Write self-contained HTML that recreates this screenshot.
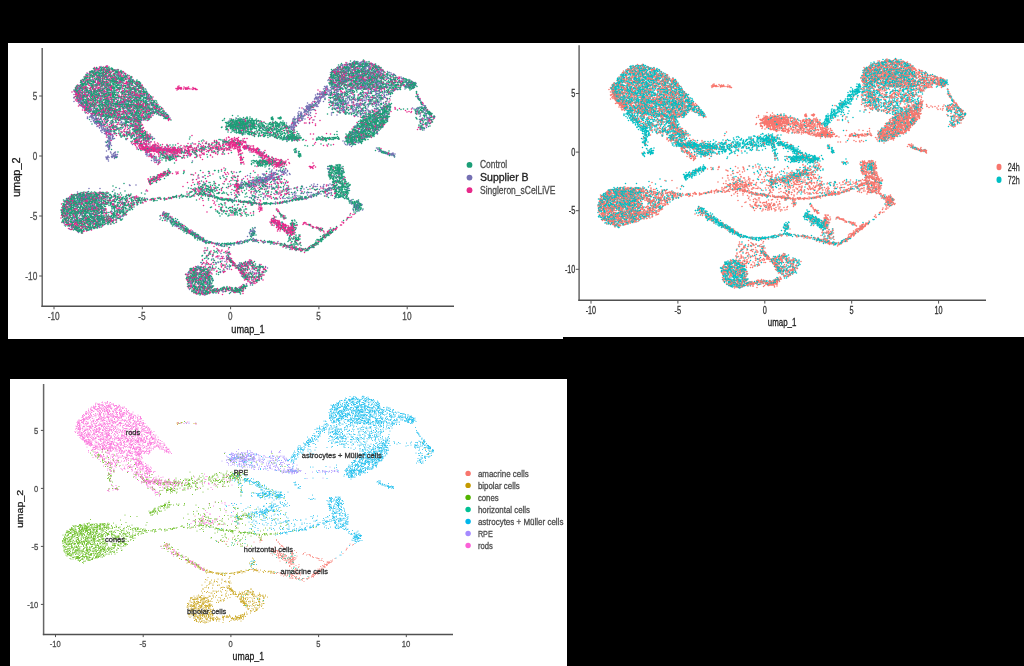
<!DOCTYPE html>
<html><head><meta charset="utf-8"><title>UMAP</title>
<style>html,body{margin:0;padding:0;background:#000;overflow:hidden}svg{display:block;font-family:"Liberation Sans",sans-serif}</style>
</head><body><svg width="1024" height="666" viewBox="0 0 1024 666"><defs><filter id="b1" x="0" y="0" width="2048" height="1332" filterUnits="userSpaceOnUse"><feGaussianBlur stdDeviation=".7"/></filter><filter id="bt" x="0" y="0" width="1024" height="666" filterUnits="userSpaceOnUse"><feGaussianBlur stdDeviation=".3"/></filter><filter id="b3" x="0" y="0" width="2048" height="1332" filterUnits="userSpaceOnUse"><feGaussianBlur stdDeviation=".5"/></filter></defs><rect width="1024" height="666" fill="#000"/><rect x="8" y="43" width="555" height="296" fill="#fff"/>
<rect x="563" y="43" width="461" height="294" fill="#fff"/>
<rect x="10" y="379" width="557" height="287" fill="#fff"/>
<path d="M42.2 48V307.05" stroke="#666" stroke-width="1.5" fill="none"/><path d="M41.45 306.3H454" stroke="#505050" stroke-width="1.5" fill="none"/><path d="M54.0 306.3v3" stroke="#505050" stroke-width="1"/><path d="M142.3 306.3v3" stroke="#505050" stroke-width="1"/><path d="M230.6 306.3v3" stroke="#505050" stroke-width="1"/><path d="M318.9 306.3v3" stroke="#505050" stroke-width="1"/><path d="M407.2 306.3v3" stroke="#505050" stroke-width="1"/><path d="M42.2 96.0h-3" stroke="#505050" stroke-width="1"/><path d="M42.2 156.0h-3" stroke="#505050" stroke-width="1"/><path d="M42.2 216.0h-3" stroke="#505050" stroke-width="1"/><path d="M42.2 276.0h-3" stroke="#505050" stroke-width="1"/>
<g transform="scale(.5)" fill="none" stroke-linecap="round" stroke-width="3.1" opacity="1.0" filter="url(#b1)"><path d="M726 122zm0 1zm2 0zm-14 2zm18 1zm-31 2zm-1 1zm-12 1zm12 1zm33 0zm-26 1zm32 0zm-527 1zm467 1zm-2 1zm-478 1zm-1 1zm-2 2zm472 1zm22 0zm17 0zm25 1zm-502 1zm480 0zm16 0zm5 0zm-494 1zm488 0zm-512 1zm1 0zm468 0zm12 0zm24 0zm-520 1zm24 0zm17 0zm-48 1zm517 0zm28 0zm15 0zm-544 1zm508 0zm-494 1zm478 0zm19 0zm-480 1zm522 0zm-566 1zm24 0zm4 0zm468 0zm75 0zm-584 1zm1 0zm41 0zm462 0zm15 0zm-529 1zm38 0zm9 0zm-23 1zm17 0zm450 0zm78 0zm-535 1zm470 0zm7 0zm18 0zm27 0zm36 0zm-578 1zm7 0zm54 0zm425 0zm44 0zm21 0zm46 0zm-569 1zm2 0zm36 0zm8 0zm491 0zm-541 1zm10 0zm39 0zm468 0zm-521 1zm19 1zm477 0zm72 0zm-540 1zm431 0zm65 0zm-554 1zm27 0zm469 0zm71 0zm7 0zm-551 1zm465 0zm4 0zm86 0zm-586 1zm23 0zm10 0zm28 0zm34 0zm452 0zm12 0zm55 0zm24 0zm-641 1zm36 0zm30 0zm455 0zm109 0zm-562 1zm6 0zm34 0zm408 0zm30 0zm-530 1zm59 0zm13 0zm429 0zm-486 1zm43 0zm12 0zm1 0zm0 0zm28 0zm400 0zm5 0zm27 0zm9 0zm-555 1zm95 0zm505 0zm22 0zm15 0zm23 0zm-629 1zm9 0zm73 0zm386 0zm37 0zm123 0zm-669 1zm57 0zm531 0zm43 0zm-588 1zm15 0zm29 0zm39 0zm442 0zm-555 1zm87 0zm2 0zm27 0zm442 0zm12 0zm60 0zm16 0zm-630 1zm42 0zm481 0zm33 0zm18 0zm-381 1zm-95 1zm92 0zm0 0zm328 0zm9 0zm28 0zm-542 1zm160 0zm13 0zm322 0zm10 0zm2 0zm41 0zm82 0zm-666 1zm18 0zm7 0zm91 0zm78 0zm5 0zm357 0zm3 0zm43 0zm30 0zm-612 1zm10 0zm73 0zm92 0zm5 0zm-148 1zm488 0zm-418 1zm391 0zm85 0zm-539 1zm1 0zm38 0zm530 0zm-639 1zm11 0zm84 0zm0 0zm8 0zm24 0zm374 0zm30 0zm95 0zm-93 1zm-532 1zm28 0zm22 0zm13 0zm66 0zm13 0zm-128 1zm97 1zm12 0zm377 0zm76 0zm-575 1zm29 0zm16 0zm15 0zm6 0zm446 0zm71 0zm-449 1zm353 0zm43 0zm-525 1zm56 0zm45 0zm40 0zm392 0zm-472 1zm45 0zm-107 1zm9 0zm82 1zm53 0zm-147 1zm91 0zm3 0zm2 0zm52 0zm-71 1zm-67 1zm22 0zm12 0zm75 0zm476 0zm15 0zm-604 1zm2 0zm14 0zm15 0zm80 0zm25 0zm388 0zm65 0zm-552 1zm577 0zm-621 1zm43 0zm7 0zm24 0zm5 0zm-70 1zm19 0zm36 0zm80 0zm-135 1zm32 0zm61 0zm404 0zm80 0zm-579 1zm109 0zm9 0zm477 0zm-495 1zm-44 1zm-57 1zm3 0zm114 0zm362 0zm111 0zm23 0zm7 0zm-579 1zm42 0zm67 0zm537 0zm-626 1zm20 0zm468 0zm45 0zm-589 1zm66 0zm58 0zm437 0zm-551 1zm38 0zm9 0zm80 0zm-134 1zm22 0zm42 0zm28 0zm18 0zm19 0zm424 0zm-520 1zm11 0zm43 0zm23 0zm497 0zm-558 1zm34 0zm460 0zm139 0zm-661 1zm436 0zm-411 1zm23 0zm17 0zm28 0zm14 0zm-43 1zm58 0zm383 0zm-512 1zm117 0zm493 0zm-618 1zm0 0zm3 0zm55 0zm28 0zm2 0zm32 0zm1 0zm-103 1zm21 0zm27 0zm7 0zm31 0zm38 0zm354 0zm8 0zm89 0zm-573 1zm83 0zm51 0zm464 0zm1 0zm-620 1zm684 0zm-690 1zm45 0zm0 0zm85 0zm-116 2zm13 0zm11 0zm5 1zm36 0zm18 0zm10 0zm2 0zm5 0zm8 0zm26 0zm1 0zm509 0zm-558 1zm503 0zm4 0zm85 0zm-671 1zm7 1zm53 0zm11 0zm45 0zm15 0zm385 0zm-510 1zm5 0zm64 0zm26 0zm44 0zm-86 1zm0 0zm39 0zm577 0zm-660 1zm117 0zm10 0zm-104 1zm-31 1zm7 0zm68 0zm15 0zm3 0zm576 0zm-644 1zm18 0zm537 0zm-556 1zm23 0zm26 0zm26 0zm7 0zm33 0zm397 0zm-445 1zm45 0zm392 0zm7 0zm2 0zm-494 1zm12 0zm52 0zm323 0zm118 0zm-500 2zm94 0zm440 0zm-520 1zm208 0zm-264 1zm8 0zm381 0zm31 0zm-24 1zm31 0zm215 0zm-546 1zm42 0zm139 0zm126 0zm173 0zm-522 1zm16 0zm246 0zm210 0zm-469 1zm206 0zm33 0zm236 0zm-457 1zm7 0zm201 0zm37 0zm-324 1zm25 0zm256 0zm250 0zm34 0zm-492 2zm209 0zm13 0zm-240 1zm481 0zm-497 1zm1 0zm5 0zm25 0zm194 0zm-252 1zm253 0zm275 0zm-532 1zm67 0zm248 0zm-311 1zm311 0zm-284 2zm229 0zm6 0zm103 0zm-353 1zm6 0zm36 0zm26 0zm194 0zm241 0zm33 0zm-278 1zm2 0zm-205 1zm3 0zm-67 1zm4 0zm26 0zm35 0zm429 0zm36 0zm-491 1zm294 0zm298 0zm-582 1zm14 0zm215 0zm-217 1zm14 0zm4 0zm288 1zm-355 1zm47 0zm4 0zm2 1zm234 1zm81 0zm-305 1zm6 0zm410 0zm-473 1zm527 0zm-244 1zm116 0zm78 0zm13 0zm-469 1zm24 0zm430 0zm-419 1zm439 0zm14 0zm-497 1zm304 0zm-318 1zm358 0zm156 0zm-445 2zm163 1zm19 0zm169 0zm49 0zm48 0zm-480 1zm30 0zm3 0zm282 0zm20 0zm70 0zm-77 1zm-128 1zm23 0zm140 0zm52 0zm23 0zm27 1zm-256 1zm-43 1zm37 0zm10 0zm113 0zm113 0zm-414 1zm163 0zm-172 1zm3 0zm116 0zm77 0zm-204 1zm179 0zm8 0zm23 0zm5 0zm-29 1zm6 0zm5 0zm13 0zm150 0zm-350 1zm19 0zm15 0zm133 0zm12 0zm0 0zm15 0zm1 0zm2 0zm3 0zm-214 1zm7 0zm82 0zm55 0zm2 0zm47 0zm6 0zm11 0zm-208 1zm23 0zm2 0zm166 0zm14 0zm155 0zm-349 1zm2 0zm3 0zm1 0zm4 0zm20 0zm2 0zm13 0zm108 0zm18 0zm9 0zm5 0zm5 0zm2 0zm-181 1zm2 0zm13 0zm147 0zm7 0zm-145 1zm125 0zm16 0zm17 0zm174 0zm-337 1zm27 0zm45 0zm13 0zm1 0zm68 0zm1 0zm1 0zm40 0zm-221 1zm24 0zm7 0zm90 0zm13 0zm0 0zm41 0zm28 0zm-204 1zm22 0zm66 0zm93 0zm31 0zm-181 1zm91 0zm70 0zm-178 1zm13 0zm1 0zm12 0zm69 0zm81 0zm22 0zm19 0zm-233 1zm5 0zm2 0zm4 0zm1 0zm8 0zm4 0zm15 0zm3 0zm78 0zm38 0zm31 0zm17 0zm3 0zm5 0zm12 0zm7 0zm1 0zm-217 1zm1 0zm1 0zm6 0zm1 0zm6 0zm2 0zm2 0zm12 0zm6 0zm3 0zm53 0zm100 0zm5 0zm1 0zm18 0zm-234 1zm0 0zm18 0zm3 0zm1 0zm6 0zm5 0zm25 0zm7 0zm0 0zm3 0zm1 0zm4 0zm4 0zm5 0zm6 0zm7 0zm60 0zm71 0zm4 0zm1 0zm2 0zm-229 1zm6 0zm16 0zm10 0zm1 0zm1 0zm2 0zm5 0zm8 0zm45 0zm24 0zm20 0zm24 0zm-145 1zm36 0zm0 0zm1 0zm3 0zm20 0zm13 0zm27 0zm5 0zm94 0zm1 0zm5 0zm0 0zm5 0zm-218 1zm17 0zm6 0zm33 0zm5 0zm22 0zm98 0zm3 0zm1 0zm31 0zm6 0zm2 0zm-200 1zm5 0zm38 0zm7 0zm34 0zm43 0zm-147 1zm14 0zm26 0zm166 0zm-186 1zm37 0zm47 0zm74 0zm34 0zm6 0zm-196 1zm11 0zm17 0zm22 0zm61 0zm53 0zm32 0zm-164 1zm2 0zm5 0zm15 0zm107 0zm46 0zm-225 1zm14 0zm63 0zm396 0zm-446 2zm9 0zm63 0zm75 0zm41 0zm-193 1zm2 0zm54 0zm40 0zm-103 2zm-14 1zm230 0zm2 0zm-188 1zm-38 1zm230 2zm-2 1zm8 0zm10 0zm6 0zm-81 1zm3 0zm53 0zm2 0zm14 0zm5 0zm-206 1zm192 1zm21 0zm7 0zm-25 1zm3 0zm0 0zm18 0zm-32 1zm3 0zm1 0zm5 0zm1 0zm15 0zm-241 1zm228 0zm4 0zm5 0zm2 0zm0 0zm10 0zm9 0zm-96 1zm33 0zm40 0zm4 0zm11 0zm-48 1zm32 0zm7 0zm1 0zm3 0zm-6 1zm-243 1zm234 0zm3 0zm4 0zm1 1zm0 0zm15 0zm-17 1zm2 0zm-2 1zm-42 1zm36 0zm4 0zm11 0zm54 0zm6 1zm-177 2zm123 1zm-203 4zm139 1zm-177 3zm-3 1zm0 1zm6 0zm93 1zm-98 1zm-8 1zm1 0zm195 0zm-198 1zm148 1zm-59 2zm268 0zm-360 1zm-4 1zm1 1zm-1 1zm3 0zm4 0zm135 0zm102 0zm-250 1zm3 0zm1 0zm197 0zm20 1zm-221 1zm108 1zm109 0zm-222 1zm7 0zm225 0zm-125 1zm123 0zm-155 1zm21 0zm117 0zm-213 2zm146 0zm31 1zm5 0zm-181 1zm171 0zm36 0zm31 0zm-141 1zm7 0zm64 0zm6 0zm0 0zm3 0zm189 1zm-256 1zm-45 1zm55 0zm54 0zm58 0zm-56 1zm-80 1zm78 0zm2 0zm0 0zm22 0zm48 0zm-91 1zm22 0zm60 0zm-109 1zm46 0zm2 0zm111 0zm90 0zm-282 1zm148 0zm12 0zm64 0zm-217 1zm-7 1zm115 0zm-91 1zm23 0zm109 0zm-257 1zm256 0zm9 0zm-83 1zm127 0zm-230 1zm27 0zm38 1zm114 0zm5 0zm4 0zm-398 1zm33 0zm5 0zm300 0zm-314 1zm-10 1zm221 0zm5 0zm-215 1zm17 0zm336 0zm149 0zm-159 2zm133 0zm-482 1zm90 0zm110 0zm43 0zm198 0zm-271 1zm-161 1zm154 0zm-191 1zm3 0zm16 0zm163 0zm105 0zm-288 1zm291 0zm65 0zm-375 1zm4 0zm120 0zm184 0zm118 0zm51 0zm-424 1zm101 0zm32 0zm13 0zm120 0zm-316 1zm43 0zm261 0zm-272 1zm114 0zm16 0zm-85 1zm191 0zm-260 1zm34 0zm2 0zm3 0zm324 0zm-381 1zm7 0zm33 0zm41 0zm365 0zm-92 1zm10 0zm-345 1zm25 0zm80 0zm246 0zm57 0zm-407 1zm11 0zm4 0zm21 0zm23 0zm6 0zm31 0zm12 0zm262 0zm16 0zm28 0zm-429 1zm116 0zm254 0zm19 0zm10 0zm16 0zm-415 1zm3 0zm53 0zm329 0zm12 0zm-389 1zm1 0zm9 0zm326 0zm-249 1zm8 0zm0 0zm266 0zm16 0zm-330 1zm-34 1zm-27 1zm6 0zm3 0zm109 0zm13 0zm-72 1zm76 0zm-85 1zm2 0zm6 0zm62 0zm273 0zm-314 1zm27 0zm11 0zm280 0zm-385 1zm-13 1zm1 0zm73 0zm12 0zm23 0zm-55 1zm18 0zm49 0zm274 0zm-371 1zm16 0zm28 0zm18 0zm308 0zm2 0zm-389 1zm43 0zm283 0zm11 0zm-314 2zm45 1zm1 0zm11 0zm28 1zm227 0zm33 1zm58 0zm-432 1zm107 0zm-6 1zm101 0zm-138 1zm142 1zm129 0zm-141 1zm-88 1zm99 0zm-92 1zm-42 1zm8 0zm15 0zm123 0zm223 0zm136 0zm-513 1zm507 0zm-561 1zm17 0zm184 0zm232 0zm-437 1zm53 0zm12 0zm146 0zm201 0zm-337 1zm20 0zm320 0zm-4 2zm7 0zm-398 1zm11 0zm58 0zm334 0zm-395 1zm31 0zm7 0zm347 0zm3 0zm-418 1zm16 0zm14 0zm386 0zm-326 1zm320 0zm9 0zm10 0zm-12 1zm2 0zm2 0zm1 0zm-399 1zm26 0zm21 0zm349 0zm58 0zm0 0zm-442 1zm9 0zm19 0zm363 0zm-335 1zm329 0zm35 0zm-450 1zm418 0zm14 0zm3 0zm51 0zm-484 1zm68 0zm366 0zm110 0zm-313 1zm223 0zm3 0zm-446 1zm19 0zm38 0zm360 0zm-399 1zm4 0zm393 0zm-1 1zm1 0zm3 0zm2 0zm4 0zm14 0zm-442 1zm12 0zm1 0zm14 0zm18 0zm438 0zm-61 1zm26 0zm44 0zm-486 1zm407 0zm4 0zm9 0zm8 0zm7 0zm54 0zm2 0zm-53 1zm-406 1zm375 0zm19 0zm2 0zm7 0zm-4 1zm-418 1zm12 0zm204 0zm-211 1zm213 0zm200 0zm-426 1zm11 0zm419 0zm71 0zm-76 1zm5 0zm0 0zm63 0zm-265 1zm197 0zm-201 1zm7 0zm192 0zm3 0zm0 0zm4 0zm77 0zm-80 1zm-1 1zm2 2zm-190 2zm1 1zm256 0zm-251 2zm90 7zm-10 2zm51 0zm-52 1zm123 0zm33 2zm-72 1zm66 2zm-190 1zm4 0zm127 1zm8 1zm42 0zm-30 2zm28 0zm9 0zm-216 1zm178 0zm-2 1zm5 1zm0 0zm7 0zm8 0zm-7 1zm2 2zm1 0zm-162 3zm-13 2zm-8 2zm6 2zm32 0zm-1 6zm-1 2zm3 0zm5 3zm1 0zm0 2zm1 0zm32 0zm0 1zm-90 1zm60 0zm24 0zm5 0zm-84 2zm58 1zm-42 1zm41 1zm38 0zm-34 1zm6 0zm11 0zm-5 1zm-77 1zm74 0zm8 0zm1 0zm5 0zm12 0zm8 0zm-105 1zm32 0zm83 0zm-76 1zm26 0zm-2 1zm39 1zm-26 1zm9 0zm-10 2zm-98 1zm-8 1zm2 0zm24 1zm78 0zm-1 1zm4 0zm40 0zm-80 1zm-56 1zm118 1zm-23 1zm24 0zm-114 1zm23 1zm87 0zm-84 3zm65 0zm7 0zm24 0zm-127 1zm103 0zm6 0zm6 0zm1 0zm-121 1zm29 0zm84 1zm-109 2zm19 0zm102 0zm-119 1zm126 1zm-131 1zm9 0zm15 0zm101 0zm-132 1zm1 0zm21 0zm-26 1zm32 0zm2 0zm3 0zm86 1zm-92 1zm3 0zm11 1zm82 0zm-100 1zm107 0zm-128 3zm17 2zm84 0zm6 0zm-114 1zm24 1zm7 1zm12 1zm53 0zm13 0zm-49 1zm12 0zm-55 2zm4 0zm5 0zm44 0zm9 0zm-44 1zm20 1zm27 0zm27 0zm-60 1zm5 0zm24 0zm13 0zm14 0zm-96 1zm64 0zm-50 1zm22 0zm48 0zm-80 1zm4 0zm15 0zm-19 1zm19 0zm-14 2z" stroke="#E7298A"/><path d="M706 126zm-4 1zm16 0zm18 0zm-29 1zm36 0zm-15 1zm3 0zm3 0zm5 0zm-54 1zm44 0zm2 0zm0 1zm-16 2zm10 0zm-47 1zm9 1zm41 0zm18 1zm-48 1zm11 0zm31 0zm-50 1zm66 0zm-552 1zm467 0zm10 0zm35 0zm-483 1zm506 0zm-541 1zm497 0zm22 0zm47 0zm3 1zm-560 1zm10 0zm447 0zm6 0zm16 0zm36 0zm7 0zm5 0zm6 0zm8 0zm-70 1zm4 0zm27 0zm3 0zm1 0zm31 0zm-502 1zm433 0zm0 0zm30 0zm-457 1zm445 0zm10 0zm11 0zm1 0zm67 0zm-545 1zm455 0zm22 1zm73 0zm-121 1zm83 0zm-551 1zm10 0zm24 0zm493 0zm17 0zm2 0zm15 0zm-508 1zm439 0zm38 0zm27 0zm1 0zm-42 2zm22 0zm14 0zm-23 1zm-20 1zm18 0zm-501 1zm27 0zm412 0zm83 0zm-35 1zm25 0zm26 0zm41 0zm2 0zm-112 1zm116 0zm-641 1zm50 1zm454 0zm60 0zm23 0zm44 0zm-556 1zm439 0zm20 0zm1 0zm25 0zm-544 1zm495 0zm9 0zm31 0zm63 0zm-518 1zm430 0zm0 0zm14 0zm21 0zm70 0zm-610 1zm12 0zm521 0zm28 0zm27 0zm46 0zm-68 1zm7 0zm11 1zm40 0zm-129 1zm17 0zm27 0zm22 0zm1 0zm53 0zm20 0zm-653 1zm23 0zm64 0zm563 0zm-586 1zm8 0zm453 0zm69 0zm43 0zm20 0zm3 0zm-673 2zm7 0zm116 0zm418 0zm98 0zm30 0zm5 0zm-610 1zm458 0zm41 0zm15 0zm16 0zm-529 1zm426 0zm77 0zm87 0zm-596 1zm17 0zm503 0zm19 0zm11 0zm-93 1zm10 0zm35 0zm42 0zm-520 1zm24 0zm402 0zm2 0zm48 0zm76 0zm-569 1zm15 0zm27 0zm384 0zm114 0zm62 0zm-611 1zm29 0zm403 0zm4 0zm16 0zm8 0zm4 0zm2 0zm4 0zm2 0zm35 0zm-569 1zm133 0zm-135 1zm501 0zm46 0zm88 0zm-128 1zm43 0zm49 1zm19 0zm-561 1zm497 0zm36 0zm-585 1zm492 0zm53 0zm70 0zm-608 1zm51 0zm447 0zm9 0zm99 0zm-474 1zm345 0zm7 0zm26 0zm54 0zm25 0zm-583 1zm481 0zm1 0zm107 0zm-530 1zm420 0zm7 0zm-507 1zm542 0zm27 0zm17 0zm34 0zm5 0zm-612 1zm479 0zm5 0zm6 0zm39 0zm-471 1zm41 0zm10 0zm388 0zm15 0zm11 0zm-482 1zm445 0zm2 0zm51 0zm-546 1zm488 0zm2 0zm54 0zm27 0zm112 0zm-643 1zm7 0zm1 0zm24 0zm408 0zm12 0zm20 0zm14 0zm28 0zm25 0zm12 0zm24 0zm-537 1zm399 0zm11 0zm54 0zm23 0zm-571 1zm11 0zm472 0zm35 0zm6 0zm23 0zm54 0zm8 0zm3 0zm5 0zm-115 1zm25 0zm32 0zm-484 1zm406 0zm97 0zm-566 1zm60 0zm452 0zm47 0zm35 0zm21 0zm-620 1zm31 0zm71 0zm458 0zm-524 1zm448 0zm72 0zm-555 1zm1 0zm480 0zm52 0zm3 0zm40 0zm42 0zm-626 1zm8 0zm5 0zm14 0zm460 0zm0 0zm55 0zm25 0zm-459 1zm35 0zm372 0zm19 0zm68 0zm-489 1zm368 0zm4 0zm58 0zm66 0zm-586 1zm1 0zm5 0zm438 0zm17 0zm63 0zm9 0zm138 0zm-612 1zm66 0zm420 0zm22 0zm13 0zm-519 1zm48 0zm28 0zm317 0zm69 0zm-446 1zm370 0zm90 0zm4 0zm23 0zm13 0zm-564 1zm560 0zm12 0zm20 0zm-582 1zm16 0zm492 0zm11 0zm3 0zm-552 1zm454 0zm3 0zm146 0zm82 0zm-607 1zm27 0zm350 0zm99 0zm51 0zm-510 1zm356 0zm11 0zm61 0zm-486 1zm72 0zm43 0zm298 0zm2 0zm3 0zm-449 1zm429 0zm122 0zm-535 1zm82 0zm345 0zm60 0zm1 0zm43 0zm-545 1zm66 0zm432 0zm158 0zm-631 1zm37 0zm60 0zm321 0zm97 0zm1 0zm-457 1zm9 0zm442 0zm71 0zm59 0zm-563 1zm338 0zm67 0zm29 0zm-98 1zm0 0zm2 0zm109 0zm7 0zm9 0zm119 0zm0 0zm-678 1zm26 0zm405 0zm226 0zm-657 1zm535 0zm2 0zm136 0zm-595 1zm352 0zm-437 1zm522 0zm138 0zm-614 1zm6 0zm81 0zm455 0zm-547 1zm26 0zm41 0zm38 0zm284 0zm164 0zm-576 2zm108 0zm312 0zm112 0zm1 0zm-450 1zm52 0zm274 0zm129 0zm-511 1zm381 0zm129 0zm-544 1zm145 0zm280 0zm-394 1zm551 0zm-489 1zm329 0zm-429 1zm425 0zm267 0zm-679 1zm8 0zm57 0zm341 0zm-410 1zm7 0zm413 0zm125 1zm-432 1zm307 0zm24 0zm101 0zm22 0zm106 0zm-578 1zm-92 1zm11 0zm7 0zm544 0zm-561 1zm5 0zm6 0zm81 0zm315 0zm-399 1zm26 0zm48 0zm315 0zm256 0zm-649 1zm6 0zm1 0zm535 0zm-536 1zm546 0zm116 0zm-648 1zm65 0zm320 0zm125 0zm29 0zm0 0zm93 0zm15 0zm-652 1zm544 0zm-548 1zm42 1zm272 0zm74 0zm-383 1zm271 0zm259 0zm7 0zm0 0zm-543 2zm384 0zm180 0zm-563 1zm1 0zm378 0zm127 0zm16 0zm41 0zm-40 1zm114 0zm-641 1zm647 0zm-100 1zm-542 1zm7 0zm373 0zm-363 1zm12 0zm9 0zm39 0zm-76 1zm7 0zm5 0zm517 0zm14 0zm-475 1zm11 0zm-76 1zm1 0zm12 0zm325 0zm167 0zm-501 1zm1 0zm505 1zm14 0zm10 0zm-487 1zm-44 1zm7 0zm0 0zm312 0zm171 0zm-443 1zm463 0zm-123 1zm-338 1zm446 0zm-493 1zm12 0zm502 0zm-448 2zm2 0zm-55 1zm48 0zm20 1zm0 0zm430 0zm-508 1zm4 0zm5 0zm38 0zm317 1zm-361 1zm1 0zm9 0zm51 0zm-63 1zm2 0zm359 1zm-307 1zm1 0zm441 0zm-10 2zm2 0zm-490 1zm1 0zm57 0zm1 0zm18 0zm-21 2zm427 0zm13 0zm-6 2zm1 0zm-431 1zm15 0zm409 1zm9 0zm-215 1zm-280 1zm-1 1zm5 0zm83 1zm194 0zm-97 1zm-178 2zm128 0zm150 0zm256 0zm-458 1zm32 0zm61 0zm-39 1zm-131 1zm190 0zm111 0zm-198 1zm11 0zm11 0zm9 0zm41 0zm-99 1zm91 1zm377 0zm-464 1zm40 0zm420 0zm10 0zm-547 1zm10 0zm269 0zm270 0zm-541 1zm541 0zm-1 1zm8 0zm-435 2zm178 0zm265 0zm5 0zm-490 1zm1 1zm2 0zm294 0zm187 1zm4 0zm-564 1zm70 0zm-71 1zm3 0zm8 0zm-9 1zm78 0zm-90 1zm95 0zm17 0zm-13 5zm2 0zm236 1zm-2 1zm126 8zm-12 2zm-3 6zm-89 2zm0 1zm5 0zm93 2zm-120 2zm-4 1zm28 0zm114 0zm-139 1zm32 0zm-51 2zm40 0zm-73 2zm47 0zm19 0zm117 0zm-178 1zm32 1zm-127 1zm141 0zm-25 1zm14 0zm14 0zm-17 1zm-45 1zm42 0zm1 0zm4 0zm9 0zm-24 1zm2 0zm-5 1zm23 0zm1 0zm6 0zm2 0zm2 0zm-24 1zm1 0zm7 0zm-10 1zm3 0zm4 0zm-20 1zm1 1zm14 0zm0 0zm1 0zm8 0zm-38 1zm7 0zm8 1zm10 0zm1 0zm-112 2zm95 0zm177 1zm-198 1zm6 0zm11 0zm25 0zm108 0zm-156 1zm-219 1zm237 0zm10 0zm5 0zm145 0zm30 0zm-184 1zm0 0zm6 0zm138 0zm-173 1zm9 0zm20 0zm125 0zm13 0zm-98 1zm62 0zm42 0zm19 0zm1 0zm-121 1zm-60 1zm-247 1zm309 0zm115 0zm-55 1zm-36 1zm80 0zm-219 1zm260 0zm-269 1zm151 0zm120 0zm-403 1zm-137 2zm49 1zm309 0zm73 1zm-413 1zm8 0zm1 0zm372 1zm73 0zm-164 1zm-304 1zm345 0zm123 0zm-482 1zm517 0zm-492 1zm53 0zm282 0zm25 0zm-365 1zm64 0zm282 0zm173 0zm-528 1zm9 0zm347 0zm76 0zm93 0zm-510 1zm25 0zm306 0zm-333 1zm-20 1zm11 0zm18 0zm105 0zm11 0zm141 0zm135 0zm120 0zm-413 2zm-101 1zm-16 1zm295 0zm54 0zm-341 1zm0 0zm77 0zm328 0zm142 0zm-524 1zm-18 1zm527 0zm-538 1zm-25 2zm35 0zm374 0zm165 0zm-182 1zm191 0zm-568 1zm93 0zm468 0zm8 0zm-447 1zm438 1zm-542 1zm544 0zm1 0zm-1 1zm-586 2zm56 0zm10 0zm515 0zm9 1zm-458 2zm-127 1zm70 1zm-65 2zm37 0zm54 0zm-21 2zm-54 1zm-18 1zm59 1zm143 0zm-207 2zm-7 1zm69 0zm141 0zm-194 1zm26 0zm82 0zm-50 2zm6 1zm20 2zm-51 2zm375 2zm-374 1zm178 0zm-163 1zm-7 1zm14 0zm149 1zm-144 4zm-20 1zm-30 2zm30 2zm15 0zm157 0zm1 0zm-215 4zm0 1zm228 0zm5 1zm1 1zm1 0zm1 0zm1 0zm-218 2zm212 0zm134 1zm1 1zm-120 2zm124 0zm-128 1zm4 0zm0 1zm115 0zm3 0zm-106 4zm-1 2zm2 0zm-8 1zm123 4zm-18 2zm15 0zm4 0zm-102 1zm-3 2zm122 0zm5 0zm-114 1zm107 0zm-103 1zm5 1zm3 0zm27 0zm21 0zm-49 1zm4 0zm15 0zm95 0zm2 0zm-107 1zm0 0zm16 0zm-15 1zm128 1zm-123 2zm175 2zm-6 3zm1 0zm-205 15zm44 0zm-1 4zm-40 1zm46 0zm-8 1zm47 1zm-39 3zm-31 2zm-10 4zm60 0zm-4 1zm-22 2zm1 1zm63 0zm-116 1zm3 1zm99 0zm5 1zm-4 1zm-105 1zm92 0zm-109 4zm57 1zm0 2zm86 0zm-8 1zm-131 1zm12 0zm-7 2zm115 0zm-117 1zm98 1zm-71 1zm65 0zm6 2zm1 0zm4 0zm-100 2zm21 0zm-12 1zm88 0zm32 1zm-104 2zm-23 1zm12 0zm-30 3zm6 2zm25 0zm92 1zm-114 4zm-1 1zm15 3zm-7 1zm24 0zm61 1zm-60 1zm11 0zm3 0zm19 0zm-46 2zm19 0zm51 1zm-85 3zm8 0zm47 0zm-35 1zm4 1z" stroke="#7570B3"/><path d="M727 123zm-11 1zm13 1zm-15 2zm20 0zm5 0zm3 0zm-14 1zm12 0zm-6 1zm5 0zm-2 2zm15 0zm-21 1zm-42 1zm0 0zm5 0zm7 0zm3 0zm20 0zm3 0zm-1 1zm-533 1zm8 0zm10 0zm4 0zm463 0zm8 0zm68 0zm8 0zm-556 1zm2 0zm15 0zm454 0zm68 0zm-52 1zm1 0zm44 0zm-56 1zm57 0zm5 0zm9 0zm9 0zm-548 1zm3 0zm7 0zm470 0zm10 0zm0 0zm12 0zm41 0zm-522 1zm439 0zm31 0zm11 0zm20 0zm7 0zm9 0zm-547 1zm14 0zm450 0zm6 0zm1 0zm11 0zm12 0zm20 0zm5 0zm13 0zm16 0zm11 0zm-575 1zm500 0zm5 0zm23 0zm-491 1zm468 0zm7 0zm24 0zm-50 1zm48 0zm11 0zm12 0zm13 0zm-562 1zm16 0zm20 0zm441 0zm12 0zm2 0zm70 0zm-553 1zm13 0zm446 0zm-476 1zm11 0zm22 0zm15 0zm14 0zm423 0zm19 0zm1 0zm3 0zm31 0zm2 0zm11 0zm17 0zm-506 1zm417 0zm20 0zm53 0zm-541 1zm461 0zm69 0zm18 0zm-568 1zm17 0zm13 0zm17 0zm8 0zm6 0zm457 0zm42 0zm1 0zm34 0zm-590 1zm35 0zm17 0zm21 0zm413 0zm8 0zm15 0zm14 0zm31 0zm19 0zm8 0zm-577 1zm13 0zm2 0zm45 0zm2 0zm412 0zm43 0zm5 0zm5 0zm7 0zm28 0zm-566 1zm29 0zm25 0zm449 0zm21 0zm11 0zm3 0zm31 0zm4 0zm-570 1zm17 0zm16 0zm5 0zm5 0zm1 0zm2 0zm29 0zm418 0zm6 0zm19 0zm18 0zm11 0zm15 0zm2 0zm34 0zm-611 1zm22 0zm29 0zm7 0zm12 0zm433 0zm7 0zm4 0zm1 0zm33 0zm17 0zm0 0zm48 0zm-105 1zm12 0zm25 0zm19 0zm37 0zm-607 1zm10 0zm14 0zm30 0zm17 0zm439 0zm7 0zm5 0zm8 0zm5 0zm1 0zm7 0zm28 0zm11 0zm3 0zm12 0zm15 0zm-566 1zm47 0zm398 0zm16 0zm16 0zm25 0zm1 0zm20 0zm42 0zm32 0zm-636 1zm25 0zm14 0zm18 0zm19 0zm529 0zm2 0zm4 0zm31 0zm-637 1zm3 0zm33 0zm1 0zm13 0zm11 0zm469 0zm2 0zm21 0zm-571 1zm17 0zm1 0zm24 0zm37 0zm6 0zm426 0zm27 0zm5 0zm1 0zm64 0zm18 0zm-602 1zm57 0zm444 0zm5 0zm16 0zm48 0zm1 0zm40 0zm-623 1zm8 0zm5 0zm25 0zm18 0zm4 0zm25 0zm4 0zm1 0zm4 0zm393 0zm21 0zm56 0zm6 0zm18 0zm18 0zm31 0zm12 0zm-635 1zm15 0zm61 0zm9 0zm3 0zm385 0zm19 0zm1 0zm4 0zm7 0zm34 0zm58 0zm24 0zm-648 1zm35 0zm44 0zm15 0zm422 0zm9 0zm56 0zm49 0zm22 0zm11 0zm1 0zm2 0zm-620 1zm34 0zm6 0zm26 0zm389 0zm5 0zm10 0zm75 0zm55 0zm-641 1zm33 0zm2 0zm26 0zm6 0zm430 0zm1 0zm11 0zm0 0zm39 0zm3 0zm1 0zm48 0zm49 0zm17 0zm-665 1zm29 0zm12 0zm19 0zm433 0zm17 0zm1 0zm27 0zm21 0zm26 0zm71 0zm-596 1zm11 0zm17 0zm17 0zm3 0zm0 0zm3 0zm388 0zm5 0zm13 0zm58 0zm72 0zm1 0zm3 0zm3 0zm-656 1zm17 0zm12 0zm33 0zm9 0zm11 0zm15 0zm398 0zm37 0zm56 0zm3 0zm10 0zm8 0zm47 0zm-613 1zm25 0zm33 0zm410 0zm34 0zm37 0zm46 0zm23 0zm2 0zm12 0zm-677 1zm10 0zm22 0zm6 0zm11 0zm16 0zm15 0zm468 0zm51 0zm10 0zm32 0zm8 0zm24 0zm-623 1zm44 0zm31 0zm389 0zm40 0zm23 0zm88 0zm1 0zm8 0zm7 0zm-666 1zm14 0zm3 0zm31 0zm11 0zm15 0zm17 0zm13 0zm0 0zm6 0zm491 0zm48 0zm-665 1zm77 0zm28 0zm423 0zm25 0zm10 0zm48 0zm51 0zm7 0zm-650 1zm5 0zm61 0zm1 0zm453 0zm43 0zm2 0zm2 0zm20 0zm29 0zm38 0zm-656 1zm1 0zm36 0zm20 0zm13 0zm16 0zm11 0zm14 0zm440 0zm9 0zm27 0zm24 0zm-613 1zm1 0zm5 0zm12 0zm56 0zm422 0zm39 0zm40 0zm1 0zm17 0zm27 0zm-590 1zm2 0zm34 0zm27 0zm10 0zm409 0zm48 0zm74 0zm-653 1zm24 0zm10 0zm37 0zm43 0zm12 0zm418 0zm128 0zm-670 1zm14 0zm15 0zm9 0zm15 0zm1 0zm19 0zm38 0zm388 0zm103 0zm33 0zm-629 1zm36 0zm4 0zm5 0zm38 0zm430 0zm68 0zm11 0zm-536 1zm0 0zm31 0zm29 0zm14 0zm2 0zm4 0zm401 0zm53 0zm8 0zm11 0zm68 0zm-679 1zm12 0zm41 0zm11 0zm27 0zm1 0zm10 0zm14 0zm444 0zm50 0zm69 0zm-679 1zm7 0zm16 0zm1 0zm15 0zm28 0zm1 0zm8 0zm31 0zm9 0zm22 0zm377 0zm22 0zm30 0zm21 0zm32 0zm-588 1zm11 0zm21 0zm25 0zm31 0zm13 0zm386 0zm15 0zm1 0zm54 0zm-579 1zm32 0zm7 0zm9 0zm70 0zm0 0zm495 0zm56 0zm-645 1zm23 0zm18 0zm18 0zm27 0zm446 0zm58 0zm-625 1zm23 0zm5 0zm4 0zm11 0zm22 0zm33 0zm3 0zm4 0zm3 0zm36 0zm364 0zm9 0zm9 0zm-522 1zm5 0zm65 0zm44 0zm3 0zm403 0zm32 0zm-551 1zm28 0zm31 0zm51 0zm501 0zm-597 1zm18 0zm9 0zm14 0zm24 0zm11 0zm-80 1zm5 0zm7 0zm15 0zm30 0zm49 0zm27 0zm374 0zm-435 1zm8 0zm29 0zm3 0zm392 0zm32 0zm-537 1zm23 0zm31 0zm8 0zm46 0zm15 0zm429 0zm-557 1zm43 0zm5 0zm3 0zm10 0zm26 0zm24 0zm9 0zm16 0zm363 0zm-461 1zm13 0zm17 0zm34 0zm16 0zm17 0zm364 0zm10 0zm45 0zm-561 1zm5 0zm25 0zm3 0zm24 0zm61 0zm402 0zm30 0zm3 0zm-543 1zm42 0zm9 0zm45 0zm7 0zm382 0zm36 0zm-511 1zm1 0zm16 0zm23 0zm27 0zm8 0zm1 0zm22 0zm3 0zm2 0zm402 0zm23 0zm136 0zm-658 1zm37 0zm17 0zm23 0zm11 0zm7 0zm11 0zm399 0zm34 0zm-533 1zm25 0zm68 0zm27 0zm-112 1zm9 0zm30 0zm20 0zm3 0zm25 0zm406 0zm53 0zm-582 1zm14 0zm17 0zm10 0zm11 0zm2 0zm13 0zm39 0zm486 0zm-576 1zm20 0zm17 0zm23 0zm4 0zm11 0zm11 0zm1 0zm20 0zm8 0zm11 0zm406 0zm135 0zm-652 1zm14 0zm6 0zm1 0zm21 0zm31 0zm10 0zm411 0zm37 0zm-559 1zm12 0zm0 0zm4 0zm11 0zm3 0zm11 0zm54 0zm18 0zm20 0zm450 0zm27 0zm-588 1zm34 0zm11 0zm45 0zm2 0zm3 0zm13 0zm437 0zm-549 1zm3 0zm16 0zm0 0zm9 0zm6 0zm21 0zm8 0zm7 0zm422 0zm14 0zm2 0zm1 0zm64 0zm10 0zm82 0zm-645 1zm37 0zm9 0zm7 0zm-54 1zm6 0zm17 0zm4 0zm37 0zm5 0zm24 0zm6 0zm17 0zm348 0zm7 0zm-500 1zm5 0zm13 0zm10 0zm34 0zm9 0zm33 0zm444 0zm-549 1zm11 0zm50 0zm13 0zm27 0zm0 0zm432 0zm4 0zm13 0zm27 0zm-507 1zm466 0zm13 0zm53 0zm4 0zm-562 1zm19 0zm14 0zm26 0zm3 0zm7 0zm26 0zm473 0zm-536 1zm15 0zm40 0zm14 0zm388 0zm54 0zm-579 1zm36 0zm7 0zm54 0zm38 0zm381 0zm33 0zm26 0zm13 0zm72 0zm14 0zm-656 1zm17 0zm10 0zm24 0zm38 0zm490 0zm0 0zm-593 1zm11 0zm26 0zm13 0zm44 0zm47 0zm363 0zm88 0zm59 0zm9 0zm-654 1zm87 0zm9 0zm20 0zm0 0zm9 0zm7 0zm441 0zm35 0zm-622 1zm26 0zm16 0zm2 0zm59 0zm6 0zm44 0zm356 0zm63 0zm99 0zm-638 1zm33 0zm16 0zm7 0zm15 0zm14 0zm3 0zm18 0zm1 0zm3 0zm358 0zm66 0zm20 0zm-584 1zm16 0zm26 0zm10 0zm62 0zm34 0zm292 0zm60 0zm93 0zm2 0zm2 0zm73 0zm-676 1zm9 0zm9 0zm1 0zm27 0zm76 0zm18 0zm379 0zm21 0zm10 0zm34 0zm-567 1zm20 0zm23 0zm5 0zm35 0zm2 0zm2 0zm1 0zm34 0zm6 0zm380 0zm20 0zm37 0zm17 0zm68 0zm-641 1zm8 0zm5 0zm30 0zm49 0zm13 0zm17 0zm13 0zm349 0zm9 0zm20 0zm24 0zm20 0zm1 0zm16 0zm71 0zm17 0zm-641 1zm5 0zm13 0zm1 0zm25 0zm10 0zm6 0zm15 0zm415 0zm23 0zm7 0zm19 0zm3 0zm0 0zm2 0zm0 0zm3 0zm1 0zm9 0zm-570 1zm66 0zm2 0zm22 0zm1 0zm33 0zm285 0zm90 0zm46 0zm9 0zm20 0zm55 0zm-643 1zm36 0zm3 0zm10 0zm4 0zm54 0zm26 0zm380 0zm43 0zm13 0zm100 0zm-653 1zm2 0zm11 0zm13 0zm6 0zm16 0zm9 0zm5 0zm2 0zm25 0zm443 0zm37 0zm-561 1zm8 0zm26 0zm503 0zm4 0zm97 0zm-654 1zm67 0zm25 0zm2 0zm8 0zm1 0zm408 0zm23 0zm22 0zm18 0zm-590 1zm26 0zm51 0zm37 0zm38 0zm414 0zm31 0zm-531 1zm33 0zm12 0zm207 0zm230 0zm33 0zm4 0zm10 0zm-560 1zm20 0zm18 0zm75 0zm2 0zm4 0zm389 0zm1 0zm46 0zm-538 1zm42 0zm13 0zm183 0zm71 0zm13 0zm192 0zm9 0zm3 0zm-551 1zm22 0zm20 0zm0 0zm17 0zm2 0zm6 0zm22 0zm33 0zm4 0zm159 0zm109 0zm230 0zm-597 1zm28 0zm8 0zm11 0zm14 0zm163 0zm26 0zm18 0zm56 0zm173 0zm3 0zm17 0zm2 0zm79 0zm9 0zm-664 1zm23 0zm67 0zm6 0zm13 0zm179 0zm14 0zm4 0zm2 0zm57 0zm2 0zm186 0zm7 0zm7 0zm5 0zm15 0zm73 0zm27 0zm-634 1zm18 0zm4 0zm88 0zm122 0zm7 0zm13 0zm0 0zm4 0zm58 0zm175 0zm-484 1zm36 0zm10 0zm162 0zm30 0zm20 0zm9 0zm2 0zm11 0zm232 0zm6 0zm13 0zm-493 1zm205 0zm5 0zm13 0zm15 0zm8 0zm45 0zm165 0zm2 0zm24 0zm9 0zm-575 1zm24 0zm17 0zm39 0zm6 0zm195 0zm9 0zm3 0zm5 0zm24 0zm204 0zm33 0zm13 0zm-562 1zm42 0zm12 0zm25 0zm176 0zm17 0zm3 0zm12 0zm14 0zm43 0zm189 0zm10 0zm5 0zm1 0zm2 0zm1 0zm10 0zm1 0zm76 0zm25 0zm-628 1zm219 0zm13 0zm25 0zm1 0zm1 0zm45 0zm7 0zm193 0zm18 0zm13 0zm-309 1zm24 0zm52 0zm10 0zm176 0zm19 0zm5 0zm19 0zm-566 1zm48 0zm2 0zm203 0zm6 0zm8 0zm4 0zm2 0zm0 0zm6 0zm1 0zm1 0zm9 0zm21 0zm31 0zm11 0zm172 0zm10 0zm2 0zm12 0zm9 0zm4 0zm95 0zm-612 1zm224 0zm2 0zm8 0zm3 0zm0 0zm5 0zm1 0zm1 0zm0 0zm1 0zm1 0zm16 0zm1 0zm24 0zm0 0zm23 0zm166 0zm5 0zm8 0zm7 0zm22 0zm1 0zm1 0zm-557 1zm35 0zm19 0zm201 0zm5 0zm7 0zm3 0zm4 0zm8 0zm13 0zm1 0zm8 0zm24 0zm3 0zm197 0zm27 0zm81 0zm-372 1zm10 0zm1 0zm3 0zm0 0zm14 0zm22 0zm20 0zm10 0zm-289 1zm193 0zm1 0zm4 0zm4 0zm7 0zm6 0zm22 0zm6 0zm1 0zm11 0zm48 0zm5 0zm143 0zm7 0zm5 0zm13 0zm2 0zm9 0zm4 0zm-303 1zm23 0zm2 0zm2 0zm1 0zm6 0zm0 0zm13 0zm4 0zm24 0zm28 0zm37 0zm121 0zm6 0zm3 0zm12 0zm0 0zm24 0zm85 0zm-384 1zm0 0zm34 0zm18 0zm5 0zm8 0zm21 0zm25 0zm183 0zm103 0zm-645 1zm12 0zm9 0zm236 0zm13 0zm3 0zm2 0zm1 0zm3 0zm15 0zm21 0zm2 0zm13 0zm11 0zm11 0zm166 0zm3 0zm-501 1zm9 0zm34 0zm168 0zm36 0zm30 0zm31 0zm32 0zm160 0zm19 0zm6 0zm0 0zm3 0zm86 0zm0 0zm-639 1zm35 0zm233 0zm6 0zm3 0zm1 0zm23 0zm25 0zm177 0zm4 0zm18 0zm6 0zm2 0zm103 0zm-608 1zm219 0zm18 0zm12 0zm5 0zm13 0zm6 0zm1 0zm4 0zm42 0zm162 0zm2 0zm8 0zm15 0zm-473 1zm218 0zm0 0zm4 0zm34 0zm11 0zm3 0zm22 0zm159 0zm35 0zm85 0zm-388 1zm1 0zm48 0zm25 0zm27 0zm177 0zm21 0zm2 0zm-484 1zm4 0zm4 0zm3 0zm176 0zm22 0zm3 0zm15 0zm22 0zm9 0zm26 0zm153 0zm5 0zm1 0zm17 0zm1 0zm2 0zm-494 1zm33 0zm197 0zm11 0zm4 0zm3 0zm44 0zm26 0zm29 0zm124 0zm14 0zm1 0zm4 0zm4 0zm26 0zm-484 1zm5 0zm6 0zm179 0zm16 0zm42 0zm38 0zm162 0zm16 0zm4 0zm-488 1zm15 0zm2 0zm207 0zm20 0zm17 0zm38 0zm2 0zm9 0zm15 0zm4 0zm11 0zm120 0zm9 0zm1 0zm16 0zm8 0zm0 0zm-498 1zm206 0zm22 0zm9 0zm224 0zm2 0zm9 0zm13 0zm-475 1zm12 0zm202 0zm31 0zm47 0zm17 0zm-279 1zm237 0zm22 0zm3 0zm7 0zm2 0zm13 0zm130 0zm20 0zm4 0zm17 0zm1 0zm7 0zm0 0zm-472 1zm203 0zm34 0zm15 0zm2 0zm6 0zm29 0zm14 0zm114 0zm0 0zm3 0zm4 0zm13 0zm1 0zm0 0zm-489 1zm43 0zm2 0zm263 0zm48 0zm126 0zm25 0zm0 0zm-469 1zm15 0zm203 0zm54 0zm4 0zm32 0zm10 0zm83 0zm54 0zm24 0zm-446 1zm184 0zm43 0zm3 0zm21 0zm31 0zm10 0zm119 0zm20 0zm15 0zm-456 1zm237 0zm3 0zm4 0zm26 0zm8 0zm8 0zm123 0zm35 0zm6 0zm-220 1zm47 0zm14 0zm120 0zm7 0zm19 0zm12 0zm5 0zm-464 1zm236 0zm23 0zm10 0zm2 0zm21 0zm4 0zm1 0zm0 0zm3 0zm63 0zm61 0zm18 0zm9 0zm8 0zm-463 1zm24 0zm79 0zm177 0zm23 0zm0 0zm1 0zm4 0zm4 0zm1 0zm1 0zm114 0zm2 0zm8 0zm18 0zm9 0zm-458 1zm252 0zm42 0zm11 0zm4 0zm1 0zm52 0zm13 0zm48 0zm25 0zm1 0zm-438 1zm279 0zm8 0zm2 0zm2 0zm1 0zm2 0zm0 0zm1 0zm66 0zm10 0zm35 0zm22 0zm-428 1zm279 0zm5 0zm9 0zm88 0zm45 0zm6 0zm2 0zm-503 1zm50 0zm296 0zm4 0zm13 0zm4 0zm2 0zm38 0zm1 0zm5 0zm11 0zm11 0zm1 0zm47 0zm4 0zm-425 1zm9 0zm270 0zm24 0zm16 0zm29 0zm0 0zm72 0zm23 0zm-289 1zm4 0zm150 0zm9 0zm28 0zm18 0zm52 0zm28 0zm-438 1zm400 0zm2 0zm11 0zm0 0zm3 0zm-444 1zm10 0zm212 0zm218 0zm-435 1zm23 0zm169 0zm-192 1zm176 0zm260 0zm16 0zm-509 1zm219 0zm-156 2zm427 0zm0 0zm-279 1zm218 0zm62 0zm-422 1zm141 0zm7 1zm275 0zm-79 1zm-407 3zm185 0zm91 0zm-2 1zm-60 1zm323 0zm3 0zm-447 1zm108 0zm14 0zm158 0zm-148 1zm36 0zm-167 1zm146 0zm300 0zm-434 1zm18 0zm95 0zm79 0zm74 0zm-221 1zm18 0zm373 0zm-466 1zm53 0zm8 0zm7 0zm13 0zm386 0zm-246 1zm-223 1zm55 0zm417 0zm-445 1zm6 0zm1 0zm136 0zm66 0zm63 0zm171 0zm11 0zm-406 1zm-45 1zm52 0zm143 0zm257 0zm2 0zm-387 1zm136 0zm75 0zm175 0zm-454 1zm26 0zm439 1zm-459 1zm6 0zm22 0zm11 0zm230 0zm182 0zm8 0zm-190 1zm192 0zm-447 1zm16 0zm-26 1zm3 0zm6 0zm0 0zm177 0zm81 0zm-267 2zm6 0zm1 0zm7 0zm18 0zm-26 1zm209 0zm-207 1zm0 1zm1 0zm3 0zm195 0zm4 0zm-30 2zm17 0zm0 0zm9 0zm-36 1zm6 0zm12 0zm3 0zm2 0zm1 0zm11 0zm-22 1zm0 0zm14 1zm4 0zm-19 1zm4 0zm17 0zm30 0zm-53 1zm6 0zm21 0zm8 0zm-28 1zm5 0zm8 0zm4 0zm-55 1zm34 0zm19 0zm8 0zm-11 1zm8 0zm11 0zm127 0zm-159 1zm2 0zm37 0zm6 0zm-40 1zm1 1zm137 0zm2 0zm-96 1zm92 0zm6 0zm-4 1zm18 0zm-6 1zm4 0zm-3 1zm-14 1zm13 0zm-136 1zm118 0zm-95 2zm98 0zm15 0zm6 0zm-342 1zm326 0zm13 0zm2 0zm-236 1zm226 0zm-136 1zm145 0zm1 0zm-311 1zm69 0zm222 0zm6 0zm17 0zm-353 1zm333 0zm0 0zm8 0zm8 0zm-18 1zm6 0zm0 0zm7 0zm-334 1zm337 0zm2 0zm-348 1zm226 0zm112 0zm9 0zm5 0zm-285 2zm260 0zm25 0zm-359 1zm4 0zm83 0zm252 1zm-187 1zm189 0zm-224 1zm92 0zm135 0zm4 0zm3 0zm3 0zm-4 2zm-367 1zm232 0zm123 0zm18 0zm2 0zm-118 1zm97 0zm7 0zm-281 1zm133 0zm10 0zm137 0zm-182 2zm191 0zm-375 1zm226 0zm47 0zm97 0zm-242 1zm-128 1zm380 0zm-380 1zm367 0zm6 0zm-265 1zm93 0zm23 0zm1 0zm148 0zm11 0zm13 0zm-16 1zm11 0zm-244 1zm46 0zm32 0zm167 0zm-304 1zm20 0zm1 0zm72 0zm-61 1zm68 0zm203 0zm-279 1zm17 0zm239 0zm30 0zm-30 1zm-212 1zm12 0zm57 0zm94 0zm0 0zm69 0zm6 0zm2 0zm-291 1zm146 0zm2 0zm123 0zm5 0zm-203 1zm1 0zm196 0zm1 0zm2 0zm1 0zm12 0zm2 0zm-317 1zm13 0zm9 0zm32 0zm104 0zm161 0zm-314 1zm17 0zm17 0zm16 0zm45 0zm45 0zm81 0zm-216 1zm13 0zm14 0zm158 0zm83 0zm-251 1zm16 0zm156 0zm94 0zm1 0zm14 0zm9 0zm-286 1zm1 0zm269 0zm2 0zm-267 1zm76 0zm106 0zm58 0zm19 0zm12 0zm13 0zm-447 1zm166 0zm116 0zm-355 1zm239 0zm9 0zm95 0zm134 0zm38 0zm-309 1zm148 0zm33 0zm45 0zm63 0zm-255 1zm-236 1zm34 0zm68 0zm107 0zm11 0zm7 0zm45 0zm186 0zm42 0zm1 0zm12 0zm1 0zm0 0zm-539 1zm3 0zm19 0zm14 0zm186 0zm56 0zm3 0zm136 0zm64 0zm21 0zm-501 1zm4 0zm7 0zm7 0zm8 0zm24 0zm188 0zm96 0zm42 0zm141 0zm16 0zm-538 1zm3 0zm13 0zm22 0zm221 0zm10 0zm-260 1zm12 0zm3 0zm5 0zm12 0zm6 0zm12 0zm42 0zm125 0zm247 0zm5 0zm52 0zm2 0zm-541 1zm114 0zm109 0zm40 0zm17 0zm266 0zm-532 1zm13 0zm25 0zm1 0zm10 0zm6 0zm155 0zm44 0zm95 0zm94 0zm72 0zm9 0zm-533 1zm42 0zm69 0zm107 0zm50 0zm3 0zm1 0zm147 0zm51 0zm4 0zm59 0zm-491 1zm4 0zm6 0zm0 0zm26 0zm120 0zm35 0zm49 0zm148 0zm7 0zm17 0zm8 0zm69 0zm8 0zm-543 1zm136 0zm156 0zm111 0zm65 0zm62 0zm-531 1zm5 0zm23 0zm33 0zm5 0zm67 0zm13 0zm26 0zm44 0zm241 0zm10 0zm-477 1zm8 0zm35 0zm9 0zm8 0zm113 0zm11 0zm11 0zm77 0zm192 0zm0 0zm5 0zm3 0zm-441 1zm4 0zm52 0zm42 0zm70 0zm108 0zm3 0zm1 0zm1 0zm4 0zm78 0zm8 0zm20 0zm42 0zm97 0zm-535 1zm3 0zm8 0zm2 0zm70 0zm22 0zm333 0zm100 0zm-570 1zm8 0zm5 0zm41 0zm22 0zm1 0zm0 0zm23 0zm6 0zm18 0zm38 0zm2 0zm38 0zm64 0zm53 0zm15 0zm1 0zm15 0zm-347 1zm18 0zm9 0zm40 0zm24 0zm50 0zm0 0zm8 0zm10 0zm19 0zm2 0zm153 0zm2 0zm1 0zm-333 1zm9 0zm22 0zm25 0zm75 0zm170 0zm23 0zm6 0zm3 0zm1 0zm33 0zm69 0zm131 0zm-570 1zm11 0zm37 0zm80 0zm220 0zm13 0zm226 0zm-571 1zm11 0zm20 0zm15 0zm4 0zm370 0zm5 0zm142 0zm1 0zm-568 1zm1 0zm9 0zm2 0zm2 0zm18 0zm11 0zm46 0zm11 0zm240 0zm2 0zm13 0zm5 0zm27 0zm26 0zm6 0zm-412 1zm19 0zm4 0zm1 0zm13 0zm15 0zm34 0zm6 0zm3 0zm21 0zm180 0zm54 0zm4 0zm0 0zm20 0zm3 0zm11 0zm11 0zm156 0zm8 0zm-577 1zm5 0zm5 0zm3 0zm14 0zm4 0zm1 0zm8 0zm1 0zm14 0zm21 0zm6 0zm1 0zm26 0zm194 0zm91 0zm0 0zm7 0zm0 0zm177 0zm-554 1zm23 0zm30 0zm41 0zm-130 1zm30 0zm40 0zm3 0zm66 0zm9 0zm435 0zm-582 1zm10 0zm47 0zm82 0zm443 0zm8 0zm5 0zm-579 1zm25 0zm17 0zm10 0zm12 0zm56 0zm448 0zm3 0zm1 0zm-573 1zm7 0zm30 0zm45 0zm10 0zm-107 1zm28 0zm75 0zm2 0zm13 0zm16 0zm456 0zm1 0zm-584 1zm6 0zm2 0zm12 0zm7 0zm28 0zm14 0zm24 0zm40 0zm443 0zm0 0zm5 0zm2 0zm-587 1zm3 0zm21 0zm17 0zm10 0zm48 0zm15 0zm14 0zm162 0zm32 0zm255 0zm8 0zm-589 1zm41 0zm6 0zm11 0zm4 0zm0 0zm524 0zm9 0zm-593 1zm39 0zm17 0zm12 0zm7 0zm48 0zm465 0zm5 0zm-591 1zm5 0zm6 0zm39 0zm43 0zm5 0zm27 0zm187 0zm48 0zm221 0zm14 0zm-599 1zm6 0zm2 0zm5 0zm20 0zm5 0zm8 0zm5 0zm2 0zm23 0zm56 0zm214 0zm-338 1zm11 0zm2 0zm32 0zm5 0zm1 0zm48 0zm5 0zm8 0zm214 0zm27 0zm-365 1zm14 0zm11 0zm8 0zm20 0zm1 0zm57 0zm22 0zm209 0zm5 0zm8 0zm-345 1zm14 0zm3 0zm1 0zm9 0zm10 0zm17 0zm2 0zm34 0zm7 0zm13 0zm12 0zm189 0zm10 0zm258 0zm6 0zm0 0zm-566 1zm11 0zm4 0zm15 0zm65 0zm-120 1zm31 0zm16 0zm48 0zm486 0zm-573 1zm8 0zm75 0zm17 0zm234 0zm5 0zm-349 1zm11 0zm4 0zm15 0zm2 0zm48 0zm7 0zm16 0zm331 0zm-431 1zm9 0zm0 0zm5 0zm3 0zm3 0zm1 0zm34 0zm20 0zm-72 1zm3 0zm13 0zm23 0zm11 0zm2 0zm5 0zm45 0zm241 0zm87 0zm-397 1zm25 0zm44 0zm99 0zm150 0zm-349 1zm12 0zm48 0zm2 0zm7 0zm32 0zm11 0zm91 0zm228 0zm136 0zm-567 1zm56 0zm2 0zm293 0zm-325 1zm6 0zm7 0zm31 0zm25 0zm16 0zm249 0zm-364 1zm38 0zm6 0zm10 0zm40 0zm-98 1zm9 0zm6 0zm6 0zm44 0zm16 0zm28 0zm99 0zm-208 1zm11 0zm20 0zm32 0zm18 0zm-71 1zm11 0zm31 0zm26 0zm32 0zm337 0zm-433 1zm22 0zm12 0zm2 0zm13 0zm6 0zm4 0zm2 0zm5 0zm-51 1zm17 0zm3 0zm5 0zm11 0zm6 0zm3 0zm23 0zm10 0zm113 0zm1 0zm-204 1zm31 0zm1 0zm20 0zm48 0zm-84 1zm4 0zm26 0zm7 0zm4 0zm7 0zm4 0zm5 0zm5 0zm110 0zm-199 1zm19 0zm1 0zm7 0zm0 0zm9 0zm17 0zm6 0zm8 0zm9 0zm20 0zm114 0zm346 0zm-546 1zm12 0zm8 0zm2 0zm9 0zm3 0zm14 0zm24 0zm5 0zm5 0zm111 0zm-182 1zm12 0zm18 0zm2 0zm2 0zm1 0zm162 0zm4 0zm-211 1zm12 0zm2 0zm4 0zm48 0zm7 0zm128 0zm242 0zm-458 1zm24 0zm22 0zm19 0zm33 0zm-90 1zm10 0zm40 0zm7 0zm-57 1zm21 0zm3 0zm11 0zm17 0zm5 0zm396 0zm-407 1zm9 0zm1 0zm152 0zm5 0zm235 0zm-439 1zm1 0zm71 0zm132 0zm11 0zm-191 1zm25 0zm8 0zm145 0zm15 0zm184 0zm43 0zm-26 1zm23 0zm0 0zm-446 1zm18 0zm5 0zm9 0zm6 0zm20 0zm-47 1zm4 0zm16 0zm25 0zm392 0zm-443 1zm28 0zm31 0zm-59 1zm3 0zm31 0zm402 0zm-400 1zm3 0zm12 0zm178 0zm214 0zm0 0zm38 0zm-454 1zm187 0zm229 0zm51 0zm29 0zm4 0zm-517 1zm0 0zm19 0zm189 1zm219 0zm62 0zm-465 1zm188 0zm202 0zm8 0zm0 0zm6 0zm77 0zm7 0zm5 0zm-511 1zm6 0zm211 0zm207 0zm4 0zm-431 1zm1 0zm1 0zm4 0zm216 0zm-1 1zm203 0zm84 0zm-290 1zm9 0zm121 0zm160 0zm-287 1zm282 0zm0 0zm3 0zm-498 1zm211 0zm13 0zm110 0zm8 0zm-121 1zm122 0zm1 0zm146 0zm6 0zm-269 3zm1 1zm256 0zm-148 1zm91 0zm-201 1zm257 0zm-258 1zm113 0zm-109 1zm203 0zm50 0zm2 0zm2 0zm-252 1zm6 2zm1 0zm172 0zm1 0zm6 0zm-185 1zm5 0zm231 0zm4 0zm1 0zm-236 1zm94 0zm10 0zm1 0zm83 0zm-85 1zm-100 1zm2 0zm228 0zm-220 1zm74 0zm22 0zm12 0zm9 0zm56 0zm51 0zm-147 1zm31 0zm-112 1zm7 0zm54 0zm61 0zm6 0zm-125 1zm39 0zm20 0zm51 0zm-115 1zm18 0zm15 0zm5 0zm3 0zm11 0zm10 0zm79 0zm9 0zm68 0zm-170 1zm140 0zm33 0zm-197 1zm0 0zm156 0zm36 0zm-195 1zm133 0zm3 0zm12 0zm2 0zm44 0zm-59 1zm61 0zm-180 1zm5 0zm115 0zm11 0zm-13 1zm7 1zm16 1zm4 2zm21 1zm-35 1zm17 0zm1 0zm7 0zm1 0zm9 0zm-10 2zm0 0zm5 1zm-8 1zm-167 3zm20 4zm-41 4zm41 1zm-1 2zm6 1zm0 2zm-55 1zm56 2zm48 0zm-73 1zm-34 1zm93 0zm-29 1zm38 0zm-37 1zm44 1zm-19 1zm-2 1zm-1 1zm31 0zm-59 1zm14 0zm29 0zm16 1zm6 0zm-94 1zm27 0zm46 0zm-105 1zm2 0zm110 0zm1 0zm7 0zm-13 1zm7 0zm-131 1zm27 0zm16 0zm11 0zm-39 1zm101 0zm-93 1zm4 0zm80 1zm28 0zm-127 1zm-5 1zm1 0zm2 0zm20 0zm124 0zm-146 1zm97 0zm-94 1zm94 0zm-68 1zm71 1zm-74 1zm88 0zm-15 1zm-97 1zm48 0zm66 0zm-128 1zm31 0zm92 0zm-112 1zm3 0zm16 0zm-24 1zm30 0zm77 0zm17 0zm7 0zm-135 1zm11 0zm24 0zm73 0zm3 0zm30 0zm-139 1zm9 0zm11 0zm13 0zm3 0zm84 0zm4 0zm11 0zm2 0zm-142 1zm8 0zm17 0zm0 0zm110 0zm-132 1zm7 0zm30 0zm3 0zm71 0zm20 0zm-95 1zm-32 1zm42 0zm95 0zm-143 1zm14 0zm4 0zm0 0zm6 0zm-12 1zm18 0zm107 0zm-107 1zm2 0zm10 0zm0 0zm9 0zm89 0zm-139 1zm2 0zm135 0zm-105 1zm102 0zm0 0zm-100 1zm4 0zm1 0zm99 0zm-136 2zm36 1zm-29 1zm31 3zm-28 1zm27 0zm12 0zm-16 1zm9 0zm4 0zm60 0zm-107 1zm12 0zm18 0zm10 0zm-20 1zm7 0zm67 0zm-71 1zm9 0zm13 0zm42 0zm1 0zm16 0zm6 0zm-97 1zm16 0zm2 0zm8 0zm25 0zm39 0zm11 0zm-103 1zm57 0zm2 0zm5 0zm34 0zm-92 1zm7 0zm39 0zm34 0zm-85 1zm48 0zm34 0zm2 0zm3 0zm11 0zm-87 1zm14 0zm7 0zm14 0zm8 0zm32 0zm-64 1zm14 0zm9 0zm40 0zm11 0zm-95 1zm14 0zm73 0zm-84 1zm33 0zm3 0zm7 0zm39 0zm2 0zm-62 1zm6 0zm5 0zm35 0zm-67 1zm87 0zm-83 1zm5 0zm-7 1zm15 1zm1 0z" stroke="#1B9E77"/><path d="M715 123zm10 0zm7 1zm-11 1zm-27 1zm11 0zm3 0zm4 1zm-19 1zm8 0zm44 0zm-47 1zm13 0zm37 0zm-64 1zm33 0zm-18 1zm32 0zm-518 1zm494 0zm13 0zm-19 1zm8 0zm-33 1zm37 0zm7 0zm32 0zm2 0zm3 1zm-57 1zm8 0zm11 0zm-524 1zm515 0zm20 0zm-39 1zm30 1zm0 0zm-524 2zm537 0zm5 0zm-7 1zm-550 1zm577 0zm-566 1zm473 0zm22 0zm27 0zm-531 1zm572 0zm-523 1zm497 0zm4 0zm-531 1zm41 0zm519 0zm-69 1zm9 0zm12 0zm-527 1zm48 0zm482 0zm8 0zm-47 1zm36 0zm13 0zm-554 1zm63 0zm481 0zm0 0zm1 0zm61 0zm6 0zm-59 1zm44 0zm-572 1zm486 1zm23 0zm94 0zm-89 1zm-42 1zm19 0zm17 0zm10 0zm-38 1zm5 0zm24 0zm95 0zm-133 1zm6 0zm13 0zm18 0zm19 0zm19 0zm6 0zm-94 1zm29 0zm9 0zm17 0zm-20 1zm20 0zm8 0zm16 0zm13 0zm35 0zm-128 1zm67 0zm8 0zm8 0zm-542 1zm42 0zm434 0zm8 0zm5 0zm26 0zm5 0zm4 0zm22 0zm70 0zm5 0zm-644 1zm500 0zm42 0zm14 0zm2 0zm13 0zm-530 1zm459 0zm13 0zm110 0zm-562 1zm24 0zm407 0zm3 0zm129 0zm17 0zm6 0zm-99 1zm20 0zm74 0zm6 0zm-629 1zm534 0zm94 0zm-645 1zm499 0zm8 0zm27 0zm63 0zm-495 1zm441 0zm8 0zm64 0zm23 0zm-653 1zm34 0zm560 0zm63 0zm7 0zm-667 1zm26 0zm470 1zm14 0zm1 0zm34 0zm3 0zm8 0zm10 0zm5 0zm54 0zm37 0zm-155 1zm48 0zm3 0zm95 0zm-600 1zm68 0zm374 0zm2 0zm15 0zm44 0zm9 0zm25 0zm6 0zm9 0zm12 0zm52 0zm-614 1zm448 0zm7 0zm27 0zm22 0zm8 0zm50 0zm-93 1zm22 0zm27 0zm22 1zm-589 1zm541 0zm6 0zm24 0zm7 0zm68 0zm-645 1zm512 0zm19 0zm2 0zm100 0zm-611 1zm473 0zm2 1zm91 0zm-537 1zm453 0zm81 0zm9 0zm-610 1zm514 0zm-451 1zm432 0zm118 0zm-602 1zm488 0zm5 0zm84 0zm4 0zm-59 1zm40 0zm-545 1zm117 0zm409 0zm52 0zm-119 1zm10 0zm2 0zm72 0zm-561 1zm103 0zm377 0zm28 0zm4 0zm10 0zm96 0zm59 0zm-191 1zm18 0zm89 0zm-569 1zm93 0zm21 0zm438 0zm-573 1zm17 0zm544 0zm31 1zm-592 1zm38 0zm437 0zm38 0zm7 0zm-428 1zm379 0zm113 0zm22 0zm3 0zm64 0zm1 0zm-549 1zm397 0zm-397 1zm354 0zm37 0zm68 0zm-451 1zm335 0zm69 0zm6 0zm60 0zm-551 1zm53 0zm447 0zm3 0zm27 0zm96 0zm-677 1zm521 0zm-524 1zm16 0zm40 0zm452 0zm32 0zm-403 1zm338 0zm-420 1zm415 0zm52 0zm1 0zm42 0zm16 0zm101 0zm-138 1zm51 0zm-596 1zm4 0zm1 0zm497 0zm4 0zm14 0zm-374 1zm333 0zm36 0zm7 0zm71 0zm-10 1zm-76 1zm8 0zm3 0zm0 0zm7 0zm-512 1zm40 0zm64 0zm346 0zm8 0zm4 0zm38 0zm14 0zm-415 1zm358 0zm46 0zm57 0zm45 0zm-616 1zm66 0zm13 0zm32 0zm342 0zm12 0zm-461 1zm3 0zm70 0zm62 0zm5 0zm380 0zm-511 1zm438 0zm24 0zm-470 1zm3 0zm103 0zm14 0zm419 0zm10 0zm125 0zm-624 1zm7 0zm23 0zm35 0zm343 0zm149 0zm-607 1zm449 0zm7 0zm89 0zm-520 1zm64 0zm50 0zm313 0zm136 0zm80 0zm-227 1zm73 0zm6 0zm-66 1zm78 0zm55 0zm-548 1zm49 0zm363 0zm6 0zm7 0zm114 0zm108 0zm-632 1zm-45 1zm1 0zm46 0zm463 0zm20 0zm2 0zm125 0zm21 0zm-676 1zm52 0zm382 0zm3 0zm108 0zm-491 1zm384 0zm133 0zm-551 1zm57 0zm8 0zm403 0zm77 0zm-416 1zm276 0zm10 0zm5 0zm4 0zm151 0zm-583 1zm48 0zm485 0zm-536 1zm18 0zm393 0zm142 0zm29 0zm4 0zm78 0zm-667 1zm109 0zm439 0zm46 0zm-593 1zm83 0zm54 0zm353 0zm37 0zm37 0zm105 0zm-664 1zm419 0zm13 0zm91 0zm-529 1zm9 0zm413 0zm254 0zm-667 1zm10 0zm39 0zm366 0zm137 0zm-565 1zm90 0zm320 0zm276 0zm3 0zm-676 1zm21 0zm68 1zm15 0zm44 0zm259 0zm-403 1zm391 0zm9 0zm7 0zm138 0zm-549 1zm394 0zm3 0zm2 0zm4 0zm-405 1zm3 0zm51 0zm43 0zm447 0zm107 0zm2 0zm18 0zm-596 1zm340 0zm122 0zm119 0zm17 0zm-676 1zm30 0zm65 0zm-79 1zm22 0zm47 0zm323 0zm-413 1zm61 0zm489 0zm-145 1zm1 0zm259 0zm-619 1zm363 0zm265 0zm-660 1zm82 0zm-80 1zm25 0zm363 0zm175 0zm-559 2zm5 0zm376 0zm159 0zm-536 1zm382 0zm256 0zm-642 1zm52 0zm18 0zm225 0zm56 0zm201 0zm-558 1zm78 0zm184 0zm124 0zm145 0zm20 0zm8 1zm-482 1zm7 0zm300 0zm8 0zm-389 1zm31 0zm3 0zm230 0zm7 0zm114 0zm-377 1zm278 0zm40 1zm212 0zm-155 1zm170 0zm-534 1zm47 0zm10 0zm-56 1zm539 0zm-556 1zm509 2zm12 0zm-506 1zm536 1zm-544 2zm3 0zm9 0zm266 0zm-276 1zm544 0zm-537 1zm7 0zm28 0zm41 0zm-73 1zm489 1zm18 0zm-26 1zm-477 1zm54 0zm23 0zm424 0zm-507 1zm24 0zm22 0zm19 0zm2 0zm19 0zm293 1zm-380 2zm1 0zm6 0zm72 0zm12 0zm415 0zm4 0zm-509 1zm2 0zm487 0zm-435 2zm423 0zm7 0zm2 0zm1 0zm-435 1zm-55 1zm481 0zm-478 2zm1 0zm484 0zm17 0zm-25 1zm8 0zm13 1zm-499 1zm58 0zm10 0zm418 0zm3 0zm-486 1zm44 1zm-46 1zm-3 1zm94 0zm21 3zm-114 1zm2 1zm90 0zm191 0zm-203 1zm14 0zm18 0zm-30 1zm457 0zm-444 2zm-21 1zm82 0zm387 1zm3 1zm4 0zm-537 3zm287 0zm269 0zm-559 1zm67 0zm479 0zm11 0zm-378 1zm-182 1zm7 0zm4 0zm57 0zm-61 1zm549 0zm-438 1zm-110 1zm-16 1zm14 0zm115 0zm-133 1zm22 0zm71 0zm-81 1zm5 0zm-16 1zm91 0zm6 4zm-7 1zm7 0zm-2 1zm5 0zm72 0zm-72 3zm250 2zm97 4zm-4 2zm26 1zm0 0zm-6 3zm-132 3zm142 1zm-10 1zm-112 3zm4 1zm-150 1zm131 0zm109 0zm-120 2zm42 0zm-37 1zm3 0zm2 0zm-4 1zm126 2zm-154 1zm37 0zm-52 1zm17 0zm31 0zm1 0zm-10 1zm3 0zm4 0zm-8 1zm140 0zm-144 1zm6 0zm-6 1zm4 0zm8 0zm-16 1zm3 0zm12 0zm129 0zm-177 1zm12 0zm7 0zm8 0zm4 1zm19 1zm144 0zm-177 1zm13 0zm-38 1zm65 0zm-24 1zm-131 1zm92 1zm24 0zm112 0zm-369 2zm13 0zm251 0zm133 0zm-176 1zm18 1zm-16 1zm25 0zm32 0zm92 0zm40 0zm9 0zm-85 1zm51 0zm-169 1zm136 0zm63 1zm-498 1zm22 0zm310 0zm65 0zm100 0zm23 0zm-297 1zm193 0zm56 0zm-140 2zm150 1zm-16 1zm5 0zm-76 1zm17 0zm25 1zm-1 1zm9 0zm40 0zm-115 2zm59 0zm-451 1zm74 0zm182 0zm114 0zm64 0zm65 0zm-495 1zm425 0zm-375 1zm445 0zm-490 1zm424 0zm105 0zm-531 1zm470 0zm-11 1zm-431 1zm77 0zm263 0zm8 0zm82 0zm-455 1zm86 0zm18 0zm229 0zm66 0zm39 0zm19 0zm48 0zm-534 1zm34 0zm395 0zm45 0zm86 0zm-536 1zm6 0zm4 0zm266 0zm6 0zm26 0zm97 0zm24 0zm-439 1zm12 0zm3 0zm14 0zm427 0zm-396 1zm304 0zm-355 1zm1 0zm65 0zm-73 1zm3 0zm306 0zm-318 1zm13 0zm337 1zm-364 1zm42 0zm379 0zm14 0zm-33 3zm16 0zm-365 1zm533 0zm2 0zm-580 1zm120 0zm-96 1zm41 0zm504 0zm7 0zm7 0zm-560 1zm550 0zm2 0zm-523 1zm-49 2zm27 0zm11 0zm539 0zm-566 4zm46 2zm521 0zm6 0zm-591 1zm70 0zm-40 1zm2 2zm79 0zm-88 1zm6 2zm21 0zm29 0zm-74 1zm9 1zm46 0zm40 0zm91 0zm-132 1zm49 3zm4 0zm95 0zm-3 2zm-192 1zm24 0zm63 0zm95 0zm16 1zm-194 2zm14 0zm33 1zm8 0zm346 0zm-415 1zm206 1zm-152 1zm-35 1zm38 0zm0 0zm372 1zm-349 1zm338 0zm9 0zm-210 2zm-200 1zm-24 1zm78 0zm144 0zm2 1zm201 0zm-407 1zm203 0zm215 2zm5 1zm-63 3zm-122 4zm116 0zm68 0zm-197 1zm136 0zm-124 2zm115 0zm-115 4zm5 0zm1 1zm7 3zm109 4zm0 0zm1 0zm-108 1zm6 0zm0 1zm98 1zm-84 4zm3 0zm116 0zm-69 2zm-40 1zm4 0zm6 0zm-3 1zm42 0zm-21 1zm4 0zm-20 2zm-26 9zm44 4zm-50 2zm33 1zm17 1zm-24 4zm13 5zm13 3zm1 2zm1 1zm36 1zm-62 1zm-4 1zm57 1zm-79 3zm70 0zm2 1zm-87 1zm91 0zm44 1zm-138 2zm142 1zm-142 2zm115 0zm12 0zm-137 1zm24 0zm101 0zm-22 2zm39 2zm-148 2zm26 0zm79 0zm26 0zm-90 1zm95 0zm-106 2zm106 0zm-24 1zm1 0zm8 0zm-10 1zm-76 3zm4 0zm-13 1zm18 0zm-27 1zm-12 1zm14 0zm123 1zm-141 2zm12 1zm31 2zm-39 2zm11 0zm108 0zm-85 1zm-38 1zm125 0zm-106 3zm25 2zm-18 1zm-3 2zm77 1zm-12 4zm-28 2zm-45 2zm34 3zm10 0zm-26 3z" stroke="#7570B3"/><path d="M738 123zm-30 1zm5 0zm1 2zm12 1zm-13 1zm3 0zm24 0zm11 0zm-44 1zm2 1zm15 0zm8 0zm18 1zm1 0zm-31 1zm13 0zm24 0zm-50 1zm1 0zm7 0zm34 0zm-69 1zm16 0zm8 0zm2 0zm7 0zm13 0zm6 0zm7 0zm2 0zm7 0zm1 0zm2 0zm2 0zm-59 1zm9 0zm8 0zm29 0zm11 0zm-71 1zm36 0zm45 0zm-75 1zm13 0zm47 0zm1 0zm-539 1zm469 0zm33 0zm17 0zm28 0zm-92 1zm9 0zm1 0zm3 0zm6 0zm16 0zm13 0zm1 0zm27 0zm-524 1zm15 0zm447 0zm8 0zm42 0zm39 0zm-549 1zm538 0zm10 0zm-570 1zm523 0zm31 0zm3 0zm6 0zm-573 1zm0 0zm11 0zm29 0zm16 0zm3 0zm422 0zm24 0zm40 0zm-545 1zm482 0zm3 0zm2 0zm41 0zm3 0zm35 0zm18 0zm-572 1zm25 0zm12 0zm2 0zm433 0zm55 0zm12 0zm5 0zm38 0zm-597 1zm18 0zm472 0zm21 0zm4 0zm4 0zm56 0zm4 0zm-533 1zm2 0zm453 0zm31 0zm16 0zm-526 1zm8 0zm15 0zm3 0zm460 0zm34 0zm15 0zm28 0zm-585 1zm37 0zm18 0zm426 0zm44 0zm7 0zm1 0zm17 0zm4 0zm20 0zm-573 1zm24 0zm3 0zm7 0zm9 0zm7 0zm435 0zm1 0zm14 0zm22 0zm3 0zm23 0zm6 0zm9 0zm4 0zm24 0zm2 0zm-536 1zm428 0zm5 0zm32 0zm1 0zm62 0zm23 0zm-603 1zm53 0zm421 0zm5 0zm18 0zm18 0zm21 0zm3 0zm10 0zm8 0zm1 0zm-534 1zm1 0zm8 0zm8 0zm24 0zm436 0zm83 0zm-604 1zm2 0zm0 0zm2 0zm23 0zm14 0zm3 0zm30 0zm425 0zm5 0zm31 0zm29 0zm9 0zm-566 1zm5 0zm16 0zm47 0zm416 0zm3 0zm65 0zm35 0zm-584 1zm83 0zm404 0zm25 0zm0 0zm49 0zm38 0zm14 0zm1 0zm-622 1zm19 0zm35 0zm445 0zm7 0zm35 0zm8 0zm5 0zm24 0zm30 0zm-608 1zm25 0zm11 0zm20 0zm30 0zm6 0zm453 0zm-550 1zm20 0zm7 0zm25 0zm25 0zm2 0zm2 0zm430 0zm1 0zm42 0zm11 0zm8 0zm7 0zm44 0zm2 0zm22 0zm-608 1zm22 0zm17 0zm22 0zm406 0zm30 0zm17 0zm7 0zm23 0zm-576 1zm22 0zm25 0zm4 0zm1 0zm7 0zm10 0zm5 0zm14 0zm4 0zm408 0zm2 0zm15 0zm0 0zm7 0zm32 0zm2 0zm0 0zm3 0zm0 0zm11 0zm65 0zm-572 1zm29 0zm6 0zm425 0zm92 0zm1 0zm28 0zm-644 1zm5 0zm49 0zm27 0zm423 0zm4 0zm4 0zm4 0zm2 0zm10 0zm16 0zm37 0zm28 0zm-609 1zm1 0zm20 0zm13 0zm2 0zm3 0zm20 0zm10 0zm422 0zm52 0zm29 0zm8 0zm52 0zm11 0zm-586 1zm23 0zm11 0zm442 0zm15 0zm20 0zm17 0zm-558 1zm15 0zm13 0zm31 0zm20 0zm419 0zm38 0zm3 0zm2 0zm1 0zm8 0zm15 0zm34 0zm15 0zm1 0zm-653 1zm5 0zm12 0zm2 0zm29 0zm53 0zm7 0zm388 0zm3 0zm40 0zm0 0zm123 0zm-663 1zm2 0zm22 0zm15 0zm4 0zm19 0zm40 0zm6 0zm2 0zm8 0zm399 0zm32 0zm21 0zm2 0zm36 0zm14 0zm19 0zm11 0zm0 0zm-642 1zm46 0zm9 0zm28 0zm2 0zm477 0zm3 0zm1 0zm6 0zm2 0zm7 0zm0 0zm13 0zm46 0zm10 0zm5 0zm1 0zm1 0zm-665 1zm7 0zm12 0zm11 0zm11 0zm25 0zm434 0zm42 0zm0 0zm24 0zm76 0zm-641 1zm13 0zm6 0zm7 0zm25 0zm2 0zm16 0zm39 0zm451 0zm2 0zm8 0zm49 0zm17 0zm26 0zm-617 1zm1 0zm29 0zm11 0zm22 0zm402 0zm4 0zm27 0zm15 0zm35 0zm16 0zm39 0zm5 0zm-656 1zm2 0zm70 0zm27 0zm417 0zm39 0zm14 0zm93 0zm4 0zm-655 1zm12 0zm4 0zm26 0zm55 0zm11 0zm5 0zm463 0zm63 0zm15 0zm-661 1zm10 0zm49 0zm31 0zm5 0zm1 0zm482 0zm10 0zm28 0zm6 0zm1 0zm9 0zm21 0zm-657 1zm32 0zm33 0zm5 0zm36 0zm17 0zm398 0zm37 0zm18 0zm24 0zm6 0zm18 0zm28 0zm-657 1zm3 0zm5 0zm9 0zm13 0zm20 0zm4 0zm456 0zm16 0zm10 0zm2 0zm26 0zm7 0zm42 0zm0 0zm16 0zm-633 1zm54 0zm2 0zm5 0zm2 0zm3 0zm0 0zm2 0zm16 0zm29 0zm2 0zm8 0zm14 0zm425 0zm17 0zm48 0zm-582 1zm22 0zm481 0zm17 0zm25 0zm35 0zm19 0zm-630 1zm87 0zm5 0zm0 0zm17 0zm400 0zm-504 1zm45 0zm1 0zm14 0zm40 0zm454 0zm49 0zm-585 1zm94 0zm412 0zm93 0zm-597 1zm2 0zm15 0zm43 0zm10 0zm4 0zm23 0zm1 0zm5 0zm356 0zm50 0zm10 0zm35 0zm-585 1zm44 0zm29 0zm12 0zm5 0zm8 0zm9 0zm15 0zm497 0zm-620 1zm7 0zm28 0zm25 0zm11 0zm434 0zm45 0zm-531 1zm11 0zm15 0zm13 0zm21 0zm24 0zm5 0zm476 0zm40 0zm-626 1zm26 0zm75 0zm13 0zm393 0zm31 0zm-534 1zm5 0zm19 0zm13 0zm14 0zm11 0zm6 0zm6 0zm28 0zm9 0zm11 0zm12 0zm352 0zm-429 1zm53 0zm27 0zm398 0zm-526 1zm4 0zm9 0zm22 0zm23 0zm8 0zm39 0zm415 0zm20 0zm0 0zm19 0zm-566 1zm7 0zm5 0zm29 0zm22 0zm55 0zm465 0zm3 0zm13 0zm-601 1zm2 0zm4 0zm18 0zm21 0zm5 0zm14 0zm3 0zm29 0zm425 0zm35 0zm119 0zm-684 1zm8 0zm27 0zm10 0zm42 0zm434 0zm-517 1zm4 0zm77 0zm4 0zm19 0zm8 0zm5 0zm9 0zm399 0zm29 0zm28 0zm25 0zm-608 1zm18 0zm9 0zm34 0zm7 0zm55 0zm382 0zm85 0zm0 0zm-457 1zm3 0zm10 0zm407 0zm-545 1zm39 0zm55 0zm6 0zm40 0zm-127 1zm119 0zm472 0zm-599 1zm3 0zm17 0zm24 0zm17 0zm458 0zm55 0zm21 0zm-601 1zm91 0zm10 0zm10 0zm3 0zm398 0zm4 0zm-500 1zm1 0zm4 0zm24 0zm9 0zm1 0zm31 0zm16 0zm28 0zm15 0zm372 0zm39 0zm123 0zm-673 1zm24 0zm8 0zm28 0zm29 0zm43 0zm14 0zm368 0zm69 0zm-532 1zm22 0zm6 0zm41 0zm7 0zm15 0zm-145 1zm8 0zm24 0zm3 0zm6 0zm28 0zm19 0zm11 0zm398 0zm15 0zm63 0zm-571 1zm19 0zm7 0zm44 0zm1 0zm5 0zm4 0zm45 0zm8 0zm3 0zm6 0zm348 0zm-478 1zm37 0zm9 0zm23 0zm18 0zm33 0zm374 0zm-512 1zm8 0zm9 0zm54 0zm71 0zm1 0zm326 0zm33 0zm27 0zm72 0zm15 0zm5 0zm60 0zm-670 1zm49 0zm23 0zm7 0zm3 0zm11 0zm9 0zm6 0zm6 0zm7 0zm394 0zm-499 1zm47 0zm14 0zm1 0zm5 0zm42 0zm7 0zm371 0zm69 0zm35 0zm-608 1zm9 0zm17 0zm28 0zm38 0zm7 0zm33 0zm381 0zm-432 1zm4 0zm4 0zm10 0zm7 0zm2 0zm1 0zm13 0zm20 0zm361 0zm6 0zm-464 1zm17 0zm35 0zm4 0zm1 0zm12 0zm5 0zm476 0zm5 0zm5 0zm-601 1zm8 0zm27 0zm23 0zm2 0zm2 0zm33 0zm7 0zm31 0zm3 0zm370 0zm-484 1zm26 0zm49 0zm6 0zm12 0zm477 0zm4 0zm1 0zm-600 1zm45 0zm4 0zm51 0zm17 0zm17 0zm529 0zm-648 1zm1 0zm57 0zm52 0zm25 0zm408 0zm49 0zm59 0zm-665 1zm27 0zm13 0zm1 0zm4 0zm50 0zm23 0zm10 0zm1 0zm1 0zm6 0zm414 0zm1 0zm-545 1zm19 0zm6 0zm10 0zm10 0zm30 0zm5 0zm11 0zm26 0zm5 0zm9 0zm383 0zm72 0zm1 0zm-593 1zm2 0zm35 0zm6 0zm1 0zm3 0zm20 0zm16 0zm42 0zm9 0zm10 0zm449 0zm0 0zm-590 1zm25 0zm23 0zm9 0zm50 0zm28 0zm8 0zm290 0zm79 0zm83 0zm69 0zm8 0zm0 0zm-668 1zm80 0zm5 0zm24 0zm10 0zm540 0zm-654 1zm24 0zm1 0zm22 0zm15 0zm2 0zm7 0zm1 0zm10 0zm9 0zm414 0zm32 0zm3 0zm40 0zm10 0zm-597 1zm28 0zm5 0zm37 0zm13 0zm37 0zm28 0zm445 0zm-586 1zm18 0zm19 0zm7 0zm4 0zm49 0zm10 0zm20 0zm364 0zm69 0zm24 0zm68 0zm-645 1zm11 0zm43 0zm4 0zm14 0zm23 0zm34 0zm345 0zm99 0zm80 0zm15 0zm-641 1zm13 0zm14 0zm54 0zm21 0zm382 0zm21 0zm16 0zm14 0zm12 0zm-583 1zm52 0zm42 0zm479 0zm106 0zm1 0zm-674 1zm17 0zm37 0zm15 0zm0 0zm64 0zm1 0zm389 0zm-514 1zm0 0zm30 0zm2 0zm13 0zm53 0zm4 0zm411 0zm27 0zm3 0zm18 0zm-543 1zm83 0zm34 0zm380 0zm24 0zm8 0zm10 0zm107 0zm-645 1zm14 0zm46 0zm320 0zm143 0zm0 0zm16 0zm3 0zm87 0zm-645 1zm15 0zm9 0zm2 0zm48 0zm54 0zm415 0zm25 0zm-555 1zm17 0zm23 0zm13 0zm1 0zm18 0zm50 0zm389 0zm23 0zm11 0zm2 0zm12 0zm75 0zm19 0zm-666 1zm16 0zm29 0zm3 0zm2 0zm5 0zm13 0zm13 0zm463 0zm13 0zm108 0zm-681 1zm34 0zm4 0zm20 0zm18 0zm7 0zm33 0zm30 0zm230 0zm176 0zm18 0zm6 0zm99 0zm1 0zm-626 1zm11 0zm13 0zm7 0zm213 0zm13 0zm50 0zm15 0zm1 0zm2 0zm185 0zm3 0zm25 0zm85 0zm-658 1zm14 0zm28 0zm85 0zm172 0zm238 0zm10 0zm-554 1zm58 0zm8 0zm16 0zm20 0zm181 0zm36 0zm213 0zm6 0zm8 0zm3 0zm10 0zm7 0zm12 0zm84 0zm3 0zm-624 1zm21 0zm3 0zm14 0zm206 0zm111 0zm138 0zm2 0zm15 0zm3 0zm0 0zm5 0zm7 0zm-519 1zm11 0zm8 0zm1 0zm2 0zm6 0zm230 0zm240 0zm31 0zm79 0zm-586 1zm10 0zm4 0zm200 0zm4 0zm19 0zm2 0zm2 0zm220 0zm7 0zm2 0zm13 0zm112 0zm-665 1zm73 0zm195 0zm40 0zm17 0zm68 0zm134 0zm2 0zm11 0zm2 0zm6 0zm2 0zm13 0zm8 0zm2 0zm-570 1zm17 0zm40 0zm217 0zm17 0zm9 0zm228 0zm3 0zm16 0zm26 0zm95 0zm-663 1zm257 0zm8 0zm24 0zm19 0zm52 0zm208 0zm-502 1zm191 0zm7 0zm8 0zm13 0zm1 0zm15 0zm66 0zm294 0zm-661 1zm61 0zm200 0zm18 0zm15 0zm11 0zm17 0zm2 0zm22 0zm13 0zm174 0zm3 0zm25 0zm4 0zm1 0zm85 0zm-389 1zm10 0zm6 0zm6 0zm0 0zm0 0zm1 0zm6 0zm3 0zm1 0zm10 0zm25 0zm37 0zm151 0zm14 0zm8 0zm20 0zm3 0zm1 0zm1 0zm0 0zm-566 1zm81 0zm188 0zm8 0zm2 0zm1 0zm11 0zm9 0zm6 0zm1 0zm45 0zm7 0zm7 0zm159 0zm8 0zm15 0zm4 0zm12 0zm86 0zm-641 1zm56 0zm5 0zm8 0zm182 0zm2 0zm4 0zm3 0zm1 0zm4 0zm7 0zm4 0zm23 0zm34 0zm174 0zm9 0zm9 0zm1 0zm8 0zm2 0zm101 0zm-592 1zm217 0zm4 0zm0 0zm7 0zm1 0zm11 0zm53 0zm13 0zm12 0zm152 0zm14 0zm4 0zm13 0zm98 0zm-603 1zm22 0zm7 0zm180 0zm3 0zm2 0zm6 0zm1 0zm10 0zm0 0zm5 0zm4 0zm18 0zm20 0zm26 0zm164 0zm23 0zm17 0zm84 0zm-611 1zm37 0zm194 0zm4 0zm21 0zm3 0zm45 0zm2 0zm301 0zm-573 1zm16 0zm183 0zm1 0zm5 0zm4 0zm20 0zm9 0zm3 0zm64 0zm153 0zm3 0zm6 0zm26 0zm84 0zm-568 1zm4 0zm190 0zm4 0zm2 0zm10 0zm3 0zm3 0zm2 0zm9 0zm17 0zm194 0zm2 0zm7 0zm8 0zm14 0zm2 0zm96 0zm-597 1zm29 0zm212 0zm2 0zm35 0zm17 0zm36 0zm144 0zm14 0zm30 0zm1 0zm-519 1zm25 0zm10 0zm182 0zm4 0zm5 0zm5 0zm2 0zm11 0zm52 0zm27 0zm146 0zm11 0zm11 0zm16 0zm-525 1zm30 0zm27 0zm1 0zm168 0zm35 0zm16 0zm7 0zm25 0zm31 0zm10 0zm140 0zm9 0zm27 0zm-515 1zm229 0zm10 0zm9 0zm2 0zm3 0zm40 0zm19 0zm3 0zm8 0zm146 0zm39 0zm-518 1zm38 0zm3 0zm2 0zm2 0zm8 0zm184 0zm23 0zm70 0zm152 0zm7 0zm6 0zm15 0zm3 0zm13 0zm-538 1zm60 0zm220 0zm5 0zm1 0zm1 0zm36 0zm9 0zm24 0zm139 0zm11 0zm2 0zm1 0zm20 0zm100 0zm-631 1zm1 0zm1 0zm62 0zm206 0zm46 0zm4 0zm1 0zm181 0zm11 0zm6 0zm18 0zm0 0zm-541 1zm277 0zm37 0zm21 0zm29 0zm6 0zm132 0zm37 0zm-466 1zm8 0zm250 0zm38 0zm125 0zm23 0zm-483 1zm9 0zm5 0zm211 0zm54 0zm14 0zm16 0zm2 0zm27 0zm130 0zm2 0zm30 0zm5 0zm-492 1zm205 0zm26 0zm11 0zm76 0zm5 0zm128 0zm9 0zm32 0zm-483 1zm25 0zm189 0zm28 0zm15 0zm6 0zm35 0zm146 0zm-438 1zm293 0zm147 0zm3 0zm18 0zm5 0zm-475 1zm16 0zm413 0zm10 0zm3 0zm2 0zm1 0zm10 0zm10 0zm3 0zm9 0zm5 0zm-487 1zm241 0zm13 0zm15 0zm28 0zm34 0zm85 0zm-433 1zm26 0zm10 0zm19 0zm213 0zm71 0zm117 0zm9 0zm8 0zm17 0zm-482 1zm38 0zm219 0zm30 0zm198 0zm10 0zm-192 1zm34 0zm1 0zm1 0zm10 0zm98 0zm17 0zm2 0zm-422 1zm216 0zm20 0zm49 0zm2 0zm1 0zm2 0zm1 0zm91 0zm18 0zm18 0zm7 0zm2 0zm-478 1zm21 0zm33 0zm253 0zm35 0zm112 0zm10 0zm9 0zm6 0zm7 0zm11 0zm-459 1zm13 0zm274 0zm6 0zm7 0zm1 0zm1 0zm5 0zm13 0zm38 0zm32 0zm32 0zm8 0zm7 0zm5 0zm2 0zm5 0zm-445 1zm14 0zm272 0zm8 0zm4 0zm6 0zm4 0zm0 0zm7 0zm52 0zm15 0zm33 0zm19 0zm2 0zm-422 1zm8 0zm249 0zm18 0zm3 0zm1 0zm3 0zm9 0zm62 0zm2 0zm1 0zm40 0zm10 0zm6 0zm8 0zm7 0zm-457 1zm19 0zm273 0zm7 0zm12 0zm15 0zm2 0zm48 0zm1 0zm7 0zm5 0zm20 0zm27 0zm6 0zm-438 1zm298 0zm13 0zm2 0zm0 0zm7 0zm3 0zm39 0zm8 0zm22 0zm3 0zm33 0zm5 0zm12 0zm7 0zm2 0zm-439 1zm278 0zm21 0zm114 0zm-422 1zm423 0zm16 0zm-499 1zm366 0zm68 0zm54 0zm-491 1zm218 0zm20 0zm251 0zm21 0zm-245 1zm225 0zm5 0zm13 0zm-425 1zm158 0zm244 0zm14 0zm-268 2zm12 0zm15 0zm-55 1zm239 0zm44 1zm-393 2zm65 1zm1 0zm52 0zm22 0zm44 2zm-173 1zm61 0zm13 0zm43 0zm-120 1zm-5 2zm36 0zm2 0zm1 0zm99 0zm6 0zm135 0zm-367 1zm54 0zm23 0zm86 0zm205 0zm169 0zm-172 1zm174 0zm-480 1zm17 0zm12 0zm63 0zm17 0zm25 0zm-115 1zm103 0zm189 0zm-294 1zm17 0zm58 0zm20 0zm6 0zm365 0zm-446 1zm57 0zm-28 1zm4 0zm238 0zm-154 1zm332 0zm-419 1zm249 0zm-206 1zm57 0zm151 0zm179 0zm1 0zm-456 1zm156 0zm299 0zm4 0zm-264 1zm-172 3zm4 0zm3 0zm-16 1zm1 0zm36 0zm18 0zm22 0zm-79 1zm208 0zm-208 1zm4 0zm5 1zm189 1zm-194 2zm185 0zm38 0zm-57 1zm14 0zm2 0zm-13 1zm3 0zm17 0zm-18 1zm14 0zm3 0zm5 0zm3 0zm1 0zm-21 1zm6 0zm2 0zm7 0zm-6 2zm10 0zm3 0zm1 0zm1 0zm-25 1zm16 0zm34 0zm-23 1zm17 0zm-16 1zm-22 1zm3 0zm151 0zm4 0zm-163 1zm8 0zm-14 1zm35 0zm130 0zm-19 1zm14 0zm16 0zm-156 1zm28 0zm106 0zm-101 1zm98 1zm8 0zm6 1zm7 0zm-345 1zm230 0zm94 1zm17 0zm2 0zm-3 1zm-240 1zm223 0zm6 0zm13 0zm0 0zm-122 1zm-219 1zm1 0zm78 0zm64 0zm52 0zm150 0zm1 0zm-21 1zm-333 1zm328 0zm16 0zm4 0zm1 0zm-4 1zm-345 1zm135 0zm212 0zm2 1zm4 0zm2 0zm-7 1zm-363 1zm346 0zm22 0zm-15 1zm15 0zm1 0zm-141 1zm115 0zm6 0zm0 0zm-356 1zm6 0zm250 0zm104 0zm-155 1zm147 0zm19 0zm0 0zm-17 1zm5 0zm17 0zm-365 1zm191 0zm158 0zm4 0zm16 0zm-375 1zm98 0zm104 0zm150 0zm17 0zm2 0zm1 0zm-137 1zm119 1zm23 0zm-16 1zm12 0zm-388 1zm172 0zm32 0zm10 0zm21 0zm157 0zm-23 1zm-355 1zm162 0zm206 0zm-8 1zm6 0zm11 0zm-271 1zm137 1zm133 0zm4 0zm-205 1zm182 0zm11 0zm0 0zm9 0zm-294 1zm33 0zm123 0zm137 0zm-213 1zm11 0zm12 0zm168 0zm-228 1zm118 0zm111 0zm27 0zm3 0zm-179 1zm7 0zm-299 1zm249 0zm24 0zm33 0zm136 0zm2 0zm-256 1zm84 0zm179 0zm-276 1zm86 0zm74 0zm16 0zm108 0zm3 0zm-282 1zm29 0zm42 0zm42 0zm37 0zm6 0zm104 0zm-180 1zm36 0zm160 0zm-179 1zm43 0zm1 0zm77 0zm58 0zm13 0zm-283 1zm31 0zm34 0zm67 0zm103 0zm12 0zm10 0zm4 0zm-245 1zm46 0zm32 0zm110 0zm51 0zm25 0zm-304 1zm19 0zm224 0zm22 0zm28 0zm-292 1zm15 0zm15 0zm280 0zm-296 1zm21 0zm86 0zm27 0zm27 0zm88 0zm-138 1zm40 0zm87 0zm29 0zm4 0zm4 0zm1 0zm-511 1zm213 0zm11 0zm83 0zm27 0zm50 0zm84 0zm13 0zm21 0zm2 0zm5 0zm9 0zm1 0zm6 0zm-527 1zm5 0zm20 0zm14 0zm2 0zm5 0zm187 0zm10 0zm10 0zm18 0zm25 0zm23 0zm132 0zm60 0zm-491 1zm0 0zm55 0zm205 0zm3 0zm44 0zm15 0zm47 0zm115 0zm16 0zm7 0zm-516 1zm232 0zm35 0zm-264 1zm28 0zm54 0zm112 0zm21 0zm4 0zm236 0zm36 0zm-522 1zm0 0zm19 0zm195 0zm42 0zm50 0zm87 0zm36 0zm51 0zm47 0zm4 0zm-526 1zm7 0zm26 0zm4 0zm5 0zm222 0zm61 0zm39 0zm51 0zm107 0zm-533 1zm30 0zm21 0zm35 0zm25 0zm143 0zm32 0zm77 0zm-343 1zm8 0zm3 0zm5 0zm2 0zm33 0zm1 0zm16 0zm188 0zm54 0zm199 0zm8 0zm-535 1zm12 0zm13 0zm3 0zm7 0zm8 0zm0 0zm4 0zm17 0zm42 0zm100 0zm22 0zm51 0zm70 0zm118 0zm42 0zm30 0zm8 0zm2 0zm-531 1zm6 0zm10 0zm35 0zm22 0zm128 0zm61 0zm8 0zm57 0zm122 0zm-458 1zm8 0zm2 0zm5 0zm1 0zm28 0zm22 0zm25 0zm102 0zm55 0zm69 0zm146 0zm60 0zm15 0zm-549 1zm6 0zm7 0zm0 0zm10 0zm1 0zm12 0zm5 0zm10 0zm5 0zm3 0zm13 0zm21 0zm7 0zm12 0zm13 0zm5 0zm157 0zm8 0zm161 0zm5 0zm0 0zm-467 1zm10 0zm26 0zm5 0zm29 0zm29 0zm8 0zm5 0zm4 0zm199 0zm101 0zm-404 1zm16 0zm10 0zm1 0zm29 0zm15 0zm26 0zm37 0zm20 0zm18 0zm-154 1zm4 0zm14 0zm3 0zm3 0zm43 0zm54 0zm2 0zm5 0zm149 0zm146 0zm-457 1zm7 0zm30 0zm9 0zm20 0zm30 0zm23 0zm3 0zm34 0zm128 0zm44 0zm1 0zm3 0zm41 0zm80 0zm5 0zm6 0zm120 0zm-558 1zm4 0zm10 0zm14 0zm6 0zm17 0zm10 0zm31 0zm16 0zm198 0zm16 0zm103 0zm-425 1zm5 0zm30 0zm6 0zm3 0zm23 0zm50 0zm188 0zm5 0zm229 0zm-566 1zm9 0zm1 0zm8 0zm22 0zm3 0zm4 0zm1 0zm3 0zm1 0zm16 0zm11 0zm18 0zm2 0zm255 0zm86 0zm1 0zm6 0zm-449 1zm10 0zm3 0zm8 0zm15 0zm7 0zm104 0zm289 0zm6 0zm134 0zm-570 1zm17 0zm23 0zm0 0zm39 0zm2 0zm5 0zm15 0zm265 0zm57 0zm5 0zm2 0zm138 0zm5 0zm1 0zm-571 1zm32 0zm8 0zm18 0zm41 0zm11 0zm25 0zm224 0zm8 0zm5 0zm32 0zm18 0zm138 0zm11 0zm1 0zm-583 1zm28 0zm8 0zm11 0zm22 0zm66 0zm247 0zm32 0zm-408 1zm40 0zm2 0zm27 0zm4 0zm2 0zm57 0zm274 0zm11 0zm170 0zm1 0zm-590 1zm4 0zm5 0zm6 0zm5 0zm28 0zm9 0zm15 0zm44 0zm27 0zm163 0zm-308 1zm22 0zm10 0zm18 0zm0 0zm13 0zm41 0zm216 0zm265 0zm5 0zm1 0zm-595 1zm48 0zm20 0zm24 0zm35 0zm3 0zm466 0zm-596 1zm1 0zm2 0zm13 0zm52 0zm0 0zm5 0zm2 0zm1 0zm22 0zm492 0zm-566 1zm47 0zm7 0zm7 0zm12 0zm1 0zm15 0zm471 0zm-584 1zm28 0zm24 0zm3 0zm46 0zm1 0zm3 0zm9 0zm-116 1zm20 0zm11 0zm31 0zm78 0zm179 0zm21 0zm251 0zm3 0zm1 0zm-576 1zm3 0zm20 0zm7 0zm3 0zm2 0zm7 0zm21 0zm18 0zm5 0zm14 0zm222 0zm246 0zm11 0zm-582 1zm43 0zm11 0zm-69 1zm3 0zm10 0zm51 0zm7 0zm14 0zm42 0zm189 0zm-315 1zm17 0zm26 0zm17 0zm13 0zm41 0zm25 0zm451 0zm5 0zm-594 1zm3 0zm27 0zm23 0zm17 0zm32 0zm31 0zm-136 1zm11 0zm50 0zm2 0zm1 0zm20 0zm269 0zm-354 1zm46 0zm29 0zm5 0zm229 0zm-306 1zm33 0zm5 0zm8 0zm6 0zm44 0zm232 0zm102 0zm-421 1zm20 0zm13 0zm19 0zm14 0zm42 0zm10 0zm221 0zm-345 1zm14 0zm18 0zm44 0zm11 0zm23 0zm0 0zm13 0zm-95 1zm15 0zm5 0zm1 0zm34 0zm15 0zm19 0zm2 0zm78 0zm164 0zm-338 1zm14 0zm0 0zm26 0zm5 0zm7 0zm29 0zm8 0zm7 0zm3 0zm75 0zm8 0zm146 0zm-346 1zm14 0zm22 0zm9 0zm274 0zm107 0zm-435 1zm9 0zm1 0zm49 0zm8 0zm34 0zm3 0zm-105 1zm2 0zm7 0zm37 0zm0 0zm43 0zm12 0zm3 0zm24 0zm76 0zm235 0zm-335 1zm0 0zm9 0zm-106 1zm60 0zm7 0zm122 0zm120 0zm-220 1zm113 0zm-192 1zm5 0zm4 0zm21 0zm5 0zm10 0zm1 0zm362 0zm3 0zm-410 1zm3 0zm50 0zm14 0zm132 0zm-176 1zm2 0zm7 0zm1 0zm4 0zm42 0zm5 0zm11 0zm3 0zm82 0zm373 0zm-562 1zm20 0zm10 0zm1 0zm3 0zm10 0zm29 0zm7 0zm6 0zm-90 1zm25 0zm46 0zm1 0zm7 0zm486 0zm-563 1zm11 0zm23 0zm7 0zm9 0zm16 0zm-64 1zm10 0zm27 0zm6 0zm11 0zm28 0zm-36 1zm4 0zm7 0zm12 0zm123 0zm259 0zm-450 1zm15 0zm41 0zm0 0zm353 0zm-405 1zm22 0zm24 0zm33 0zm128 0zm6 0zm-219 1zm11 0zm15 0zm37 0zm30 0zm127 0zm212 0zm-427 1zm32 0zm12 0zm25 0zm-69 1zm6 0zm26 0zm12 0zm26 0zm-72 1zm2 0zm24 0zm11 0zm44 0zm12 0zm131 0zm-200 1zm10 0zm6 0zm21 0zm150 0zm-214 1zm16 0zm29 0zm16 0zm4 0zm159 0zm1 0zm-213 1zm19 0zm18 0zm23 0zm1 0zm150 0zm8 0zm226 0zm-438 1zm34 0zm9 0zm369 0zm-419 1zm3 0zm210 0zm226 0zm-436 1zm5 0zm20 0zm2 0zm16 0zm7 0zm476 0zm-530 1zm38 0zm3 0zm4 0zm12 0zm-48 1zm23 0zm2 0zm399 0zm2 0zm-429 1zm1 0zm31 0zm11 0zm171 0zm222 0zm7 0zm-22 1zm-421 1zm4 0zm21 0zm5 0zm197 0zm194 0zm98 0zm-517 1zm10 0zm2 0zm4 0zm16 0zm318 0zm161 0zm-515 1zm12 0zm214 0zm212 0zm-429 1zm215 0zm2 0zm214 0zm-217 1zm214 0zm2 0zm-427 1zm4 0zm346 0zm-346 1zm211 0zm3 0zm4 0zm279 0zm-83 1zm13 0zm67 0zm-274 1zm8 0zm271 0zm-281 1zm127 0zm-119 1zm268 0zm-272 1zm3 0zm260 0zm7 0zm1 0zm-268 1zm120 0zm84 0zm62 0zm-263 1zm0 0zm255 0zm0 1zm7 0zm-264 1zm2 2zm254 0zm6 0zm-254 1zm5 0zm5 0zm180 0zm-189 1zm2 0zm188 0zm-87 1zm86 0zm13 0zm44 0zm1 0zm-238 1zm227 0zm12 0zm-246 1zm7 0zm89 0zm3 0zm5 0zm6 0zm85 0zm-189 1zm105 0zm129 0zm-234 1zm3 0zm3 0zm82 0zm16 0zm28 1zm105 0zm-224 1zm1 0zm2 0zm66 0zm60 0zm35 0zm-66 1zm27 0zm88 0zm-213 1zm16 0zm43 0zm114 0zm39 0zm4 0zm1 0zm-205 1zm3 0zm10 0zm5 0zm16 0zm11 0zm2 0zm66 0zm12 0zm13 0zm-111 1zm3 0zm-7 1zm14 1zm102 0zm56 0zm0 0zm4 0zm-68 1zm14 0zm26 0zm20 0zm-173 1zm140 3zm-17 1zm17 0zm11 0zm-9 1zm12 0zm8 0zm8 0zm-29 2zm-155 1zm-25 1zm18 0zm188 0zm-206 5zm8 1zm39 5zm1 3zm-2 3zm-15 5zm21 0zm-1 1zm2 0zm0 0zm1 0zm36 1zm-20 1zm-10 2zm30 0zm-86 1zm31 1zm20 0zm-40 2zm36 0zm53 1zm-120 1zm3 0zm4 0zm116 0zm-92 1zm70 0zm-99 1zm-10 1zm12 0zm2 0zm80 0zm48 0zm-148 1zm3 0zm30 0zm2 0zm-7 1zm101 0zm9 0zm10 0zm-133 1zm10 0zm1 0zm3 0zm10 0zm9 0zm51 0zm4 0zm32 0zm-131 1zm7 0zm13 0zm12 0zm99 0zm-129 1zm0 0zm5 0zm-13 1zm71 0zm33 1zm44 0zm4 0zm-152 1zm59 0zm-56 1zm7 0zm4 0zm0 0zm1 0zm89 0zm23 0zm-122 1zm-5 1zm18 0zm91 0zm9 0zm-125 1zm117 1zm4 0zm-102 1zm17 0zm14 0zm-18 1zm-25 1zm32 0zm1 0zm6 0zm2 0zm81 0zm19 0zm4 0zm-149 1zm12 0zm1 0zm3 0zm120 0zm-136 1zm10 0zm24 0zm4 0zm92 0zm-90 1zm-41 1zm4 0zm12 0zm13 0zm9 0zm-10 1zm4 0zm3 0zm95 0zm-118 1zm108 0zm-108 1zm31 0zm82 0zm-72 1zm-48 1zm15 0zm0 0zm4 0zm28 0zm-39 1zm34 0zm-21 1zm4 0zm17 0zm-35 1zm119 0zm-127 1zm29 0zm-23 1zm32 0zm-40 1zm29 0zm12 0zm6 0zm-18 1zm2 0zm-18 1zm19 0zm2 0zm-3 1zm-29 1zm7 0zm110 0zm0 0zm-104 1zm25 0zm-26 1zm4 0zm11 0zm2 0zm10 0zm66 0zm5 0zm4 0zm-29 1zm-47 1zm29 0zm10 0zm-63 1zm21 0zm37 0zm6 0zm3 0zm6 0zm6 0zm1 0zm0 0zm-27 1zm-50 1zm22 0zm62 0zm-94 1zm30 0zm0 0zm10 0zm3 0zm46 0zm1 0zm2 0zm-75 1zm27 0zm1 0zm3 0zm33 0zm3 0zm-77 1zm12 0zm21 0zm15 0zm0 0zm40 0zm-67 1zm0 0zm2 0zm4 0zm7 0zm26 0zm-44 1zm25 0zm41 0zm-85 1zm30 0zm50 0zm11 0zm-73 1zm10 1zm43 0z" stroke="#1B9E77"/><path d="M742 126zm-33 1zm30 0zm-41 1zm22 0zm23 0zm-23 1zm29 0zm-6 3zm3 0zm1 0zm1 1zm-541 1zm540 0zm-558 1zm496 0zm-476 2zm509 0zm-524 1zm515 0zm-473 1zm442 0zm5 0zm2 0zm13 0zm12 0zm54 0zm-576 1zm3 0zm2 0zm25 0zm0 0zm9 0zm3 0zm475 0zm23 0zm-538 3zm28 0zm-39 1zm501 0zm22 0zm12 0zm0 0zm16 0zm-513 1zm2 0zm444 0zm14 0zm8 0zm19 0zm3 0zm0 0zm52 0zm-585 1zm19 0zm13 0zm470 0zm3 0zm9 0zm73 0zm-581 1zm6 0zm27 0zm14 0zm0 0zm11 0zm5 0zm490 1zm9 0zm-549 1zm36 0zm503 0zm-35 1zm24 1zm-546 1zm30 0zm2 0zm32 0zm4 0zm3 0zm12 0zm424 0zm33 0zm-521 1zm22 0zm2 0zm481 0zm23 0zm1 0zm-553 1zm94 0zm456 0zm18 0zm-516 1zm6 0zm15 0zm491 0zm-478 1zm0 0zm479 0zm60 0zm-591 1zm30 0zm445 0zm60 0zm-531 1zm27 0zm458 0zm36 0zm12 0zm-80 1zm5 0zm17 0zm-496 1zm45 0zm17 0zm9 0zm404 0zm10 0zm-412 1zm403 0zm16 0zm13 0zm46 0zm-480 1zm403 0zm61 0zm0 0zm15 0zm48 0zm17 0zm-124 1zm25 0zm8 0zm92 0zm21 0zm-592 1zm12 0zm421 0zm-496 1zm27 0zm42 0zm37 0zm465 0zm-528 1zm48 0zm0 0zm436 0zm-442 1zm425 0zm73 0zm32 0zm-99 1zm-519 1zm37 0zm9 0zm3 0zm49 0zm426 0zm9 0zm23 0zm26 0zm79 0zm-666 1zm45 0zm53 0zm418 0zm39 0zm87 0zm6 0zm-648 1zm62 0zm23 0zm468 0zm82 0zm-523 1zm85 0zm338 1zm3 0zm8 0zm-32 1zm48 0zm78 0zm-650 1zm32 0zm37 0zm67 0zm488 0zm-537 1zm27 0zm0 0zm13 0zm9 0zm68 0zm4 0zm2 0zm341 0zm20 0zm-566 1zm67 0zm132 0zm17 0zm4 0zm15 0zm276 0zm66 0zm20 0zm10 0zm-610 1zm21 0zm16 0zm28 0zm153 0zm3 0zm1 0zm9 0zm345 0zm21 0zm1 0zm2 0zm-533 1zm17 0zm39 0zm110 0zm8 0zm338 0zm37 0zm15 0zm5 0zm-616 1zm463 0zm-454 1zm10 0zm55 0zm7 0zm-7 1zm8 0zm15 0zm8 0zm-121 1zm49 0zm6 0zm71 0zm-130 1zm11 0zm1 0zm4 0zm15 0zm18 0zm51 0zm3 0zm11 0zm-116 1zm7 0zm85 0zm26 0zm416 0zm19 0zm26 0zm4 0zm-507 1zm64 0zm-133 1zm41 0zm8 0zm62 0zm472 0zm-584 1zm5 0zm28 0zm479 0zm-453 1zm41 0zm16 0zm5 0zm428 0zm-434 1zm15 0zm5 0zm382 0zm-517 1zm2 0zm16 0zm19 0zm3 0zm80 0zm487 0zm-557 1zm2 0zm28 0zm6 0zm-85 1zm13 0zm68 0zm22 0zm36 0zm-106 1zm3 0zm48 0zm64 0zm439 0zm-586 1zm38 0zm17 0zm426 0zm-485 1zm141 0zm-133 1zm131 0zm6 0zm334 0zm131 0zm-610 1zm31 0zm46 0zm479 0zm-554 1zm52 0zm1 0zm497 0zm-524 1zm32 0zm90 0zm437 0zm-525 1zm35 0zm5 0zm1 0zm-34 1zm53 0zm5 0zm-112 1zm73 0zm2 0zm39 0zm470 0zm-521 1zm10 0zm464 0zm-483 1zm53 0zm29 0zm360 0zm-445 1zm26 0zm501 0zm-585 1zm2 0zm681 0zm-681 1zm73 0zm54 0zm452 0zm-573 1zm8 0zm9 0zm3 0zm17 0zm23 0zm7 0zm34 0zm8 0zm3 0zm30 0zm-46 1zm24 0zm405 0zm25 0zm-548 1zm11 0zm19 0zm75 0zm15 0zm-115 1zm11 0zm38 1zm33 0zm26 0zm4 0zm19 0zm-61 1zm40 0zm20 0zm1 0zm-92 1zm6 0zm0 0zm40 0zm10 0zm579 0zm-676 1zm6 0zm130 0zm382 0zm-449 1zm4 0zm517 0zm-499 1zm31 0zm525 0zm-651 1zm3 0zm21 0zm33 0zm1 1zm539 0zm-581 1zm39 0zm24 0zm12 0zm35 0zm555 0zm1 0zm-644 1zm85 0zm4 0zm457 0zm-575 1zm27 0zm25 0zm28 0zm489 0zm32 0zm-563 1zm23 0zm445 0zm156 0zm-611 1zm83 0zm415 0zm-413 1zm539 0zm4 0zm-664 1zm58 0zm378 0zm-429 1zm49 0zm28 0zm498 0zm-575 1zm20 0zm49 0zm-76 1zm70 0zm4 0zm14 0zm14 0zm26 0zm-119 1zm19 0zm56 0zm471 0zm-484 1zm471 0zm-555 1zm0 0zm19 0zm9 0zm7 0zm34 0zm483 0zm-494 2zm56 0zm319 0zm-413 1zm29 0zm14 0zm4 0zm40 0zm481 0zm-521 1zm505 0zm102 0zm-367 1zm108 0zm-383 1zm47 0zm78 0zm-148 1zm87 0zm9 0zm189 1zm383 0zm-598 1zm18 0zm458 0zm118 0zm2 0zm1 0zm-368 1zm350 0zm-340 1zm27 0zm-49 1zm140 0zm103 0zm-446 1zm333 0zm3 0zm116 0zm-247 1zm108 0zm176 0zm-550 1zm8 0zm4 0zm9 0zm395 0zm-353 1zm1 0zm5 0zm448 0zm2 0zm-479 1zm8 0zm5 0zm8 0zm9 0zm202 0zm279 0zm-486 1zm-36 1zm18 0zm243 0zm-295 1zm257 0zm5 0zm291 0zm-533 1zm25 0zm304 0zm191 0zm-228 1zm210 0zm-481 1zm0 0zm19 0zm16 0zm248 0zm54 0zm173 0zm-485 1zm443 0zm33 0zm-515 1zm18 1zm231 0zm-207 1zm199 0zm262 0zm-257 1zm84 0zm169 0zm-516 1zm490 0zm37 0zm-494 1zm282 0zm182 0zm-505 1zm46 0zm257 0zm-300 1zm29 0zm35 0zm257 0zm7 0zm-330 1zm42 0zm15 0zm-57 1zm5 0zm70 0zm365 0zm-97 1zm169 0zm-476 1zm36 0zm437 0zm12 0zm-470 1zm32 0zm259 0zm147 0zm-441 2zm31 0zm296 0zm-5 1zm134 1zm-429 1zm274 0zm129 0zm16 0zm0 0zm-434 1zm30 0zm367 0zm-369 1zm163 0zm30 0zm-202 1zm-21 1zm16 1zm166 0zm189 0zm65 0zm-243 1zm-188 1zm191 0zm14 0zm5 0zm-222 2zm149 0zm21 0zm33 0zm8 0zm-200 1zm12 0zm151 0zm38 0zm12 0zm222 0zm-439 1zm166 0zm23 0zm13 0zm10 0zm-211 1zm9 0zm11 0zm187 0zm-198 1zm36 0zm101 0zm-139 1zm55 0zm113 0zm10 0zm3 0zm17 0zm-44 1zm45 0zm1 0zm5 0zm-122 1zm45 0zm38 0zm22 0zm-182 1zm10 0zm18 0zm22 0zm95 0zm29 0zm11 0zm1 0zm9 0zm10 0zm-180 1zm120 0zm4 0zm-155 1zm1 0zm16 0zm61 0zm59 0zm10 0zm20 0zm13 0zm15 0zm2 0zm15 0zm-203 1zm8 0zm35 0zm10 0zm117 0zm3 0zm26 0zm2 0zm5 0zm-209 1zm17 0zm4 0zm7 0zm33 0zm20 0zm0 0zm4 0zm7 0zm16 0zm14 0zm69 0zm-196 1zm2 0zm4 0zm3 0zm1 0zm6 0zm4 0zm10 0zm2 0zm2 0zm2 0zm17 0zm28 0zm2 0zm87 0zm4 0zm36 0zm9 0zm-225 1zm12 0zm6 0zm1 0zm2 0zm1 0zm2 0zm2 0zm3 0zm6 0zm10 0zm0 0zm21 0zm4 0zm6 0zm52 0zm54 0zm57 0zm-224 1zm1 0zm15 0zm1 0zm8 0zm2 0zm16 0zm6 0zm7 0zm14 0zm11 0zm14 0zm48 0zm43 0zm5 0zm31 0zm-222 1zm2 0zm10 0zm36 0zm13 0zm21 0zm22 0zm1 0zm4 0zm42 0zm18 0zm19 0zm31 0zm2 0zm-205 1zm14 0zm13 0zm14 0zm7 0zm3 0zm22 0zm21 0zm24 0zm39 0zm15 0zm-177 1zm12 0zm21 0zm1 0zm19 0zm12 0zm14 0zm11 0zm-83 1zm27 0zm4 0zm182 0zm-206 1zm24 0zm1 0zm2 0zm4 0zm16 0zm28 0zm41 0zm97 0zm-235 1zm70 0zm26 0zm127 0zm6 0zm-195 1zm82 0zm109 0zm260 0zm-452 1zm6 0zm19 0zm27 0zm139 0zm-170 1zm31 0zm67 0zm2 0zm35 0zm-46 1zm-83 1zm4 0zm169 0zm-2 1zm-217 1zm89 0zm5 0zm126 0zm4 0zm3 0zm-231 1zm235 0zm-202 1zm199 0zm4 0zm-186 1zm38 0zm139 0zm-164 1zm-33 1zm150 0zm3 1zm54 0zm-202 1zm239 0zm-44 1zm14 0zm16 0zm-242 1zm214 0zm28 0zm-20 1zm21 1zm-76 1zm44 0zm5 0zm3 0zm7 0zm13 0zm2 0zm-79 1zm2 0zm2 0zm42 0zm17 0zm9 0zm-237 1zm226 0zm28 0zm-16 1zm6 0zm0 0zm7 0zm11 0zm-25 1zm-4 1zm7 0zm-41 1zm28 0zm9 0zm9 0zm-8 1zm113 8zm-114 1zm-90 3zm-132 1zm4 0zm21 0zm-27 1zm7 0zm113 0zm-95 1zm65 0zm32 2zm-116 1zm0 0zm47 0zm70 0zm114 0zm-249 1zm70 0zm-66 1zm15 0zm80 2zm-107 1zm6 0zm3 0zm1 0zm1 0zm0 0zm150 0zm-159 1zm1 0zm8 0zm221 0zm-234 2zm-10 1zm6 0zm192 0zm52 0zm-244 1zm253 0zm13 0zm-184 1zm-72 1zm-15 1zm216 0zm4 0zm-210 1zm91 0zm14 0zm62 0zm22 0zm64 1zm3 0zm-264 1zm86 0zm139 0zm46 0zm4 0zm106 0zm-283 2zm33 0zm40 2zm3 0zm-2 1zm97 0zm-63 1zm165 0zm-18 1zm-180 1zm1 0zm5 0zm-74 4zm78 0zm174 0zm-264 1zm28 0zm52 0zm6 0zm-55 1zm245 0zm-376 1zm95 0zm86 0zm157 0zm-197 1zm37 0zm0 0zm-75 1zm87 0zm-269 2zm184 0zm76 0zm-308 2zm20 0zm8 0zm227 0zm48 0zm6 0zm-293 1zm346 0zm141 0zm-514 1zm53 0zm320 0zm-290 1zm182 0zm267 0zm-541 1zm8 0zm44 0zm218 0zm145 0zm-383 1zm83 0zm100 0zm25 0zm29 0zm-12 1zm-257 1zm47 0zm18 0zm61 0zm100 0zm164 0zm-394 1zm42 0zm15 0zm37 0zm355 0zm-405 1zm87 0zm244 0zm-370 1zm20 0zm4 0zm12 0zm11 0zm45 0zm312 0zm-365 1zm357 0zm44 0zm-405 1zm9 0zm86 0zm45 0zm77 0zm194 0zm2 0zm-421 1zm68 0zm67 0zm-90 1zm35 0zm-63 1zm85 0zm-37 1zm15 0zm-66 1zm104 0zm181 0zm93 0zm-370 1zm233 0zm63 0zm-354 1zm47 0zm28 0zm-79 1zm52 0zm60 0zm40 0zm165 0zm-302 1zm10 0zm44 0zm-56 1zm66 0zm14 0zm-76 1zm74 0zm43 0zm-41 1zm14 0zm18 0zm172 0zm-256 2zm13 0zm-62 1zm4 0zm74 1zm314 0zm-290 2zm19 0zm-36 1zm269 0zm42 0zm-334 1zm7 0zm48 0zm-60 1zm53 1zm205 0zm41 0zm-340 1zm-3 1zm6 0zm31 0zm13 0zm3 0zm46 0zm-71 1zm6 0zm2 0zm277 0zm104 0zm-229 1zm136 0zm-339 1zm38 1zm4 0zm318 0zm-298 1zm282 0zm233 0zm-529 1zm61 0zm476 0zm-576 1zm38 0zm-45 1zm8 1zm47 0zm144 0zm222 0zm-421 1zm68 0zm15 0zm-75 1zm14 0zm67 0zm3 0zm122 0zm-172 1zm-19 1zm36 0zm28 0zm482 0zm5 0zm-542 1zm12 0zm166 1zm211 0zm23 0zm-410 1zm44 1zm8 0zm3 0zm328 0zm-373 1zm22 0zm39 0zm462 0zm-493 1zm24 0zm334 0zm-425 1zm5 0zm39 0zm367 0zm-394 1zm34 0zm10 0zm29 0zm322 0zm4 0zm1 1zm1 0zm6 0zm127 0zm-560 1zm30 0zm64 0zm125 0zm199 0zm9 0zm58 0zm1 0zm77 0zm-558 1zm20 0zm23 0zm178 0zm196 0zm6 0zm60 0zm-449 1zm32 0zm371 0zm-417 1zm37 0zm381 0zm-13 1zm3 0zm4 0zm0 0zm0 0zm5 0zm5 0zm-428 1zm7 0zm5 0zm21 0zm392 0zm1 0zm49 0zm65 0zm-541 1zm219 0zm187 0zm9 0zm4 0zm-422 1zm215 0zm9 0zm219 0zm-436 1zm14 0zm5 0zm22 0zm381 0zm-410 1zm21 0zm13 0zm441 0zm-484 1zm42 0zm389 0zm52 0zm-477 1zm16 0zm397 0zm-416 1zm411 0zm4 0zm67 0zm38 1zm-529 1zm418 0zm-407 1zm228 0zm191 0zm3 0zm4 0zm5 0zm3 0zm-219 1zm4 0zm195 0zm2 0zm6 0zm-403 1zm202 0zm180 0zm19 0zm5 0zm8 0zm78 0zm-291 1zm199 0zm1 0zm9 1zm-8 1zm80 0zm-82 1zm3 0zm1 0zm10 0zm71 0zm-272 1zm198 1zm66 0zm-257 3zm2 1zm185 0zm-189 1zm190 5zm13 3zm2 0zm40 1zm-157 2zm7 0zm56 0zm-118 1zm62 0zm61 0zm3 1zm32 0zm-153 1zm169 1zm-18 6zm13 0zm-135 1zm118 0zm23 2zm1 2zm-156 1zm167 0zm-7 1zm-196 1zm14 0zm29 1zm1 3zm-26 5zm29 5zm-10 1zm18 0zm36 3zm-38 3zm-7 1zm8 0zm-36 1zm39 0zm2 0zm40 0zm-39 1zm-25 1zm40 0zm18 1zm-97 1zm14 0zm24 1zm5 0zm37 0zm-34 2zm24 0zm-83 1zm11 0zm18 0zm23 0zm62 0zm-8 2zm-1 1zm17 0zm-122 1zm39 0zm-49 1zm7 0zm95 0zm21 0zm24 0zm-134 1zm86 0zm1 0zm-96 1zm10 0zm12 1zm72 0zm4 0zm29 0zm7 0zm-112 1zm27 0zm47 0zm5 0zm-36 1zm-3 1zm77 0zm-104 1zm66 0zm7 0zm-105 1zm3 0zm4 0zm92 0zm13 0zm12 0zm-131 1zm23 0zm86 3zm34 0zm4 0zm-37 1zm-115 2zm120 1zm-104 1zm103 0zm19 0zm-127 1zm110 0zm21 0zm-140 1zm24 0zm17 0zm89 1zm-92 1zm3 0zm72 0zm-117 1zm20 0zm4 0zm91 0zm7 1zm-85 1zm96 0zm-11 1zm10 1zm-109 1zm-15 2zm31 1zm80 0zm-7 1zm-104 1zm10 0zm-15 2zm42 0zm69 1zm-104 1zm14 0zm27 0zm58 0zm-23 2zm-61 1zm8 1zm20 1zm52 0zm-83 1zm50 0zm-10 1zm2 0zm6 0zm25 0zm16 1zm-53 1zm42 0zm2 0zm10 0zm-16 2zm16 2zm-81 2zm4 1z" stroke="#E7298A"/><path d="M723 124zm-18 1zm-6 2zm21 0zm10 0zm2 0zm13 1zm-43 1zm-18 1zm56 0zm-16 1zm-30 1zm60 0zm-19 1zm-41 1zm59 0zm-22 1zm7 0zm-63 1zm3 0zm30 0zm12 0zm9 0zm1 0zm-40 1zm5 0zm5 0zm54 0zm-64 1zm0 0zm1 0zm17 1zm1 0zm29 0zm-60 1zm14 0zm37 0zm33 0zm-546 1zm459 0zm29 0zm18 0zm26 0zm8 0zm-572 1zm500 0zm32 0zm47 0zm-99 1zm84 0zm27 0zm-59 1zm12 0zm34 0zm-101 1zm43 0zm43 0zm11 0zm21 0zm-67 1zm2 0zm18 0zm15 0zm-572 1zm18 0zm483 0zm68 0zm12 0zm-578 1zm59 0zm452 0zm3 0zm11 1zm19 0zm67 0zm-115 1zm41 0zm23 0zm10 0zm-544 1zm49 0zm413 0zm55 0zm19 0zm-533 1zm471 0zm25 0zm22 0zm2 0zm20 0zm-553 1zm7 0zm13 0zm22 1zm1 0zm512 0zm-536 1zm450 0zm31 0zm33 0zm13 0zm3 0zm16 0zm-54 1zm34 0zm27 0zm11 0zm-579 1zm17 0zm22 0zm439 0zm3 0zm19 0zm20 0zm56 0zm-575 1zm466 0zm15 0zm19 0zm22 0zm37 0zm-583 1zm91 0zm520 0zm-120 1zm79 0zm40 0zm35 0zm-658 1zm67 0zm438 0zm18 0zm15 0zm30 0zm22 0zm-511 1zm18 0zm425 1zm6 0zm54 0zm37 0zm30 0zm-623 1zm42 0zm14 0zm434 0zm37 0zm12 0zm-48 1zm47 0zm52 0zm44 0zm-90 1zm35 0zm19 0zm-530 1zm409 0zm56 0zm104 0zm-141 1zm24 0zm50 0zm56 0zm-534 1zm393 0zm6 0zm39 0zm72 0zm37 0zm-123 1zm29 0zm23 0zm-565 1zm51 0zm12 0zm562 0zm-655 1zm502 0zm101 0zm61 0zm1 0zm-94 1zm9 0zm31 0zm37 0zm5 0zm-614 1zm22 0zm511 0zm9 0zm6 0zm28 0zm43 0zm-659 1zm2 0zm490 0zm25 0zm34 0zm34 0zm10 0zm71 0zm-118 1zm74 0zm-625 1zm119 0zm379 0zm50 0zm10 0zm21 0zm4 0zm26 0zm57 0zm-551 1zm383 0zm9 0zm9 0zm47 0zm12 0zm17 1zm13 0zm30 0zm-636 1zm516 0zm31 0zm-546 1zm2 0zm10 0zm6 0zm19 0zm460 0zm89 0zm-535 1zm18 0zm36 0zm474 0zm-561 1zm-24 1zm22 0zm28 0zm23 0zm22 0zm399 0zm28 0zm86 0zm24 0zm-549 1zm413 0zm3 0zm-385 1zm18 0zm366 0zm41 0zm4 0zm-59 1zm25 0zm25 0zm73 0zm-604 1zm105 0zm4 0zm377 0zm12 0zm-486 1zm97 0zm1 0zm16 0zm355 0zm7 0zm16 0zm65 0zm-564 1zm16 0zm24 0zm482 0zm82 0zm11 0zm-615 1zm62 0zm451 0zm2 0zm34 0zm30 0zm-468 1zm430 0zm56 0zm3 0zm-594 1zm20 0zm509 0zm38 0zm-100 1zm14 0zm40 0zm69 0zm-607 1zm11 0zm77 0zm61 0zm340 0zm6 0zm53 0zm34 1zm-567 1zm109 0zm369 0zm46 0zm76 0zm0 0zm75 0zm-683 1zm122 0zm-44 1zm37 0zm434 0zm-543 1zm127 0zm388 0zm48 0zm6 0zm11 0zm15 0zm-600 1zm4 0zm88 0zm5 0zm420 0zm49 0zm4 0zm-523 1zm93 1zm333 0zm11 0zm45 0zm-455 1zm30 0zm31 0zm345 0zm35 0zm13 0zm8 0zm12 0zm-541 1zm497 0zm-503 1zm4 0zm536 0zm-450 1zm44 0zm422 0zm11 0zm5 0zm22 0zm11 0zm5 0zm6 0zm-90 1zm-63 1zm72 0zm26 0zm-556 1zm15 0zm53 0zm2 0zm441 0zm46 0zm4 0zm35 0zm88 0zm-601 1zm377 0zm12 0zm-462 1zm454 0zm60 0zm51 0zm43 0zm-558 1zm15 0zm386 0zm95 0zm-543 1zm76 0zm32 0zm330 0zm6 0zm3 0zm46 0zm85 0zm-575 1zm28 0zm47 0zm363 0zm60 0zm0 0zm-404 1zm400 0zm153 0zm-525 1zm316 0zm4 0zm67 0zm19 0zm73 0zm54 0zm1 0zm13 0zm-675 1zm1 0zm5 0zm1 0zm439 0zm46 0zm69 0zm1 0zm39 0zm5 0zm-558 1zm74 0zm332 0zm63 0zm34 0zm42 0zm1 0zm-527 1zm450 0zm37 0zm124 0zm-663 1zm43 0zm388 0zm69 0zm35 0zm-540 1zm427 0zm114 0zm14 0zm1 0zm96 0zm-654 1zm418 0zm168 0zm10 0zm-598 1zm97 0zm334 0zm99 0zm-496 1zm94 0zm315 0zm60 0zm19 0zm38 0zm-470 1zm64 0zm271 0zm60 0zm95 0zm78 0zm22 0zm-675 1zm2 0zm66 0zm350 0zm126 0zm124 0zm-667 1zm418 0zm16 1zm103 0zm31 0zm-517 1zm31 0zm335 0zm240 0zm11 0zm8 0zm-672 1zm80 0zm38 0zm24 0zm5 0zm268 0zm7 0zm98 0zm36 0zm-541 1zm529 0zm-511 1zm375 0zm10 0zm164 0zm70 0zm-657 1zm8 0zm84 0zm17 0zm453 0zm-562 1zm413 0zm273 0zm-599 1zm327 0zm154 0zm15 0zm79 0zm-659 1zm26 0zm25 0zm25 0zm586 0zm-646 1zm79 0zm329 0zm130 0zm-551 1zm51 0zm6 0zm20 0zm495 0zm79 0zm19 0zm-665 1zm4 0zm287 0zm113 0zm245 0zm-80 1zm-568 1zm15 0zm42 0zm221 0zm116 0zm1 0zm6 0zm163 0zm-159 1zm136 1zm-531 1zm8 0zm21 0zm14 0zm5 0zm342 0zm-401 1zm2 0zm2 0zm354 0zm34 0zm0 0zm140 0zm35 0zm-571 1zm399 0zm2 0zm28 0zm-426 1zm523 0zm29 0zm-552 1zm10 0zm62 0zm323 0zm264 0zm-375 1zm274 0zm-552 1zm3 0zm2 0zm70 0zm318 0zm262 0zm-638 1zm8 0zm355 0zm5 0zm6 0zm162 0zm-176 1zm-12 1zm19 0zm-364 1zm358 0zm9 0zm3 0zm123 0zm-487 1zm34 0zm323 0zm155 0zm-244 1zm261 0zm87 0zm-633 1zm263 0zm263 0zm-524 1zm6 0zm337 0zm34 0zm168 0zm-480 2zm456 0zm-529 1zm386 0zm127 0zm-501 1zm268 0zm273 0zm-539 1zm2 0zm499 0zm-513 1zm502 2zm6 0zm-490 1zm-4 1zm486 3zm22 0zm-509 1zm1 2zm3 1zm66 0zm405 0zm32 0zm4 1zm-161 1zm6 0zm10 0zm-312 1zm439 0zm-495 2zm5 0zm500 0zm-34 1zm-409 1zm25 0zm395 0zm-486 1zm6 0zm3 1zm54 0zm432 0zm-485 1zm231 0zm237 0zm9 1zm7 0zm-486 1zm78 0zm-82 1zm186 0zm290 0zm8 1zm-406 1zm-78 1zm66 0zm-63 1zm198 0zm-80 1zm159 0zm0 1zm-220 1zm33 0zm96 0zm-186 1zm217 0zm7 0zm-140 1zm10 0zm-95 1zm82 0zm17 0zm14 0zm22 1zm-139 2zm80 2zm39 0zm191 0zm70 0zm178 0zm-479 2zm234 1zm246 0zm1 0zm-473 1zm25 0zm452 0zm8 0zm-402 1zm-156 1zm3 0zm73 0zm-4 1zm-70 1zm-1 1zm5 0zm71 0zm-74 1zm306 0zm-322 1zm1 0zm17 0zm86 4zm-6 1zm-95 2zm100 5zm243 1zm-21 9zm33 1zm-19 3zm12 0zm119 0zm-120 2zm94 0zm26 0zm-211 2zm75 0zm20 0zm3 1zm-17 1zm123 0zm-152 1zm3 0zm12 1zm7 0zm16 1zm-35 1zm15 0zm-5 1zm20 0zm-23 1zm1 0zm2 0zm5 1zm16 0zm123 0zm-156 1zm8 0zm10 0zm-12 1zm8 0zm8 0zm-4 1zm140 0zm-162 1zm7 0zm-17 1zm5 0zm1 0zm19 0zm-25 1zm2 0zm8 0zm12 0zm3 0zm-28 1zm-1 1zm22 0zm0 0zm143 0zm-144 1zm1 0zm-24 1zm14 0zm6 0zm-41 1zm12 0zm21 1zm-22 1zm75 0zm-52 1zm-22 1zm-3 1zm1 0zm19 0zm-1 1zm91 1zm23 0zm-127 1zm35 0zm4 0zm95 0zm-106 1zm-47 1zm179 0zm-110 1zm24 0zm2 0zm85 0zm-251 1zm251 0zm-128 1zm49 0zm75 0zm-18 1zm-249 1zm31 0zm-17 1zm252 0zm-266 1zm122 1zm66 1zm-377 1zm324 1zm112 0zm23 0zm-100 1zm42 0zm30 0zm3 0zm3 0zm-425 1zm201 0zm-195 1zm403 1zm-453 1zm0 1zm5 0zm3 0zm22 0zm227 0zm202 0zm-455 1zm338 0zm-355 1zm4 0zm7 0zm9 0zm56 0zm-92 1zm27 0zm5 0zm355 0zm66 0zm-432 1zm5 0zm5 0zm51 0zm383 0zm-430 1zm22 0zm379 0zm19 1zm18 0zm-443 1zm-2 1zm1 0zm48 1zm485 0zm-237 1zm24 0zm227 0zm-514 1zm25 0zm351 0zm-431 1zm425 0zm-428 2zm61 0zm360 0zm-341 1zm-23 1zm502 0zm-560 2zm580 0zm-541 1zm66 0zm463 0zm3 0zm-559 2zm-3 1zm555 0zm6 0zm4 0zm-588 1zm55 1zm-36 1zm565 0zm-510 1zm-16 1zm53 0zm467 2zm-572 1zm39 0zm540 1zm-512 1zm33 0zm-76 1zm23 1zm44 0zm101 0zm-181 1zm28 0zm152 0zm-192 2zm19 0zm8 0zm-1 2zm-24 1zm65 1zm132 0zm-186 1zm47 0zm6 0zm41 2zm-70 2zm18 0zm10 0zm4 1zm117 0zm15 0zm12 1zm-201 1zm2 1zm1 0zm197 0zm5 0zm-8 1zm-133 1zm-66 2zm39 0zm179 1zm-227 1zm215 0zm3 0zm-156 4zm168 0zm3 2zm-215 1zm208 1zm7 0zm8 3zm-203 1zm328 2zm2 0zm-1 1zm8 0zm-124 1zm-229 1zm224 2zm123 0zm-115 1zm187 0zm-184 1zm3 0zm-3 3zm1 1zm2 1zm1 3zm4 1zm92 3zm-87 1zm77 0zm31 0zm26 0zm-132 1zm3 0zm100 0zm14 0zm-46 2zm-46 3zm18 1zm-7 1zm19 0zm-18 2zm133 2zm5 2zm8 1zm-153 5zm-12 11zm18 0zm-19 5zm16 0zm55 6zm-93 1zm93 1zm8 0zm-98 1zm91 1zm-19 6zm8 2zm-88 1zm27 0zm-21 1zm56 0zm32 0zm-89 2zm117 1zm-18 1zm-122 3zm108 0zm30 0zm-101 1zm7 0zm62 0zm31 0zm-110 1zm113 0zm-124 1zm18 3zm-3 3zm105 0zm-17 1zm-114 1zm18 0zm18 1zm-13 1zm-2 4zm11 0zm-9 1zm6 1zm-18 1zm6 1zm105 1zm-13 1zm-77 5zm5 0zm-16 3zm-26 3zm60 1zm-33 2zm2 0zm37 0zm-53 1zm12 1zm7 1z" stroke="#7570B3"/><path d="M708 123zm-1 2zm3 0zm-5 1zm6 0zm27 0zm-22 1zm-17 1zm1 0zm6 0zm10 0zm-26 1zm1 0zm4 0zm9 0zm0 0zm16 0zm12 0zm-55 1zm31 0zm37 0zm-42 1zm17 0zm-15 1zm5 0zm-30 1zm11 1zm2 0zm35 0zm25 0zm3 0zm-551 1zm5 0zm464 0zm32 0zm39 0zm-542 1zm522 0zm-538 1zm6 0zm1 0zm497 0zm-468 1zm1 0zm447 0zm15 0zm22 0zm15 0zm22 0zm14 0zm-557 1zm23 0zm443 0zm0 0zm87 0zm-544 1zm3 0zm1 0zm13 0zm455 0zm18 0zm16 0zm14 0zm5 0zm-533 1zm14 0zm12 0zm13 0zm454 0zm15 0zm22 0zm13 0zm-563 1zm2 0zm28 0zm6 0zm13 0zm484 0zm20 0zm-556 1zm5 0zm26 0zm23 0zm432 0zm0 0zm6 0zm14 0zm24 0zm3 0zm8 0zm6 0zm24 0zm-570 1zm1 0zm30 0zm20 0zm3 0zm3 0zm426 0zm14 0zm14 0zm19 0zm1 0zm4 0zm7 0zm8 0zm5 0zm21 0zm1 0zm-566 1zm12 0zm3 0zm2 0zm35 0zm421 0zm4 0zm14 0zm6 0zm34 0zm17 0zm3 0zm7 0zm26 0zm-590 1zm9 0zm16 0zm2 0zm17 0zm12 0zm434 0zm28 0zm24 0zm14 0zm15 0zm-566 1zm10 0zm48 0zm452 0zm0 0zm4 0zm3 0zm27 0zm-523 1zm458 0zm17 0zm25 0zm18 0zm44 0zm-583 1zm16 0zm470 0zm9 0zm11 0zm27 0zm37 0zm-586 1zm31 0zm461 0zm16 0zm54 0zm43 0zm-599 1zm32 0zm16 0zm437 0zm8 0zm6 0zm2 0zm58 0zm18 0zm-562 1zm488 0zm6 0zm7 0zm7 0zm24 0zm58 0zm-534 1zm10 0zm418 0zm37 0zm8 0zm31 0zm1 0zm5 0zm4 0zm15 0zm1 0zm-600 1zm24 0zm24 0zm439 0zm9 0zm35 0zm34 0zm-575 1zm41 0zm24 0zm12 0zm418 0zm20 0zm47 0zm17 0zm4 0zm11 0zm-567 1zm27 0zm14 0zm3 0zm4 0zm426 0zm44 0zm26 0zm17 0zm5 0zm-522 1zm425 0zm24 0zm6 0zm-527 1zm9 0zm10 0zm19 0zm26 0zm1 0zm459 0zm4 0zm42 0zm12 0zm10 0zm24 0zm-589 1zm2 0zm12 0zm14 0zm13 0zm2 0zm19 0zm426 0zm7 0zm6 0zm24 0zm0 0zm1 0zm3 0zm16 0zm24 0zm-571 1zm63 0zm5 0zm408 0zm66 0zm2 0zm13 0zm29 0zm25 0zm-645 1zm80 0zm15 0zm422 0zm10 0zm1 0zm3 0zm84 0zm5 0zm17 0zm-603 1zm2 0zm23 0zm27 0zm12 0zm1 0zm401 0zm5 0zm76 0zm55 0zm-635 1zm37 0zm9 0zm25 0zm24 0zm7 0zm398 0zm29 0zm17 0zm50 0zm64 0zm-646 1zm9 0zm92 0zm394 0zm14 0zm20 0zm44 0zm17 0zm7 0zm10 0zm27 0zm-636 1zm1 0zm11 0zm45 0zm9 0zm0 0zm431 0zm39 0zm12 0zm64 0zm18 0zm15 0zm8 0zm-649 1zm30 0zm6 0zm6 0zm4 0zm11 0zm33 0zm390 0zm1 0zm19 0zm3 0zm5 0zm96 0zm1 0zm-610 1zm5 0zm21 0zm63 0zm7 0zm398 0zm120 0zm38 0zm-641 1zm18 0zm12 0zm3 0zm493 0zm1 0zm0 0zm8 0zm5 0zm5 0zm23 0zm43 0zm-634 1zm4 0zm0 0zm8 0zm25 0zm8 0zm13 0zm479 0zm41 0zm25 0zm12 0zm6 0zm14 0zm25 0zm2 0zm-656 1zm14 0zm17 0zm15 0zm21 0zm7 0zm32 0zm429 0zm98 0zm5 0zm1 0zm11 0zm-630 1zm50 0zm13 0zm28 0zm395 0zm50 0zm6 0zm61 0zm39 0zm-646 1zm1 0zm19 0zm11 0zm7 0zm2 0zm6 0zm29 0zm417 0zm39 0zm33 0zm64 0zm-652 1zm4 0zm38 0zm2 0zm76 0zm393 0zm7 0zm8 0zm50 0zm0 0zm21 0zm31 0zm29 0zm-665 1zm17 0zm22 0zm31 0zm9 0zm38 0zm399 0zm11 0zm24 0zm25 0zm16 0zm3 0zm78 0zm1 0zm1 0zm-673 1zm10 0zm4 0zm16 0zm42 0zm31 0zm8 0zm444 0zm27 0zm60 0zm3 0zm19 0zm9 0zm-628 1zm54 0zm27 0zm476 0zm7 0zm53 0zm8 0zm-612 1zm12 0zm3 0zm8 0zm19 0zm425 0zm3 0zm80 0zm36 0zm-584 1zm69 0zm6 0zm438 0zm61 0zm30 0zm3 0zm-664 1zm48 0zm12 0zm9 0zm38 0zm3 0zm1 0zm1 0zm409 0zm115 0zm-643 1zm29 0zm16 0zm2 0zm14 0zm74 0zm-113 1zm26 0zm513 0zm73 0zm-609 1zm50 0zm24 0zm19 0zm7 0zm2 0zm2 0zm6 0zm1 0zm414 0zm67 0zm-586 1zm513 0zm30 0zm-572 1zm17 0zm2 0zm42 0zm35 0zm37 0zm546 0zm-608 1zm3 0zm50 0zm3 0zm8 0zm2 0zm376 0zm-514 1zm19 0zm7 0zm543 0zm56 0zm3 0zm-599 1zm23 0zm8 0zm82 0zm426 0zm32 0zm28 0zm-552 1zm21 0zm28 0zm8 0zm377 0zm70 0zm-562 1zm37 0zm18 0zm4 0zm2 0zm12 0zm49 0zm382 0zm9 0zm-486 1zm59 0zm32 0zm394 0zm13 0zm-541 1zm5 0zm7 0zm23 0zm6 0zm20 0zm4 0zm63 0zm378 0zm10 0zm-515 1zm44 0zm0 0zm3 0zm5 0zm2 0zm54 0zm1 0zm18 0zm2 0zm3 0zm0 0zm5 0zm3 0zm5 0zm375 0zm14 0zm64 0zm-586 1zm15 0zm6 0zm0 0zm22 0zm32 0zm29 0zm1 0zm10 0zm386 0zm163 0zm-667 1zm138 0zm364 0zm70 0zm-548 1zm19 0zm34 0zm8 0zm29 0zm379 0zm17 0zm28 0zm37 0zm22 0zm-597 1zm3 0zm78 0zm4 0zm54 0zm411 0zm18 0zm-558 1zm0 0zm8 0zm8 0zm107 0zm1 0zm373 0zm20 0zm28 0zm4 0zm51 0zm4 0zm58 0zm-660 1zm40 0zm451 0zm48 0zm-550 1zm25 0zm11 0zm45 0zm4 0zm35 0zm14 0zm409 0zm28 0zm8 0zm-573 1zm36 0zm7 0zm13 0zm14 0zm12 0zm2 0zm12 0zm13 0zm479 0zm-595 1zm76 0zm27 0zm15 0zm27 0zm360 0zm72 0zm-531 1zm4 0zm8 0zm42 0zm7 0zm15 0zm403 0zm49 0zm3 0zm4 0zm-560 1zm31 0zm3 0zm29 0zm412 0zm5 0zm15 0zm-513 1zm34 0zm42 0zm1 0zm4 0zm21 0zm7 0zm-108 1zm24 0zm21 0zm37 0zm0 0zm480 0zm111 0zm-669 1zm8 0zm4 0zm20 0zm8 0zm78 0zm23 0zm428 0zm-522 1zm5 0zm1 0zm5 0zm74 0zm360 0zm21 0zm6 0zm-517 1zm30 0zm11 0zm36 0zm33 0zm6 0zm1 0zm447 0zm0 0zm1 0zm-556 1zm29 0zm9 0zm19 0zm13 0zm3 0zm4 0zm7 0zm30 0zm9 0zm419 0zm-504 1zm53 0zm3 0zm1 0zm28 0zm1 0zm368 0zm2 0zm101 0zm-605 1zm1 0zm0 0zm15 0zm25 0zm6 0zm38 0zm22 0zm3 0zm2 0zm19 0zm399 0zm71 0zm-569 1zm55 0zm3 0zm5 0zm13 0zm31 0zm438 0zm9 0zm91 0zm-685 1zm4 0zm14 0zm16 0zm4 0zm6 0zm2 0zm4 0zm28 0zm5 0zm26 0zm4 0zm4 0zm2 0zm487 0zm9 0zm-601 1zm76 0zm4 0zm17 0zm20 0zm328 0zm61 0zm2 0zm15 0zm11 0zm6 0zm124 0zm-655 1zm18 0zm40 0zm21 0zm5 0zm6 0zm3 0zm1 0zm2 0zm5 0zm438 0zm33 0zm7 0zm81 0zm-642 1zm59 0zm14 0zm15 0zm11 0zm314 0zm60 0zm166 0zm-673 1zm5 0zm16 0zm22 0zm10 0zm13 0zm49 0zm31 0zm4 0zm380 0zm52 0zm13 0zm2 0zm75 0zm-669 1zm17 0zm14 0zm31 0zm9 0zm39 0zm32 0zm395 0zm-533 1zm41 0zm11 0zm34 0zm362 0zm37 0zm104 0zm9 0zm2 0zm22 0zm-609 1zm26 0zm16 0zm41 0zm0 0zm2 0zm24 0zm457 0zm6 0zm-583 1zm0 0zm25 0zm15 0zm3 0zm13 0zm24 0zm435 0zm21 0zm62 0zm63 0zm-636 1zm67 0zm43 0zm11 0zm444 0zm-591 1zm5 0zm12 0zm129 0zm389 0zm24 0zm-552 1zm1 0zm20 0zm7 0zm33 0zm39 0zm23 0zm434 0zm21 0zm-578 1zm4 0zm13 0zm16 0zm56 0zm11 0zm4 0zm14 0zm552 0zm-672 1zm32 0zm47 0zm426 0zm29 0zm58 0zm77 0zm4 0zm-660 1zm39 0zm36 0zm32 0zm3 0zm6 0zm10 0zm423 0zm13 0zm5 0zm66 0zm-620 1zm14 0zm13 0zm6 0zm26 0zm384 0zm43 0zm24 0zm16 0zm38 0zm81 0zm3 0zm-657 1zm45 0zm5 0zm481 0zm18 0zm17 0zm-573 1zm10 0zm34 0zm28 0zm8 0zm42 0zm429 0zm1 0zm-562 1zm24 0zm19 0zm33 0zm59 0zm407 0zm0 0zm41 0zm5 0zm-549 1zm50 0zm2 0zm1 0zm1 0zm13 0zm311 0zm138 0zm8 0zm119 0zm-663 1zm8 0zm37 0zm18 0zm493 0zm6 0zm7 0zm1 0zm-555 1zm17 0zm5 0zm95 0zm208 0zm16 0zm40 0zm126 0zm1 0zm15 0zm10 0zm20 0zm76 0zm-621 1zm28 0zm3 0zm14 0zm11 0zm3 0zm2 0zm48 0zm150 0zm254 0zm10 0zm7 0zm2 0zm9 0zm93 0zm-641 1zm5 0zm18 0zm3 0zm31 0zm53 0zm229 0zm0 0zm175 0zm3 0zm14 0zm23 0zm-559 1zm28 0zm11 0zm2 0zm0 0zm33 0zm44 0zm115 0zm42 0zm71 0zm170 0zm6 0zm-490 1zm51 0zm183 0zm61 0zm207 0zm13 0zm11 0zm-563 1zm39 0zm29 0zm0 0zm184 0zm41 0zm223 0zm22 0zm1 0zm4 0zm10 0zm1 0zm10 0zm-561 1zm1 0zm10 0zm273 0zm230 0zm1 0zm22 0zm23 0zm68 0zm-618 1zm7 0zm44 0zm187 0zm3 0zm3 0zm5 0zm18 0zm15 0zm90 0zm127 0zm22 0zm17 0zm10 0zm73 0zm-623 1zm238 0zm12 0zm3 0zm6 0zm25 0zm10 0zm241 0zm7 0zm-566 1zm53 0zm11 0zm7 0zm7 0zm3 0zm200 0zm5 0zm10 0zm2 0zm5 0zm245 0zm29 0zm-582 1zm60 0zm14 0zm200 0zm1 0zm18 0zm235 0zm3 0zm10 0zm13 0zm19 0zm-567 1zm12 0zm21 0zm25 0zm194 0zm7 0zm14 0zm0 0zm28 0zm7 0zm6 0zm40 0zm9 0zm25 0zm142 0zm7 0zm16 0zm9 0zm91 0zm-574 1zm191 0zm6 0zm13 0zm0 0zm7 0zm9 0zm2 0zm2 0zm15 0zm24 0zm18 0zm157 0zm8 0zm5 0zm16 0zm7 0zm8 0zm2 0zm88 0zm-634 1zm49 0zm1 0zm184 0zm29 0zm2 0zm1 0zm15 0zm49 0zm163 0zm20 0zm116 0zm1 0zm8 0zm-620 1zm5 0zm7 0zm211 0zm5 0zm12 0zm0 0zm1 0zm2 0zm9 0zm4 0zm10 0zm32 0zm21 0zm9 0zm154 0zm4 0zm9 0zm26 0zm91 0zm-633 1zm25 0zm22 0zm197 0zm2 0zm12 0zm1 0zm4 0zm3 0zm2 0zm9 0zm4 0zm20 0zm4 0zm32 0zm166 0zm36 0zm8 0zm-517 1zm11 0zm13 0zm210 0zm1 0zm5 0zm12 0zm8 0zm37 0zm13 0zm6 0zm149 0zm12 0zm10 0zm23 0zm4 0zm-480 1zm175 0zm5 0zm2 0zm7 0zm12 0zm5 0zm3 0zm5 0zm2 0zm18 0zm-285 1zm39 0zm0 0zm10 0zm196 0zm14 0zm8 0zm7 0zm18 0zm18 0zm5 0zm7 0zm3 0zm12 0zm146 0zm17 0zm13 0zm20 0zm-546 1zm41 0zm8 0zm187 0zm2 0zm6 0zm26 0zm1 0zm3 0zm5 0zm2 0zm1 0zm5 0zm4 0zm64 0zm1 0zm172 0zm3 0zm14 0zm1 0zm-491 1zm170 0zm48 0zm13 0zm1 0zm2 0zm50 0zm167 0zm1 0zm7 0zm0 0zm4 0zm16 0zm-301 1zm13 0zm10 0zm3 0zm3 0zm13 0zm36 0zm42 0zm137 0zm12 0zm5 0zm13 0zm20 0zm-538 1zm17 0zm34 0zm6 0zm188 0zm1 0zm14 0zm3 0zm52 0zm14 0zm12 0zm170 0zm1 0zm3 0zm10 0zm2 0zm3 0zm1 0zm-518 1zm1 0zm226 0zm7 0zm7 0zm1 0zm7 0zm2 0zm9 0zm7 0zm18 0zm2 0zm210 0zm5 0zm9 0zm101 0zm-611 1zm220 0zm18 0zm7 0zm16 0zm9 0zm32 0zm6 0zm20 0zm15 0zm173 0zm6 0zm4 0zm-496 1zm12 0zm1 0zm224 0zm16 0zm9 0zm6 0zm16 0zm198 0zm2 0zm7 0zm-527 1zm242 0zm42 0zm30 0zm9 0zm9 0zm28 0zm141 0zm1 0zm2 0zm0 0zm4 0zm-462 1zm3 0zm190 0zm5 0zm45 0zm2 0zm56 0zm170 0zm-520 1zm247 0zm17 0zm220 0zm1 0zm3 0zm11 0zm13 0zm-517 1zm7 0zm48 0zm5 0zm197 0zm2 0zm1 0zm13 0zm1 0zm2 0zm13 0zm47 0zm18 0zm99 0zm26 0zm16 0zm6 0zm9 0zm-459 1zm1 0zm7 0zm192 0zm11 0zm8 0zm7 0zm2 0zm1 0zm3 0zm30 0zm180 0zm16 0zm10 0zm-510 1zm242 0zm8 0zm12 0zm83 0zm0 0zm10 0zm2 0zm113 0zm8 0zm8 0zm9 0zm17 0zm12 0zm-478 1zm14 0zm183 0zm10 0zm22 0zm2 0zm220 0zm8 0zm-495 1zm40 0zm200 0zm15 0zm13 0zm2 0zm9 0zm11 0zm5 0zm20 0zm30 0zm139 0zm7 0zm7 0zm9 0zm5 0zm-468 1zm255 0zm0 0zm11 0zm15 0zm32 0zm134 0zm2 0zm-442 1zm4 0zm203 0zm1 0zm4 0zm6 0zm9 0zm29 0zm33 0zm0 0zm118 0zm12 0zm17 0zm15 0zm-496 1zm9 0zm4 0zm25 0zm273 0zm28 0zm112 0zm6 0zm15 0zm29 0zm-493 1zm12 0zm14 0zm11 0zm5 0zm221 0zm70 0zm128 0zm23 0zm-520 1zm30 0zm36 0zm9 0zm253 0zm5 0zm18 0zm15 0zm5 0zm5 0zm6 0zm96 0zm4 0zm1 0zm31 0zm-483 1zm5 0zm33 0zm12 0zm264 0zm13 0zm6 0zm10 0zm107 0zm1 0zm9 0zm5 0zm18 0zm1 0zm1 0zm4 0zm-456 1zm11 0zm263 0zm12 0zm7 0zm9 0zm2 0zm5 0zm117 0zm12 0zm1 0zm15 0zm-462 1zm276 0zm3 0zm20 0zm4 0zm4 0zm9 0zm0 0zm82 0zm5 0zm20 0zm7 0zm8 0zm3 0zm7 0zm-460 1zm35 0zm3 0zm261 0zm6 0zm2 0zm8 0zm0 0zm17 0zm2 0zm6 0zm43 0zm3 0zm12 0zm36 0zm7 0zm21 0zm4 0zm-438 1zm8 0zm0 0zm278 0zm9 0zm9 0zm76 0zm6 0zm17 0zm4 0zm24 0zm6 0zm-448 1zm297 0zm14 0zm0 0zm3 0zm4 0zm39 0zm16 0zm0 0zm46 0zm19 0zm1 0zm3 0zm-469 1zm17 0zm171 0zm127 0zm6 0zm12 0zm4 0zm7 0zm11 0zm112 0zm4 0zm7 0zm6 0zm-445 1zm4 0zm282 0zm1 0zm67 0zm49 0zm3 0zm7 0zm7 0zm14 0zm-451 1zm184 0zm24 0zm102 0zm-313 1zm12 0zm120 0zm46 0zm146 0zm107 0zm2 0zm3 0zm7 0zm8 0zm-293 1zm21 0zm240 0zm6 0zm24 1zm2 0zm-450 1zm162 0zm25 0zm-7 1zm251 1zm-422 1zm101 0zm0 0zm327 0zm-292 1zm63 0zm-159 1zm19 0zm6 0zm5 0zm67 0zm244 0zm-192 1zm8 0zm132 0zm-391 1zm67 1zm1 0zm95 0zm66 0zm-71 1zm57 0zm-131 1zm19 0zm-3 1zm36 0zm51 0zm4 0zm-95 1zm-12 1zm60 0zm36 0zm10 0zm-3 1zm29 0zm-97 1zm24 1zm-22 1zm9 0zm79 0zm-93 1zm20 0zm30 0zm213 0zm167 0zm-443 1zm5 0zm52 0zm38 0zm173 0zm-144 1zm326 0zm-384 1zm209 0zm169 0zm9 1zm4 0zm-259 1zm-187 1zm81 0zm187 0zm-77 1zm-173 1zm157 0zm92 0zm179 0zm-444 1zm202 0zm61 0zm2 0zm0 0zm1 0zm1 0zm-273 1zm12 0zm-110 1zm101 0zm9 0zm26 0zm422 0zm-470 2zm3 0zm5 0zm3 0zm3 0zm0 0zm1 1zm-26 1zm33 0zm8 0zm136 1zm-161 1zm183 1zm21 0zm1 0zm2 1zm9 0zm-25 1zm11 0zm-4 1zm0 0zm9 0zm-147 1zm145 0zm33 0zm-54 1zm45 0zm-32 1zm4 1zm1 0zm0 0zm14 0zm-9 1zm-14 2zm4 1zm11 0zm127 0zm19 0zm-4 2zm-12 1zm5 0zm-4 2zm17 1zm-16 1zm2 0zm9 0zm3 1zm-277 1zm29 0zm20 0zm221 0zm3 0zm2 0zm-258 2zm259 0zm9 0zm-318 1zm95 0zm16 0zm178 0zm31 0zm-178 1zm150 0zm12 0zm2 1zm5 0zm6 0zm-359 1zm175 0zm181 0zm-360 2zm14 0zm48 0zm286 0zm9 0zm-351 1zm6 0zm2 0zm195 0zm129 0zm-335 1zm95 0zm253 0zm-227 1zm30 0zm208 1zm4 0zm-380 1zm155 1zm8 0zm82 0zm129 0zm-218 1zm208 0zm8 0zm-351 1zm350 0zm3 0zm-231 1zm111 0zm-256 1zm361 0zm-367 1zm208 0zm-208 1zm3 0zm159 0zm88 0zm-76 1zm1 0zm42 1zm26 0zm126 0zm5 0zm3 0zm14 0zm-23 1zm9 0zm13 0zm-377 1zm107 0zm104 0zm2 0zm15 0zm-241 1zm129 0zm78 0zm7 0zm6 0zm158 0zm-375 1zm200 0zm60 0zm119 0zm-226 1zm35 0zm7 0zm11 0zm-13 1zm170 0zm-258 1zm76 0zm45 0zm145 0zm11 0zm3 0zm12 0zm-169 1zm142 0zm-176 1zm46 0zm126 0zm-253 1zm62 0zm1 0zm22 0zm30 0zm36 0zm36 0zm1 0zm67 0zm13 0zm11 0zm-212 1zm186 0zm15 0zm8 0zm-287 1zm13 0zm1 0zm26 0zm8 0zm52 0zm167 0zm-274 1zm82 0zm112 0zm66 0zm6 0zm21 0zm-286 1zm84 0zm118 0zm58 0zm-256 1zm11 0zm79 0zm142 0zm29 0zm-247 1zm22 0zm63 0zm27 0zm38 0zm11 0zm51 0zm4 0zm57 0zm-289 1zm271 0zm0 0zm11 0zm-293 1zm1 0zm29 0zm10 1zm138 0zm87 0zm-430 1zm159 0zm21 0zm7 0zm233 0zm2 0zm-458 1zm217 0zm71 0zm0 0zm42 0zm-345 1zm25 0zm354 0zm30 0zm101 0zm-467 1zm185 0zm5 0zm31 0zm137 0zm60 0zm13 0zm36 0zm13 0zm-530 1zm12 0zm14 0zm198 0zm145 0zm152 0zm0 0zm5 0zm-517 1zm23 0zm5 0zm7 0zm191 0zm26 0zm206 0zm0 0zm3 0zm37 0zm1 0zm12 0zm-528 1zm3 0zm95 0zm131 0zm17 0zm1 0zm66 0zm203 0zm20 0zm-528 1zm5 0zm21 0zm26 0zm409 0zm45 0zm5 0zm8 0zm-535 1zm2 0zm31 0zm47 0zm122 0zm9 0zm24 0zm247 0zm60 0zm-535 1zm1 0zm0 0zm12 0zm199 0zm48 0zm1 0zm2 0zm88 0zm-355 1zm31 0zm20 0zm1 0zm153 0zm7 0zm0 0zm9 0zm8 0zm139 0zm82 0zm-428 1zm6 0zm25 0zm10 0zm49 0zm166 0zm43 0zm196 0zm7 0zm1 0zm7 0zm-478 1zm3 0zm53 0zm76 0zm169 0zm7 0zm58 0zm-426 1zm48 0zm7 0zm32 0zm27 0zm1 0zm15 0zm64 0zm240 0zm29 0zm4 0zm-463 1zm7 0zm15 0zm1 0zm44 0zm59 0zm62 0zm260 0zm89 0zm6 0zm1 0zm-540 1zm9 0zm27 0zm2 0zm36 0zm20 0zm20 0zm33 0zm143 0zm147 0zm4 0zm100 0zm-554 1zm1 0zm11 0zm26 0zm12 0zm4 0zm45 0zm9 0zm56 0zm135 0zm9 0zm2 0zm3 0zm7 0zm122 0zm5 0zm9 0zm6 0zm101 0zm-573 1zm15 0zm38 0zm28 0zm73 0zm16 0zm145 0zm21 0zm-333 1zm14 0zm21 0zm8 0zm12 0zm27 0zm20 0zm0 0zm29 0zm10 0zm37 0zm265 0zm0 0zm0 0zm3 0zm-447 1zm28 0zm55 0zm89 0zm267 0zm11 0zm-451 1zm17 0zm52 0zm5 0zm21 0zm24 0zm11 0zm224 0zm5 0zm211 0zm-474 1zm11 0zm40 0zm201 0zm10 0zm2 0zm67 0zm8 0zm-421 1zm2 0zm22 0zm12 0zm6 0zm17 0zm5 0zm10 0zm0 0zm51 0zm223 0zm209 0zm0 0zm-571 1zm16 0zm15 0zm15 0zm10 0zm2 0zm11 0zm17 0zm25 0zm30 0zm7 0zm220 0zm6 0zm2 0zm20 0zm44 0zm128 0zm-576 1zm17 0zm31 0zm3 0zm5 0zm13 0zm48 0zm4 0zm15 0zm252 0zm15 0zm0 0zm3 0zm23 0zm4 0zm146 0zm1 0zm-557 1zm12 0zm15 0zm3 0zm1 0zm30 0zm4 0zm8 0zm6 0zm21 0zm8 0zm273 0zm179 0zm6 0zm-585 1zm17 0zm47 0zm2 0zm2 0zm14 0zm56 0zm219 0zm-346 1zm7 0zm5 0zm3 0zm65 0zm15 0zm13 0zm13 0zm183 0zm264 0zm-568 1zm5 0zm89 0zm15 0zm12 0zm461 0zm-581 1zm21 0zm14 0zm17 0zm515 0zm-557 1zm9 0zm1 0zm22 0zm4 0zm7 0zm14 0zm21 0zm-65 1zm23 0zm13 0zm508 0zm7 0zm2 0zm-573 1zm21 0zm25 0zm57 0zm194 0zm19 0zm-330 1zm34 0zm5 0zm305 0zm-347 1zm3 0zm7 0zm3 0zm10 0zm3 0zm0 0zm36 0zm1 0zm17 0zm55 0zm194 0zm13 0zm-302 1zm61 0zm239 0zm3 0zm22 0zm221 0zm-577 1zm6 0zm38 0zm56 0zm9 0zm475 0zm-599 1zm35 0zm6 0zm13 0zm16 0zm1 0zm289 0zm71 0zm-424 1zm27 0zm5 0zm9 0zm5 0zm34 0zm234 0zm19 0zm-335 1zm35 0zm0 0zm31 0zm10 0zm36 0zm1 0zm10 0zm198 0zm1 0zm-307 1zm7 0zm3 0zm17 0zm3 0zm10 0zm2 0zm0 0zm11 0zm1 0zm34 0zm24 0zm212 0zm22 0zm-355 1zm56 0zm15 0zm36 0zm5 0zm190 0zm-312 1zm7 0zm9 0zm33 0zm19 0zm18 0zm38 0zm217 0zm-339 1zm23 0zm1 0zm17 0zm2 0zm11 0zm13 0zm12 0zm26 0zm209 0zm32 0zm-341 1zm5 0zm5 0zm4 0zm27 0zm14 0zm13 0zm7 0zm45 0zm80 0zm4 0zm135 0zm-333 1zm8 0zm11 0zm1 0zm23 0zm-26 1zm97 0zm78 0zm166 0zm-370 1zm15 0zm12 0zm51 0zm25 0zm110 0zm133 0zm5 0zm22 0zm-343 1zm16 0zm5 0zm7 0zm8 0zm33 0zm8 0zm99 0zm128 0zm45 0zm-364 1zm25 0zm16 0zm2 0zm8 0zm5 0zm261 0zm109 0zm5 0zm-444 1zm51 0zm8 0zm1 0zm34 0zm112 0zm-203 1zm7 0zm33 0zm42 0zm5 0zm13 0zm102 0zm231 0zm-417 1zm5 0zm47 0zm28 0zm106 0zm10 0zm-157 1zm41 0zm102 0zm-190 1zm18 0zm11 0zm0 0zm9 0zm9 0zm10 0zm11 0zm13 0zm18 0zm115 0zm-206 1zm4 0zm29 0zm11 0zm13 0zm15 0zm28 0zm87 0zm-144 1zm11 0zm148 0zm-221 1zm28 0zm2 0zm23 0zm7 0zm20 0zm22 0zm5 0zm8 0zm348 0zm-463 1zm29 0zm15 0zm20 0zm9 0zm19 0zm2 0zm364 0zm-459 1zm66 0zm9 0zm10 0zm137 0zm-180 1zm-43 1zm9 0zm15 0zm10 0zm14 0zm1 0zm24 0zm8 0zm144 0zm8 0zm1 0zm-212 1zm8 0zm14 0zm28 0zm12 0zm1 0zm6 0zm4 0zm324 0zm50 0zm-399 1zm7 0zm3 0zm147 0zm2 0zm-219 1zm22 0zm22 0zm12 0zm22 0zm141 0zm233 0zm-33 1zm37 0zm-444 1zm32 0zm25 0zm145 0zm234 0zm4 0zm31 0zm2 0zm-479 1zm15 0zm15 0zm28 0zm156 0zm-216 1zm6 0zm12 0zm38 0zm167 0zm193 0zm30 0zm36 0zm-489 1zm214 0zm-168 1zm14 0zm173 0zm-221 1zm217 0zm3 0zm222 0zm-428 1zm2 0zm35 0zm316 0zm76 0zm0 0zm3 0zm38 0zm8 0zm-485 1zm14 0zm4 0zm337 0zm81 0zm-403 1zm5 0zm181 0zm2 0zm209 0zm-436 1zm5 0zm11 0zm12 0zm201 0zm205 0zm89 0zm-297 1zm1 0zm4 0zm190 0zm14 0zm12 0zm50 0zm-468 1zm3 0zm405 0zm-420 1zm210 0zm3 0zm134 0zm64 0zm91 0zm-507 1zm212 2zm293 0zm4 0zm-156 1zm147 0zm3 0zm0 0zm2 0zm-498 1zm220 0zm0 0zm4 0zm270 0zm1 0zm-285 1zm7 0zm277 0zm-152 1zm-108 2zm109 0zm6 0zm69 0zm17 0zm2 0zm-205 1zm110 0zm149 0zm-55 1zm-19 1zm18 0zm43 0zm7 0zm-259 1zm260 0zm-248 1zm190 0zm-194 1zm186 0zm14 1zm-197 1zm2 0zm189 0zm7 0zm-197 1zm103 0zm94 0zm-203 1zm13 0zm173 0zm10 0zm52 0zm1 0zm-230 1zm108 0zm7 0zm63 0zm50 0zm-10 1zm-89 1zm41 0zm-172 1zm8 0zm65 0zm54 0zm98 1zm-211 1zm35 0zm16 0zm123 0zm-132 1zm165 0zm-185 1zm7 0zm3 0zm83 0zm23 0zm-104 1zm124 0zm44 0zm8 0zm-195 1zm142 0zm13 0zm29 0zm4 0zm3 0zm-64 1zm11 0zm48 0zm-183 1zm124 0zm6 0zm11 0zm-12 1zm51 0zm1 1zm2 0zm-168 1zm125 0zm35 0zm9 0zm-36 1zm27 0zm-22 3zm17 0zm-22 2zm20 0zm2 0zm-195 3zm0 1zm35 1zm-50 6zm9 0zm46 9zm3 0zm0 0zm3 2zm26 0zm13 1zm-90 2zm87 1zm4 0zm-20 1zm-26 2zm19 0zm-32 1zm23 0zm7 0zm16 0zm1 0zm9 0zm-109 3zm117 0zm-93 1zm66 0zm-94 2zm102 0zm-101 2zm91 0zm-99 1zm19 0zm1 0zm1 0zm19 0zm-14 1zm74 0zm49 0zm-114 1zm73 0zm25 0zm-103 1zm-26 2zm1 0zm7 0zm25 0zm100 0zm-133 1zm101 0zm2 0zm-3 1zm2 0zm9 0zm-110 1zm13 0zm11 0zm2 0zm-28 1zm1 0zm23 0zm82 0zm-101 1zm12 0zm9 0zm-22 1zm26 0zm3 0zm73 0zm-110 1zm124 0zm-103 1zm15 0zm6 0zm69 0zm-106 1zm19 0zm13 0zm68 0zm23 0zm-128 1zm30 0zm3 0zm1 0zm-27 1zm36 0zm70 0zm29 0zm-138 1zm9 0zm129 0zm-106 1zm78 1zm-116 1zm32 1zm-28 1zm19 0zm17 0zm-28 1zm117 0zm-115 1zm17 0zm-19 1zm11 0zm7 0zm6 0zm5 0zm-30 1zm34 0zm-2 1zm-19 1zm2 0zm-4 1zm11 0zm76 1zm-100 2zm12 0zm25 0zm68 0zm-117 1zm5 0zm19 0zm4 0zm2 0zm2 0zm1 0zm77 0zm2 0zm2 0zm1 0zm-84 1zm-22 1zm12 0zm15 0zm11 0zm1 0zm-40 1zm25 0zm8 0zm6 0zm30 0zm1 0zm0 0zm33 0zm-97 1zm27 0zm2 0zm26 0zm28 0zm12 0zm-96 1zm40 0zm3 0zm24 0zm15 0zm4 0zm5 0zm2 0zm-95 1zm12 0zm34 0zm22 0zm2 0zm7 0zm15 0zm3 0zm-73 1zm12 0zm0 0zm17 0zm32 0zm4 0zm-87 1zm7 0zm1 0zm11 0zm29 1zm16 0zm16 0zm2 0zm1 0zm3 0zm5 0zm5 0zm-12 1zm-71 1zm3 1zm7 0zm15 0zm1 0zm-15 1zm-12 1zm3 0zm7 0zm3 1zm69 0z" stroke="#1B9E77"/><path d="M729 122zm-37 3zm0 4zm11 0zm19 0zm23 1zm-51 1zm27 0zm-506 1zm466 1zm77 0zm-559 1zm510 0zm-495 1zm467 0zm69 0zm-48 1zm0 0zm13 0zm27 0zm-552 1zm539 0zm-532 1zm0 0zm487 0zm55 0zm-534 1zm465 0zm-465 2zm8 0zm457 0zm53 0zm-499 1zm3 0zm438 0zm1 0zm56 0zm44 0zm-520 1zm422 0zm7 0zm2 0zm4 0zm9 0zm46 0zm-499 1zm-51 1zm25 0zm29 0zm430 1zm12 0zm11 0zm53 0zm-531 1zm36 0zm474 0zm7 0zm15 0zm-568 1zm495 0zm2 0zm22 0zm67 0zm-578 1zm19 0zm30 0zm6 0zm429 0zm3 0zm112 0zm-66 1zm-528 1zm491 0zm10 0zm6 0zm11 0zm50 0zm-505 1zm-48 1zm22 0zm460 0zm63 0zm-527 1zm460 0zm37 0zm36 0zm5 0zm29 0zm-592 1zm32 0zm567 0zm-572 1zm457 0zm0 0zm15 0zm23 0zm5 0zm61 0zm-587 1zm29 0zm458 0zm58 0zm51 0zm-611 1zm35 0zm29 0zm430 1zm12 0zm40 0zm74 0zm-633 1zm23 0zm18 0zm490 0zm-523 1zm524 0zm40 0zm-582 1zm8 0zm41 0zm15 0zm591 0zm-622 1zm8 0zm3 0zm34 0zm12 0zm529 0zm18 0zm-559 1zm419 0zm-469 1zm0 0zm15 0zm7 0zm17 0zm23 0zm1 0zm417 0zm18 0zm1 0zm111 0zm-566 1zm11 0zm27 0zm493 0zm19 0zm17 0zm22 0zm-624 1zm49 0zm27 0zm402 0zm8 0zm19 0zm10 0zm45 0zm13 0zm-520 1zm431 0zm-464 1zm38 0zm418 0zm-402 1zm417 0zm-499 1zm14 0zm40 0zm38 0zm404 0zm27 0zm92 0zm13 0zm-660 1zm56 0zm6 0zm2 0zm522 0zm7 0zm1 0zm-583 1zm17 0zm6 0zm17 0zm13 0zm57 0zm75 0zm367 0zm95 0zm-634 1zm73 0zm23 0zm492 0zm-521 1zm2 0zm105 0zm4 0zm308 0zm58 0zm1 0zm26 0zm15 0zm-616 1zm42 0zm88 0zm0 0zm431 0zm-502 1zm32 0zm21 0zm94 0zm27 0zm3 0zm330 0zm48 0zm-580 1zm13 0zm3 0zm70 0zm93 0zm5 0zm8 0zm364 0zm19 0zm-576 1zm3 0zm203 0zm-232 1zm62 0zm446 0zm-510 1zm591 0zm-602 1zm35 0zm499 0zm81 0zm-525 1zm402 0zm35 0zm-531 1zm13 0zm34 0zm61 0zm437 0zm-519 1zm5 0zm90 0zm513 0zm-620 1zm46 0zm-5 1zm65 0zm25 0zm-109 1zm69 0zm25 0zm0 0zm6 0zm6 0zm357 0zm-421 1zm-68 1zm5 0zm51 0zm60 0zm1 0zm-84 1zm14 0zm74 0zm9 0zm-92 1zm13 0zm16 0zm57 0zm3 0zm-124 1zm12 0zm127 0zm384 0zm8 0zm-530 1zm570 0zm-471 1zm5 0zm402 0zm-468 1zm7 0zm20 0zm33 0zm3 0zm20 0zm398 0zm-518 1zm1 0zm15 0zm36 0zm32 0zm3 0zm23 0zm-46 1zm35 0zm16 0zm19 0zm-114 1zm42 0zm501 0zm-571 1zm86 0zm12 0zm531 0zm-605 1zm26 0zm61 0zm-106 1zm11 0zm17 0zm40 0zm21 1zm1 0zm-27 1zm25 0zm38 0zm-88 1zm30 0zm77 0zm-136 1zm31 0zm90 0zm0 0zm338 0zm125 0zm-83 1zm20 0zm-522 1zm2 0zm24 0zm48 0zm25 0zm10 0zm38 0zm-152 1zm26 0zm118 0zm1 0zm12 0zm-67 1zm37 0zm420 0zm-543 1zm59 0zm13 0zm28 0zm-93 1zm6 0zm32 0zm5 0zm68 0zm487 0zm-602 1zm1 1zm21 0zm50 0zm2 0zm21 0zm24 0zm23 0zm315 0zm148 0zm-600 1zm5 0zm43 0zm93 0zm11 0zm304 0zm49 1zm-420 1zm33 0zm25 0zm485 0zm-591 1zm94 0zm472 0zm75 0zm-671 1zm2 0zm3 0zm24 0zm23 0zm34 0zm-91 1zm9 0zm15 0zm24 0zm391 0zm138 0zm-579 1zm38 0zm38 0zm72 0zm312 0zm180 0zm-579 1zm46 0zm480 0zm-511 1zm15 0zm24 0zm19 0zm2 0zm8 0zm13 0zm426 0zm64 0zm-549 1zm419 0zm28 0zm98 0zm-641 1zm26 0zm94 0zm464 0zm-508 1zm10 0zm497 0zm-566 1zm15 0zm9 0zm11 0zm33 0zm49 0zm441 0zm92 0zm-650 1zm16 0zm34 0zm26 0zm484 0zm84 0zm-621 1zm16 0zm7 0zm378 0zm248 0zm-678 1zm72 0zm509 1zm-531 1zm38 0zm24 0zm40 0zm373 1zm154 0zm6 0zm-585 1zm317 0zm-372 1zm23 0zm516 0zm-524 1zm21 0zm26 0zm459 0zm-413 1zm283 0zm144 0zm3 0zm101 0zm-673 1zm144 0zm-111 1zm31 0zm230 0zm259 0zm-473 1zm-36 1zm34 0zm325 0zm42 0zm122 0zm1 0zm-554 1zm59 0zm2 0zm1 0zm-46 1zm298 0zm219 0zm-196 2zm39 0zm129 0zm9 0zm8 0zm-535 1zm10 0zm4 0zm651 0zm-600 1zm2 0zm321 0zm-120 1zm3 1zm33 0zm230 0zm-486 1zm517 0zm-536 1zm367 0zm145 0zm29 0zm-570 1zm32 0zm41 0zm207 0zm53 0zm218 0zm-526 1zm238 0zm28 0zm64 0zm199 0zm-532 1zm282 0zm47 0zm160 0zm134 0zm-348 2zm-266 1zm318 0zm27 0zm144 0zm17 0zm-463 1zm14 0zm257 0zm-313 1zm3 0zm18 0zm221 0zm365 0zm-378 1zm130 0zm160 0zm7 0zm-262 1zm215 1zm-458 1zm36 1zm9 0zm-22 1zm305 1zm-340 1zm246 0zm-265 1zm29 0zm11 0zm5 0zm31 0zm6 0zm399 0zm-422 1zm1 0zm14 0zm-78 1zm64 0zm247 0zm-292 1zm19 0zm29 0zm2 0zm239 0zm200 0zm-429 1zm4 0zm2 0zm-24 1zm24 0zm393 0zm-117 1zm119 0zm28 0zm-432 1zm179 0zm83 0zm-264 1zm2 0zm9 0zm154 0zm123 0zm137 0zm-458 1zm218 0zm2 0zm14 0zm93 0zm-303 1zm317 0zm50 0zm-374 1zm177 0zm15 0zm12 0zm183 0zm-382 1zm316 0zm6 0zm-328 1zm0 0zm2 0zm17 0zm-21 1zm1 0zm24 0zm156 0zm16 0zm12 0zm-181 1zm149 0zm33 0zm-177 1zm153 0zm7 0zm2 0zm4 0zm13 0zm10 0zm-203 1zm141 0zm28 0zm10 0zm1 0zm3 0zm-208 1zm142 0zm54 0zm2 0zm10 0zm9 0zm12 0zm210 0zm-432 1zm106 0zm78 0zm14 0zm4 0zm6 0zm-199 1zm0 0zm3 0zm15 0zm13 0zm126 0zm3 0zm35 0zm3 0zm-194 1zm8 0zm177 0zm2 0zm14 0zm-199 1zm22 0zm131 0zm23 0zm7 0zm1 0zm-198 1zm11 0zm23 0zm77 0zm40 0zm37 0zm9 0zm4 0zm1 0zm25 0zm-188 1zm8 0zm50 0zm101 0zm2 0zm2 0zm15 0zm19 0zm-223 1zm7 0zm2 0zm10 0zm34 0zm38 0zm58 0zm45 0zm2 0zm9 0zm6 0zm-212 1zm23 0zm1 0zm22 0zm19 0zm30 0zm31 0zm28 0zm24 0zm17 0zm8 0zm-197 1zm1 0zm1 0zm12 0zm13 0zm5 0zm29 0zm102 0zm18 0zm20 0zm1 0zm-206 1zm3 0zm0 0zm3 0zm2 0zm3 0zm13 0zm1 0zm0 0zm35 0zm3 0zm28 0zm49 0zm7 0zm32 0zm5 0zm38 0zm-219 1zm3 0zm2 0zm1 0zm3 0zm1 0zm3 0zm3 0zm5 0zm12 0zm54 0zm62 0zm23 0zm8 0zm25 0zm-195 1zm8 0zm3 0zm6 0zm17 0zm58 0zm14 0zm64 0zm21 0zm13 0zm-217 1zm3 0zm7 0zm2 0zm0 0zm11 0zm8 0zm2 0zm3 0zm9 0zm4 0zm109 0zm1 0zm36 0zm19 0zm0 0zm5 0zm1 0zm7 0zm-216 1zm3 0zm9 0zm14 0zm7 0zm3 0zm1 0zm1 0zm4 0zm4 0zm1 0zm7 0zm3 0zm9 0zm36 0zm5 0zm16 0zm34 0zm1 0zm57 0zm-218 1zm13 0zm1 0zm3 0zm16 0zm3 0zm4 0zm1 0zm10 0zm9 0zm22 0zm11 0zm95 0zm17 0zm32 0zm-235 1zm8 0zm50 0zm3 0zm3 0zm57 0zm1 0zm60 0zm-169 1zm26 0zm2 0zm5 0zm36 0zm-42 1zm8 0zm7 0zm24 0zm50 0zm79 0zm-208 1zm21 0zm26 0zm9 0zm39 0zm37 0zm85 0zm2 0zm2 0zm-191 1zm1 0zm51 0zm1 0zm140 0zm7 0zm-68 1zm-130 1zm9 0zm43 0zm135 0zm-169 1zm1 0zm62 0zm116 0zm-206 1zm81 0zm127 0zm-180 1zm27 0zm7 0zm141 0zm-219 1zm5 0zm73 0zm153 0zm-235 1zm5 0zm179 0zm40 0zm8 0zm-48 1zm43 0zm4 0zm2 0zm13 0zm-201 1zm47 0zm11 0zm86 0zm-176 1zm21 0zm197 0zm-47 1zm57 0zm13 0zm-26 1zm14 0zm1 0zm9 0zm-68 1zm57 0zm-58 1zm44 0zm13 0zm16 0zm-238 1zm221 0zm12 0zm11 0zm-15 1zm6 0zm8 0zm12 2zm0 1zm-253 1zm233 0zm4 0zm3 0zm1 0zm7 0zm1 0zm-10 1zm7 0zm-76 1zm60 0zm7 0zm9 1zm-11 1zm7 0zm2 0zm-2 2zm61 1zm-68 1zm78 0zm-7 1zm-3 1zm46 0zm-41 1zm60 0zm-334 7zm-15 1zm2 0zm-10 1zm9 0zm53 0zm-35 1zm177 0zm-212 1zm32 0zm104 0zm94 1zm108 0zm-342 1zm13 0zm333 0zm-343 2zm76 0zm73 0zm209 0zm-121 1zm-241 2zm190 0zm-108 1zm67 1zm-169 1zm6 0zm2 0zm2 0zm9 0zm2 1zm158 2zm1 0zm-175 1zm1 0zm147 1zm10 0zm-161 1zm2 0zm254 0zm22 0zm-14 1zm110 0zm-174 1zm28 0zm29 0zm-81 1zm61 0zm13 0zm9 0zm133 0zm-218 1zm3 0zm44 0zm-46 1zm14 0zm180 1zm-284 1zm79 0zm12 0zm4 0zm-8 1zm2 0zm3 0zm27 0zm55 0zm129 0zm-283 1zm72 0zm-54 1zm88 0zm-81 1zm49 0zm-66 1zm105 0zm126 0zm-199 1zm130 0zm-171 1zm123 0zm5 0zm126 0zm-86 2zm-96 2zm91 0zm8 0zm-164 1zm242 0zm-451 1zm180 0zm-208 1zm364 0zm-332 1zm274 0zm179 0zm14 0zm-469 1zm209 0zm159 0zm-177 1zm-250 1zm407 0zm13 0zm9 0zm-424 1zm11 0zm12 0zm391 1zm-362 1zm340 0zm112 0zm-512 1zm63 1zm146 0zm193 0zm76 0zm-455 1zm309 0zm-290 1zm11 0zm46 0zm-47 1zm8 0zm401 0zm1 0zm-312 1zm165 0zm155 0zm-446 1zm26 0zm114 0zm-141 1zm24 0zm40 0zm367 0zm-448 1zm19 0zm56 0zm205 0zm29 0zm-321 1zm36 0zm50 0zm53 0zm17 0zm-157 1zm5 0zm36 0zm306 0zm6 0zm2 0zm-231 1zm10 0zm-129 1zm9 0zm11 0zm41 0zm86 0zm-139 1zm17 0zm1 0zm42 0zm56 0zm1 0zm244 0zm12 0zm-385 1zm7 0zm287 0zm128 0zm-393 1zm26 0zm38 0zm286 0zm-347 1zm103 0zm-129 1zm59 0zm52 0zm-51 1zm32 0zm-77 1zm-28 1zm42 0zm63 0zm206 0zm-304 1zm7 0zm123 0zm258 0zm-338 1zm-24 1zm33 0zm10 0zm34 0zm2 0zm-90 1zm373 0zm1 0zm-389 1zm15 0zm28 0zm8 0zm18 0zm314 0zm36 0zm1 0zm-406 1zm6 0zm14 0zm263 0zm48 0zm-329 1zm59 0zm-43 1zm30 0zm10 0zm48 0zm217 0zm85 0zm-368 1zm256 0zm-318 1zm393 0zm-368 1zm70 0zm271 1zm-341 1zm12 0zm24 0zm5 0zm15 0zm125 0zm-196 1zm10 0zm67 0zm10 0zm106 0zm-104 1zm23 0zm-61 1zm51 0zm468 0zm-559 1zm7 0zm93 0zm219 0zm96 0zm-439 1zm24 0zm18 0zm-14 1zm331 0zm-342 1zm192 0zm-181 1zm398 0zm17 0zm-329 1zm-115 1zm9 0zm42 0zm31 1zm16 0zm-87 1zm56 0zm15 0zm5 0zm-19 1zm27 1zm15 0zm319 0zm-221 1zm218 0zm5 0zm-373 1zm162 0zm-179 1zm3 0zm47 0zm330 0zm7 0zm-380 1zm377 0zm-387 1zm72 0zm319 0zm-363 1zm367 0zm132 0zm-535 1zm37 0zm368 0zm51 0zm-467 1zm2 0zm54 0zm387 0zm-452 1zm4 0zm17 0zm12 0zm0 0zm389 0zm52 0zm8 0zm0 0zm-480 1zm0 0zm409 0zm14 0zm3 0zm-406 1zm25 0zm391 0zm2 0zm-9 1zm14 0zm45 0zm0 0zm-469 1zm10 0zm5 0zm396 0zm8 0zm-408 1zm393 0zm70 0zm-428 1zm354 0zm7 0zm10 0zm12 0zm45 0zm9 0zm38 0zm-499 1zm401 0zm7 0zm59 0zm-84 1zm11 0zm2 0zm8 0zm3 0zm-214 1zm200 0zm11 0zm0 0zm6 0zm0 0zm87 0zm-96 1zm6 0zm2 0zm0 0zm2 0zm84 0zm-487 1zm191 0zm211 0zm59 0zm22 0zm-288 1zm193 0zm-403 1zm416 0zm57 0zm-262 1zm204 0zm0 0zm1 0zm71 0zm2 1zm-278 1zm2 0zm192 0zm7 0zm-202 1zm197 1zm83 0zm-75 2zm64 3zm-243 3zm245 0zm-251 1zm190 0zm54 1zm-238 2zm104 1zm13 1zm71 0zm-184 1zm98 0zm-31 1zm51 1zm64 0zm-21 5zm1 2zm5 0zm-147 2zm139 0zm-1 1zm25 0zm-157 3zm151 0zm30 1zm0 0zm-25 1zm6 0zm12 0zm-4 1zm-150 2zm155 3zm-195 6zm24 1zm-4 1zm1 0zm-3 1zm21 0zm50 7zm-44 1zm0 0zm4 1zm-49 2zm-6 1zm92 0zm-83 1zm81 0zm-32 1zm56 1zm-72 1zm16 0zm39 0zm-40 1zm2 0zm11 0zm-8 1zm13 0zm3 1zm-99 2zm87 0zm7 0zm50 0zm-124 1zm64 0zm3 0zm-48 1zm-10 1zm31 0zm8 0zm35 1zm38 0zm3 0zm-131 1zm24 0zm-37 1zm2 0zm130 0zm-126 1zm22 0zm-13 1zm31 0zm-22 2zm114 0zm-142 1zm12 0zm3 0zm12 0zm7 0zm3 0zm72 0zm10 0zm-92 1zm5 0zm68 0zm2 0zm33 0zm-146 1zm16 0zm96 1zm-110 1zm115 0zm-85 1zm91 0zm0 0zm-102 1zm13 0zm0 0zm113 0zm-138 1zm114 0zm-114 1zm30 0zm89 0zm17 0zm-133 3zm28 0zm-38 1zm26 0zm20 0zm-21 1zm99 0zm-96 1zm124 0zm-150 1zm16 0zm112 0zm5 2zm-132 2zm136 0zm-5 1zm-113 1zm2 0zm-8 1zm11 3zm-19 1zm-2 1zm4 0zm11 1zm4 0zm61 0zm21 0zm3 0zm-76 1zm9 0zm4 0zm28 0zm33 0zm9 0zm-113 1zm4 0zm79 0zm13 0zm-86 1zm97 0zm-70 1zm73 0zm-60 1zm37 0zm14 0zm-91 1zm26 0zm61 0zm-60 1zm12 0zm1 0zm48 0zm-78 1zm7 0zm15 0zm19 0zm-5 1zm-12 2zm-8 2zm-7 1zm39 1z" stroke="#E7298A"/><path d="M709 122zm-1 3zm14 0zm7 0zm1 0zm-11 1zm-2 3zm18 0zm10 0zm-53 1zm25 0zm-33 1zm11 0zm25 0zm-518 2zm484 0zm10 0zm34 0zm6 0zm2 1zm-39 1zm-504 2zm534 0zm3 0zm-532 1zm474 0zm22 0zm16 0zm-35 1zm44 0zm3 0zm25 0zm12 0zm-552 1zm460 0zm29 0zm-508 1zm477 0zm26 0zm16 0zm24 0zm-517 1zm456 0zm24 0zm37 0zm25 0zm-65 1zm64 0zm-65 1zm67 0zm-14 2zm7 0zm-83 1zm8 0zm80 0zm8 0zm-46 1zm56 0zm1 0zm-97 1zm6 0zm3 0zm23 0zm72 0zm5 0zm-75 1zm27 0zm48 0zm-586 1zm518 1zm18 0zm25 0zm17 0zm-115 1zm55 0zm-504 1zm467 0zm58 0zm32 0zm-543 1zm485 0zm53 0zm27 0zm-99 1zm-496 1zm46 0zm440 0zm1 0zm5 0zm84 0zm30 0zm-545 1zm0 0zm471 0zm-547 1zm13 0zm499 0zm22 0zm44 0zm-79 1zm11 0zm51 0zm-556 1zm6 0zm62 0zm430 0zm28 0zm9 0zm10 0zm69 0zm-109 1zm-490 1zm2 0zm478 0zm6 0zm62 0zm-588 1zm503 0zm35 0zm47 0zm75 0zm-546 1zm411 0zm55 0zm11 0zm7 0zm68 0zm-593 1zm447 0zm29 0zm45 0zm54 0zm4 0zm4 0zm-548 1zm405 0zm78 0zm-493 1zm399 0zm99 0zm13 0zm-565 1zm529 0zm-475 1zm406 0zm8 0zm1 0zm12 0zm59 0zm31 0zm24 0zm24 0zm-158 1zm60 0zm31 0zm18 0zm44 0zm6 0zm-152 1zm20 0zm32 0zm33 0zm11 0zm10 0zm-622 1zm108 0zm5 0zm378 0zm79 0zm-576 1zm512 0zm11 0zm41 0zm98 0zm-599 1zm434 0zm12 0zm73 0zm32 0zm-46 1zm35 0zm-595 1zm27 0zm14 0zm518 0zm32 0zm-52 1zm-496 1zm61 0zm389 0zm91 0zm44 0zm-616 1zm57 0zm60 0zm-142 1zm2 0zm0 0zm81 0zm-52 1zm496 0zm72 0zm37 0zm-626 1zm496 0zm19 0zm20 0zm63 0zm22 0zm-121 1zm92 0zm-600 1zm502 0zm88 0zm-587 1zm55 0zm434 0zm88 0zm37 0zm-588 1zm469 0zm26 0zm57 0zm-87 1zm109 0zm-559 1zm459 0zm19 0zm78 0zm-574 1zm106 0zm348 0zm47 0zm-475 1zm85 0zm6 0zm353 0zm-487 1zm15 1zm98 0zm366 0zm36 0zm59 0zm34 0zm13 0zm-529 1zm456 0zm33 0zm-484 1zm43 0zm385 0zm-447 1zm395 0zm2 0zm15 0zm-484 1zm475 0zm58 0zm53 0zm84 0zm-682 1zm62 0zm417 0zm4 0zm0 0zm37 0zm65 0zm-581 1zm46 0zm432 0zm98 0zm5 0zm-98 1zm27 0zm12 0zm11 0zm4 0zm15 0zm29 0zm-10 1zm33 1zm-595 1zm74 0zm11 0zm374 0zm12 0zm9 0zm15 0zm80 0zm13 0zm-542 1zm425 0zm52 0zm7 0zm60 0zm2 0zm-508 1zm17 0zm397 0zm22 0zm61 0zm19 0zm-563 1zm7 0zm475 0zm70 0zm-589 1zm52 0zm24 0zm1 0zm36 0zm22 0zm4 0zm331 0zm39 0zm5 0zm-464 1zm22 0zm386 0zm49 0zm41 0zm21 0zm107 0zm-210 1zm38 0zm11 0zm44 0zm31 0zm-594 1zm58 0zm43 0zm47 0zm308 0zm11 0zm37 0zm46 0zm-553 1zm10 0zm12 0zm122 0zm389 0zm59 0zm-588 1zm102 0zm46 0zm5 0zm312 0zm3 0zm145 0zm73 0zm-235 1zm2 0zm1 0zm16 0zm43 0zm41 0zm62 0zm-164 1zm4 0zm89 0zm27 0zm107 0zm-676 1zm3 0zm444 0zm60 0zm11 0zm4 0zm74 0zm2 0zm86 0zm-233 1zm113 0zm106 0zm-588 1zm42 0zm458 0zm14 0zm-583 1zm2 0zm77 0zm28 0zm477 0zm84 0zm-230 1zm8 0zm59 0zm20 0zm5 0zm43 0zm4 0zm-578 1zm43 0zm84 0zm13 0zm290 0zm71 0zm4 0zm52 0zm-124 1zm6 0zm1 0zm1 0zm107 0zm-551 1zm84 0zm3 0zm349 0zm120 0zm27 0zm88 0zm-670 1zm127 0zm452 0zm-510 1zm64 0zm4 0zm288 0zm159 0zm73 0zm-632 1zm14 0zm380 1zm-410 1zm33 0zm497 0zm9 0zm-494 1zm373 0zm9 0zm78 0zm-428 1zm37 0zm303 0zm-399 1zm71 0zm52 0zm270 0zm5 0zm61 0zm-480 1zm154 0zm259 0zm21 0zm152 0zm-588 1zm22 0zm36 0zm17 0zm38 0zm474 0zm-587 1zm4 0zm422 0zm109 0zm153 0zm-694 1zm38 0zm520 0zm-546 1zm55 0zm359 0zm166 0zm88 0zm-658 1zm34 0zm517 0zm109 0zm-682 1zm298 0zm133 0zm160 0zm88 0zm-663 1zm67 0zm469 0zm-240 1zm287 0zm-585 1zm97 0zm300 0zm-391 1zm554 0zm-291 1zm13 1zm385 0zm-662 1zm66 0zm334 0zm-405 1zm5 0zm1 0zm47 0zm17 0zm330 0zm2 0zm-401 1zm4 0zm8 0zm42 0zm329 0zm14 0zm-387 1zm50 1zm336 0zm142 0zm127 0zm-632 1zm253 0zm114 0zm-386 2zm65 0zm230 0zm88 0zm-321 1zm1 0zm443 0zm2 0zm-518 1zm273 0zm20 0zm233 0zm-473 1zm28 0zm451 0zm6 0zm-254 1zm370 0zm5 0zm-650 1zm325 0zm208 0zm-149 1zm-318 1zm457 0zm117 0zm-638 1zm1 0zm377 0zm135 0zm29 0zm101 1zm-635 1zm68 0zm256 0zm188 0zm6 0zm-522 1zm538 0zm-528 1zm1 0zm33 0zm-37 1zm3 0zm3 0zm6 0zm43 0zm439 0zm-7 1zm50 1zm-538 4zm7 0zm319 0zm-272 1zm-48 1zm48 1zm12 1zm429 0zm-418 1zm432 0zm10 0zm-509 1zm54 0zm18 0zm276 0zm-348 1zm1 0zm501 0zm-428 1zm-46 1zm-30 1zm365 0zm104 0zm-118 1zm133 0zm-416 1zm6 0zm401 0zm13 1zm-492 2zm499 0zm-429 1zm96 0zm321 0zm-487 3zm480 0zm-5 1zm-471 1zm480 2zm-487 1zm93 0zm-92 1zm100 0zm-4 1zm-13 1zm39 1zm10 0zm140 0zm-192 1zm35 0zm174 0zm250 0zm-416 2zm419 0zm-424 2zm34 0zm-147 3zm548 0zm-442 1zm22 1zm429 0zm3 0zm5 0zm-553 1zm59 0zm482 0zm8 0zm4 0zm-491 1zm491 0zm-560 1zm149 0zm-160 1zm10 0zm0 0zm120 0zm-115 1zm81 0zm477 0zm-571 2zm306 0zm-309 1zm14 1zm-16 1zm95 0zm-92 1zm98 2zm5 2zm242 13zm94 1zm2 1zm-97 3zm-17 1zm132 0zm-114 1zm5 0zm3 0zm6 0zm101 0zm-133 1zm8 1zm13 0zm114 1zm-111 1zm112 0zm-135 1zm9 0zm125 0zm-151 1zm14 0zm6 1zm27 0zm-128 1zm94 1zm5 0zm121 0zm-124 2zm13 0zm-34 1zm13 0zm1 0zm0 0zm4 0zm18 0zm-161 1zm126 0zm3 0zm4 0zm1 0zm17 1zm139 0zm-153 1zm23 0zm3 0zm-45 1zm8 0zm2 0zm2 0zm4 0zm9 0zm-20 1zm19 0zm-34 1zm18 0zm4 0zm-20 1zm18 0zm36 0zm-38 1zm-39 1zm26 0zm8 0zm12 0zm21 0zm115 0zm-165 1zm4 0zm-22 1zm68 1zm110 1zm-194 1zm30 0zm10 0zm2 0zm19 0zm121 0zm-165 1zm17 0zm123 0zm40 0zm-135 1zm-47 1zm3 0zm12 1zm-3 1zm9 0zm65 2zm91 0zm11 0zm5 0zm21 0zm-40 2zm-1 1zm5 0zm-431 1zm374 0zm-1 1zm53 0zm-479 3zm24 1zm421 0zm-28 1zm11 0zm11 0zm24 1zm-3 1zm7 0zm-467 1zm244 0zm58 0zm102 0zm74 0zm35 0zm-525 1zm4 0zm448 0zm-422 1zm399 0zm-434 1zm462 0zm51 0zm-527 1zm42 0zm436 0zm-416 1zm353 0zm-389 2zm43 0zm385 0zm-458 1zm56 0zm382 0zm12 0zm79 0zm-492 1zm331 0zm44 0zm-418 1zm28 0zm9 0zm293 0zm-306 1zm21 0zm18 0zm389 0zm117 0zm-513 1zm510 1zm-536 1zm33 3zm49 0zm22 0zm243 0zm192 0zm16 0zm-218 1zm-344 1zm-23 1zm25 0zm556 0zm9 0zm-570 1zm46 0zm319 0zm195 0zm-575 1zm48 0zm15 0zm513 0zm-531 1zm535 0zm-572 1zm45 0zm524 0zm-5 1zm-534 1zm536 0zm3 1zm-490 1zm-38 1zm527 0zm-508 1zm500 0zm-582 3zm119 0zm-20 1zm-18 1zm122 0zm-131 1zm-34 3zm7 1zm12 0zm7 4zm140 0zm-180 1zm38 1zm-21 1zm57 1zm-64 1zm181 0zm-153 1zm-50 1zm12 0zm49 0zm142 2zm-187 1zm73 0zm-90 1zm27 0zm34 0zm353 1zm-422 1zm59 0zm155 0zm212 2zm-415 1zm59 0zm-30 4zm188 0zm1 0zm-158 1zm167 0zm-223 1zm2 0zm217 0zm148 1zm-327 1zm-28 3zm350 0zm-133 2zm129 0zm6 0zm-131 2zm6 0zm125 1zm1 0zm-121 3zm4 0zm115 1zm-3 1zm0 2zm-106 1zm3 0zm95 0zm-94 1zm6 5zm85 1zm16 0zm-96 1zm2 1zm83 0zm-15 1zm74 0zm-76 1zm-1 2zm-4 1zm-39 2zm32 0zm-6 1zm-7 15zm-2 7zm-17 4zm24 0zm-6 1zm-10 5zm6 1zm29 3zm21 1zm-34 1zm53 1zm-39 1zm14 0zm-16 1zm17 1zm-16 1zm-86 1zm6 0zm22 1zm104 0zm-71 2zm24 3zm-85 1zm52 1zm60 1zm-94 1zm-35 2zm16 0zm4 0zm85 1zm38 0zm-113 1zm-30 1zm111 1zm-104 6zm1 0zm10 1zm11 2zm101 0zm-80 1zm-14 4zm-30 1zm30 0zm-30 2zm39 0zm-24 1zm18 1zm-37 1zm40 0zm83 0zm-117 2zm3 1zm18 0zm18 0zm22 7zm-46 1zm60 0zm4 0zm-63 1zm64 1zm-59 2zm2 4z" stroke="#7570B3"/><path d="M709 126zm-19 4zm11 0zm-488 3zm462 3zm13 0zm26 0zm46 0zm-9 1zm-560 1zm27 0zm523 0zm-531 1zm10 0zm533 0zm-555 1zm563 0zm-547 1zm496 0zm-512 1zm12 0zm9 1zm448 0zm87 0zm-533 1zm26 0zm509 0zm-568 1zm483 0zm71 0zm28 0zm-565 1zm464 0zm22 0zm54 0zm-494 2zm498 0zm-62 1zm83 0zm-559 1zm538 0zm13 0zm-575 1zm26 0zm4 0zm472 0zm-443 1zm416 0zm96 0zm-584 1zm4 0zm499 0zm31 0zm-512 1zm1 0zm11 0zm16 0zm478 0zm2 0zm28 0zm36 0zm30 0zm-598 1zm15 0zm32 0zm432 0zm25 0zm10 0zm26 0zm-81 1zm59 0zm19 0zm2 0zm28 0zm32 0zm-602 1zm9 0zm25 0zm28 0zm487 0zm8 0zm-501 1zm434 0zm38 0zm24 0zm-574 1zm4 0zm51 0zm469 0zm27 0zm42 0zm-602 1zm25 0zm-15 1zm520 0zm34 0zm32 0zm-555 1zm11 0zm21 0zm29 0zm477 0zm45 0zm3 0zm-565 1zm25 0zm428 0zm32 0zm-522 1zm30 0zm491 0zm52 0zm-593 1zm36 0zm8 0zm1 0zm16 0zm26 0zm16 0zm393 0zm18 0zm-487 1zm1 0zm64 0zm10 0zm397 0zm-494 1zm588 0zm12 0zm-580 1zm541 0zm-551 1zm87 0zm442 0zm103 0zm2 0zm-643 1zm107 0zm408 0zm3 0zm14 0zm-530 1zm495 0zm15 0zm57 0zm-544 1zm19 0zm-65 1zm113 0zm452 0zm-553 1zm5 0zm47 0zm25 0zm15 0zm108 0zm370 0zm-574 1zm5 0zm12 0zm16 0zm2 0zm22 0zm18 0zm43 0zm104 0zm294 0zm48 0zm-559 1zm23 0zm14 0zm32 0zm21 0zm104 0zm8 0zm335 0zm31 0zm8 0zm-578 1zm13 0zm16 0zm156 0zm3 0zm21 0zm2 0zm11 0zm401 0zm-638 1zm29 0zm6 0zm35 0zm1 0zm134 0zm6 0zm9 0zm19 0zm262 0zm-419 1zm157 0zm281 0zm66 0zm-568 1zm30 0zm8 0zm52 0zm16 0zm78 0zm-157 1zm12 0zm13 0zm12 0zm522 0zm-511 1zm532 0zm-626 1zm36 0zm12 0zm576 0zm-566 1zm55 0zm386 0zm-496 2zm105 0zm392 0zm55 0zm-549 1zm1 0zm64 0zm60 0zm-130 1zm19 0zm-20 1zm1 0zm2 0zm14 0zm3 0zm37 0zm13 0zm24 0zm9 0zm44 0zm351 0zm185 0zm-662 1zm5 0zm14 0zm21 0zm12 0zm9 0zm5 0zm30 0zm397 0zm52 0zm-466 1zm15 0zm465 0zm-579 1zm11 0zm57 0zm-46 1zm5 0zm6 0zm67 0zm7 0zm20 0zm448 0zm-578 1zm68 0zm460 0zm-485 1zm50 0zm22 0zm479 0zm8 0zm-576 1zm35 0zm3 0zm6 0zm-56 1zm93 0zm584 0zm-639 1zm15 0zm83 0zm5 0zm365 0zm-514 1zm9 0zm87 0zm420 0zm3 0zm-487 1zm27 0zm36 0zm48 0zm422 1zm-567 1zm5 0zm0 0zm37 0zm542 0zm-560 1zm70 0zm13 0zm369 0zm-449 1zm7 0zm47 0zm13 0zm-41 1zm-30 1zm7 0zm120 0zm-138 1zm19 0zm52 0zm4 0zm28 0zm9 0zm11 0zm432 0zm-521 1zm-36 1zm45 0zm15 0zm53 0zm22 0zm361 0zm27 0zm-499 1zm72 0zm18 0zm10 0zm-125 1zm33 0zm32 0zm438 0zm34 0zm30 0zm-572 1zm62 0zm20 0zm16 0zm-89 1zm3 0zm23 0zm61 0zm15 0zm-13 1zm20 0zm-106 1zm90 0zm-51 1zm5 0zm60 0zm3 0zm4 0zm324 0zm169 0zm-559 1zm9 0zm7 0zm63 0zm16 0zm10 0zm364 0zm-514 1zm35 0zm1 0zm26 0zm88 0zm382 0zm22 0zm-499 1zm58 0zm2 0zm-113 1zm3 0zm39 0zm80 0zm23 0zm-147 1zm11 0zm23 0zm14 0zm52 0zm30 0zm449 0zm-522 1zm2 0zm-25 1zm7 0zm17 0zm10 0zm2 0zm1 0zm6 0zm7 0zm33 0zm548 0zm-638 1zm31 0zm33 0zm9 0zm19 0zm6 0zm382 0zm64 0zm-524 1zm32 0zm574 0zm-595 1zm8 0zm51 0zm-110 1zm6 0zm4 0zm25 0zm69 0zm-87 1zm28 0zm24 0zm40 0zm37 0zm288 0zm-407 1zm16 0zm46 0zm-42 1zm13 0zm2 0zm66 0zm24 0zm424 0zm-427 1zm435 0zm-519 1zm92 0zm1 0zm-111 1zm75 0zm4 0zm30 0zm298 0zm-379 1zm504 0zm-486 1zm29 0zm-63 1zm12 0zm39 0zm8 0zm477 0zm-516 1zm17 0zm1 0zm15 0zm442 0zm-498 1zm27 0zm586 0zm-606 1zm32 0zm66 0zm522 0zm-645 1zm63 0zm0 1zm214 0zm372 1zm-591 2zm4 0zm189 0zm32 0zm-260 1zm388 0zm-348 1zm5 0zm469 1zm-271 1zm272 0zm-553 1zm570 0zm78 0zm-623 1zm25 0zm261 0zm-296 1zm9 0zm408 0zm96 0zm24 0zm-481 1zm2 0zm218 0zm79 0zm190 0zm93 0zm-624 1zm23 0zm25 0zm176 0zm45 0zm263 0zm-488 1zm3 0zm298 0zm177 0zm10 0zm1 0zm-28 1zm104 0zm-557 1zm-65 1zm53 0zm14 0zm292 0zm-353 1zm518 0zm-516 1zm512 0zm-463 2zm7 0zm0 0zm205 0zm-237 1zm29 0zm0 0zm298 0zm-332 1zm31 0zm10 0zm4 0zm216 0zm-221 1zm436 0zm-460 1zm7 0zm20 0zm0 0zm255 0zm-274 1zm321 0zm-367 1zm10 0zm37 0zm283 0zm71 1zm40 0zm67 0zm0 0zm-506 1zm280 0zm-229 1zm18 0zm217 0zm-261 1zm137 0zm347 0zm6 0zm-15 1zm20 0zm-529 2zm80 0zm164 0zm131 0zm112 0zm29 1zm-29 1zm-418 1zm14 0zm289 0zm138 0zm-451 1zm4 0zm192 0zm2 0zm-10 1zm133 0zm-295 1zm172 0zm6 0zm-254 1zm211 0zm38 0zm4 0zm1 0zm136 0zm-329 1zm11 0zm114 0zm70 0zm6 0zm-215 1zm6 0zm1 0zm6 0zm180 0zm3 0zm23 0zm3 0zm-209 1zm11 0zm16 0zm155 0zm3 0zm2 0zm-5 1zm1 0zm10 0zm15 0zm-215 1zm7 0zm142 0zm2 0zm36 0zm18 0zm-191 1zm164 0zm19 0zm8 0zm5 0zm-214 1zm117 0zm3 0zm72 0zm8 0zm1 0zm-26 1zm13 0zm8 0zm3 0zm1 0zm2 0zm2 0zm8 0zm184 0zm-386 1zm2 0zm1 0zm16 0zm97 0zm21 0zm38 0zm198 0zm-375 1zm3 0zm2 0zm182 0zm3 0zm4 0zm16 0zm6 0zm-218 1zm6 0zm97 0zm23 0zm61 0zm6 0zm19 0zm1 0zm3 0zm9 0zm153 0zm-359 1zm21 0zm7 0zm46 0zm32 0zm39 0zm47 0zm-215 1zm14 0zm17 0zm75 0zm59 0zm38 0zm12 0zm4 0zm1 0zm7 0zm-215 1zm4 0zm13 0zm6 0zm12 0zm61 0zm3 0zm37 0zm3 0zm56 0zm6 0zm5 0zm-212 1zm20 0zm2 0zm7 0zm15 0zm13 0zm14 0zm27 0zm12 0zm38 0zm1 0zm3 0zm6 0zm21 0zm21 0zm20 0zm-208 1zm3 0zm4 0zm2 0zm5 0zm34 0zm17 0zm70 0zm18 0zm56 0zm2 0zm4 0zm8 0zm2 0zm246 0zm-481 1zm8 0zm1 0zm9 0zm7 0zm0 0zm12 0zm10 0zm7 0zm1 0zm15 0zm7 0zm27 0zm62 0zm7 0zm48 0zm-208 1zm2 0zm10 0zm9 0zm11 0zm0 0zm2 0zm1 0zm6 0zm7 0zm1 0zm6 0zm63 0zm9 0zm-128 1zm17 0zm1 0zm12 0zm2 0zm3 0zm15 0zm6 0zm3 0zm1 0zm2 0zm5 0zm77 0zm12 0zm30 0zm28 0zm4 0zm-219 1zm3 0zm2 0zm8 0zm14 0zm28 0zm1 0zm1 0zm11 0zm58 0zm64 0zm-178 1zm11 0zm2 0zm2 0zm19 0zm2 0zm7 0zm7 0zm-44 1zm16 0zm8 0zm11 0zm12 0zm56 0zm22 0zm44 0zm28 0zm6 0zm-222 1zm6 0zm17 0zm41 0zm153 0zm7 0zm-160 1zm4 0zm13 0zm19 0zm128 0zm-202 1zm26 0zm3 0zm24 0zm150 0zm-189 1zm18 0zm14 0zm19 0zm0 0zm23 0zm26 0zm92 0zm254 0zm-476 1zm8 0zm25 0zm58 0zm16 0zm70 0zm-97 1zm138 0zm14 0zm-231 1zm38 0zm54 0zm27 0zm99 0zm1 0zm-170 1zm17 0zm1 0zm159 0zm3 0zm-183 1zm10 0zm-24 1zm27 0zm64 1zm56 0zm48 0zm-225 1zm176 0zm3 0zm-131 1zm17 0zm155 0zm13 0zm8 0zm-209 1zm193 0zm-3 1zm-121 1zm131 0zm-183 1zm129 0zm79 1zm-13 1zm-9 1zm3 0zm3 0zm-28 1zm5 0zm41 0zm-253 1zm172 0zm74 0zm-30 1zm18 0zm14 0zm68 0zm-88 1zm17 0zm1 0zm5 1zm-9 1zm17 0zm-22 1zm8 0zm13 0zm-12 1zm72 0zm-76 1zm3 0zm72 0zm-8 1zm-61 1zm65 0zm-1 1zm3 0zm-77 1zm-105 3zm-108 2zm-8 3zm141 0zm-62 1zm49 0zm-115 1zm-18 1zm23 0zm198 0zm-219 1zm4 0zm2 0zm-9 1zm2 0zm2 0zm-7 1zm8 0zm2 0zm-8 2zm6 1zm150 0zm15 0zm52 0zm-237 1zm13 0zm4 0zm233 1zm134 0zm-158 2zm-57 1zm-82 1zm91 0zm65 0zm10 0zm128 0zm-378 1zm10 0zm133 0zm14 0zm80 0zm-28 1zm-220 1zm1 0zm12 0zm-11 2zm96 0zm103 0zm181 0zm-379 1zm206 0zm-34 1zm-173 2zm211 0zm23 0zm-41 1zm37 0zm13 0zm124 0zm-14 1zm-76 2zm-117 1zm52 0zm9 0zm-47 1zm152 0zm-68 1zm36 0zm-202 2zm254 0zm-245 1zm177 0zm-193 1zm79 0zm55 0zm144 1zm-165 1zm-109 1zm10 0zm73 0zm31 1zm5 0zm-92 1zm121 0zm100 0zm13 0zm-73 2zm74 0zm31 0zm-515 1zm32 0zm7 0zm368 0zm-177 1zm114 0zm46 0zm-381 1zm21 1zm60 0zm119 0zm46 0zm35 0zm-305 1zm37 0zm281 0zm66 0zm-347 1zm169 0zm31 0zm30 0zm-205 1zm2 0zm11 0zm-55 1zm69 0zm28 0zm7 0zm-104 1zm91 0zm55 0zm26 0zm-181 1zm266 0zm124 0zm-413 1zm45 0zm45 0zm40 0zm40 0zm33 0zm-182 1zm26 0zm19 0zm4 0zm60 0zm60 0zm3 0zm124 0zm-156 1zm-136 1zm16 0zm59 0zm221 0zm59 0zm-379 1zm3 0zm30 0zm43 0zm56 0zm308 0zm-446 1zm37 0zm0 0zm53 0zm296 0zm-386 1zm11 0zm61 1zm35 0zm241 0zm14 0zm-362 1zm4 0zm10 0zm127 0zm220 0zm67 0zm-50 1zm-303 1zm4 0zm282 0zm-373 1zm31 0zm19 0zm6 0zm46 0zm20 0zm-113 1zm53 0zm336 0zm-320 1zm40 0zm10 0zm-119 1zm40 0zm91 0zm144 0zm115 0zm-391 1zm102 1zm232 0zm26 0zm-355 1zm4 0zm53 0zm252 0zm-313 2zm65 0zm323 0zm-368 1zm19 0zm15 0zm-25 1zm18 0zm342 0zm-397 1zm50 0zm17 0zm281 0zm49 0zm-337 1zm14 0zm326 0zm32 0zm-430 2zm29 0zm2 1zm401 0zm-144 1zm-215 1zm36 0zm-107 1zm5 0zm17 0zm14 0zm86 0zm257 0zm-347 1zm51 0zm42 2zm-122 1zm77 0zm27 0zm-106 1zm62 0zm7 0zm128 0zm241 0zm-417 1zm50 0zm16 0zm24 0zm328 0zm-441 1zm43 0zm8 1zm18 1zm-58 1zm47 0zm33 0zm331 0zm-377 1zm-29 1zm73 0zm5 0zm347 0zm-439 1zm23 0zm59 1zm12 0zm321 0zm-371 1zm53 0zm321 0zm1 0zm-5 1zm12 0zm-359 1zm24 0zm329 0zm2 0zm7 0zm-11 1zm0 0zm12 0zm-423 1zm18 0zm199 0zm202 0zm1 0zm4 0zm0 0zm-204 1zm199 0zm4 0zm1 0zm26 0zm-435 1zm60 0zm331 0zm44 0zm-447 1zm26 0zm389 0zm3 0zm3 0zm5 0zm2 0zm45 0zm-480 1zm8 0zm16 0zm19 0zm13 0zm9 0zm362 0zm6 0zm19 0zm32 0zm-411 1zm380 0zm-387 1zm167 0zm192 0zm10 0zm7 0zm-411 1zm403 0zm5 0zm14 0zm-420 1zm389 0zm4 0zm5 0zm0 0zm3 0zm18 0zm41 0zm-454 1zm385 0zm21 0zm6 0zm-217 1zm193 0zm6 0zm19 0zm-419 1zm415 0zm4 0zm3 0zm74 0zm12 0zm-536 1zm25 0zm196 0zm211 0zm7 0zm3 0zm-434 1zm423 0zm-427 1zm415 0zm29 0zm53 0zm-484 1zm417 0zm96 0zm-86 1zm3 0zm5 0zm69 0zm-98 1zm16 0zm71 0zm-271 1zm193 0zm7 0zm4 1zm1 0zm3 0zm4 0zm-15 1zm-409 1zm422 1zm70 0zm-268 1zm198 0zm3 0zm68 0zm3 0zm-75 1zm69 0zm-259 2zm184 0zm21 2zm49 0zm-133 8zm122 2zm-165 2zm-56 1zm138 0zm-131 1zm136 0zm-7 1zm79 0zm-180 2zm118 0zm55 1zm-41 1zm44 0zm-55 1zm11 1zm0 1zm-3 1zm4 1zm14 0zm-142 1zm142 0zm5 0zm-20 1zm13 0zm-160 1zm156 0zm-180 1zm25 0zm5 1zm-22 2zm35 1zm2 2zm3 1zm-45 3zm30 2zm-1 3zm15 0zm-18 1zm-37 2zm53 0zm-5 1zm-25 1zm-15 1zm87 0zm-34 1zm35 0zm-13 2zm-19 1zm18 1zm6 0zm-70 1zm77 0zm-11 1zm4 1zm1 0zm12 1zm-10 1zm8 1zm-85 1zm101 2zm-32 1zm22 0zm-103 1zm-19 1zm5 0zm70 0zm15 0zm49 0zm-127 1zm16 0zm-36 1zm7 0zm91 0zm13 0zm4 0zm-92 1zm17 1zm28 0zm36 0zm-84 1zm16 1zm64 0zm4 0zm-77 1zm90 0zm-9 1zm-64 1zm-47 1zm17 0zm19 0zm4 0zm74 0zm31 0zm-128 1zm95 0zm37 0zm-110 1zm1 0zm-13 1zm83 0zm33 0zm2 1zm-134 1zm3 0zm124 0zm-129 1zm26 0zm2 0zm78 0zm11 0zm3 0zm0 0zm-107 1zm4 0zm90 1zm-120 1zm138 0zm1 0zm5 1zm-118 1zm119 0zm-132 1zm-1 2zm3 0zm-8 1zm30 1zm-11 1zm12 0zm90 0zm0 0zm-82 3zm0 2zm-37 1zm25 2zm46 2zm-54 1zm10 0zm39 0zm-28 1zm27 0zm14 0zm-8 1zm26 0zm-44 1zm44 0zm-86 1zm70 0zm1 0zm10 0zm-48 2zm41 0zm-70 2zm73 0zm-67 1zm34 0zm-45 1zm2 0zm10 0zm15 0z" stroke="#E7298A"/><path d="M727 120zm-26 2zm11 1zm22 1zm-8 2zm-43 1zm28 0zm20 0zm-8 1zm3 0zm8 0zm-33 1zm6 0zm-26 1zm44 0zm10 0zm-18 2zm2 0zm2 0zm9 0zm17 0zm-29 1zm2 0zm4 0zm4 0zm-510 1zm462 0zm15 0zm1 0zm54 0zm-61 1zm3 0zm67 0zm-546 1zm4 0zm481 0zm53 0zm-548 1zm11 0zm6 0zm5 0zm461 0zm6 0zm-503 1zm508 0zm27 0zm4 0zm-521 1zm-5 1zm1 0zm16 0zm18 0zm460 0zm26 0zm20 0zm-544 1zm27 0zm439 0zm50 0zm-526 1zm12 0zm6 0zm7 0zm468 0zm43 0zm-539 1zm29 0zm17 0zm2 0zm463 0zm7 0zm14 0zm-516 1zm4 0zm485 0zm46 0zm1 0zm12 0zm17 0zm-587 1zm6 0zm7 0zm1 0zm13 0zm10 0zm464 0zm36 0zm2 0zm25 0zm-557 1zm3 0zm7 0zm466 0zm10 1zm23 0zm16 0zm-507 1zm6 0zm452 0zm9 0zm5 0zm30 0zm40 0zm6 0zm20 0zm2 0zm-603 1zm16 0zm3 0zm508 0zm34 0zm20 0zm-580 1zm5 0zm20 0zm22 0zm27 0zm8 0zm420 0zm22 0zm3 0zm55 0zm11 0zm22 0zm-614 1zm20 0zm3 0zm2 0zm4 0zm460 0zm29 0zm29 0zm8 0zm3 0zm36 0zm12 0zm-581 1zm8 0zm10 0zm7 0zm12 0zm456 0zm24 0zm1 0zm9 0zm11 0zm15 0zm7 0zm-575 1zm2 0zm38 0zm438 0zm1 0zm12 0zm38 0zm30 0zm-563 1zm70 0zm417 0zm10 0zm86 0zm12 0zm-574 1zm9 0zm38 0zm6 0zm8 0zm404 0zm48 0zm22 0zm9 0zm4 0zm16 0zm27 0zm-620 1zm24 0zm37 0zm9 0zm3 0zm419 0zm13 0zm30 0zm3 0zm1 0zm25 0zm34 0zm37 0zm-634 1zm55 0zm9 0zm460 0zm15 0zm2 0zm34 0zm13 0zm5 0zm42 0zm-603 1zm41 0zm5 0zm433 0zm16 0zm24 0zm29 0zm14 0zm21 0zm23 0zm-643 1zm24 0zm5 0zm16 0zm4 0zm467 0zm6 0zm13 0zm35 0zm4 0zm53 0zm-575 1zm8 0zm46 0zm437 0zm9 0zm95 0zm-648 1zm9 0zm4 0zm20 0zm23 0zm21 0zm416 0zm3 0zm14 0zm20 0zm16 0zm7 0zm14 0zm0 0zm36 0zm-600 1zm17 0zm37 0zm4 0zm436 0zm62 0zm29 0zm6 0zm2 0zm50 0zm5 0zm4 0zm-660 1zm44 0zm7 0zm0 0zm12 0zm2 0zm4 0zm26 0zm19 0zm414 0zm18 0zm30 0zm1 0zm7 0zm-583 1zm8 0zm14 0zm4 0zm16 0zm15 0zm3 0zm4 0zm2 0zm4 0zm31 0zm8 0zm7 0zm405 0zm26 0zm25 0zm41 0zm3 0zm44 0zm-661 1zm9 0zm33 0zm56 0zm5 0zm14 0zm383 0zm1 0zm65 0zm19 0zm5 0zm27 0zm10 0zm6 0zm5 0zm17 0zm3 0zm-617 1zm41 0zm414 0zm7 0zm37 0zm19 0zm9 0zm3 0zm13 0zm17 0zm17 0zm49 0zm-661 1zm2 0zm509 0zm33 0zm2 0zm22 0zm28 0zm66 0zm-665 1zm41 0zm7 0zm17 0zm29 0zm17 0zm402 0zm1 0zm6 0zm3 0zm2 0zm9 0zm1 0zm3 0zm22 0zm5 0zm10 0zm29 0zm35 0zm21 0zm4 0zm-662 1zm23 0zm31 0zm51 0zm392 0zm28 0zm0 0zm47 0zm54 0zm2 0zm19 0zm5 0zm2 0zm3 0zm-658 1zm5 0zm21 0zm1 0zm23 0zm42 0zm411 0zm33 0zm13 0zm2 0zm22 0zm33 0zm5 0zm5 0zm45 0zm2 0zm-673 1zm48 0zm17 0zm0 0zm28 0zm0 0zm15 0zm18 0zm390 0zm11 0zm10 0zm32 0zm15 0zm48 0zm3 0zm11 0zm20 0zm-572 1zm25 0zm1 0zm6 0zm381 0zm26 0zm5 0zm4 0zm10 0zm37 0zm9 0zm6 0zm2 0zm18 0zm-627 1zm98 0zm486 0zm23 0zm8 0zm3 0zm47 0zm-634 1zm25 0zm34 0zm16 0zm19 0zm459 0zm27 0zm22 0zm4 0zm3 0zm32 0zm-664 1zm50 0zm14 0zm9 0zm6 0zm22 0zm24 0zm404 0zm48 0zm35 0zm7 0zm11 0zm29 0zm1 0zm-670 1zm10 0zm75 0zm1 0zm15 0zm27 0zm7 0zm424 0zm1 0zm18 0zm30 0zm14 0zm49 0zm-658 1zm84 0zm12 0zm9 0zm1 0zm7 0zm390 0zm75 0zm14 0zm-604 1zm48 0zm49 0zm14 0zm422 0zm47 0zm28 0zm-555 1zm34 0zm-83 1zm16 0zm1 0zm2 0zm15 0zm59 0zm13 0zm410 0zm-520 1zm12 0zm30 0zm11 0zm25 0zm475 0zm2 0zm51 0zm19 0zm5 0zm-628 1zm35 0zm9 0zm2 0zm23 0zm49 0zm-118 1zm29 0zm5 0zm1 0zm6 0zm94 0zm4 0zm482 0zm-607 1zm9 0zm4 0zm1 0zm8 0zm39 0zm26 0zm3 0zm28 0zm2 0zm487 0zm-585 1zm14 0zm32 0zm6 0zm6 0zm448 0zm10 0zm19 0zm36 0zm23 0zm-627 1zm26 0zm4 0zm578 0zm-608 1zm51 0zm17 0zm20 0zm20 0zm412 0zm16 0zm7 0zm21 0zm17 0zm5 0zm42 0zm-597 1zm2 0zm3 0zm1 0zm22 0zm9 0zm27 0zm0 0zm42 0zm389 0zm8 0zm-499 1zm6 0zm9 0zm2 0zm10 0zm31 0zm7 0zm32 0zm361 0zm3 0zm105 0zm23 0zm-588 1zm38 0zm37 0zm457 0zm-550 1zm7 0zm4 0zm39 0zm6 0zm4 0zm46 0zm3 0zm386 0zm23 0zm65 0zm-589 1zm4 0zm32 0zm10 0zm49 0zm460 0zm24 0zm0 0zm87 0zm-621 1zm14 0zm57 0zm436 0zm-512 1zm17 0zm2 0zm26 0zm39 0zm384 0zm9 0zm41 0zm-539 1zm1 0zm4 0zm2 0zm26 0zm5 0zm7 0zm27 0zm6 0zm4 0zm18 0zm2 0zm371 0zm3 0zm34 0zm61 0zm-605 1zm4 0zm74 0zm4 0zm1 0zm21 0zm13 0zm2 0zm18 0zm3 0zm386 0zm38 0zm30 0zm4 0zm12 0zm-587 1zm5 0zm6 0zm26 0zm28 0zm37 0zm2 0zm10 0zm471 0zm75 0zm-664 1zm496 0zm7 0zm3 0zm159 0zm-653 1zm25 0zm14 0zm3 0zm19 0zm433 0zm21 0zm137 0zm-666 1zm9 0zm19 0zm13 0zm16 0zm50 0zm6 0zm9 0zm7 0zm372 0zm10 0zm4 0zm66 0zm3 0zm-598 1zm10 0zm16 0zm6 0zm7 0zm18 0zm2 0zm59 0zm28 0zm-130 1zm29 0zm27 0zm7 0zm23 0zm6 0zm4 0zm4 0zm14 0zm374 0zm18 0zm1 0zm-462 1zm74 0zm391 0zm72 0zm1 0zm16 0zm-603 1zm3 0zm38 0zm25 0zm22 0zm6 0zm11 0zm13 0zm2 0zm3 0zm10 0zm-139 1zm46 0zm64 0zm34 0zm357 0zm66 0zm-567 1zm37 0zm12 0zm4 0zm6 0zm58 0zm23 0zm365 0zm-504 1zm21 0zm26 0zm16 0zm8 0zm78 0zm358 0zm12 0zm80 0zm-599 1zm90 0zm473 0zm34 0zm-574 1zm5 0zm9 0zm4 0zm12 0zm14 0zm1 0zm2 0zm4 0zm2 0zm6 0zm5 0zm9 0zm3 0zm3 0zm38 0zm466 0zm11 0zm62 0zm-676 1zm7 0zm1 0zm11 0zm17 0zm4 0zm16 0zm21 0zm26 0zm21 0zm12 0zm2 0zm322 0zm110 0zm-556 1zm15 0zm14 0zm17 0zm28 0zm16 0zm37 0zm6 0zm414 0zm-530 1zm1 0zm17 0zm79 0zm17 0zm349 0zm-407 1zm1 0zm0 0zm3 0zm5 0zm18 0zm34 0zm5 0zm302 0zm109 0zm42 0zm3 0zm-596 1zm9 0zm57 0zm13 0zm15 0zm9 0zm15 0zm382 0zm14 0zm76 0zm8 0zm2 0zm-580 1zm21 0zm92 0zm5 0zm340 0zm39 0zm17 0zm61 0zm67 0zm7 0zm-655 1zm11 0zm8 0zm6 0zm1 0zm3 0zm18 0zm11 0zm2 0zm19 0zm6 0zm1 0zm6 0zm8 0zm371 0zm14 0zm52 0zm121 0zm-646 1zm21 0zm49 0zm11 0zm12 0zm25 0zm345 0zm105 0zm69 0zm-671 1zm31 0zm14 0zm590 0zm8 0zm-643 1zm29 0zm74 0zm13 0zm4 0zm9 0zm4 0zm7 0zm359 0zm22 0zm70 0zm84 0zm-674 1zm106 0zm7 0zm439 0zm40 0zm1 0zm6 0zm7 0zm51 0zm5 0zm19 0zm-676 1zm1 0zm11 0zm5 0zm24 0zm6 0zm4 0zm30 0zm1 0zm56 0zm396 0zm19 0zm28 0zm10 0zm-576 1zm2 0zm2 0zm31 0zm2 0zm2 0zm9 0zm19 0zm47 0zm410 0zm54 0zm60 0zm23 0zm-653 1zm7 0zm65 0zm24 0zm21 0zm428 0zm11 0zm18 0zm63 0zm20 0zm1 0zm-599 1zm21 0zm39 0zm2 0zm357 0zm13 0zm82 0zm4 0zm54 0zm12 0zm12 0zm3 0zm-645 1zm88 0zm8 0zm18 0zm428 0zm10 0zm1 0zm7 0zm83 0zm-665 1zm36 0zm2 0zm41 0zm2 0zm8 0zm1 0zm5 0zm11 0zm5 0zm466 0zm5 0zm64 0zm11 0zm11 0zm-669 1zm31 0zm7 0zm34 0zm2 0zm12 0zm20 0zm0 0zm3 0zm26 0zm372 0zm56 0zm99 0zm-599 1zm59 0zm17 0zm361 0zm1 0zm57 0zm2 0zm11 0zm76 0zm22 0zm2 0zm1 0zm-652 1zm52 0zm17 0zm10 0zm43 0zm2 0zm429 0zm1 0zm95 0zm-670 1zm6 0zm11 0zm7 0zm2 0zm48 0zm8 0zm2 0zm487 0zm0 0zm87 0zm-595 1zm212 0zm280 0zm21 0zm83 0zm-642 1zm6 0zm16 0zm48 0zm50 0zm149 0zm269 0zm104 0zm-630 1zm3 0zm24 0zm11 0zm2 0zm0 0zm69 0zm405 0zm4 0zm0 0zm15 0zm11 0zm13 0zm93 0zm-636 1zm10 0zm35 0zm9 0zm207 0zm245 0zm23 0zm5 0zm4 0zm82 0zm-642 1zm27 0zm7 0zm4 0zm31 0zm263 0zm180 0zm43 0zm4 0zm62 0zm-570 1zm31 0zm1 0zm201 0zm50 0zm14 0zm180 0zm16 0zm10 0zm-572 1zm48 0zm35 0zm58 0zm161 0zm9 0zm40 0zm2 0zm12 0zm183 0zm14 0zm10 0zm-555 1zm0 0zm47 0zm26 0zm7 0zm186 0zm7 0zm60 0zm207 0zm5 0zm-484 1zm6 0zm1 0zm3 0zm201 0zm264 0zm5 0zm100 0zm-559 1zm156 0zm40 0zm6 0zm18 0zm215 0zm5 0zm3 0zm3 0zm15 0zm2 0zm99 0zm9 0zm-401 1zm2 0zm10 0zm1 0zm2 0zm3 0zm16 0zm10 0zm2 0zm2 0zm254 0zm-496 1zm6 0zm199 0zm8 0zm3 0zm13 0zm256 0zm8 0zm1 0zm11 0zm-577 1zm9 0zm21 0zm35 0zm16 0zm3 0zm186 0zm5 0zm25 0zm11 0zm44 0zm173 0zm11 0zm5 0zm8 0zm1 0zm1 0zm4 0zm2 0zm10 0zm3 0zm-577 1zm60 0zm3 0zm2 0zm208 0zm7 0zm31 0zm228 0zm17 0zm98 0zm-633 1zm12 0zm56 0zm172 0zm22 0zm6 0zm4 0zm7 0zm0 0zm6 0zm0 0zm30 0zm24 0zm2 0zm10 0zm166 0zm16 0zm21 0zm4 0zm-547 1zm27 0zm211 0zm21 0zm17 0zm7 0zm14 0zm25 0zm23 0zm184 0zm17 0zm-295 1zm7 0zm1 0zm1 0zm2 0zm1 0zm16 0zm6 0zm9 0zm21 0zm221 0zm81 0zm-657 1zm19 0zm250 0zm4 0zm7 0zm4 0zm0 0zm2 0zm6 0zm15 0zm49 0zm4 0zm1 0zm6 0zm12 0zm164 0zm22 0zm2 0zm2 0zm-294 1zm9 0zm12 0zm9 0zm0 0zm37 0zm0 0zm42 0zm1 0zm160 0zm9 0zm1 0zm-463 1zm1 0zm189 0zm11 0zm27 0zm12 0zm30 0zm11 0zm199 0zm82 0zm-611 1zm16 0zm14 0zm5 0zm203 0zm10 0zm50 0zm3 0zm23 0zm14 0zm8 0zm152 0zm3 0zm4 0zm1 0zm21 0zm4 0zm6 0zm-513 1zm12 0zm191 0zm3 0zm3 0zm2 0zm0 0zm2 0zm3 0zm5 0zm17 0zm5 0zm11 0zm55 0zm168 0zm8 0zm3 0zm4 0zm2 0zm3 0zm112 0zm-594 1zm188 0zm15 0zm20 0zm8 0zm0 0zm24 0zm7 0zm5 0zm12 0zm6 0zm3 0zm164 0zm2 0zm23 0zm16 0zm1 0zm1 0zm-536 1zm3 0zm233 0zm6 0zm4 0zm13 0zm0 0zm1 0zm12 0zm5 0zm12 0zm43 0zm153 0zm9 0zm3 0zm39 0zm1 0zm80 0zm-617 1zm236 0zm14 0zm5 0zm15 0zm11 0zm13 0zm50 0zm2 0zm8 0zm154 0zm12 0zm18 0zm81 0zm-629 1zm11 0zm54 0zm202 0zm4 0zm3 0zm35 0zm6 0zm11 0zm7 0zm5 0zm194 0zm1 0zm-467 1zm180 0zm10 0zm72 0zm6 0zm193 0zm107 0zm-583 1zm198 0zm34 0zm67 0zm159 0zm-449 1zm202 0zm10 0zm9 0zm41 0zm9 0zm11 0zm149 0zm2 0zm1 0zm23 0zm5 0zm16 0zm-478 1zm4 0zm254 0zm196 0zm-507 1zm10 0zm38 0zm2 0zm206 0zm59 0zm1 0zm31 0zm169 0zm-516 1zm7 0zm31 0zm7 0zm199 0zm26 0zm22 0zm31 0zm14 0zm21 0zm125 0zm31 0zm-177 1zm4 0zm166 0zm11 0zm0 0zm-502 1zm53 0zm189 0zm52 0zm56 0zm111 0zm21 0zm33 0zm1 0zm-483 1zm205 0zm26 0zm24 0zm21 0zm154 0zm4 0zm7 0zm9 0zm27 0zm-506 1zm11 0zm35 0zm0 0zm190 0zm7 0zm12 0zm12 0zm5 0zm5 0zm13 0zm36 0zm16 0zm140 0zm2 0zm5 0zm17 0zm-515 1zm20 0zm7 0zm243 0zm44 0zm48 0zm149 0zm2 0zm1 0zm-463 1zm2 0zm198 0zm1 0zm5 0zm6 0zm3 0zm51 0zm11 0zm10 0zm11 0zm155 0zm12 0zm-509 1zm17 0zm34 0zm212 0zm48 0zm12 0zm17 0zm1 0zm118 0zm32 0zm-150 1zm5 0zm108 0zm4 0zm19 0zm3 0zm13 0zm15 0zm-483 1zm20 0zm3 0zm1 0zm231 0zm20 0zm4 0zm8 0zm23 0zm11 0zm108 0zm8 0zm16 0zm8 0zm1 0zm18 0zm-503 1zm3 0zm17 0zm3 0zm283 0zm10 0zm38 0zm114 0zm27 0zm-453 1zm243 0zm51 0zm119 0zm25 0zm8 0zm4 0zm2 0zm12 0zm-191 1zm2 0zm17 0zm6 0zm2 0zm4 0zm49 0zm57 0zm0 0zm12 0zm14 0zm-150 1zm6 0zm9 0zm6 0zm11 0zm38 0zm24 0zm3 0zm3 0zm27 0zm5 0zm3 0zm4 0zm9 0zm-445 1zm14 0zm4 0zm262 0zm8 0zm2 0zm1 0zm14 0zm3 0zm0 0zm1 0zm3 0zm1 0zm9 0zm0 0zm6 0zm33 0zm16 0zm5 0zm18 0zm18 0zm14 0zm16 0zm-469 1zm19 0zm20 0zm6 0zm280 0zm10 0zm2 0zm0 0zm6 0zm2 0zm52 0zm2 0zm6 0zm3 0zm10 0zm6 0zm21 0zm5 0zm2 0zm5 0zm20 0zm-461 1zm28 0zm83 0zm185 0zm13 0zm2 0zm3 0zm1 0zm8 0zm49 0zm2 0zm7 0zm29 0zm23 0zm-396 1zm133 0zm266 0zm4 0zm15 0zm6 0zm-443 1zm120 0zm187 0zm54 0zm47 0zm14 0zm-55 1zm48 0zm2 0zm10 0zm5 0zm-272 1zm22 0zm228 0zm7 0zm11 0zm6 0zm-458 1zm12 0zm177 0zm123 0zm119 0zm9 0zm10 0zm6 0zm-443 1zm173 0zm6 0zm2 0zm243 0zm1 0zm-5 1zm0 0zm3 0zm7 0zm-293 1zm61 0zm4 0zm0 0zm226 0zm2 0zm0 0zm-423 1zm116 0zm35 0zm273 0zm1 0zm16 0zm-243 1zm215 0zm12 0zm-268 1zm272 0zm-377 2zm162 1zm119 0zm-204 1zm-67 1zm16 0zm98 0zm-46 1zm20 0zm10 0zm-40 1zm2 0zm13 0zm-122 1zm106 0zm21 0zm-132 3zm103 1zm55 0zm303 0zm-358 1zm385 0zm-349 1zm7 0zm154 0zm8 0zm168 0zm-530 1zm92 0zm2 0zm35 0zm20 0zm39 0zm-56 1zm22 0zm378 0zm-405 1zm408 1zm-379 2zm207 0zm-273 1zm19 0zm137 0zm-161 2zm17 0zm55 0zm206 0zm-290 1zm22 0zm24 0zm-16 1zm3 0zm-109 1zm93 0zm38 0zm158 0zm-209 1zm31 0zm3 1zm-15 3zm6 0zm182 0zm6 0zm-186 1zm205 0zm-213 1zm186 0zm1 1zm10 0zm3 0zm18 0zm13 0zm-246 1zm198 0zm11 0zm8 0zm0 0zm11 0zm-39 1zm10 0zm0 0zm2 0zm8 0zm-177 1zm212 0zm-58 1zm14 0zm28 0zm24 0zm-54 1zm6 0zm4 0zm6 0zm-28 1zm23 0zm0 0zm8 0zm-15 1zm10 0zm10 0zm133 0zm9 0zm-158 1zm140 0zm10 0zm7 0zm-163 1zm21 0zm138 2zm3 0zm-8 1zm7 0zm1 0zm-16 1zm1 0zm20 0zm-13 1zm5 0zm4 0zm5 0zm-234 1zm224 0zm2 0zm-16 1zm11 0zm15 1zm-258 1zm136 0zm108 0zm10 0zm-15 1zm8 0zm-346 1zm348 0zm-337 1zm199 0zm132 0zm16 1zm-353 1zm338 0zm4 0zm5 0zm-354 1zm39 0zm296 0zm8 0zm7 0zm-344 1zm1 0zm325 0zm14 0zm-120 1zm105 1zm2 0zm1 0zm-330 2zm328 0zm-206 1zm222 0zm10 0zm-385 1zm167 0zm52 0zm139 0zm20 0zm6 0zm-372 1zm135 0zm233 0zm2 0zm-19 1zm19 0zm-242 1zm73 0zm-206 1zm2 0zm245 0zm125 0zm-359 1zm231 0zm137 0zm1 0zm-382 1zm217 0zm154 0zm-376 1zm1 0zm10 0zm357 0zm13 0zm-281 1zm70 0zm41 0zm13 0zm144 0zm6 0zm2 0zm-380 1zm190 0zm177 0zm3 0zm13 0zm-383 1zm376 0zm10 0zm-193 1zm40 0zm134 0zm1 0zm-362 1zm262 0zm114 0zm-433 1zm225 0zm20 0zm188 0zm4 0zm10 0zm-234 1zm26 0zm5 0zm3 0zm189 0zm-173 1zm17 0zm137 0zm9 0zm12 0zm7 0zm7 0zm-295 1zm1 0zm32 0zm65 0zm-78 1zm74 0zm75 0zm97 0zm13 0zm-268 1zm75 0zm62 0zm133 0zm-284 1zm124 0zm164 0zm-293 1zm35 0zm245 0zm6 0zm2 0zm3 0zm3 0zm-459 1zm204 0zm34 0zm11 0zm204 0zm-281 1zm19 0zm166 0zm37 0zm43 0zm-256 1zm95 0zm16 0zm145 0zm-278 1zm131 0zm27 0zm124 0zm5 0zm5 0zm6 0zm-112 1zm102 0zm-257 1zm2 0zm2 0zm225 0zm7 0zm-190 1zm44 0zm5 0zm180 0zm-276 1zm9 0zm240 0zm3 0zm19 0zm-270 1zm113 0zm149 0zm4 0zm7 0zm-512 1zm209 0zm55 0zm96 0zm135 0zm4 0zm7 0zm4 0zm-531 1zm42 0zm176 0zm39 0zm7 0zm163 0zm102 0zm3 0zm-503 1zm9 0zm8 0zm22 0zm172 0zm202 0zm-445 1zm2 0zm6 0zm7 0zm19 0zm21 0zm194 0zm266 0zm7 0zm-514 1zm27 0zm41 0zm55 0zm109 0zm10 0zm254 0zm-509 1zm6 0zm5 0zm15 0zm4 0zm11 0zm1 0zm1 0zm7 0zm17 0zm179 0zm9 0zm113 0zm-376 1zm2 0zm11 0zm17 0zm0 0zm17 0zm35 0zm15 0zm18 0zm150 0zm0 0zm5 0zm257 0zm13 0zm1 0zm-535 1zm16 0zm38 0zm16 0zm37 0zm-93 1zm22 0zm26 0zm16 0zm1 0zm7 0zm15 0zm100 0zm33 0zm36 0zm1 0zm173 0zm53 0zm23 0zm5 0zm1 0zm-535 1zm19 0zm3 0zm28 0zm14 0zm16 0zm12 0zm111 0zm127 0zm154 0zm43 0zm-524 1zm3 0zm12 0zm24 0zm3 0zm59 0zm102 0zm25 0zm5 0zm50 0zm5 0zm176 0zm-462 1zm75 0zm8 0zm89 0zm33 0zm79 0zm2 0zm2 0zm221 0zm20 0zm10 0zm-542 1zm0 0zm32 0zm9 0zm17 0zm17 0zm2 0zm0 0zm63 0zm44 0zm174 0zm107 0zm83 0zm-551 1zm13 0zm5 0zm2 0zm17 0zm11 0zm49 0zm35 0zm32 0zm14 0zm18 0zm79 0zm21 0zm22 0zm43 0zm94 0zm5 0zm-460 1zm25 0zm2 0zm15 0zm60 0zm31 0zm4 0zm50 0zm106 0zm4 0zm110 0zm46 0zm-449 1zm13 0zm11 0zm1 0zm11 0zm0 0zm20 0zm31 0zm1 0zm212 0zm9 0zm4 0zm2 0zm46 0zm92 0zm4 0zm-461 1zm24 0zm12 0zm13 0zm50 0zm38 0zm5 0zm7 0zm153 0zm5 0zm6 0zm129 0zm1 0zm6 0zm1 0zm-457 1zm1 0zm28 0zm24 0zm5 0zm14 0zm56 0zm14 0zm4 0zm176 0zm3 0zm12 0zm112 0zm-425 1zm26 0zm9 0zm22 0zm58 0zm204 0zm20 0zm11 0zm191 0zm13 0zm-575 1zm10 0zm2 0zm4 0zm70 0zm254 0zm8 0zm3 0zm220 0zm-571 1zm3 0zm7 0zm11 0zm0 0zm3 0zm26 0zm96 0zm197 0zm14 0zm4 0zm3 0zm210 0zm4 0zm-569 1zm11 0zm12 0zm14 0zm33 0zm32 0zm216 0zm29 0zm16 0zm206 0zm-582 1zm44 0zm16 0zm17 0zm39 0zm16 0zm15 0zm247 0zm4 0zm-380 1zm21 0zm4 0zm336 0zm15 0zm9 0zm4 0zm4 0zm174 0zm-484 1zm15 0zm25 0zm231 0zm12 0zm1 0zm6 0zm9 0zm187 0zm-591 1zm12 0zm1 0zm0 0zm4 0zm8 0zm12 0zm32 0zm3 0zm19 0zm35 0zm187 0zm61 0zm19 0zm18 0zm-386 1zm14 0zm27 0zm273 0zm6 0zm28 0zm2 0zm210 0zm5 0zm-572 1zm19 0zm18 0zm45 0zm22 0zm1 0zm-114 1zm31 0zm6 0zm5 0zm20 0zm47 0zm12 0zm453 0zm-584 1zm5 0zm29 0zm10 0zm9 0zm22 0zm24 0zm8 0zm483 0zm-562 1zm16 0zm25 0zm2 0zm30 0zm193 0zm29 0zm33 0zm228 0zm7 0zm-578 1zm5 0zm11 0zm1 0zm2 0zm11 0zm18 0zm37 0zm24 0zm9 0zm199 0zm-323 1zm7 0zm24 0zm37 0zm25 0zm489 0zm-570 1zm12 0zm5 0zm22 0zm14 0zm1 0zm2 0zm47 0zm-76 1zm22 0zm0 0zm50 0zm234 0zm225 0zm5 0zm-573 1zm0 0zm33 0zm26 0zm245 0zm38 0zm232 0zm-574 1zm6 0zm66 0zm35 0zm227 0zm7 0zm232 0zm0 0zm-567 1zm24 0zm2 0zm17 0zm3 0zm258 0zm31 0zm237 0zm-589 1zm22 0zm16 0zm6 0zm11 0zm13 0zm9 0zm30 0zm8 0zm193 0zm45 0zm-352 1zm4 0zm4 0zm8 0zm1 0zm12 0zm32 0zm283 0zm35 0zm-355 1zm2 0zm21 0zm29 0zm30 0zm2 0zm200 0zm11 0zm14 0zm-320 1zm11 0zm10 0zm0 0zm11 0zm2 0zm19 0zm8 0zm268 0zm-324 1zm2 0zm4 0zm46 0zm30 0zm236 0zm247 0zm-560 1zm11 0zm9 0zm55 0zm14 0zm9 0zm82 0zm107 0zm13 0zm29 0zm-356 1zm6 0zm1 0zm21 0zm9 0zm19 0zm67 0zm90 0zm107 0zm14 0zm33 0zm-351 1zm48 0zm39 0zm2 0zm241 0zm-330 1zm29 0zm2 0zm41 0zm5 0zm10 0zm280 0zm55 0zm-435 1zm15 0zm9 0zm19 0zm1 0zm9 0zm2 0zm24 0zm-51 1zm10 0zm38 0zm359 0zm-409 1zm15 0zm13 0zm13 0zm3 0zm5 0zm12 0zm13 0zm108 0zm1 0zm-168 1zm13 0zm3 0zm11 0zm4 0zm4 0zm4 0zm24 0zm-78 1zm28 0zm45 0zm-93 1zm11 0zm40 0zm3 0zm1 0zm7 0zm8 0zm1 0zm12 0zm351 0zm3 0zm-442 1zm2 0zm3 0zm67 0zm39 0zm96 0zm211 0zm-402 1zm23 0zm8 0zm1 0zm26 0zm135 0zm-200 1zm40 0zm11 0zm17 0zm9 0zm130 0zm2 0zm9 0zm-229 1zm4 0zm29 0zm13 0zm37 0zm34 0zm-107 1zm16 0zm2 0zm8 0zm21 0zm0 0zm158 0zm244 0zm-409 1zm13 0zm8 0zm9 0zm14 0zm370 0zm-463 1zm15 0zm35 0zm2 0zm20 0zm1 0zm5 0zm-64 1zm2 0zm12 0zm8 0zm12 0zm2 0zm10 0zm39 0zm7 0zm108 0zm-209 1zm14 0zm18 0zm10 0zm19 0zm25 0zm128 0zm-210 1zm26 0zm181 0zm14 0zm226 0zm-385 1zm152 0zm3 0zm228 0zm6 0zm1 0zm-420 1zm11 0zm3 0zm23 0zm5 0zm12 0zm138 0zm-193 1zm0 0zm29 0zm3 0zm3 0zm7 0zm156 0zm229 0zm-451 1zm0 0zm16 0zm4 0zm23 0zm5 0zm165 0zm227 0zm-446 1zm25 0zm2 0zm16 0zm20 0zm363 0zm-427 1zm55 0zm-39 1zm219 0zm-220 1zm2 0zm23 0zm9 0zm-31 1zm12 0zm11 0zm2 0zm8 0zm375 0zm9 0zm19 0zm-436 1zm2 0zm27 0zm183 0zm8 0zm-221 1zm3 0zm32 0zm183 0zm0 0zm274 0zm-475 1zm201 0zm-213 1zm22 0zm192 0zm0 0zm1 0zm-221 1zm24 0zm197 0zm1 0zm210 0zm55 0zm-485 1zm212 0zm5 0zm215 0zm58 0zm-488 1zm9 0zm209 1zm286 0zm-86 1zm-411 1zm498 0zm-275 1zm121 0zm151 0zm0 0zm-72 1zm-205 1zm1 0zm1 0zm120 0zm151 0zm-268 1zm6 0zm3 0zm258 0zm4 0zm-150 1zm68 0zm76 0zm1 0zm4 0zm-271 1zm4 0zm8 0zm261 0zm-9 1zm-147 1zm86 0zm-9 1zm-180 1zm195 0zm-198 1zm182 0zm-188 1zm203 0zm51 0zm-237 1zm235 0zm2 0zm1 0zm-240 1zm188 0zm2 0zm2 1zm39 0zm1 0zm-232 1zm173 0zm-89 1zm101 0zm-84 1zm32 0zm4 0zm34 0zm-34 1zm2 0zm46 0zm-179 1zm6 0zm72 0zm55 0zm48 0zm-124 1zm2 0zm123 0zm39 0zm-168 1zm20 0zm68 0zm80 0zm-70 1zm25 0zm2 0zm6 0zm-152 1zm10 0zm117 0zm-129 1zm119 0zm13 1zm15 1zm1 0zm35 0zm2 1zm-47 2zm8 0zm34 0zm-206 1zm202 0zm-22 2zm1 0zm12 0zm-15 1zm12 0zm9 0zm-181 4zm-4 1zm3 0zm16 1zm0 0zm9 0zm1 0zm-37 3zm5 1zm-9 1zm-12 1zm7 5zm-3 1zm8 0zm10 1zm33 1zm-37 1zm6 1zm32 0zm41 2zm-61 1zm21 0zm-35 1zm36 0zm20 1zm6 0zm7 0zm-64 2zm21 0zm32 1zm13 1zm9 0zm-2 1zm5 0zm9 0zm-48 1zm9 1zm14 0zm30 0zm-72 1zm70 0zm-115 1zm67 0zm47 0zm5 0zm-106 1zm57 0zm41 0zm-137 1zm10 0zm95 0zm-85 1zm0 0zm76 0zm10 0zm-93 1zm18 0zm1 0zm27 0zm42 0zm13 0zm-114 1zm9 0zm11 0zm7 0zm40 0zm42 0zm-99 1zm16 1zm0 0zm111 0zm-114 1zm12 0zm-28 1zm15 0zm10 0zm27 0zm46 0zm-86 1zm100 0zm-111 1zm26 0zm1 0zm-7 1zm93 0zm-120 1zm10 0zm6 0zm2 0zm33 0zm91 0zm-121 1zm12 0zm104 0zm-126 1zm7 0zm86 0zm6 0zm4 0zm21 0zm4 0zm-137 1zm5 0zm-2 1zm10 0zm94 0zm-108 1zm9 0zm125 0zm-118 1zm3 0zm4 0zm86 0zm3 0zm-76 1zm84 0zm15 0zm-138 1zm30 0zm1 0zm79 0zm-117 1zm7 0zm12 0zm5 0zm28 0zm-28 1zm14 1zm8 0zm96 0zm-132 1zm4 0zm4 0zm33 0zm-23 1zm117 0zm-131 1zm0 0zm33 0zm-44 1zm21 0zm10 0zm-21 1zm12 1zm9 1zm12 0zm-23 1zm-6 1zm10 0zm18 0zm1 1zm-13 1zm81 0zm18 0zm-127 1zm10 0zm100 0zm-109 1zm8 0zm0 1zm3 0zm1 0zm6 0zm28 0zm29 0zm37 0zm-72 1zm2 0zm27 0zm39 0zm-96 1zm13 0zm42 0zm3 0zm34 0zm-89 1zm64 0zm13 0zm0 0zm14 0zm-105 1zm15 0zm79 0zm-79 1zm5 0zm4 0zm5 0zm48 0zm-11 1zm5 0zm26 0zm2 0zm-52 1zm15 0zm20 0zm2 0zm17 0zm-45 1zm37 0zm2 0zm4 0zm3 0zm-98 1zm3 0zm24 0zm2 0zm13 0zm42 0zm6 0zm-90 1zm30 1zm3 0zm8 0zm-34 1zm26 0zm-25 1zm40 0zm-23 1zm-8 1zm14 0zm-15 2z" stroke="#1B9E77"/></g>
<circle cx="469.5" cy="164.9" r="2.9" fill="#1B9E77"/>
<circle cx="469.5" cy="177.6" r="2.9" fill="#7570B3"/>
<circle cx="469.5" cy="190.2" r="2.9" fill="#E7298A"/>
<path d="M579.1 45.3V301.05" stroke="#666" stroke-width="1.5" fill="none"/><path d="M578.35 300.3H986" stroke="#505050" stroke-width="1.5" fill="none"/><path d="M591.0 300.3v3.3" stroke="#505050" stroke-width="1"/><path d="M677.9 300.3v3.3" stroke="#505050" stroke-width="1"/><path d="M764.8 300.3v3.3" stroke="#505050" stroke-width="1"/><path d="M851.7 300.3v3.3" stroke="#505050" stroke-width="1"/><path d="M938.6 300.3v3.3" stroke="#505050" stroke-width="1"/><path d="M579.1 93.5h-3.3" stroke="#505050" stroke-width="1"/><path d="M579.1 152.1h-3.3" stroke="#505050" stroke-width="1"/><path d="M579.1 210.7h-3.3" stroke="#505050" stroke-width="1"/><path d="M579.1 269.3h-3.3" stroke="#505050" stroke-width="1"/>
<g transform="scale(.5)" fill="none" stroke-linecap="round" stroke-width="3.1" opacity="1.0" filter="url(#b1)"><path d="M1772 119zm30 0zm-28 2zm13 0zm6 0zm-14 1zm-3 1zm3 0zm12 0zm-20 1zm-6 1zm6 0zm9 0zm7 0zm5 0zm-8 1zm-38 1zm7 0zm12 0zm20 0zm30 0zm-48 1zm17 0zm4 0zm-42 1zm-3 1zm29 0zm17 0zm-503 1zm457 0zm3 0zm6 0zm15 0zm7 0zm16 0zm14 0zm5 0zm5 0zm-535 1zm463 0zm0 0zm14 0zm7 0zm-10 1zm61 0zm-546 1zm469 0zm18 0zm6 0zm27 0zm-519 1zm5 0zm18 0zm453 0zm40 0zm1 0zm2 0zm-527 1zm25 0zm5 0zm451 0zm27 0zm23 0zm8 0zm7 0zm-537 1zm5 0zm7 0zm452 0zm45 0zm38 0zm-559 1zm15 0zm481 0zm28 0zm34 0zm-548 1zm11 0zm13 0zm12 0zm9 0zm416 0zm29 0zm31 0zm26 0zm-521 1zm482 0zm19 0zm0 0zm3 0zm-539 1zm18 0zm17 0zm1 0zm431 0zm8 0zm12 0zm26 0zm42 0zm-551 1zm14 0zm451 0zm30 0zm48 0zm2 0zm-515 1zm16 0zm6 0zm1 0zm6 0zm439 0zm19 0zm41 0zm-573 1zm37 0zm449 0zm63 0zm32 0zm-550 1zm12 0zm445 0zm8 0zm18 0zm9 0zm29 0zm12 0zm7 0zm27 0zm-598 1zm21 0zm10 0zm26 0zm429 0zm10 0zm4 0zm15 0zm2 0zm14 0zm16 0zm6 0zm3 0zm4 0zm-507 1zm443 0zm4 0zm15 0zm56 0zm-571 1zm20 0zm45 0zm5 0zm462 0zm1 0zm20 0zm10 0zm-518 1zm9 0zm517 0zm2 0zm24 0zm-565 1zm18 0zm6 0zm13 0zm18 0zm397 0zm100 0zm-533 1zm432 0zm47 0zm35 0zm-551 1zm61 0zm441 0zm18 0zm21 0zm20 0zm-552 1zm29 0zm2 0zm4 0zm3 0zm20 0zm1 0zm424 0zm49 0zm9 0zm-495 1zm6 0zm11 0zm407 0zm19 0zm114 0zm-616 1zm32 0zm466 0zm10 0zm44 0zm-564 1zm75 0zm8 0zm9 0zm8 0zm381 0zm33 0zm16 0zm7 0zm13 0zm8 0zm30 0zm11 0zm-605 1zm14 0zm38 0zm24 0zm3 0zm20 0zm403 0zm11 0zm1 0zm12 0zm21 0zm22 0zm-540 1zm11 0zm10 0zm3 0zm20 0zm419 0zm87 0zm7 0zm49 0zm-612 1zm44 0zm25 0zm393 0zm30 0zm62 0zm10 0zm54 0zm-612 1zm4 0zm5 0zm5 0zm12 0zm41 0zm391 0zm25 0zm23 0zm12 0zm55 0zm-570 1zm41 0zm12 0zm417 0zm2 0zm10 0zm0 0zm19 0zm107 0zm3 0zm-644 1zm2 0zm11 0zm58 0zm418 0zm18 0zm61 0zm7 0zm66 0zm14 0zm-154 1zm39 0zm1 0zm5 0zm7 0zm29 0zm46 0zm-631 1zm10 0zm98 0zm8 0zm409 0zm14 0zm8 0zm8 0zm12 0zm75 0zm9 0zm-637 1zm13 0zm9 0zm6 0zm15 0zm15 0zm2 0zm37 0zm384 0zm89 0zm29 0zm32 0zm-652 1zm26 0zm1 0zm39 0zm19 0zm5 0zm27 0zm396 0zm38 0zm14 0zm-563 1zm5 0zm3 0zm41 0zm14 0zm31 0zm13 0zm13 0zm495 0zm1 0zm43 0zm-657 1zm111 0zm7 0zm363 0zm24 0zm48 0zm32 0zm47 0zm10 0zm-631 1zm39 0zm449 0zm11 0zm2 0zm52 0zm7 0zm77 0zm10 0zm-656 1zm20 0zm3 0zm2 0zm70 0zm0 0zm19 0zm390 0zm30 0zm13 0zm6 0zm28 0zm64 0zm1 0zm7 0zm3 0zm-666 1zm17 0zm60 0zm7 0zm0 0zm27 0zm15 0zm7 0zm396 0zm13 0zm22 0zm39 0zm6 0zm46 0zm5 0zm-656 1zm23 0zm7 0zm17 0zm6 0zm16 0zm30 0zm9 0zm19 0zm393 0zm52 0zm16 0zm3 0zm55 0zm-628 1zm69 0zm5 0zm392 0zm15 0zm22 0zm8 0zm41 0zm29 0zm25 0zm-562 1zm502 0zm48 0zm11 0zm2 0zm19 0zm-643 1zm15 0zm84 0zm2 0zm14 0zm12 0zm1 0zm359 0zm17 0zm-511 1zm9 0zm2 0zm3 0zm1 0zm9 0zm20 0zm11 0zm9 0zm565 0zm-609 1zm52 0zm11 0zm13 0zm6 0zm25 0zm10 0zm354 0zm100 0zm8 0zm-588 1zm14 0zm20 0zm11 0zm31 0zm5 0zm28 0zm11 0zm9 0zm358 0zm70 0zm21 0zm83 0zm-667 1zm16 0zm43 0zm64 0zm359 0zm3 0zm52 0zm58 0zm-589 1zm0 0zm17 0zm14 0zm77 0zm10 0zm11 0zm353 0zm-455 1zm14 0zm14 0zm2 0zm47 0zm7 0zm1 0zm392 0zm0 0zm32 0zm36 0zm-537 1zm7 0zm8 0zm10 0zm59 0zm364 0zm11 0zm12 0zm82 0zm-559 1zm439 0zm18 0zm-494 1zm43 0zm21 0zm36 0zm4 0zm5 0zm6 0zm19 0zm4 0zm1 0zm353 0zm97 0zm22 0zm7 0zm-574 1zm21 0zm13 0zm24 0zm7 0zm361 0zm50 0zm27 0zm1 0zm42 0zm21 0zm-607 1zm33 0zm91 0zm2 0zm452 0zm25 0zm-581 1zm17 0zm9 0zm3 0zm0 0zm6 0zm33 0zm39 0zm353 0zm68 0zm32 0zm85 0zm-670 1zm4 0zm21 0zm93 0zm5 0zm5 0zm17 0zm335 0zm3 0zm135 0zm-607 1zm29 0zm6 0zm29 0zm10 0zm65 0zm321 0zm2 0zm40 0zm11 0zm40 0zm-534 1zm29 0zm28 0zm45 0zm390 0zm55 0zm4 0zm26 0zm-586 1zm47 0zm15 0zm51 0zm12 0zm324 0zm51 0zm-475 1zm44 0zm34 0zm19 0zm387 0zm-483 1zm25 0zm76 0zm320 0zm1 0zm85 0zm9 0zm111 0zm-652 1zm43 0zm4 0zm455 0zm54 0zm-561 1zm8 0zm10 0zm25 0zm35 0zm27 0zm401 0zm17 0zm7 0zm31 0zm19 0zm-590 1zm15 0zm15 0zm24 0zm0 0zm9 0zm31 0zm1 0zm10 0zm19 0zm347 0zm33 0zm76 0zm23 0zm-580 1zm3 0zm81 0zm13 0zm342 0zm49 0zm9 0zm-461 1zm402 0zm5 0zm2 0zm1 0zm45 0zm6 0zm51 0zm9 0zm4 0zm0 0zm-581 1zm41 0zm4 0zm23 0zm6 0zm393 0zm45 0zm45 0zm21 0zm8 0zm12 0zm-603 1zm21 0zm7 0zm7 0zm37 0zm36 0zm5 0zm33 0zm7 0zm341 0zm18 0zm18 0zm7 0zm16 0zm-509 1zm13 0zm30 0zm2 0zm14 0zm346 0zm22 0zm26 0zm-493 1zm1 0zm47 0zm18 0zm2 0zm7 0zm1 0zm47 0zm3 0zm10 0zm331 0zm44 0zm6 0zm27 0zm-540 1zm41 0zm10 0zm33 0zm15 0zm4 0zm4 0zm392 0zm61 0zm106 0zm-626 1zm9 0zm14 0zm9 0zm4 0zm2 0zm12 0zm5 0zm4 0zm4 0zm39 0zm438 0zm21 0zm-591 1zm74 0zm11 0zm13 0zm10 0zm16 0zm5 0zm367 0zm24 0zm67 0zm-600 1zm101 0zm4 0zm-60 1zm29 0zm24 0zm48 0zm298 0zm7 0zm38 0zm56 0zm0 0zm-529 1zm31 0zm30 0zm1 0zm17 0zm8 0zm16 0zm23 0zm305 0zm5 0zm13 0zm45 0zm11 0zm25 0zm-465 1zm2 0zm31 0zm17 0zm1 0zm312 0zm1 0zm5 0zm65 0zm-509 1zm5 0zm14 0zm15 0zm2 0zm52 0zm22 0zm1 0zm10 0zm1 0zm385 0zm45 0zm104 0zm-607 1zm7 0zm46 0zm3 0zm2 0zm9 0zm5 0zm301 0zm17 0zm-431 1zm32 0zm4 0zm0 0zm11 0zm18 0zm15 0zm8 0zm19 0zm375 0zm18 0zm27 0zm12 0zm43 0zm3 0zm55 0zm-637 1zm15 0zm35 0zm42 0zm23 0zm3 0zm391 0zm24 0zm-542 1zm45 0zm1 0zm20 0zm364 0zm1 0zm5 0zm89 0zm54 0zm91 0zm1 0zm-670 1zm53 0zm24 0zm46 0zm1 0zm17 0zm3 0zm288 0zm0 0zm19 0zm209 0zm-631 1zm15 0zm8 0zm4 0zm18 0zm6 0zm6 0zm1 0zm49 0zm17 0zm278 0zm218 0zm-584 1zm8 0zm26 0zm1 0zm19 0zm10 0zm303 0zm107 0zm19 0zm34 0zm-586 1zm50 0zm4 0zm15 0zm25 0zm11 0zm25 0zm359 0zm38 0zm52 0zm75 0zm-655 1zm26 0zm12 0zm43 0zm41 0zm20 0zm6 0zm269 0zm7 0zm84 0zm43 0zm35 0zm63 0zm9 0zm11 0zm-650 1zm102 0zm17 0zm4 0zm4 0zm271 0zm18 0zm1 0zm119 0zm14 0zm16 0zm85 0zm-665 1zm15 0zm62 0zm9 0zm10 0zm7 0zm9 0zm1 0zm3 0zm3 0zm-95 1zm11 0zm44 0zm30 0zm22 0zm290 0zm110 0zm125 0zm3 0zm-659 1zm6 0zm11 0zm30 0zm20 0zm28 0zm10 0zm7 0zm311 0zm1 0zm116 0zm100 0zm-639 1zm23 0zm1 0zm20 0zm9 0zm28 0zm9 0zm8 0zm34 0zm5 0zm4 0zm330 0zm175 0zm12 0zm-646 1zm50 0zm35 0zm47 0zm273 0zm118 0zm22 0zm19 0zm78 0zm-657 1zm1 0zm53 0zm28 0zm7 0zm6 0zm2 0zm312 0zm146 0zm26 0zm-581 1zm2 0zm30 0zm5 0zm13 0zm65 0zm29 0zm274 0zm1 0zm0 0zm101 0zm34 0zm104 0zm-660 1zm11 0zm60 0zm245 0zm88 0zm274 0zm-629 1zm9 0zm31 0zm3 0zm323 0zm3 0zm117 0zm-471 1zm3 0zm3 0zm10 0zm2 0zm18 0zm10 0zm3 0zm45 0zm255 0zm-396 1zm15 0zm38 0zm21 0zm26 0zm458 0zm2 0zm0 0zm-564 1zm66 0zm12 0zm461 0zm-552 1zm19 0zm9 0zm27 0zm5 0zm11 0zm5 0zm326 0zm138 0zm1 0zm108 0zm-639 1zm3 0zm2 0zm0 0zm4 0zm51 0zm10 0zm320 0zm10 0zm247 0zm16 0zm-657 1zm28 0zm15 0zm39 0zm180 0zm296 0zm-560 1zm71 0zm2 0zm9 0zm459 0zm7 0zm-543 1zm2 0zm74 0zm212 0zm236 0zm5 0zm27 0zm-556 1zm3 0zm69 0zm9 0zm0 0zm459 0zm5 0zm-547 1zm32 0zm5 0zm351 0zm-391 1zm12 0zm56 0zm226 0zm238 0zm1 0zm123 0zm-579 1zm255 0zm308 0zm7 0zm-647 1zm9 0zm33 0zm44 0zm3 0zm218 0zm79 0zm2 0zm145 0zm8 0zm-516 1zm46 0zm286 0zm209 0zm68 0zm-620 1zm17 0zm29 0zm219 0zm-271 1zm41 0zm225 0zm96 0zm161 0zm25 0zm-526 1zm4 0zm52 0zm0 0zm294 0zm161 0zm94 0zm-554 1zm223 0zm82 0zm124 0zm-479 1zm262 0zm96 0zm130 0zm124 0zm-622 1zm60 0zm450 0zm-467 1zm451 0zm-498 1zm24 0zm0 0zm347 0zm137 0zm-515 1zm11 0zm13 0zm9 0zm29 0zm4 0zm252 0zm310 0zm-626 1zm49 0zm475 0zm95 0zm-610 1zm64 0zm-19 1zm-18 1zm31 0zm467 0zm-524 1zm491 0zm17 0zm-453 1zm473 0zm-525 1zm37 0zm-47 1zm4 0zm1 0zm5 0zm68 0zm431 0zm-506 1zm6 0zm29 0zm12 0zm4 0zm15 0zm5 0zm10 0zm436 0zm-473 1zm290 0zm173 0zm-506 1zm42 0zm17 0zm4 0zm263 0zm39 0zm109 0zm17 0zm-471 1zm7 0zm43 0zm4 0zm4 0zm428 0zm-471 1zm467 0zm-473 1zm41 0zm15 0zm392 0zm50 0zm-498 1zm473 0zm19 0zm-508 1zm57 0zm4 0zm167 0zm-233 1zm41 0zm24 0zm0 0zm1 0zm12 0zm277 0zm120 0zm1 0zm-472 1zm45 0zm30 0zm161 0zm29 0zm200 0zm23 0zm-492 1zm46 0zm311 0zm-310 1zm3 0zm25 0zm161 0zm4 0zm11 0zm239 0zm4 0zm-500 1zm72 0zm151 0zm-218 1zm53 0zm2 0zm18 0zm133 0zm4 0zm31 0zm12 0zm1 0zm4 0zm4 0zm-212 1zm192 0zm1 0zm20 0zm205 0zm9 0zm-423 1zm7 0zm145 0zm4 0zm13 0zm3 0zm2 0zm16 0zm20 0zm-40 1zm8 0zm9 0zm16 0zm215 0zm11 0zm-489 1zm56 0zm16 0zm2 0zm9 0zm187 0zm212 0zm3 0zm4 0zm-422 1zm142 0zm11 0zm23 0zm0 0zm19 0zm0 0zm1 0zm220 0zm1 0zm-417 1zm0 0zm74 0zm53 0zm2 0zm5 0zm41 0zm18 0zm1 0zm-166 1zm7 0zm99 0zm17 0zm41 0zm3 0zm147 0zm-344 1zm0 0zm30 0zm89 0zm44 0zm2 0zm35 0zm213 0zm-412 1zm69 0zm55 0zm26 0zm12 0zm-225 1zm66 0zm21 0zm9 0zm67 0zm72 0zm10 0zm7 0zm0 0zm16 0zm-201 1zm10 0zm84 0zm1 0zm1 0zm50 0zm8 0zm46 0zm6 0zm12 0zm-220 1zm76 0zm50 0zm8 0zm26 0zm30 0zm-138 1zm14 0zm7 0zm106 0zm11 0zm2 0zm11 0zm-211 1zm61 0zm29 0zm11 0zm2 0zm14 0zm37 0zm1 0zm1 0zm57 0zm0 0zm9 0zm-276 1zm60 0zm7 0zm1 0zm5 0zm4 0zm17 0zm6 0zm3 0zm8 0zm6 0zm6 0zm31 0zm17 0zm8 0zm55 0zm7 0zm4 0zm23 0zm15 0zm-223 1zm9 0zm3 0zm5 0zm4 0zm21 0zm25 0zm12 0zm28 0zm12 0zm42 0zm23 0zm31 0zm15 0zm74 0zm-303 1zm6 0zm9 0zm3 0zm4 0zm2 0zm0 0zm14 0zm7 0zm9 0zm6 0zm8 0zm0 0zm12 0zm21 0zm47 0zm47 0zm9 0zm-197 1zm1 0zm7 0zm17 0zm1 0zm9 0zm8 0zm5 0zm5 0zm6 0zm1 0zm3 0zm9 0zm8 0zm14 0zm9 0zm10 0zm3 0zm5 0zm25 0zm81 0zm239 0zm-462 1zm6 0zm6 0zm13 0zm10 0zm4 0zm11 0zm5 0zm4 0zm3 0zm7 0zm16 0zm14 0zm5 0zm-96 1zm11 0zm14 0zm6 0zm7 0zm0 0zm9 0zm21 0zm3 0zm13 0zm22 0zm9 0zm84 0zm-165 1zm2 0zm7 0zm18 0zm6 0zm25 0zm80 0zm278 0zm7 0zm-445 1zm51 0zm8 0zm3 0zm40 0zm85 0zm11 0zm82 0zm-371 1zm10 0zm88 0zm10 0zm4 0zm5 0zm49 0zm200 0zm170 0zm-535 1zm118 0zm36 0zm24 0zm81 0zm30 0zm-185 1zm35 0zm14 0zm217 0zm171 0zm-440 1zm6 0zm19 0zm5 0zm34 0zm18 0zm48 0zm62 0zm261 0zm-545 1zm3 0zm99 0zm2 0zm12 0zm42 0zm0 0zm133 0zm-184 1zm67 0zm13 0zm99 0zm-290 1zm127 0zm17 0zm8 0zm39 0zm86 0zm-184 1zm13 0zm23 0zm238 0zm1 0zm-364 1zm98 0zm3 0zm20 0zm-121 1zm99 0zm9 0zm17 0zm175 0zm-313 1zm180 0zm122 0zm-307 1zm90 0zm25 0zm9 0zm25 0zm171 0zm-201 1zm4 0zm7 0zm191 0zm13 0zm-66 1zm56 0zm-3 1zm-54 1zm35 0zm19 0zm14 0zm10 0zm-57 1zm24 0zm15 0zm4 0zm-39 1zm41 0zm-24 1zm1 0zm39 0zm-50 1zm6 0zm1 0zm8 0zm2 0zm2 0zm27 0zm-48 1zm2 0zm3 0zm17 0zm22 0zm19 0zm-257 1zm193 0zm23 0zm2 0zm15 0zm12 0zm5 0zm-50 1zm40 0zm-34 1zm4 0zm26 0zm-25 1zm9 0zm12 0zm-34 1zm3 0zm22 0zm3 0zm8 0zm2 0zm1 0zm3 0zm7 0zm-51 1zm7 0zm30 0zm2 0zm-18 1zm-24 1zm115 1zm49 0zm-6 1zm-223 1zm112 0zm59 0zm53 0zm-48 1zm55 0zm-113 1zm102 2zm5 0zm-3 1zm-110 1zm114 0zm-211 1zm6 0zm211 0zm-339 1zm114 0zm95 0zm12 0zm-231 1zm0 0zm345 0zm-340 1zm231 0zm103 0zm1 0zm4 0zm-248 1zm30 0zm86 0zm11 0zm-14 1zm135 0zm-102 1zm-234 1zm204 0zm16 0zm-112 1zm90 0zm124 0zm-339 1zm13 0zm-24 1zm365 0zm-354 1zm349 0zm10 0zm-359 1zm355 0zm2 0zm-364 1zm213 0zm1 0zm2 0zm-232 1zm6 0zm11 0zm224 0zm6 0zm-234 1zm209 0zm7 0zm11 0zm-236 1zm18 0zm-4 1zm181 0zm6 0zm20 0zm6 0zm-228 2zm1 0zm1 0zm185 0zm22 0zm15 0zm-20 1zm156 0zm23 0zm-383 1zm96 0zm84 0zm22 0zm-3 1zm-249 1zm195 0zm38 1zm6 0zm3 0zm131 0zm-321 1zm162 0zm13 0zm5 0zm2 0zm10 0zm32 1zm39 0zm-303 1zm210 0zm57 0zm41 0zm111 0zm-16 1zm-129 1zm156 0zm-5 1zm2 0zm-214 1zm-294 1zm22 0zm208 0zm96 0zm157 0zm29 0zm-73 1zm25 0zm44 0zm-214 1zm16 0zm77 0zm105 0zm-105 1zm87 0zm-141 1zm-130 2zm31 0zm-199 1zm11 0zm191 1zm195 0zm-444 1zm6 0zm27 0zm-40 1zm8 0zm15 0zm9 0zm17 0zm32 0zm-63 1zm6 0zm9 0zm19 0zm417 0zm-473 1zm12 0zm8 0zm5 0zm17 0zm23 0zm-48 1zm25 0zm12 0zm9 0zm241 0zm156 0zm-452 1zm3 0zm2 0zm25 0zm190 0zm117 0zm-342 1zm16 0zm97 0zm-109 1zm18 0zm27 0zm21 0zm-80 1zm12 0zm39 0zm7 0zm10 0zm309 0zm72 0zm82 0zm-513 1zm6 0zm38 0zm15 0zm26 0zm21 0zm406 0zm-530 1zm14 0zm4 0zm5 0zm24 0zm79 0zm192 0zm132 0zm-454 1zm5 0zm11 0zm14 0zm1 0zm395 0zm25 0zm-461 1zm35 0zm7 0zm17 0zm1 0zm335 0zm57 0zm-440 1zm18 0zm4 0zm3 0zm62 0zm-93 1zm21 0zm20 0zm18 0zm40 0zm0 0zm44 0zm307 0zm-411 1zm9 0zm4 0zm25 0zm55 0zm231 0zm-369 1zm1 0zm25 0zm12 0zm10 0zm12 0zm8 0zm262 0zm-328 1zm5 0zm1 0zm32 0zm14 0zm22 0zm486 0zm-566 1zm9 1zm8 0zm23 0zm6 0zm4 1zm12 0zm45 0zm7 0zm11 0zm29 0zm238 0zm-387 1zm2 0zm8 0zm11 0zm38 0zm2 0zm-72 1zm11 0zm39 0zm8 0zm7 0zm37 0zm-73 1zm6 0zm10 0zm98 0zm0 0zm-126 1zm12 0zm3 0zm29 0zm15 0zm26 0zm9 0zm264 0zm-367 1zm61 0zm6 0zm-56 1zm8 0zm37 0zm14 0zm-74 1zm60 0zm11 0zm-72 1zm13 0zm15 0zm4 0zm29 0zm39 0zm31 0zm3 0zm-136 1zm20 0zm2 0zm29 0zm531 0zm4 0zm-571 1zm27 0zm6 0zm33 0zm498 0zm-562 1zm12 0zm6 0zm41 0zm-62 1zm11 0zm2 0zm26 0zm-45 1zm21 0zm6 0zm13 0zm24 0zm1 0zm269 0zm80 0zm-424 1zm11 0zm12 0zm10 0zm1 0zm36 0zm-43 1zm1 0zm26 0zm18 0zm34 0zm-73 1zm16 0zm58 0zm18 0zm-112 1zm16 0zm30 0zm13 0zm5 0zm1 0zm-62 1zm20 0zm41 0zm41 0zm-115 1zm18 0zm19 0zm3 0zm28 0zm44 0zm11 0zm2 0zm-123 1zm29 0zm70 0zm97 0zm-200 1zm14 0zm33 0zm54 0zm21 0zm-105 1zm50 0zm-65 1zm49 1zm13 0zm142 0zm1 0zm210 0zm-411 1zm3 0zm47 0zm0 0zm28 0zm7 0zm12 0zm336 0zm-375 1zm3 0zm31 0zm117 0zm-210 1zm200 0zm214 0zm-365 1zm35 0zm-75 1zm35 0zm5 0zm5 0zm2 0zm2 0zm-21 1zm20 0zm14 0zm343 0zm-406 1zm62 0zm4 0zm127 0zm7 0zm204 0zm-367 1zm37 0zm141 0zm-138 1zm13 0zm318 0zm-409 1zm1 0zm21 0zm32 0zm10 0zm5 0zm123 0zm10 0zm11 0zm188 0zm4 0zm1 0zm3 0zm-333 1zm8 0zm128 0zm-187 1zm26 0zm163 0zm189 0zm-384 1zm8 0zm34 0zm145 0zm1 0zm198 0zm-416 1zm8 0zm5 0zm5 0zm26 0zm4 0zm20 0zm1 0zm31 0zm125 0zm186 0zm5 0zm13 0zm-408 1zm48 0zm159 0zm197 0zm-412 1zm221 0zm222 0zm-442 1zm30 0zm10 0zm3 0zm-38 1zm9 0zm40 0zm152 0zm8 0zm2 0zm198 0zm2 0zm9 0zm-401 1zm377 0zm24 0zm109 0zm2 0zm-127 1zm7 0zm-408 1zm221 0zm189 0zm-405 1zm13 0zm1 0zm4 0zm388 0zm-414 1zm27 0zm5 0zm377 0zm13 0zm10 0zm-433 1zm10 0zm11 0zm2 0zm193 0zm4 0zm184 0zm7 0zm18 0zm9 0zm2 0zm-433 1zm213 0zm-226 1zm218 0zm9 0zm4 0zm0 0zm183 0zm6 0zm6 0zm0 0zm6 0zm-414 1zm212 0zm192 0zm13 0zm0 0zm-431 1zm11 0zm217 0zm210 0zm-431 1zm6 0zm225 0zm183 0zm7 0zm-206 1zm4 0zm0 0zm7 0zm187 0zm17 0zm-421 1zm7 0zm203 0zm200 0zm0 0zm11 0zm1 0zm-214 1zm134 0zm4 0zm-340 1zm216 1zm4 0zm119 0zm65 0zm3 0zm11 0zm67 0zm-483 1zm205 0zm204 0zm-197 1zm120 0zm2 0zm0 0zm4 0zm66 0zm-186 1zm3 1zm5 0zm194 1zm-194 1zm182 0zm-183 2zm-4 1zm12 0zm192 1zm-203 1zm194 0zm-81 1zm1 0zm73 0zm-174 1zm-8 1zm10 0zm85 0zm7 0zm4 0zm77 0zm-165 1zm222 0zm-230 1zm3 0zm5 0zm74 0zm6 0zm18 0zm-94 1zm136 0zm-135 1zm1 0zm0 0zm58 0zm46 0zm11 0zm1 0zm-125 1zm3 0zm5 0zm2 0zm1 0zm4 1zm9 0zm26 0zm7 0zm7 0zm-44 1zm3 0zm5 0zm6 0zm5 0zm18 0zm15 0zm77 0zm-111 1zm3 0zm7 0zm102 0zm26 0zm-151 1zm6 0zm1 0zm9 1zm10 0zm6 0zm112 0zm13 0zm-20 1zm-2 3zm3 0zm41 1zm-25 1zm8 0zm-14 1zm21 1zm0 0zm7 0zm-34 1zm16 0zm4 0zm-160 2zm164 0zm0 0zm7 0zm-187 1zm5 3zm28 4zm4 6zm0 3zm31 4zm-23 2zm38 0zm-15 1zm4 0zm1 0zm-6 1zm-37 1zm37 2zm4 0zm28 0zm-75 1zm57 1zm14 1zm-116 1zm31 0zm48 1zm39 0zm-99 1zm89 0zm-128 1zm6 0zm60 0zm62 0zm17 1zm-132 1zm123 0zm12 0zm-129 1zm2 0zm1 0zm13 0zm61 0zm0 0zm17 1zm35 0zm-148 1zm6 0zm4 0zm12 0zm110 0zm-110 1zm9 0zm4 0zm65 1zm47 0zm-112 1zm96 0zm-135 1zm14 0zm1 0zm8 0zm10 0zm6 0zm4 0zm83 0zm-114 1zm0 0zm9 0zm9 1zm88 0zm-123 1zm28 0zm-14 1zm105 0zm-101 1zm28 0zm-37 1zm16 0zm15 0zm6 0zm81 0zm19 0zm-130 1zm4 0zm-17 1zm20 0zm24 0zm66 0zm-98 1zm6 0zm1 1zm1 0zm101 0zm-122 1zm5 0zm24 0zm115 0zm-108 1zm106 0zm5 0zm-24 1zm-110 1zm39 0zm-43 1zm4 0zm1 0zm128 0zm-119 1zm5 0zm19 0zm4 0zm70 0zm14 0zm-128 1zm6 0zm6 0zm7 0zm15 0zm-37 1zm24 0zm17 1zm-23 1zm7 0zm-3 1zm-2 1zm4 0zm4 0zm12 0zm1 0zm-37 1zm25 0zm97 0zm-116 1zm-12 2zm1 0zm1 0zm15 1zm11 0zm15 0zm-19 1zm24 0zm58 0zm-98 1zm10 0zm15 0zm48 0zm15 0zm-80 1zm7 0zm9 0zm1 0zm10 0zm44 0zm6 0zm1 0zm-70 1zm14 0zm-13 1zm73 0zm-11 1zm10 0zm-37 1zm2 0zm37 0zm-78 1zm7 0zm63 0zm-67 1zm24 0zm-27 1zm8 0zm-16 1zm2 0zm2 0zm2 0zm9 1zm23 0zm-28 1zm17 0z" stroke="#00BFC4"/><path d="M1796 121zm-40 1zm16 0zm11 0zm-20 2zm15 0zm3 0zm3 0zm6 0zm13 0zm4 0zm0 0zm-40 1zm31 0zm1 0zm14 0zm-37 1zm19 0zm8 0zm-28 2zm9 0zm11 0zm8 0zm-528 1zm479 0zm0 0zm15 0zm12 0zm3 0zm4 0zm-503 1zm459 0zm16 0zm1 0zm39 0zm5 0zm-48 1zm8 1zm24 0zm-494 1zm448 0zm11 0zm26 0zm4 0zm9 0zm25 0zm-549 1zm487 0zm16 0zm-482 1zm457 0zm12 0zm69 0zm-93 1zm13 0zm47 0zm5 0zm-511 1zm2 0zm483 0zm13 0zm10 0zm1 0zm21 0zm8 0zm2 0zm-559 1zm29 0zm459 0zm23 0zm32 0zm15 0zm3 0zm-574 1zm47 0zm2 0zm425 0zm51 0zm18 0zm23 0zm15 0zm-95 1zm34 0zm6 0zm38 0zm4 0zm7 0zm-571 1zm8 0zm16 0zm6 0zm14 0zm423 0zm12 0zm11 0zm18 0zm18 0zm36 0zm-538 1zm456 0zm25 0zm12 0zm20 0zm-511 1zm451 0zm55 0zm6 0zm-490 1zm428 0zm16 0zm2 0zm2 0zm6 0zm9 0zm12 0zm52 0zm-573 1zm10 0zm35 0zm420 0zm3 0zm21 0zm12 0zm14 0zm8 0zm8 0zm2 0zm54 0zm-575 1zm19 0zm468 0zm15 0zm29 0zm6 0zm-489 1zm2 0zm450 0zm68 0zm-554 1zm26 0zm3 0zm443 0zm10 0zm44 0zm20 0zm-592 1zm23 0zm20 0zm441 0zm27 0zm50 0zm10 0zm2 0zm-546 1zm7 0zm1 0zm37 0zm423 0zm5 0zm4 0zm3 0zm14 0zm3 0zm32 0zm1 0zm2 0zm11 0zm38 0zm-547 1zm15 0zm435 0zm14 0zm4 0zm19 0zm12 0zm20 0zm2 0zm4 0zm16 0zm10 0zm-560 1zm17 0zm412 0zm36 0zm1 0zm14 0zm10 0zm22 0zm22 0zm11 0zm20 0zm8 0zm-117 1zm1 0zm31 0zm34 0zm49 0zm3 0zm-628 1zm0 0zm24 0zm6 0zm2 0zm35 0zm30 0zm389 0zm3 0zm11 0zm46 0zm4 0zm2 0zm24 0zm57 0zm-588 1zm459 0zm15 0zm4 0zm3 0zm17 0zm7 0zm15 0zm44 0zm5 0zm20 0zm-621 1zm32 0zm17 0zm1 0zm31 0zm427 0zm2 0zm7 0zm31 0zm81 0zm-637 1zm58 0zm421 0zm4 0zm9 0zm23 0zm17 0zm3 0zm9 0zm8 0zm11 0zm0 0zm-552 1zm43 0zm31 0zm9 0zm7 0zm380 0zm25 0zm8 0zm18 0zm12 0zm6 0zm80 0zm5 0zm-608 1zm4 0zm23 0zm2 0zm27 0zm430 0zm14 0zm7 0zm30 0zm29 0zm27 0zm-629 1zm11 0zm1 0zm1 0zm65 0zm16 0zm12 0zm5 0zm384 0zm1 0zm43 0zm15 0zm20 0zm2 0zm61 0zm16 0zm-656 1zm51 0zm26 0zm6 0zm34 0zm383 0zm52 0zm63 0zm9 0zm17 0zm8 0zm7 0zm-616 1zm42 0zm28 0zm380 0zm26 0zm28 0zm18 0zm4 0zm8 0zm14 0zm8 0zm6 0zm28 0zm15 0zm12 0zm-622 1zm3 0zm13 0zm36 0zm10 0zm434 0zm11 0zm1 0zm1 0zm4 0zm1 0zm6 0zm5 0zm56 0zm-612 1zm6 0zm48 0zm10 0zm28 0zm420 0zm14 0zm37 0zm5 0zm12 0zm11 0zm19 0zm23 0zm5 0zm2 0zm-638 1zm42 0zm17 0zm35 0zm400 0zm2 0zm13 0zm17 0zm15 0zm56 0zm4 0zm40 0zm8 0zm2 0zm1 0zm-664 1zm525 0zm26 0zm16 0zm65 0zm32 0zm-598 1zm13 0zm49 0zm379 0zm18 0zm57 0zm9 0zm45 0zm29 0zm-666 1zm67 0zm2 0zm132 0zm365 0zm9 0zm51 0zm29 0zm7 0zm-583 1zm43 0zm429 0zm2 0zm25 0zm7 0zm52 0zm25 0zm-589 1zm11 0zm12 0zm105 0zm364 0zm10 0zm4 0zm12 0zm7 0zm63 0zm-655 1zm11 0zm15 0zm6 0zm46 0zm23 0zm95 0zm3 0zm325 0zm38 0zm11 0zm3 0zm18 0zm30 0zm-580 1zm33 0zm21 0zm94 0zm0 0zm17 0zm290 0zm36 0zm2 0zm11 0zm5 0zm16 0zm24 0zm4 0zm57 0zm-661 1zm15 0zm5 0zm43 0zm22 0zm0 0zm51 0zm64 0zm1 0zm23 0zm4 0zm2 0zm328 0zm9 0zm0 0zm3 0zm11 0zm17 0zm29 0zm-627 1zm60 0zm4 0zm10 0zm13 0zm24 0zm414 0zm60 0zm28 0zm-613 1zm19 0zm15 0zm2 0zm29 0zm42 0zm412 0zm17 0zm-502 1zm59 0zm450 0zm79 0zm-623 1zm68 0zm30 0zm4 0zm7 0zm15 0zm3 0zm480 0zm9 0zm-556 1zm13 0zm462 0zm1 0zm67 0zm-591 1zm1 0zm17 0zm1 0zm45 0zm36 0zm27 0zm441 0zm37 0zm54 0zm-666 1zm18 0zm36 0zm2 0zm39 0zm16 0zm464 0zm-535 1zm39 0zm446 0zm90 0zm-620 1zm4 0zm2 0zm6 0zm5 0zm10 0zm2 0zm15 0zm10 0zm79 0zm401 0zm5 0zm38 0zm-518 1zm17 0zm17 0zm5 0zm1 0zm6 0zm11 0zm5 0zm-125 1zm33 0zm32 0zm43 0zm5 0zm35 0zm367 0zm8 0zm54 0zm-552 1zm34 0zm65 0zm1 0zm382 0zm32 0zm32 0zm-537 1zm11 0zm3 0zm38 0zm16 0zm9 0zm36 0zm454 0zm-583 1zm3 0zm15 0zm52 0zm55 0zm7 0zm1 0zm440 0zm-580 1zm6 0zm3 0zm15 0zm6 0zm48 0zm430 0zm49 0zm7 0zm2 0zm102 0zm-557 1zm441 0zm9 0zm26 0zm-574 1zm25 0zm17 0zm41 0zm395 0zm89 0zm-578 1zm14 0zm81 0zm1 0zm37 0zm2 0zm376 0zm71 0zm12 0zm-500 1zm24 0zm6 0zm13 0zm362 0zm10 0zm28 0zm18 0zm50 0zm61 0zm2 0zm-674 1zm0 0zm1 0zm31 0zm13 0zm15 0zm7 0zm4 0zm19 0zm11 0zm37 0zm460 0zm12 0zm-610 1zm60 0zm17 0zm20 0zm425 0zm51 0zm2 0zm-522 1zm28 0zm5 0zm7 0zm9 0zm3 0zm7 0zm7 0zm-117 1zm2 0zm8 0zm8 0zm53 0zm11 0zm7 0zm21 0zm444 0zm17 0zm-529 1zm3 0zm42 0zm19 0zm7 0zm8 0zm19 0zm376 0zm-459 1zm33 0zm426 0zm4 0zm-514 1zm70 0zm7 0zm2 0zm2 0zm6 0zm41 0zm388 0zm16 0zm51 0zm2 0zm-584 1zm44 0zm9 0zm1 0zm16 0zm50 0zm15 0zm5 0zm362 0zm57 0zm-560 1zm20 0zm2 0zm36 0zm437 0zm78 0zm-571 1zm13 0zm6 0zm31 0zm47 0zm21 0zm438 0zm21 0zm31 0zm-613 1zm3 0zm8 0zm4 0zm14 0zm23 0zm1 0zm24 0zm0 0zm7 0zm11 0zm18 0zm23 0zm439 0zm1 0zm-574 1zm1 0zm22 0zm13 0zm6 0zm35 0zm13 0zm17 0zm5 0zm0 0zm11 0zm366 0zm28 0zm26 0zm6 0zm24 0zm9 0zm27 0zm-603 1zm4 0zm1 0zm34 0zm41 0zm42 0zm375 0zm23 0zm-516 1zm9 0zm34 0zm18 0zm38 0zm39 0zm357 0zm99 0zm5 0zm68 0zm-681 1zm10 0zm2 0zm0 0zm63 0zm530 0zm8 0zm68 0zm-672 1zm43 0zm97 0zm398 0zm6 0zm51 0zm3 0zm-596 1zm20 0zm69 0zm23 0zm23 0zm11 0zm335 0zm18 0zm0 0zm100 0zm3 0zm-595 1zm11 0zm2 0zm19 0zm4 0zm17 0zm44 0zm5 0zm10 0zm22 0zm10 0zm495 0zm12 0zm-614 1zm27 0zm13 0zm55 0zm447 0zm15 0zm66 0zm-629 1zm5 0zm7 0zm49 0zm27 0zm6 0zm2 0zm365 0zm96 0zm17 0zm-608 1zm7 0zm0 0zm2 0zm83 0zm44 0zm310 0zm125 0zm9 0zm4 0zm40 0zm47 0zm-669 1zm18 0zm16 0zm19 0zm36 0zm33 0zm384 0zm36 0zm18 0zm20 0zm5 0zm71 0zm8 0zm-668 1zm8 0zm16 0zm11 0zm68 0zm50 0zm355 0zm20 0zm70 0zm16 0zm47 0zm-618 1zm13 0zm48 0zm18 0zm18 0zm3 0zm352 0zm49 0zm34 0zm-572 1zm50 0zm4 0zm1 0zm7 0zm517 0zm6 0zm4 0zm1 0zm57 0zm-643 1zm15 0zm7 0zm1 0zm6 0zm5 0zm48 0zm16 0zm423 0zm138 0zm6 0zm-644 1zm4 0zm531 0zm11 0zm-550 1zm21 0zm13 0zm24 0zm44 0zm391 0zm4 0zm50 0zm12 0zm8 0zm4 0zm61 0zm9 0zm-663 1zm15 0zm53 0zm46 0zm5 0zm403 0zm9 0zm37 0zm3 0zm2 0zm1 0zm5 0zm72 0zm-623 1zm16 0zm17 0zm0 0zm7 0zm39 0zm400 0zm1 0zm55 0zm10 0zm4 0zm3 0zm0 0zm93 0zm1 0zm-648 1zm0 0zm42 0zm19 0zm1 0zm35 0zm404 0zm47 0zm102 0zm-656 1zm43 0zm23 0zm4 0zm4 0zm469 0zm7 0zm5 0zm14 0zm-565 1zm28 0zm3 0zm5 0zm24 0zm16 0zm46 0zm139 0zm287 0zm16 0zm-558 1zm69 0zm16 0zm3 0zm178 0zm291 0zm-543 1zm25 0zm4 0zm9 0zm8 0zm24 0zm430 0zm6 0zm14 0zm17 0zm3 0zm-558 1zm47 0zm34 0zm461 0zm2 0zm6 0zm5 0zm4 0zm7 0zm-556 1zm23 0zm6 0zm54 0zm421 0zm13 0zm3 0zm14 0zm75 0zm-601 1zm23 0zm2 0zm24 0zm7 0zm263 0zm16 0zm185 0zm16 0zm9 0zm-550 1zm28 0zm9 0zm22 0zm23 0zm36 0zm0 0zm156 0zm66 0zm174 0zm3 0zm9 0zm5 0zm-515 1zm43 0zm7 0zm13 0zm423 0zm10 0zm17 0zm7 0zm11 0zm-547 1zm12 0zm17 0zm33 0zm60 0zm145 0zm0 0zm243 0zm13 0zm4 0zm2 0zm1 0zm16 0zm68 0zm-598 1zm22 0zm10 0zm13 0zm5 0zm185 0zm3 0zm10 0zm18 0zm4 0zm217 0zm2 0zm3 0zm32 0zm10 0zm78 0zm-592 1zm206 0zm6 0zm12 0zm16 0zm8 0zm2 0zm2 0zm221 0zm2 0zm14 0zm-545 1zm78 0zm197 0zm6 0zm25 0zm1 0zm6 0zm2 0zm1 0zm49 0zm152 0zm20 0zm8 0zm5 0zm1 0zm2 0zm99 0zm-649 1zm26 0zm7 0zm29 0zm200 0zm15 0zm7 0zm9 0zm26 0zm199 0zm10 0zm15 0zm13 0zm76 0zm24 0zm-603 1zm21 0zm2 0zm207 0zm11 0zm222 0zm27 0zm-505 1zm16 0zm195 0zm25 0zm8 0zm1 0zm13 0zm3 0zm5 0zm15 0zm25 0zm179 0zm0 0zm11 0zm25 0zm4 0zm84 0zm-571 1zm182 0zm2 0zm11 0zm1 0zm0 0zm10 0zm1 0zm2 0zm6 0zm54 0zm59 0zm140 0zm0 0zm15 0zm-518 1zm10 0zm13 0zm188 0zm22 0zm8 0zm1 0zm1 0zm3 0zm1 0zm12 0zm3 0zm32 0zm16 0zm13 0zm166 0zm-506 1zm22 0zm219 0zm1 0zm11 0zm2 0zm7 0zm4 0zm13 0zm19 0zm19 0zm7 0zm11 0zm150 0zm8 0zm4 0zm6 0zm11 0zm6 0zm99 0zm-383 1zm15 0zm7 0zm17 0zm6 0zm6 0zm9 0zm43 0zm1 0zm161 0zm3 0zm0 0zm10 0zm21 0zm-276 1zm1 0zm1 0zm22 0zm7 0zm8 0zm195 0zm127 0zm-638 1zm10 0zm11 0zm28 0zm7 0zm10 0zm183 0zm5 0zm1 0zm3 0zm17 0zm13 0zm10 0zm10 0zm10 0zm23 0zm211 0zm-490 1zm3 0zm188 0zm16 0zm2 0zm11 0zm15 0zm30 0zm20 0zm155 0zm17 0zm13 0zm7 0zm3 0zm-299 1zm13 0zm4 0zm3 0zm15 0zm2 0zm5 0zm6 0zm5 0zm5 0zm43 0zm17 0zm152 0zm11 0zm23 0zm5 0zm75 0zm0 0zm-561 1zm3 0zm192 0zm22 0zm29 0zm9 0zm9 0zm19 0zm4 0zm8 0zm149 0zm3 0zm7 0zm-500 1zm236 0zm1 0zm1 0zm11 0zm1 0zm27 0zm2 0zm19 0zm34 0zm146 0zm10 0zm19 0zm7 0zm99 0zm-600 1zm219 0zm10 0zm13 0zm8 0zm16 0zm0 0zm15 0zm10 0zm200 0zm0 0zm14 0zm88 0zm-620 1zm70 0zm206 0zm50 0zm201 0zm9 0zm6 0zm77 0zm-612 1zm31 0zm15 0zm218 0zm1 0zm1 0zm14 0zm16 0zm14 0zm4 0zm16 0zm4 0zm6 0zm1 0zm138 0zm3 0zm15 0zm22 0zm2 0zm-272 1zm25 0zm0 0zm6 0zm23 0zm203 0zm15 0zm1 0zm3 0zm-526 1zm51 0zm1 0zm6 0zm3 0zm0 0zm2 0zm200 0zm8 0zm9 0zm31 0zm6 0zm22 0zm27 0zm125 0zm7 0zm5 0zm3 0zm1 0zm0 0zm2 0zm19 0zm4 0zm-270 1zm0 0zm7 0zm44 0zm2 0zm22 0zm-270 1zm185 0zm41 0zm38 0zm21 0zm135 0zm5 0zm12 0zm9 0zm9 0zm-495 1zm13 0zm13 0zm20 0zm1 0zm185 0zm23 0zm11 0zm18 0zm22 0zm27 0zm126 0zm7 0zm3 0zm19 0zm-494 1zm32 0zm209 0zm15 0zm4 0zm37 0zm3 0zm9 0zm0 0zm147 0zm7 0zm3 0zm11 0zm-430 1zm4 0zm187 0zm3 0zm24 0zm12 0zm44 0zm5 0zm130 0zm1 0zm28 0zm4 0zm10 0zm8 0zm-241 1zm9 0zm9 0zm2 0zm6 0zm49 0zm128 0zm4 0zm13 0zm-494 1zm250 0zm15 0zm3 0zm8 0zm0 0zm39 0zm0 0zm5 0zm15 0zm89 0zm43 0zm3 0zm4 0zm16 0zm26 0zm-489 1zm241 0zm6 0zm18 0zm13 0zm23 0zm16 0zm2 0zm1 0zm133 0zm13 0zm0 0zm10 0zm6 0zm-454 1zm262 0zm2 0zm32 0zm109 0zm9 0zm0 0zm13 0zm-192 1zm36 0zm24 0zm115 0zm35 0zm9 0zm-447 1zm221 0zm26 0zm2 0zm2 0zm20 0zm0 0zm16 0zm3 0zm7 0zm105 0zm2 0zm6 0zm27 0zm8 0zm-483 1zm7 0zm37 0zm219 0zm8 0zm21 0zm21 0zm4 0zm1 0zm1 0zm13 0zm121 0zm6 0zm9 0zm2 0zm1 0zm1 0zm-446 1zm12 0zm261 0zm25 0zm0 0zm5 0zm1 0zm103 0zm1 0zm10 0zm14 0zm16 0zm-183 1zm2 0zm20 0zm1 0zm3 0zm1 0zm8 0zm17 0zm36 0zm19 0zm8 0zm37 0zm3 0zm4 0zm3 0zm28 0zm-177 1zm7 0zm5 0zm5 0zm0 0zm18 0zm0 0zm51 0zm15 0zm30 0zm3 0zm0 0zm7 0zm7 0zm7 0zm1 0zm6 0zm-425 1zm1 0zm271 0zm2 0zm2 0zm2 0zm17 0zm1 0zm52 0zm1 0zm9 0zm10 0zm32 0zm20 0zm1 0zm3 0zm0 0zm-428 1zm271 0zm22 0zm1 0zm6 0zm42 0zm22 0zm36 0zm9 0zm1 0zm1 0zm-450 1zm332 0zm46 0zm88 0zm4 0zm-428 1zm294 0zm2 0zm3 0zm42 0zm5 0zm5 0zm41 0zm14 0zm-54 1zm48 0zm7 0zm8 0zm-439 1zm3 0zm306 0zm100 0zm16 0zm17 0zm-420 1zm277 0zm142 0zm-429 1zm25 0zm146 1zm33 0zm207 0zm13 0zm-444 1zm9 0zm202 0zm209 0zm-408 1zm4 0zm177 0zm245 0zm15 0zm-383 1zm367 0zm-418 1zm38 0zm-49 1zm165 0zm169 1zm16 0zm-402 1zm91 0zm0 0zm194 0zm-68 1zm35 0zm-190 1zm22 0zm88 0zm-173 1zm97 0zm175 0zm262 0zm-6 1zm-440 1zm449 0zm-469 1zm45 0zm3 0zm-43 1zm219 0zm239 0zm-467 1zm56 0zm107 0zm50 0zm-203 1zm3 0zm23 1zm1 0zm19 0zm8 0zm22 0zm108 0zm278 0zm4 0zm13 0zm-480 1zm6 0zm57 0zm231 0zm177 0zm1 0zm-441 1zm4 0zm432 1zm5 1zm-319 1zm326 0zm7 0zm-477 1zm33 0zm436 0zm-477 1zm4 0zm116 0zm-15 1zm374 0zm10 0zm-479 1zm290 0zm188 0zm-478 1zm16 0zm22 0zm193 0zm249 1zm-457 1zm27 0zm-42 1zm29 0zm-31 2zm171 0zm51 0zm-178 2zm-49 1zm11 0zm-6 1zm219 0zm-207 3zm192 1zm0 2zm42 1zm119 1zm1 0zm-51 1zm33 1zm15 0zm-7 1zm-8 1zm2 0zm7 0zm-2 2zm16 0zm-111 2zm83 0zm5 0zm5 0zm11 0zm2 0zm7 1zm-124 1zm9 0zm107 0zm5 0zm-278 1zm270 0zm-117 1zm127 0zm-329 1zm15 0zm39 1zm42 0zm226 0zm-21 1zm2 0zm2 0zm20 0zm-260 1zm134 0zm107 0zm15 0zm1 0zm-321 1zm13 0zm307 0zm4 0zm-295 1zm162 0zm6 0zm-7 1zm22 0zm90 0zm1 0zm0 0zm18 0zm3 0zm-258 1zm240 0zm4 0zm5 0zm-349 1zm76 0zm283 0zm-138 1zm123 0zm16 0zm4 0zm-169 1zm38 0zm4 0zm110 0zm8 0zm-142 1zm14 0zm7 0zm117 0zm6 0zm-8 1zm-124 1zm115 0zm18 0zm-125 1zm0 0zm-160 1zm90 0zm22 0zm19 0zm4 0zm10 0zm6 0zm2 0zm1 0zm10 0zm-91 1zm54 0zm3 0zm-48 1zm8 0zm48 0zm-57 1zm38 0zm12 0zm4 0zm30 0zm-130 1zm31 0zm66 0zm-27 1zm54 0zm10 0zm106 0zm5 0zm-178 1zm167 0zm-143 1zm5 0zm29 0zm121 0zm-276 1zm157 0zm13 0zm109 0zm4 0zm4 0zm5 0zm-295 1zm96 0zm19 0zm22 0zm124 0zm33 0zm-284 1zm6 0zm10 0zm52 0zm16 0zm173 0zm8 0zm12 0zm13 0zm-420 1zm131 0zm3 0zm73 0zm6 0zm175 0zm0 0zm4 0zm-251 1zm251 0zm14 1zm-259 1zm35 0zm17 0zm8 0zm12 0zm5 0zm168 0zm-266 1zm6 0zm24 0zm119 0zm9 0zm-83 1zm0 0zm3 0zm2 0zm65 0zm8 0zm11 0zm97 0zm10 0zm16 0zm-265 1zm59 0zm209 0zm-299 1zm7 0zm17 0zm90 0zm17 0zm31 0zm101 0zm2 0zm12 0zm5 0zm-253 1zm103 0zm81 0zm25 0zm5 0zm8 0zm8 0zm1 0zm13 0zm-239 1zm75 0zm112 0zm53 0zm1 0zm22 0zm-300 1zm8 0zm37 0zm9 0zm24 0zm3 0zm41 0zm139 0zm18 0zm-272 1zm20 0zm14 0zm120 0zm8 0zm7 0zm-144 1zm-29 1zm55 0zm86 0zm100 0zm9 0zm5 0zm28 0zm10 0zm5 0zm-515 1zm200 0zm6 0zm38 0zm55 0zm2 0zm58 0zm112 0zm20 0zm2 0zm-452 1zm17 0zm193 0zm42 0zm6 0zm33 0zm5 0zm38 0zm1 0zm5 0zm55 0zm69 0zm9 0zm4 0zm-503 1zm302 0zm136 0zm54 0zm2 0zm-248 1zm53 0zm145 0zm-473 1zm19 0zm8 0zm22 0zm185 0zm2 0zm3 0zm2 0zm3 0zm15 0zm247 0zm3 0zm2 0zm11 0zm4 0zm4 0zm-538 1zm41 0zm6 0zm278 0zm83 0zm-404 1zm1 0zm205 0zm59 0zm35 0zm13 0zm153 0zm4 0zm3 0zm53 0zm-516 1zm8 0zm28 0zm7 0zm7 0zm154 0zm13 0zm3 0zm19 0zm13 0zm85 0zm145 0zm25 0zm-527 1zm44 0zm3 0zm3 0zm18 0zm26 0zm126 0zm17 0zm19 0zm117 0zm45 0zm59 0zm44 0zm5 0zm7 0zm-536 1zm62 0zm393 0zm19 0zm49 0zm-523 1zm2 0zm2 0zm11 0zm9 0zm8 0zm50 0zm22 0zm72 0zm30 0zm80 0zm2 0zm4 0zm65 0zm13 0zm1 0zm30 0zm12 0zm19 0zm97 0zm1 0zm-522 1zm9 0zm14 0zm23 0zm27 0zm14 0zm27 0zm64 0zm8 0zm100 0zm7 0zm150 0zm17 0zm-453 1zm18 0zm10 0zm2 0zm11 0zm3 0zm78 0zm4 0zm22 0zm32 0zm163 0zm39 0zm18 0zm39 0zm4 0zm82 0zm8 0zm-524 1zm11 0zm74 0zm19 0zm32 0zm19 0zm11 0zm101 0zm20 0zm138 0zm-424 1zm123 0zm164 0zm5 0zm1 0zm128 0zm-451 1zm7 0zm3 0zm25 0zm56 0zm24 0zm1 0zm31 0zm7 0zm150 0zm1 0zm16 0zm8 0zm115 0zm6 0zm2 0zm-436 1zm65 0zm92 0zm143 0zm7 0zm9 0zm106 0zm-429 1zm45 0zm63 0zm11 0zm16 0zm33 0zm118 0zm43 0zm22 0zm8 0zm69 0zm120 0zm15 0zm0 0zm-564 1zm8 0zm17 0zm40 0zm7 0zm266 0zm0 0zm84 0zm144 0zm-570 1zm1 0zm11 0zm15 0zm11 0zm299 0zm11 0zm0 0zm77 0zm141 0zm2 0zm-568 1zm0 0zm19 0zm0 0zm25 0zm38 0zm268 0zm1 0zm6 0zm9 0zm48 0zm144 0zm-525 1zm34 0zm5 0zm33 0zm4 0zm1 0zm13 0zm10 0zm230 0zm0 0zm6 0zm5 0zm46 0zm143 0zm9 0zm-569 1zm25 0zm3 0zm39 0zm37 0zm1 0zm243 0zm6 0zm13 0zm14 0zm12 0zm4 0zm3 0zm7 0zm160 0zm-520 1zm35 0zm40 0zm248 0zm7 0zm190 0zm2 0zm2 0zm-581 1zm10 0zm5 0zm4 0zm46 0zm23 0zm4 0zm25 0zm185 0zm38 0zm243 0zm-566 1zm84 0zm7 0zm26 0zm161 0zm278 0zm0 0zm1 0zm3 0zm-569 1zm2 0zm2 0zm73 0zm14 0zm15 0zm457 0zm3 0zm1 0zm4 0zm3 0zm-587 1zm1 0zm11 0zm38 0zm4 0zm53 0zm474 0zm-577 1zm5 0zm25 0zm5 0zm29 0zm8 0zm20 0zm237 0zm245 0zm5 0zm-568 1zm50 0zm227 0zm284 0zm2 0zm0 0zm2 0zm2 0zm-566 1zm36 0zm3 0zm47 0zm225 0zm2 0zm58 0zm191 0zm4 0zm-573 1zm5 0zm11 0zm14 0zm30 0zm46 0zm218 0zm10 0zm234 0zm10 0zm-520 1zm13 0zm35 0zm4 0zm3 0zm13 0zm-125 1zm6 0zm52 0zm7 0zm57 0zm204 0zm4 0zm-329 1zm20 0zm10 0zm23 0zm45 0zm3 0zm5 0zm19 0zm205 0zm231 0zm-575 1zm52 0zm35 0zm243 0zm2 0zm5 0zm56 0zm33 0zm153 0zm-578 1zm35 0zm10 0zm6 0zm0 0zm27 0zm52 0zm210 0zm1 0zm1 0zm242 0zm-560 1zm8 0zm6 0zm2 0zm24 0zm53 0zm-89 1zm22 0zm37 0zm199 0zm138 0zm-406 1zm15 0zm46 0zm30 0zm230 0zm5 0zm18 0zm-358 1zm33 0zm10 0zm31 0zm42 0zm84 0zm131 0zm-319 1zm25 0zm20 0zm6 0zm37 0zm3 0zm8 0zm463 0zm-572 1zm6 0zm1 0zm13 0zm15 0zm61 0zm20 0zm2 0zm198 0zm16 0zm-319 1zm26 0zm9 0zm9 0zm2 0zm508 0zm2 0zm-555 1zm10 0zm15 0zm56 0zm0 0zm1 0zm0 0zm-102 1zm9 0zm37 0zm22 0zm29 0zm2 0zm229 0zm44 0zm-342 1zm10 0zm26 0zm39 0zm326 0zm-384 1zm9 0zm13 0zm1 0zm46 0zm85 0zm-158 1zm8 0zm29 0zm1 0zm13 0zm110 0zm227 0zm-405 1zm35 0zm44 0zm-95 1zm21 0zm76 0zm454 0zm-552 1zm32 0zm29 0zm24 0zm-90 1zm31 0zm6 0zm5 0zm3 0zm5 0zm5 0zm6 0zm5 0zm8 0zm18 0zm10 0zm103 0zm228 0zm-374 1zm18 0zm1 0zm-81 1zm28 0zm41 0zm3 0zm6 0zm-51 1zm0 0zm5 0zm5 0zm16 0zm23 0zm347 0zm28 0zm101 0zm-503 1zm14 0zm1 0zm0 0zm28 0zm360 0zm-444 1zm30 0zm15 0zm17 0zm2 0zm6 0zm137 0zm196 0zm-381 1zm0 0zm31 0zm6 0zm32 0zm328 0zm26 0zm-432 1zm4 0zm41 0zm13 0zm12 0zm0 0zm-79 1zm62 0zm-65 1zm21 0zm18 0zm14 0zm391 0zm-438 1zm18 0zm26 0zm11 0zm-64 1zm8 0zm35 0zm13 0zm363 0zm27 0zm1 0zm28 0zm-463 1zm26 0zm21 0zm9 0zm376 0zm3 0zm4 0zm-236 1zm204 0zm0 0zm14 0zm14 0zm-431 1zm212 0zm215 0zm-414 1zm7 0zm20 0zm7 0zm159 0zm7 0zm196 0zm61 0zm47 0zm-473 1zm358 0zm9 0zm20 0zm1 0zm-428 1zm23 0zm0 0zm445 0zm-469 1zm5 0zm15 0zm9 0zm189 0zm190 0zm13 0zm9 0zm-29 1zm20 0zm59 1zm29 0zm-497 1zm-11 1zm3 0zm1 0zm17 0zm2 0zm403 0zm53 0zm5 0zm19 1zm-490 1zm-2 1zm484 0zm10 0zm-81 1zm71 0zm9 0zm-77 1zm71 0zm3 0zm1 0zm-75 1zm72 0zm-4 1zm-269 1zm10 1zm113 0zm142 0zm5 0zm1 0zm-153 3zm77 0zm69 0zm1 1zm-250 1zm248 0zm1 0zm2 0zm-251 2zm178 0zm1 1zm0 0zm8 0zm57 0zm-236 2zm97 0zm5 0zm81 0zm6 0zm-87 1zm3 0zm11 0zm113 0zm-228 1zm75 0zm7 0zm101 0zm4 0zm45 0zm-98 1zm93 0zm-95 1zm3 0zm48 0zm-172 1zm212 0zm-1 1zm-195 1zm20 0zm98 0zm16 0zm61 0zm-36 1zm37 0zm-39 1zm35 0zm-163 1zm105 0zm1 0zm55 0zm1 0zm2 0zm2 0zm-58 1zm-116 1zm129 0zm3 0zm-158 1zm161 1zm35 0zm-166 1zm0 0zm118 0zm10 0zm-1 1zm-152 1zm155 0zm3 0zm-2 1zm3 0zm4 0zm7 0zm-7 1zm1 0zm15 0zm-21 1zm-183 2zm199 0zm-188 2zm28 0zm-13 1zm22 0zm-14 2zm16 1zm-33 4zm27 0zm5 0zm-3 3zm6 0zm-50 1zm35 0zm9 0zm5 5zm2 1zm4 0zm31 0zm-60 1zm25 0zm5 0zm30 0zm-70 1zm34 0zm6 0zm-29 1zm31 0zm-55 1zm86 0zm-15 1zm11 0zm-81 1zm4 0zm10 0zm76 1zm-32 1zm10 0zm9 0zm28 0zm-110 2zm69 0zm-83 1zm47 0zm17 0zm50 0zm-92 1zm77 0zm-23 1zm5 0zm57 0zm-122 1zm13 0zm29 0zm52 0zm-43 1zm20 0zm4 0zm9 0zm-83 1zm67 0zm2 0zm-99 1zm8 0zm15 0zm3 0zm14 0zm2 0zm54 0zm4 0zm7 0zm25 0zm-125 1zm1 0zm4 0zm10 0zm-25 2zm71 0zm33 0zm41 0zm-113 1zm-10 1zm97 0zm-109 1zm2 0zm1 0zm4 0zm-14 1zm2 0zm31 0zm67 0zm5 0zm-91 1zm4 0zm32 0zm79 0zm-100 1zm6 0zm71 0zm1 1zm22 2zm-118 1zm18 0zm73 0zm6 0zm15 0zm17 0zm-120 1zm11 0zm2 0zm78 0zm2 0zm11 0zm-122 1zm13 0zm15 0zm0 0zm84 0zm-118 1zm19 0zm2 0zm-8 1zm26 1zm-32 1zm3 0zm3 0zm28 0zm-36 1zm14 0zm4 0zm110 0zm0 0zm2 0zm-134 1zm8 1zm1 0zm32 0zm-34 1zm126 0zm-10 1zm-111 1zm30 0zm-12 1zm12 0zm87 0zm-92 1zm-40 1zm43 0zm-35 3zm109 0zm-73 1zm64 0zm3 0zm-97 1zm17 0zm0 0zm9 0zm5 0zm-32 1zm97 0zm-92 1zm11 0zm12 0zm6 0zm25 0zm5 0zm25 1zm1 0zm-90 1zm56 0zm2 0zm13 0zm20 0zm-64 1zm11 0zm6 0zm7 0zm11 0zm26 0zm1 0zm-94 1zm51 0zm40 0zm5 0zm-56 1zm38 0zm0 0zm22 0zm-46 1zm1 0zm39 0zm6 0zm-21 1zm10 0zm-56 1zm52 0zm3 0zm2 0zm4 0zm-61 1zm9 0zm-33 1zm21 0zm66 0zm-61 1zm61 1zm-35 1z" stroke="#F8766D"/><path d="M1774 118zm-4 3zm32 1zm-38 2zm44 0zm1 0zm-49 1zm3 0zm6 0zm12 0zm5 0zm18 0zm5 0zm-54 1zm18 0zm8 0zm8 0zm-32 1zm3 0zm21 0zm14 0zm0 0zm4 0zm10 0zm-46 1zm50 0zm-528 1zm481 0zm25 0zm-47 1zm34 0zm38 0zm0 0zm-544 1zm487 0zm12 0zm25 0zm15 0zm4 0zm1 0zm1 0zm-78 1zm12 0zm32 0zm12 0zm27 0zm2 0zm-84 1zm11 0zm12 0zm12 0zm19 0zm0 0zm8 0zm8 0zm-546 1zm12 0zm463 0zm34 0zm10 0zm20 0zm14 0zm-530 1zm450 0zm32 0zm5 0zm2 0zm16 0zm27 0zm2 0zm-551 1zm37 0zm455 0zm19 0zm7 0zm36 0zm-546 1zm457 0zm8 0zm67 0zm-525 1zm446 0zm56 0zm4 0zm5 0zm5 0zm28 0zm-571 1zm58 0zm413 0zm22 0zm8 0zm2 0zm28 0zm2 0zm-513 1zm10 0zm1 0zm451 0zm7 0zm19 0zm9 0zm3 0zm9 0zm23 0zm-544 1zm503 0zm15 0zm4 0zm31 0zm14 0zm-561 1zm5 0zm457 0zm43 0zm3 0zm14 0zm16 0zm33 0zm2 0zm-585 1zm10 0zm471 0zm7 0zm21 0zm35 0zm-552 1zm32 0zm18 0zm21 0zm405 0zm39 0zm10 0zm53 0zm-585 1zm63 0zm2 0zm473 0zm6 0zm49 0zm-591 1zm4 0zm38 0zm1 0zm17 0zm472 0zm23 0zm21 0zm14 0zm2 0zm12 0zm-556 1zm436 0zm41 0zm10 0zm11 0zm36 0zm25 0zm-126 1zm39 0zm1 0zm17 0zm7 0zm9 0zm15 0zm27 0zm-586 1zm22 0zm22 0zm10 0zm434 0zm33 0zm3 0zm4 0zm1 0zm10 0zm26 0zm-564 1zm23 0zm3 0zm4 0zm9 0zm453 0zm38 0zm16 0zm1 0zm33 0zm-573 1zm40 0zm20 0zm7 0zm397 0zm26 0zm107 0zm-596 1zm497 0zm28 0zm8 0zm13 0zm28 0zm-597 1zm69 0zm20 0zm431 0zm1 0zm6 0zm34 0zm6 0zm17 0zm11 0zm-600 1zm31 0zm12 0zm500 0zm15 0zm13 0zm13 0zm22 0zm2 0zm6 0zm-562 1zm6 0zm36 0zm416 0zm9 0zm36 0zm9 0zm24 0zm23 0zm-533 1zm14 0zm418 0zm21 0zm8 0zm7 0zm11 0zm7 0zm11 0zm0 0zm57 0zm-626 1zm5 0zm66 0zm14 0zm7 0zm392 0zm46 0zm18 0zm1 0zm2 0zm45 0zm27 0zm-585 1zm51 0zm411 0zm2 0zm7 0zm29 0zm26 0zm41 0zm36 0zm2 0zm-631 1zm23 0zm0 0zm7 0zm2 0zm11 0zm5 0zm33 0zm440 0zm10 0zm61 0zm15 0zm11 0zm-630 1zm17 0zm44 0zm5 0zm2 0zm439 0zm6 0zm84 0zm6 0zm17 0zm6 0zm8 0zm-615 1zm13 0zm71 0zm443 0zm4 0zm54 0zm13 0zm7 0zm7 0zm4 0zm8 0zm-582 1zm423 0zm16 0zm66 0zm21 0zm6 0zm38 0zm-150 1zm0 0zm3 0zm21 0zm18 0zm2 0zm7 0zm21 0zm19 0zm19 0zm30 0zm13 0zm6 0zm0 0zm-646 1zm9 0zm82 0zm415 0zm32 0zm26 0zm2 0zm11 0zm43 0zm19 0zm-638 1zm76 0zm35 0zm380 0zm38 0zm50 0zm29 0zm7 0zm33 0zm-635 1zm13 0zm24 0zm41 0zm16 0zm384 0zm9 0zm25 0zm24 0zm66 0zm-597 1zm40 0zm38 0zm407 0zm37 0zm10 0zm29 0zm25 0zm27 0zm4 0zm-645 1zm12 0zm35 0zm477 0zm8 0zm11 0zm14 0zm10 0zm20 0zm5 0zm16 0zm38 0zm15 0zm-633 1zm15 0zm17 0zm40 0zm411 0zm88 0zm-602 1zm57 0zm32 0zm141 0zm277 0zm69 0zm18 0zm34 0zm7 0zm19 0zm-637 1zm502 0zm1 0zm33 0zm14 0zm7 0zm36 0zm3 0zm10 0zm1 0zm-610 1zm3 0zm58 0zm25 0zm27 0zm88 0zm331 0zm25 0zm19 0zm-586 1zm6 0zm62 0zm45 0zm2 0zm1 0zm2 0zm83 0zm11 0zm17 0zm274 0zm34 0zm89 0zm7 0zm-592 1zm70 0zm388 0zm15 0zm62 0zm11 0zm15 0zm-587 1zm60 0zm19 0zm138 0zm282 0zm139 0zm-635 1zm21 0zm19 0zm40 0zm18 0zm470 0zm29 0zm-621 1zm6 0zm44 0zm52 0zm5 0zm1 0zm468 0zm27 0zm12 0zm10 0zm-616 1zm22 0zm4 0zm63 0zm528 0zm-626 1zm15 0zm11 0zm77 0zm1 0zm0 0zm30 0zm357 0zm23 0zm16 0zm25 0zm-555 1zm12 0zm2 0zm76 0zm27 0zm408 0zm12 0zm45 0zm-579 1zm127 0zm415 0zm20 0zm52 0zm1 0zm2 0zm-594 1zm21 0zm26 0zm44 0zm455 0zm48 0zm-578 1zm1 0zm90 0zm353 0zm131 0zm-615 1zm6 0zm33 0zm3 0zm52 0zm9 0zm4 0zm36 0zm366 0zm14 0zm38 0zm-553 1zm106 0zm2 0zm16 0zm384 0zm1 0zm28 0zm18 0zm-557 1zm15 0zm50 0zm44 0zm11 0zm374 0zm10 0zm19 0zm40 0zm4 0zm13 0zm15 0zm-601 1zm7 0zm2 0zm40 0zm24 0zm16 0zm39 0zm-110 1zm18 0zm5 0zm52 0zm425 0zm151 0zm-664 1zm33 0zm10 0zm24 0zm34 0zm16 0zm363 0zm21 0zm5 0zm8 0zm6 0zm50 0zm7 0zm-555 1zm40 0zm8 0zm19 0zm1 0zm16 0zm6 0zm5 0zm23 0zm397 0zm40 0zm90 0zm-669 1zm43 0zm13 0zm77 0zm13 0zm422 0zm26 0zm76 0zm-663 1zm4 0zm29 0zm15 0zm4 0zm45 0zm2 0zm449 0zm32 0zm11 0zm1 0zm14 0zm-614 1zm55 0zm6 0zm30 0zm51 0zm371 0zm3 0zm-510 1zm19 0zm26 0zm3 0zm57 0zm399 0zm22 0zm19 0zm7 0zm113 0zm-671 1zm37 0zm6 0zm17 0zm1 0zm1 0zm35 0zm3 0zm16 0zm2 0zm387 0zm8 0zm15 0zm50 0zm0 0zm37 0zm-610 1zm5 0zm2 0zm16 0zm64 0zm11 0zm15 0zm2 0zm7 0zm23 0zm365 0zm39 0zm120 0zm-672 1zm53 0zm4 0zm1 0zm9 0zm509 0zm4 0zm-589 1zm8 0zm11 0zm3 0zm98 0zm14 0zm24 0zm389 0zm-532 1zm6 0zm43 0zm20 0zm6 0zm5 0zm12 0zm6 0zm26 0zm370 0zm11 0zm71 0zm-566 1zm76 0zm50 0zm8 0zm344 0zm96 0zm84 0zm3 0zm-664 1zm49 0zm24 0zm32 0zm386 0zm7 0zm79 0zm-573 1zm50 0zm70 0zm364 0zm53 0zm22 0zm20 0zm15 0zm-603 1zm21 0zm13 0zm91 0zm11 0zm377 0zm29 0zm53 0zm-580 1zm4 0zm15 0zm27 0zm10 0zm11 0zm3 0zm13 0zm446 0zm126 0zm-654 1zm6 0zm8 0zm4 0zm61 0zm44 0zm-122 1zm7 0zm109 0zm14 0zm525 0zm-673 1zm11 0zm23 0zm7 0zm73 0zm399 0zm51 0zm35 0zm-597 1zm7 0zm2 0zm51 0zm24 0zm4 0zm5 0zm16 0zm38 0zm365 0zm6 0zm22 0zm-444 1zm19 0zm29 0zm356 0zm88 0zm9 0zm2 0zm15 0zm60 0zm-658 1zm38 0zm37 0zm14 0zm17 0zm32 0zm431 0zm-578 1zm40 0zm24 0zm8 0zm3 0zm23 0zm3 0zm11 0zm2 0zm310 0zm146 0zm10 0zm11 0zm62 0zm8 0zm7 0zm-661 1zm51 0zm28 0zm15 0zm24 0zm18 0zm408 0zm35 0zm5 0zm74 0zm-662 1zm30 0zm457 0zm30 0zm62 0zm13 0zm-603 1zm121 0zm5 0zm529 0zm-587 1zm13 0zm426 0zm31 0zm6 0zm27 0zm13 0zm13 0zm81 0zm-664 1zm26 0zm5 0zm19 0zm27 0zm421 0zm37 0zm128 0zm-663 1zm82 0zm16 0zm12 0zm473 0zm65 0zm8 0zm-568 1zm20 0zm25 0zm12 0zm360 0zm63 0zm10 0zm90 0zm1 0zm-655 1zm20 0zm18 0zm22 0zm8 0zm482 0zm16 0zm3 0zm88 0zm-632 1zm9 0zm2 0zm51 0zm405 0zm9 0zm17 0zm47 0zm54 0zm35 0zm0 0zm2 0zm-654 1zm0 0zm1 0zm21 0zm7 0zm35 0zm469 0zm11 0zm6 0zm4 0zm-560 1zm13 0zm4 0zm4 0zm1 0zm14 0zm86 0zm10 0zm5 0zm390 0zm-445 1zm462 0zm116 0zm-554 1zm0 0zm417 0zm17 0zm10 0zm4 0zm109 0zm-666 1zm18 0zm66 0zm15 0zm414 0zm20 0zm10 0zm3 0zm0 0zm4 0zm105 0zm10 0zm-649 1zm73 0zm15 0zm2 0zm39 0zm392 0zm19 0zm18 0zm78 0zm19 0zm-640 1zm48 0zm20 0zm40 0zm4 0zm0 0zm395 0zm4 0zm25 0zm-462 1zm263 0zm164 0zm3 0zm0 0zm3 0zm12 0zm21 0zm6 0zm-544 1zm41 0zm13 0zm55 0zm210 0zm204 0zm9 0zm6 0zm5 0zm84 0zm5 0zm-606 1zm23 0zm19 0zm250 0zm13 0zm2 0zm2 0zm172 0zm3 0zm35 0zm-579 1zm7 0zm16 0zm32 0zm2 0zm13 0zm19 0zm12 0zm46 0zm136 0zm22 0zm8 0zm54 0zm61 0zm133 0zm97 0zm-572 1zm10 0zm200 0zm56 0zm0 0zm181 0zm6 0zm27 0zm2 0zm81 0zm-632 1zm77 0zm198 0zm3 0zm19 0zm41 0zm190 0zm6 0zm3 0zm91 0zm1 0zm1 0zm16 0zm7 0zm-631 1zm60 0zm2 0zm4 0zm154 0zm35 0zm15 0zm226 0zm6 0zm4 0zm11 0zm93 0zm4 0zm8 0zm-377 1zm1 0zm22 0zm19 0zm203 0zm29 0zm11 0zm9 0zm89 0zm-654 1zm7 0zm62 0zm7 0zm180 0zm2 0zm19 0zm37 0zm212 0zm22 0zm11 0zm6 0zm-572 1zm5 0zm8 0zm46 0zm11 0zm7 0zm189 0zm5 0zm3 0zm19 0zm4 0zm67 0zm161 0zm0 0zm15 0zm28 0zm0 0zm-517 1zm210 0zm8 0zm11 0zm12 0zm9 0zm12 0zm4 0zm110 0zm104 0zm35 0zm-562 1zm15 0zm1 0zm276 0zm36 0zm12 0zm5 0zm6 0zm1 0zm8 0zm7 0zm160 0zm5 0zm10 0zm7 0zm-544 1zm271 0zm8 0zm1 0zm20 0zm17 0zm3 0zm20 0zm1 0zm176 0zm1 0zm9 0zm1 0zm2 0zm5 0zm14 0zm3 0zm5 0zm92 0zm-580 1zm195 0zm6 0zm4 0zm4 0zm4 0zm1 0zm18 0zm3 0zm8 0zm230 0zm1 0zm12 0zm86 0zm-592 1zm209 0zm2 0zm0 0zm3 0zm0 0zm0 0zm13 0zm24 0zm2 0zm43 0zm177 0zm7 0zm28 0zm82 0zm-586 1zm6 0zm3 0zm199 0zm4 0zm4 0zm11 0zm11 0zm3 0zm2 0zm69 0zm187 0zm-469 1zm172 0zm11 0zm6 0zm12 0zm8 0zm26 0zm22 0zm1 0zm167 0zm38 0zm-482 1zm190 0zm0 0zm16 0zm18 0zm5 0zm1 0zm0 0zm18 0zm3 0zm3 0zm4 0zm19 0zm7 0zm19 0zm57 0zm92 0zm3 0zm0 0zm1 0zm8 0zm8 0zm13 0zm-534 1zm234 0zm1 0zm1 0zm3 0zm8 0zm0 0zm4 0zm6 0zm4 0zm16 0zm8 0zm54 0zm161 0zm12 0zm0 0zm17 0zm-281 1zm2 0zm1 0zm18 0zm4 0zm7 0zm44 0zm6 0zm2 0zm17 0zm3 0zm147 0zm3 0zm6 0zm21 0zm7 0zm4 0zm-532 1zm6 0zm24 0zm21 0zm182 0zm15 0zm4 0zm5 0zm3 0zm18 0zm8 0zm42 0zm6 0zm8 0zm3 0zm133 0zm17 0zm6 0zm30 0zm0 0zm76 0zm-590 1zm31 0zm5 0zm163 0zm24 0zm7 0zm0 0zm5 0zm9 0zm6 0zm40 0zm193 0zm0 0zm14 0zm89 0zm7 0zm-613 1zm6 0zm245 0zm2 0zm3 0zm4 0zm44 0zm25 0zm21 0zm157 0zm0 0zm17 0zm-477 1zm9 0zm174 0zm13 0zm4 0zm21 0zm28 0zm14 0zm13 0zm156 0zm19 0zm6 0zm9 0zm3 0zm7 0zm0 0zm5 0zm-469 1zm169 0zm2 0zm15 0zm10 0zm15 0zm9 0zm20 0zm35 0zm143 0zm5 0zm24 0zm4 0zm13 0zm2 0zm87 0zm-557 1zm2 0zm1 0zm174 0zm20 0zm75 0zm4 0zm15 0zm134 0zm3 0zm0 0zm12 0zm6 0zm0 0zm-269 1zm16 0zm6 0zm5 0zm46 0zm3 0zm4 0zm29 0zm155 0zm4 0zm4 0zm5 0zm2 0zm-512 1zm27 0zm25 0zm6 0zm184 0zm57 0zm22 0zm164 0zm36 0zm2 0zm6 0zm-476 1zm201 0zm2 0zm1 0zm1 0zm5 0zm5 0zm11 0zm55 0zm1 0zm18 0zm5 0zm120 0zm30 0zm12 0zm7 0zm-498 1zm23 0zm10 0zm2 0zm168 0zm22 0zm84 0zm133 0zm17 0zm24 0zm9 0zm3 0zm-486 1zm210 0zm101 0zm1 0zm10 0zm118 0zm29 0zm-463 1zm1 0zm228 0zm12 0zm39 0zm19 0zm7 0zm4 0zm135 0zm7 0zm29 0zm-456 1zm194 0zm35 0zm12 0zm12 0zm14 0zm16 0zm17 0zm122 0zm26 0zm7 0zm-457 1zm205 0zm129 0zm108 0zm12 0zm-501 1zm51 0zm203 0zm13 0zm6 0zm154 0zm24 0zm5 0zm29 0zm-442 1zm12 0zm200 0zm29 0zm51 0zm4 0zm8 0zm108 0zm11 0zm9 0zm-464 1zm14 0zm23 0zm243 0zm16 0zm5 0zm17 0zm3 0zm120 0zm28 0zm7 0zm-448 1zm1 0zm222 0zm62 0zm18 0zm10 0zm2 0zm95 0zm4 0zm1 0zm9 0zm4 0zm-433 1zm299 0zm5 0zm1 0zm5 0zm53 0zm49 0zm17 0zm25 0zm4 0zm-489 1zm301 0zm26 0zm0 0zm4 0zm2 0zm3 0zm1 0zm2 0zm117 0zm11 0zm6 0zm4 0zm11 0zm-200 1zm25 0zm20 0zm5 0zm2 0zm2 0zm54 0zm59 0zm12 0zm11 0zm4 0zm1 0zm-429 1zm262 0zm9 0zm4 0zm1 0zm11 0zm5 0zm7 0zm48 0zm9 0zm9 0zm22 0zm28 0zm-483 1zm25 0zm41 0zm2 0zm253 0zm14 0zm6 0zm1 0zm4 0zm2 0zm2 0zm0 0zm5 0zm2 0zm61 0zm49 0zm-477 1zm52 0zm7 0zm19 0zm168 0zm17 0zm79 0zm13 0zm3 0zm0 0zm6 0zm6 0zm2 0zm36 0zm1 0zm1 0zm5 0zm9 0zm1 0zm7 0zm3 0zm16 0zm39 0zm-144 1zm22 0zm65 0zm8 0zm38 0zm3 0zm2 0zm13 0zm5 0zm-431 1zm282 0zm15 0zm52 0zm47 0zm3 0zm7 0zm0 0zm3 0zm5 0zm-18 1zm9 0zm3 0zm0 0zm1 0zm6 0zm-436 1zm13 0zm11 0zm296 0zm100 0zm7 0zm18 0zm-20 1zm-431 1zm7 0zm422 0zm6 0zm14 0zm2 0zm-23 1zm4 0zm3 0zm11 0zm-437 2zm2 0zm7 0zm414 0zm1 0zm-426 1zm41 0zm393 0zm-422 1zm186 0zm232 0zm-416 1zm-3 1zm55 0zm150 0zm-203 1zm7 0zm32 0zm72 0zm-116 1zm418 0zm-407 1zm16 0zm23 0zm47 0zm-96 1zm12 0zm16 0zm1 0zm73 0zm-85 1zm161 0zm15 0zm-178 1zm454 0zm-454 1zm4 0zm1 0zm0 0zm48 0zm-32 1zm4 0zm6 0zm15 0zm5 0zm12 0zm118 0zm-184 1zm67 0zm393 0zm-405 1zm8 0zm-60 1zm8 0zm282 1zm-290 1zm460 0zm-440 1zm11 0zm21 0zm1 0zm418 0zm4 0zm-422 1zm413 0zm-467 1zm84 0zm390 0zm0 0zm5 0zm-428 1zm426 0zm8 0zm-456 1zm32 0zm167 0zm-221 1zm49 0zm-23 1zm-101 2zm105 0zm3 0zm5 0zm2 0zm193 0zm-230 1zm59 0zm-55 3zm40 0zm175 0zm-205 1zm-6 1zm4 1zm187 0zm-190 1zm202 0zm53 0zm-256 3zm36 0zm-30 1zm218 0zm21 0zm-6 1zm115 3zm9 0zm-53 2zm28 0zm8 0zm22 0zm-4 1zm-15 1zm-4 1zm21 0zm-5 1zm-18 1zm2 0zm4 2zm13 0zm-16 1zm19 0zm-117 1zm11 0zm102 0zm-232 1zm221 0zm-332 1zm86 0zm129 1zm15 1zm8 0zm-70 1zm47 0zm115 0zm2 1zm-212 1zm100 0zm-230 1zm5 0zm331 0zm-118 1zm1 0zm0 0zm2 1zm111 0zm-164 1zm182 0zm-267 1zm2 0zm67 0zm45 0zm22 0zm122 0zm-201 1zm8 0zm47 0zm25 0zm6 0zm115 0zm10 0zm6 0zm-149 1zm3 0zm8 0zm127 0zm16 0zm-220 1zm200 0zm4 0zm11 0zm1 0zm-205 1zm71 0zm-31 1zm21 0zm1 0zm13 0zm-43 1zm17 0zm8 0zm138 0zm12 0zm-165 1zm1 0zm153 0zm9 0zm6 0zm-181 1zm12 0zm149 0zm3 0zm-173 1zm166 0zm3 0zm5 0zm3 0zm3 0zm11 0zm1 0zm-292 1zm275 0zm14 0zm-298 1zm119 0zm6 0zm12 0zm29 0zm110 0zm30 0zm-264 1zm43 0zm52 0zm37 0zm-87 1zm191 0zm12 0zm-205 1zm9 0zm15 0zm11 0zm7 0zm165 0zm-207 1zm25 0zm135 0zm58 0zm-292 1zm8 0zm66 0zm82 0zm-129 1zm80 0zm7 0zm29 0zm112 0zm12 0zm4 0zm-266 1zm56 0zm31 0zm8 0zm32 0zm71 0zm64 0zm8 0zm-306 1zm47 0zm59 0zm47 0zm17 0zm37 0zm43 0zm8 0zm12 0zm39 0zm-270 1zm12 0zm4 0zm22 0zm48 0zm34 0zm67 0zm69 0zm2 0zm13 0zm7 0zm3 0zm-253 1zm40 0zm62 0zm12 0zm128 0zm-199 1zm8 0zm16 0zm70 0zm52 0zm34 0zm8 0zm-266 1zm30 0zm3 0zm11 0zm33 0zm45 0zm23 0zm3 0zm124 0zm-284 1zm6 0zm7 0zm42 0zm85 0zm16 0zm108 0zm3 0zm9 0zm-260 1zm1 0zm3 0zm10 0zm47 0zm223 0zm-296 1zm29 0zm1 0zm228 0zm3 0zm4 0zm20 0zm4 0zm-275 1zm68 0zm98 0zm27 0zm53 0zm37 0zm-394 1zm105 0zm11 0zm12 0zm96 0zm132 0zm34 0zm-286 1zm112 0zm2 0zm94 0zm27 0zm11 0zm30 0zm0 0zm4 0zm4 0zm-300 1zm2 0zm25 0zm108 0zm58 0zm45 0zm63 0zm6 0zm-519 1zm15 0zm100 0zm117 0zm60 0zm15 0zm201 0zm2 0zm10 0zm-513 1zm5 0zm4 0zm16 0zm205 0zm45 0zm101 0zm31 0zm72 0zm-493 1zm42 0zm195 0zm4 0zm6 0zm18 0zm6 0zm91 0zm30 0zm3 0zm107 0zm12 0zm-514 1zm1 0zm8 0zm22 0zm5 0zm42 0zm147 0zm5 0zm19 0zm212 0zm60 0zm-531 1zm6 0zm32 0zm2 0zm184 0zm33 0zm149 0zm63 0zm3 0zm44 0zm0 0zm-522 1zm10 0zm14 0zm1 0zm3 0zm56 0zm131 0zm17 0zm18 0zm18 0zm1 0zm115 0zm36 0zm19 0zm91 0zm3 0zm2 0zm7 0zm-541 1zm26 0zm23 0zm20 0zm142 0zm9 0zm50 0zm1 0zm7 0zm102 0zm70 0zm31 0zm-452 1zm35 0zm5 0zm2 0zm14 0zm5 0zm122 0zm7 0zm7 0zm119 0zm153 0zm30 0zm1 0zm3 0zm7 0zm-537 1zm67 0zm13 0zm48 0zm69 0zm29 0zm161 0zm3 0zm43 0zm3 0zm21 0zm68 0zm2 0zm-477 1zm44 0zm23 0zm1 0zm73 0zm4 0zm3 0zm2 0zm52 0zm32 0zm55 0zm9 0zm28 0zm37 0zm51 0zm5 0zm51 0zm13 0zm5 0zm-530 1zm9 0zm7 0zm15 0zm17 0zm17 0zm42 0zm79 0zm207 0zm45 0zm11 0zm81 0zm-537 1zm20 0zm55 0zm217 0zm16 0zm43 0zm7 0zm89 0zm3 0zm1 0zm-458 1zm21 0zm58 0zm50 0zm18 0zm32 0zm130 0zm94 0zm37 0zm8 0zm101 0zm-530 1zm0 0zm3 0zm71 0zm8 0zm37 0zm8 0zm21 0zm22 0zm172 0zm83 0zm5 0zm3 0zm-422 1zm21 0zm34 0zm63 0zm10 0zm3 0zm25 0zm87 0zm32 0zm3 0zm8 0zm128 0zm105 0zm5 0zm-552 1zm14 0zm3 0zm28 0zm6 0zm27 0zm57 0zm8 0zm21 0zm154 0zm-327 1zm4 0zm8 0zm2 0zm23 0zm54 0zm1 0zm13 0zm220 0zm1 0zm17 0zm16 0zm11 0zm189 0zm-545 1zm17 0zm35 0zm9 0zm20 0zm24 0zm53 0zm168 0zm11 0zm-325 1zm13 0zm1 0zm23 0zm45 0zm34 0zm4 0zm3 0zm143 0zm69 0zm3 0zm62 0zm3 0zm4 0zm139 0zm-558 1zm4 0zm34 0zm29 0zm60 0zm204 0zm3 0zm79 0zm136 0zm6 0zm-557 1zm2 0zm32 0zm7 0zm11 0zm8 0zm288 0zm4 0zm0 0zm5 0zm3 0zm1 0zm7 0zm9 0zm3 0zm0 0zm2 0zm1 0zm9 0zm18 0zm1 0zm138 0zm-554 1zm10 0zm23 0zm1 0zm6 0zm23 0zm38 0zm266 0zm16 0zm3 0zm8 0zm163 0zm6 0zm7 0zm-531 1zm1 0zm26 0zm8 0zm300 0zm11 0zm176 0zm5 0zm-574 1zm10 0zm61 0zm52 0zm260 0zm187 0zm2 0zm2 0zm-562 1zm12 0zm43 0zm2 0zm34 0zm26 0zm236 0zm209 0zm5 0zm1 0zm0 0zm-585 1zm16 0zm18 0zm8 0zm3 0zm12 0zm4 0zm329 0zm185 0zm3 0zm8 0zm-538 1zm5 0zm20 0zm58 0zm443 0zm-567 1zm13 0zm34 0zm1 0zm50 0zm6 0zm6 0zm242 0zm215 0zm-565 1zm5 0zm14 0zm3 0zm19 0zm1 0zm1 0zm18 0zm32 0zm1 0zm20 0zm191 0zm6 0zm69 0zm183 0zm12 0zm-521 1zm36 0zm1 0zm11 0zm8 0zm193 0zm262 0zm-573 1zm4 0zm1 0zm28 0zm4 0zm25 0zm34 0zm12 0zm216 0zm64 0zm193 0zm-579 1zm19 0zm2 0zm3 0zm31 0zm518 0zm2 0zm9 0zm-579 1zm1 0zm45 0zm22 0zm234 0zm2 0zm48 0zm219 0zm-578 1zm5 0zm15 0zm32 0zm3 0zm63 0zm181 0zm11 0zm37 0zm0 0zm40 0zm201 0zm-586 1zm63 0zm5 0zm269 0zm-327 1zm31 0zm4 0zm12 0zm251 0zm20 0zm15 0zm77 0zm-423 1zm28 0zm7 0zm26 0zm34 0zm11 0zm8 0zm187 0zm12 0zm111 0zm-425 1zm31 0zm10 0zm5 0zm11 0zm38 0zm14 0zm213 0zm1 0zm53 0zm204 0zm-550 1zm17 0zm1 0zm29 0zm17 0zm19 0zm4 0zm3 0zm218 0zm-340 1zm0 0zm10 0zm8 0zm6 0zm5 0zm58 0zm254 0zm-335 1zm7 0zm9 0zm0 0zm16 0zm36 0zm5 0zm4 0zm32 0zm11 0zm214 0zm-335 1zm41 0zm4 0zm51 0zm8 0zm201 0zm5 0zm-269 1zm10 0zm1 0zm373 0zm0 0zm-421 1zm19 0zm1 0zm34 0zm24 0zm5 0zm18 0zm16 0zm220 0zm31 0zm-255 1zm245 0zm65 0zm-375 1zm51 0zm329 0zm-408 1zm24 0zm9 0zm31 0zm22 0zm4 0zm-70 1zm20 0zm5 0zm362 0zm1 0zm-426 1zm49 0zm6 0zm5 0zm11 0zm22 0zm108 0zm359 0zm-558 1zm17 0zm0 0zm70 0zm2 0zm337 0zm-390 1zm2 0zm0 0zm29 0zm1 0zm30 0zm1 0zm326 0zm2 0zm1 0zm-422 1zm12 0zm46 0zm14 0zm1 0zm-86 1zm20 0zm37 0zm2 0zm25 0zm118 0zm354 0zm-555 1zm28 0zm13 0zm1 0zm3 0zm38 0zm16 0zm12 0zm-91 1zm16 0zm22 0zm37 0zm13 0zm340 0zm-430 1zm28 0zm20 0zm25 0zm3 0zm358 0zm-455 1zm6 0zm5 0zm11 0zm3 0zm30 0zm42 0zm318 0zm-400 1zm5 0zm5 0zm6 0zm4 0zm41 0zm150 0zm-146 1zm135 0zm336 0zm-550 1zm7 0zm24 0zm2 0zm19 0zm4 0zm162 0zm202 0zm4 0zm26 0zm22 0zm1 0zm-449 1zm8 0zm9 0zm22 0zm19 0zm16 0zm348 0zm6 0zm-241 1zm7 0zm197 0zm33 0zm0 0zm1 0zm-445 1zm3 0zm13 0zm16 0zm12 0zm1 0zm18 0zm1 0zm18 0zm345 0zm16 0zm7 0zm5 0zm24 0zm-449 1zm35 0zm-61 1zm14 0zm11 0zm17 0zm400 0zm34 0zm-474 1zm38 0zm-29 1zm4 0zm12 0zm2 0zm6 0zm5 0zm19 0zm157 0zm218 0zm-399 1zm193 0zm260 0zm-454 1zm6 0zm1 0zm392 0zm4 0zm54 0zm1 0zm-474 1zm28 0zm450 0zm32 0zm-512 1zm474 0zm10 0zm22 0zm5 0zm-515 1zm5 0zm7 0zm418 0zm-435 1zm10 0zm5 0zm416 0zm-416 1zm19 0zm474 0zm6 0zm1 0zm4 0zm-503 1zm15 0zm402 0zm60 0zm-481 1zm1 0zm345 0zm150 0zm6 0zm-18 1zm-62 1zm71 0zm2 0zm1 0zm1 0zm-279 1zm279 0zm-3 1zm-269 1zm7 0zm260 0zm-264 1zm195 0zm66 0zm1 0zm-252 1zm199 0zm51 0zm5 0zm-260 1zm262 0zm-13 1zm0 0zm1 0zm2 0zm-69 2zm9 0zm53 0zm6 0zm2 0zm0 1zm-61 1zm-188 1zm201 1zm43 0zm0 0zm-130 1zm131 0zm-47 1zm-4 1zm37 1zm-137 1zm82 0zm66 0zm-115 1zm63 0zm51 0zm-110 1zm8 0zm-11 1zm108 0zm-201 1zm195 0zm2 0zm-193 1zm103 0zm8 0zm13 0zm-9 1zm31 0zm-149 1zm9 0zm121 0zm62 0zm-184 1zm0 0zm136 0zm49 0zm-60 1zm19 0zm36 0zm-57 1zm7 0zm50 0zm-31 1zm31 0zm-47 1zm10 0zm36 0zm-210 1zm173 1zm13 0zm19 0zm1 0zm-34 1zm7 0zm-154 1zm159 0zm-157 1zm176 0zm-170 1zm167 0zm-173 1zm13 1zm-18 1zm174 0zm-149 3zm-32 2zm0 0zm-20 1zm12 0zm-3 3zm20 0zm2 2zm9 1zm2 0zm-20 1zm30 0zm5 0zm-39 2zm75 0zm-37 1zm-20 2zm21 0zm1 0zm38 0zm-48 1zm7 0zm2 0zm0 0zm38 0zm-97 1zm28 0zm56 0zm-80 1zm71 0zm20 0zm-84 1zm28 0zm50 0zm-69 1zm46 0zm29 0zm2 0zm-96 1zm7 1zm34 0zm5 0zm29 1zm-30 1zm11 0zm9 0zm1 0zm3 0zm-30 1zm13 0zm36 0zm3 0zm8 0zm1 0zm11 0zm-63 1zm-31 1zm91 0zm12 0zm-7 1zm-91 1zm4 0zm57 0zm-105 1zm1 0zm19 0zm13 0zm1 0zm43 0zm-66 1zm84 0zm12 0zm17 0zm21 0zm-132 1zm7 0zm17 0zm66 1zm-91 1zm26 0zm69 0zm-56 1zm8 0zm6 0zm2 0zm-60 1zm94 0zm2 0zm-97 1zm35 0zm62 0zm-102 1zm113 0zm5 0zm-125 2zm28 0zm5 0zm27 0zm49 0zm-99 1zm10 0zm121 0zm-29 1zm9 0zm23 0zm-32 1zm2 0zm-8 1zm-100 1zm21 0zm0 0zm15 0zm68 0zm31 0zm-130 1zm1 0zm18 0zm4 0zm5 0zm73 0zm6 0zm5 0zm3 0zm0 0zm6 0zm7 0zm-132 1zm5 0zm120 0zm14 0zm-144 1zm7 0zm17 0zm12 0zm10 0zm-12 1zm5 0zm-42 1zm0 1zm1 0zm26 0zm92 0zm23 0zm-101 1zm81 0zm20 0zm-123 1zm0 0zm17 0zm9 0zm-12 1zm12 1zm85 0zm-98 1zm3 0zm101 0zm-128 1zm28 0zm13 0zm-29 1zm104 0zm8 0zm-117 1zm1 0zm96 2zm-81 1zm13 0zm3 0zm-38 1zm15 0zm89 0zm-105 1zm71 0zm-76 1zm80 0zm-72 1zm6 0zm97 0zm-45 1zm8 0zm18 0zm10 0zm-89 1zm56 0zm-15 1zm25 0zm29 0zm-92 1zm52 0zm8 0zm22 0zm2 0zm0 0zm-69 1zm12 0zm0 0zm3 0zm4 0zm10 0zm1 0zm34 0zm0 0zm13 0zm-57 1zm1 0zm6 0zm2 0zm36 0zm4 0zm-94 1zm4 0zm13 0zm10 0zm2 0zm32 0zm21 0zm2 0zm11 0zm-88 1zm13 0zm9 0zm0 0zm63 0zm-65 1zm56 0zm9 0zm-87 1zm71 0zm7 0zm2 0zm-60 1zm23 0zm5 0zm-38 1zm1 3z" stroke="#F8766D"/><path d="M1790 119zm3 0zm5 1zm-18 1zm-10 1zm16 0zm20 1zm-58 1zm16 0zm4 1zm24 0zm4 1zm15 0zm-1 2zm-45 1zm6 0zm11 0zm-14 1zm6 0zm5 0zm13 0zm-526 1zm8 0zm9 0zm475 0zm19 0zm-515 1zm9 0zm474 0zm-478 1zm3 0zm495 0zm31 0zm28 0zm-563 1zm495 0zm1 0zm5 0zm-495 1zm9 0zm32 0zm455 0zm12 0zm45 0zm-545 1zm464 0zm24 0zm18 0zm21 0zm-525 1zm28 0zm435 0zm30 0zm5 0zm32 0zm-551 1zm14 0zm9 0zm542 0zm-90 1zm0 0zm2 0zm16 0zm2 0zm4 0zm6 0zm34 0zm23 0zm-566 1zm3 0zm3 0zm49 0zm422 0zm16 0zm11 0zm-504 1zm29 0zm8 0zm20 0zm427 0zm6 0zm6 0zm6 0zm17 0zm7 0zm24 0zm9 0zm-551 1zm7 0zm47 0zm421 0zm9 0zm6 0zm8 0zm34 0zm-521 1zm3 0zm6 0zm22 0zm494 0zm29 0zm-90 1zm7 0zm15 0zm31 0zm23 0zm40 0zm-596 1zm6 0zm465 0zm13 0zm13 0zm38 0zm6 0zm1 0zm55 0zm-582 1zm12 0zm10 0zm6 0zm21 0zm429 0zm7 0zm74 0zm-582 1zm7 0zm16 0zm42 0zm18 0zm398 0zm11 0zm18 0zm1 0zm24 0zm3 0zm0 0zm-523 1zm4 0zm42 0zm13 0zm9 0zm402 0zm18 0zm24 0zm14 0zm1 0zm13 0zm7 0zm13 0zm-575 1zm11 0zm0 0zm27 0zm11 0zm435 0zm9 0zm49 0zm25 0zm4 0zm18 0zm29 0zm-624 1zm2 0zm0 0zm2 0zm24 0zm0 0zm34 0zm5 0zm14 0zm426 0zm21 0zm58 0zm-555 1zm1 0zm12 0zm2 0zm13 0zm8 0zm6 0zm20 0zm390 0zm3 0zm23 0zm49 0zm59 0zm-560 1zm16 0zm2 0zm12 0zm420 0zm7 0zm16 0zm84 0zm0 0zm15 0zm-591 1zm3 0zm5 0zm446 0zm8 0zm15 0zm16 0zm38 0zm5 0zm56 0zm-627 1zm33 0zm1 0zm480 0zm18 0zm29 0zm8 0zm2 0zm2 0zm13 0zm-582 1zm23 0zm18 0zm1 0zm8 0zm14 0zm3 0zm407 0zm20 0zm13 0zm3 0zm-480 1zm37 0zm16 0zm0 0zm405 0zm36 0zm23 0zm3 0zm15 0zm34 0zm6 0zm9 0zm-614 1zm5 0zm0 0zm10 0zm10 0zm47 0zm420 0zm15 0zm11 0zm10 0zm18 0zm4 0zm0 0zm28 0zm-583 1zm4 0zm31 0zm6 0zm16 0zm28 0zm1 0zm397 0zm6 0zm27 0zm21 0zm7 0zm94 0zm-643 1zm35 0zm12 0zm7 0zm5 0zm3 0zm2 0zm10 0zm23 0zm1 0zm15 0zm404 0zm1 0zm11 0zm27 0zm15 0zm14 0zm22 0zm-601 1zm15 0zm15 0zm27 0zm12 0zm25 0zm407 0zm37 0zm56 0zm48 0zm1 0zm1 0zm-653 1zm62 0zm7 0zm4 0zm18 0zm15 0zm385 0zm5 0zm57 0zm32 0zm7 0zm27 0zm15 0zm-627 1zm5 0zm6 0zm57 0zm13 0zm12 0zm1 0zm8 0zm0 0zm453 0zm5 0zm4 0zm24 0zm1 0zm16 0zm-598 1zm19 0zm4 0zm4 0zm2 0zm2 0zm18 0zm27 0zm17 0zm11 0zm380 0zm16 0zm50 0zm39 0zm2 0zm49 0zm2 0zm-617 1zm18 0zm38 0zm20 0zm399 0zm6 0zm24 0zm80 0zm17 0zm-641 1zm4 0zm27 0zm1 0zm10 0zm72 0zm408 0zm0 0zm5 0zm12 0zm96 0zm14 0zm6 0zm3 0zm1 0zm-656 1zm23 0zm4 0zm3 0zm16 0zm23 0zm49 0zm383 0zm3 0zm6 0zm9 0zm24 0zm8 0zm18 0zm52 0zm-603 1zm7 0zm57 0zm33 0zm381 0zm44 0zm2 0zm8 0zm3 0zm37 0zm59 0zm2 0zm-656 1zm30 0zm33 0zm6 0zm3 0zm461 0zm6 0zm28 0zm2 0zm72 0zm-639 1zm54 0zm15 0zm14 0zm25 0zm8 0zm1 0zm378 0zm5 0zm76 0zm27 0zm58 0zm-667 1zm26 0zm30 0zm0 0zm7 0zm5 0zm29 0zm394 0zm112 0zm1 0zm-598 1zm34 0zm0 0zm26 0zm6 0zm5 0zm7 0zm19 0zm386 0zm80 0zm-512 1zm51 0zm0 0zm1 0zm441 0zm3 0zm50 0zm-598 1zm3 0zm42 0zm11 0zm4 0zm422 0zm5 0zm19 0zm6 0zm38 0zm31 0zm8 0zm9 0zm-606 1zm6 0zm22 0zm9 0zm15 0zm33 0zm25 0zm3 0zm398 0zm33 0zm7 0zm19 0zm-543 1zm2 0zm13 0zm2 0zm72 0zm360 0zm24 0zm11 0zm24 0zm-42 1zm18 0zm70 0zm-585 1zm54 0zm19 0zm4 0zm3 0zm3 0zm37 0zm400 0zm72 0zm-534 1zm0 0zm9 0zm69 0zm371 0zm5 0zm84 0zm20 0zm0 0zm-597 1zm38 0zm3 0zm3 0zm1 0zm38 0zm3 0zm2 0zm30 0zm357 0zm92 0zm14 0zm6 0zm-597 1zm46 0zm20 0zm9 0zm43 0zm13 0zm352 0zm4 0zm87 0zm42 0zm-602 1zm5 0zm464 0zm2 0zm20 0zm18 0zm37 0zm3 0zm1 0zm-510 1zm43 0zm3 0zm22 0zm347 0zm15 0zm27 0zm43 0zm6 0zm14 0zm17 0zm-587 1zm28 0zm14 0zm39 0zm18 0zm377 0zm3 0zm1 0zm13 0zm56 0zm23 0zm-549 1zm23 0zm21 0zm19 0zm47 0zm350 0zm8 0zm14 0zm8 0zm-516 1zm3 0zm105 0zm2 0zm374 0zm58 0zm-544 1zm10 0zm2 0zm13 0zm5 0zm15 0zm35 0zm55 0zm348 0zm11 0zm13 0zm1 0zm1 0zm10 0zm23 0zm-537 1zm10 0zm27 0zm5 0zm42 0zm17 0zm6 0zm8 0zm405 0zm142 0zm-644 1zm5 0zm66 0zm21 0zm23 0zm369 0zm-505 1zm49 0zm13 0zm44 0zm404 0zm31 0zm52 0zm6 0zm-570 1zm1 0zm1 0zm17 0zm2 0zm22 0zm1 0zm17 0zm6 0zm23 0zm10 0zm347 0zm54 0zm48 0zm16 0zm-588 1zm23 0zm21 0zm13 0zm23 0zm23 0zm418 0zm21 0zm-544 1zm49 0zm455 0zm70 0zm15 0zm74 0zm-614 1zm48 0zm370 0zm0 0zm31 0zm69 0zm-572 1zm3 0zm4 0zm14 0zm71 0zm15 0zm5 0zm15 0zm343 0zm64 0zm13 0zm31 0zm9 0zm85 0zm-667 1zm12 0zm39 0zm13 0zm47 0zm12 0zm378 0zm65 0zm-425 1zm4 0zm-117 1zm57 0zm6 0zm22 0zm346 0zm31 0zm31 0zm69 0zm-578 1zm11 0zm17 0zm7 0zm43 0zm2 0zm3 0zm1 0zm31 0zm2 0zm326 0zm22 0zm66 0zm10 0zm115 0zm-672 1zm2 0zm29 0zm22 0zm13 0zm21 0zm35 0zm24 0zm378 0zm1 0zm-509 1zm18 0zm19 0zm34 0zm3 0zm1 0zm15 0zm360 0zm114 0zm-575 1zm8 0zm4 0zm9 0zm87 0zm12 0zm414 0zm17 0zm14 0zm24 0zm-591 1zm30 0zm27 0zm7 0zm9 0zm32 0zm19 0zm16 0zm316 0zm58 0zm7 0zm22 0zm58 0zm-562 1zm21 0zm11 0zm1 0zm30 0zm1 0zm8 0zm16 0zm17 0zm-93 1zm22 0zm7 0zm69 0zm353 0zm10 0zm-499 1zm9 0zm16 0zm2 0zm23 0zm1 0zm26 0zm24 0zm1 0zm36 0zm305 0zm50 0zm16 0zm17 0zm42 0zm-554 1zm77 0zm13 0zm5 0zm9 0zm3 0zm311 0zm55 0zm16 0zm42 0zm38 0zm-529 1zm5 0zm6 0zm11 0zm20 0zm13 0zm8 0zm1 0zm14 0zm3 0zm314 0zm-426 1zm17 0zm39 0zm3 0zm12 0zm3 0zm5 0zm2 0zm27 0zm306 0zm1 0zm82 0zm15 0zm27 0zm93 0zm2 0zm-659 1zm3 0zm2 0zm1 0zm42 0zm18 0zm6 0zm4 0zm18 0zm339 0zm1 0zm13 0zm60 0zm25 0zm-504 1zm21 0zm57 0zm5 0zm12 0zm317 0zm76 0zm5 0zm134 0zm11 0zm-653 1zm26 0zm41 0zm18 0zm0 0zm33 0zm2 0zm6 0zm299 0zm55 0zm13 0zm43 0zm23 0zm90 0zm-656 1zm32 0zm395 0zm7 0zm81 0zm3 0zm-525 1zm8 0zm31 0zm69 0zm36 0zm4 0zm4 0zm381 0zm-532 1zm32 0zm4 0zm11 0zm72 0zm318 0zm229 0zm0 0zm-651 1zm21 0zm50 0zm8 0zm7 0zm8 0zm6 0zm13 0zm310 0zm-424 1zm5 0zm3 0zm33 0zm39 0zm8 0zm22 0zm305 0zm106 0zm6 0zm9 0zm5 0zm108 0zm6 0zm3 0zm-638 1zm11 0zm8 0zm50 0zm8 0zm2 0zm11 0zm15 0zm1 0zm292 0zm216 0zm22 0zm-654 1zm38 0zm59 0zm2 0zm4 0zm28 0zm359 0zm21 0zm41 0zm-555 1zm2 0zm0 0zm0 0zm4 0zm75 0zm39 0zm398 0zm53 0zm-565 1zm12 0zm30 0zm50 0zm30 0zm15 0zm276 0zm67 0zm60 0zm13 0zm15 0zm-574 1zm4 0zm1 0zm2 0zm23 0zm5 0zm1 0zm13 0zm1 0zm77 0zm281 0zm124 0zm107 0zm-614 1zm32 0zm1 0zm353 0zm28 0zm69 0zm47 0zm27 0zm78 0zm3 0zm2 0zm-629 1zm6 0zm50 0zm12 0zm36 0zm280 0zm-417 1zm63 0zm20 0zm26 0zm404 0zm36 0zm-524 1zm7 0zm10 0zm35 0zm12 0zm18 0zm7 0zm287 0zm1 0zm23 0zm-423 1zm33 0zm42 0zm22 0zm40 0zm5 0zm264 0zm1 0zm125 0zm12 0zm5 0zm-548 1zm22 0zm2 0zm24 0zm54 0zm3 0zm1 0zm291 0zm176 0zm-547 1zm24 0zm5 0zm8 0zm12 0zm12 0zm2 0zm438 0zm15 0zm108 0zm-650 1zm31 0zm20 0zm12 0zm2 0zm73 0zm0 0zm152 0zm-286 1zm29 0zm10 0zm94 0zm264 0zm144 0zm-542 1zm41 0zm14 0zm245 0zm85 0zm7 0zm2 0zm-333 1zm1 0zm22 0zm324 0zm138 0zm92 0zm12 0zm-656 1zm22 0zm32 0zm21 0zm5 0zm7 0zm1 0zm8 0zm327 0zm107 0zm1 0zm112 0zm-570 1zm33 0zm188 0zm0 0zm109 0zm-405 1zm49 0zm25 0zm244 0zm128 0zm103 0zm-554 1zm26 0zm60 0zm10 0zm218 0zm19 0zm65 0zm154 0zm111 0zm3 0zm-655 1zm61 0zm16 0zm487 0zm-561 1zm25 0zm3 0zm30 0zm285 0zm-327 1zm7 0zm17 0zm7 0zm15 0zm243 0zm77 0zm5 0zm175 0zm-568 1zm70 0zm255 0zm52 0zm140 0zm45 0zm89 0zm5 0zm-600 1zm336 0zm137 0zm-519 1zm1 0zm50 0zm13 0zm12 0zm347 0zm133 0zm79 0zm-643 1zm7 0zm35 0zm29 0zm247 0zm66 0zm141 0zm125 0zm-636 1zm0 0zm16 0zm21 0zm1 0zm4 0zm8 0zm16 0zm10 0zm194 0zm77 0zm179 0zm22 0zm-551 1zm1 0zm371 0zm12 0zm131 0zm-525 1zm67 0zm6 0zm4 0zm183 0zm125 0zm6 0zm117 0zm40 0zm0 1zm15 0zm-558 1zm29 0zm51 0zm198 0zm6 0zm94 0zm3 0zm3 0zm118 0zm21 0zm15 0zm95 0zm-581 1zm254 0zm71 0zm173 0zm-550 1zm9 0zm17 0zm17 0zm33 0zm6 0zm3 0zm-18 1zm254 0zm57 0zm142 0zm-498 1zm10 0zm9 0zm9 0zm248 0zm82 0zm132 0zm-498 1zm6 0zm53 0zm3 0zm1 0zm233 0zm69 0zm-303 1zm13 0zm429 0zm26 0zm-472 1zm428 0zm6 0zm-483 1zm6 0zm40 0zm13 0zm278 0zm145 0zm-492 1zm46 0zm17 0zm444 0zm-488 1zm13 0zm-32 1zm3 0zm37 0zm35 0zm-20 1zm315 0zm129 0zm-491 1zm2 0zm63 0zm330 0zm76 0zm29 0zm-471 1zm11 0zm33 0zm409 0zm-481 1zm20 0zm37 0zm12 0zm-25 1zm30 0zm-50 1zm17 0zm16 0zm5 0zm-65 1zm68 0zm226 0zm181 0zm33 0zm-501 1zm67 0zm12 0zm149 0zm124 0zm-359 1zm1 0zm61 0zm12 0zm181 0zm-195 1zm6 0zm166 0zm106 0zm86 0zm42 0zm-464 1zm5 0zm56 0zm188 0zm218 0zm-467 1zm67 0zm180 0zm123 0zm123 0zm-276 1zm-166 1zm14 0zm297 0zm131 0zm4 0zm-446 1zm21 0zm109 0zm61 0zm1 0zm4 0zm5 0zm216 0zm-472 1zm2 0zm47 0zm181 0zm1 0zm18 0zm12 0zm-209 1zm11 0zm2 0zm15 0zm99 0zm57 0zm7 0zm0 0zm12 0zm0 0zm215 0zm-475 1zm200 0zm48 0zm1 0zm3 0zm19 0zm215 0zm-478 1zm207 0zm3 0zm24 0zm3 0zm5 0zm6 0zm3 0zm-68 1zm8 0zm34 0zm24 0zm20 0zm210 0zm-480 1zm51 0zm0 0zm105 0zm68 0zm18 0zm2 0zm14 0zm5 0zm-201 1zm11 0zm89 0zm8 0zm32 0zm1 0zm14 0zm21 0zm236 0zm9 0zm-485 1zm68 0zm21 0zm130 0zm23 0zm3 0zm3 0zm234 0zm-417 1zm11 0zm135 0zm22 0zm16 0zm9 0zm6 0zm-267 1zm3 0zm91 0zm2 0zm160 0zm17 0zm-273 1zm3 0zm64 0zm4 0zm1 0zm17 0zm5 0zm4 0zm102 0zm10 0zm22 0zm17 0zm5 0zm18 0zm-213 1zm33 0zm10 0zm53 0zm27 0zm21 0zm15 0zm3 0zm40 0zm10 0zm0 0zm7 0zm-196 1zm11 0zm24 0zm9 0zm3 0zm28 0zm4 0zm28 0zm52 0zm4 0zm30 0zm-204 1zm5 0zm8 0zm3 0zm2 0zm10 0zm8 0zm1 0zm93 0zm7 0zm18 0zm37 0zm16 0zm-273 1zm62 0zm3 0zm1 0zm0 0zm2 0zm0 0zm9 0zm13 0zm2 0zm0 0zm10 0zm24 0zm9 0zm69 0zm9 0zm9 0zm60 0zm2 0zm-230 1zm8 0zm11 0zm1 0zm4 0zm1 0zm0 0zm4 0zm3 0zm0 0zm8 0zm14 0zm10 0zm19 0zm61 0zm20 0zm9 0zm6 0zm25 0zm9 0zm8 0zm17 0zm0 0zm-216 1zm0 0zm3 0zm7 0zm8 0zm11 0zm3 0zm2 0zm10 0zm1 0zm7 0zm1 0zm1 0zm40 0zm7 0zm22 0zm27 0zm5 0zm44 0zm3 0zm1 0zm3 0zm7 0zm4 0zm-231 1zm14 0zm11 0zm3 0zm0 0zm4 0zm4 0zm7 0zm1 0zm5 0zm4 0zm7 0zm1 0zm2 0zm1 0zm8 0zm4 0zm18 0zm62 0zm70 0zm-216 1zm9 0zm9 0zm35 0zm2 0zm23 0zm22 0zm9 0zm21 0zm25 0zm12 0zm40 0zm8 0zm-211 1zm16 0zm6 0zm29 0zm51 0zm16 0zm60 0zm114 0zm-293 1zm15 0zm15 0zm9 0zm4 0zm17 0zm1 0zm17 0zm2 0zm51 0zm17 0zm35 0zm32 0zm3 0zm3 0zm77 0zm167 0zm-523 1zm71 0zm6 0zm2 0zm31 0zm75 0zm11 0zm-114 1zm42 0zm23 0zm5 0zm33 0zm38 0zm56 0zm70 0zm-265 1zm3 0zm2 0zm24 0zm37 0zm130 0zm8 0zm67 0zm170 0zm-437 1zm56 0zm49 0zm85 0zm6 0zm4 0zm-297 1zm120 0zm27 0zm16 0zm377 0zm4 0zm-340 1zm-130 1zm90 0zm8 0zm79 0zm114 0zm-275 1zm23 0zm9 0zm164 0zm3 0zm78 0zm182 0zm-560 1zm130 0zm20 0zm156 0zm6 0zm-311 1zm11 0zm3 0zm80 0zm16 0zm65 0zm86 0zm54 0zm-230 1zm34 0zm2 0zm21 0zm6 0zm8 0zm151 0zm2 0zm3 0zm-314 1zm18 0zm1 0zm154 0zm91 0zm-147 1zm2 0zm9 0zm177 0zm4 0zm17 0zm-63 1zm64 1zm-326 1zm126 0zm136 0zm3 0zm70 0zm20 0zm-249 1zm155 0zm1 0zm49 0zm5 0zm3 0zm6 0zm-232 1zm189 0zm19 0zm3 0zm3 0zm34 0zm-227 1zm53 0zm122 0zm3 0zm8 0zm3 0zm2 0zm3 0zm11 0zm8 0zm-32 1zm0 0zm14 0zm3 0zm5 0zm9 0zm3 0zm-62 1zm34 0zm1 0zm0 0zm8 0zm3 0zm0 0zm27 0zm9 0zm-87 1zm24 0zm19 0zm5 1zm4 0zm8 0zm1 0zm11 0zm3 0zm6 0zm61 0zm-122 1zm12 0zm3 0zm7 0zm2 0zm11 0zm5 0zm14 0zm4 0zm7 0zm11 0zm-96 1zm6 0zm37 0zm22 0zm-21 1zm2 0zm28 0zm1 0zm6 0zm-39 1zm148 0zm-147 1zm30 0zm-11 1zm7 0zm8 0zm57 0zm-87 1zm35 0zm-12 1zm71 0zm56 0zm-60 1zm53 1zm0 2zm2 0zm-13 1zm8 0zm-238 1zm-91 1zm212 0zm114 0zm8 0zm-333 1zm140 0zm51 1zm0 0zm10 0zm131 0zm6 0zm-342 1zm317 0zm6 0zm-328 1zm1 0zm-9 1zm16 0zm1 0zm237 0zm90 0zm6 0zm-316 1zm94 0zm13 0zm215 0zm-342 1zm202 0zm136 0zm-357 1zm0 0zm2 0zm18 0zm59 0zm132 0zm16 0zm4 0zm130 0zm-351 1zm118 0zm228 0zm-148 1zm12 0zm-222 1zm215 1zm13 0zm-230 1zm2 0zm5 0zm3 0zm195 0zm14 0zm-69 1zm55 0zm2 0zm-191 1zm206 0zm139 0zm-376 1zm7 0zm2 0zm212 0zm37 0zm119 0zm5 0zm-362 1zm1 0zm193 0zm3 0zm3 0zm18 0zm-226 1zm214 0zm11 0zm-234 1zm3 0zm1 0zm194 0zm21 0zm3 0zm-223 1zm221 0zm48 0zm-256 1zm197 0zm17 0zm-227 1zm1 0zm224 0zm-211 1zm196 0zm166 0zm-371 1zm206 0zm5 0zm-215 1zm3 0zm106 0zm84 0zm-193 1zm192 0zm-8 1zm10 0zm11 0zm18 0zm-32 1zm156 0zm-180 1zm28 0zm-86 1zm58 0zm5 0zm4 0zm23 0zm163 0zm-191 1zm33 0zm125 0zm-40 1zm-111 1zm64 0zm148 0zm-27 1zm-183 1zm64 0zm45 1zm8 2zm42 1zm-159 1zm184 0zm-473 2zm10 0zm0 0zm-25 1zm28 0zm1 0zm-17 1zm19 0zm199 0zm194 0zm-310 1zm104 0zm243 0zm-486 1zm3 0zm13 0zm15 0zm-20 1zm16 0zm492 0zm-514 1zm19 0zm19 0zm6 0zm44 0zm10 0zm-94 1zm6 0zm421 0zm-431 1zm3 1zm4 0zm15 0zm16 0zm14 0zm40 0zm117 0zm143 0zm-357 1zm13 0zm5 0zm41 0zm359 0zm-423 1zm1 0zm25 0zm1 0zm13 0zm14 0zm10 0zm68 0zm300 0zm27 0zm-468 1zm3 0zm31 0zm2 0zm81 0zm187 0zm145 0zm-424 1zm17 0zm14 0zm13 0zm3 0zm12 0zm69 0zm143 0zm9 0zm109 0zm-379 1zm62 0zm206 0zm-279 1zm10 0zm35 0zm46 0zm-101 1zm8 0zm33 0zm0 0zm382 0zm-408 1zm4 0zm11 0zm14 0zm496 0zm-554 1zm0 0zm37 0zm19 0zm72 0zm226 0zm78 0zm-437 1zm18 0zm9 0zm50 0zm283 0zm202 0zm-546 1zm14 0zm124 0zm413 0zm11 0zm-573 1zm18 0zm23 0zm14 0zm24 0zm6 0zm26 0zm-112 1zm38 0zm5 0zm36 0zm8 0zm0 0zm-45 1zm10 0zm14 0zm-58 1zm123 0zm8 0zm-120 1zm1 0zm73 0zm45 0zm-125 1zm35 0zm78 0zm-128 1zm44 0zm47 0zm-68 1zm18 0zm0 0zm11 0zm51 0zm-93 1zm26 0zm58 0zm-96 1zm4 0zm27 0zm11 0zm72 0zm-112 1zm36 0zm10 0zm65 0zm-104 1zm11 0zm25 0zm-31 1zm79 0zm-74 1zm25 0zm6 0zm-55 1zm55 0zm0 0zm5 0zm7 0zm10 0zm31 0zm-67 1zm24 0zm255 0zm30 0zm234 0zm-575 1zm11 0zm28 0zm16 0zm5 0zm59 0zm-87 1zm41 0zm27 0zm12 0zm-91 1zm6 0zm54 0zm19 0zm-56 1zm27 0zm32 0zm-88 1zm0 0zm17 0zm47 0zm34 0zm-102 1zm15 0zm175 0zm-200 1zm26 0zm32 0zm133 0zm-199 1zm38 0zm6 0zm10 0zm21 0zm124 0zm8 0zm-152 1zm152 0zm-191 1zm16 0zm6 0zm153 0zm4 0zm1 0zm8 1zm6 0zm-166 1zm10 0zm6 0zm143 0zm1 0zm10 0zm202 0zm-413 1zm19 0zm76 0zm113 0zm-215 1zm22 0zm32 0zm6 0zm19 0zm38 0zm98 0zm-192 1zm38 0zm4 0zm35 0zm101 0zm-170 1zm14 0zm3 0zm1 0zm5 0zm10 1zm28 0zm127 0zm2 0zm-186 1zm12 0zm22 0zm27 0zm125 0zm-124 1zm3 0zm121 0zm194 0zm4 0zm-416 1zm27 0zm53 0zm138 0zm193 0zm2 0zm1 0zm-374 1zm53 0zm326 0zm-421 1zm13 0zm24 0zm11 0zm5 0zm13 0zm24 0zm126 0zm6 0zm3 0zm6 0zm186 0zm4 0zm13 0zm-430 1zm18 0zm399 0zm9 0zm5 0zm-429 1zm42 0zm11 0zm156 0zm1 0zm8 0zm6 0zm200 0zm3 0zm-405 1zm35 0zm163 0zm200 0zm-356 1zm3 0zm7 0zm146 0zm1 0zm6 0zm190 0zm1 0zm-409 1zm28 0zm13 0zm17 0zm1 0zm4 0zm154 0zm6 0zm184 0zm9 0zm0 0zm5 0zm-419 1zm14 0zm13 0zm8 0zm175 0zm2 0zm184 0zm-381 1zm202 0zm4 0zm-165 1zm8 0zm354 0zm-406 1zm28 0zm370 0zm1 0zm5 0zm5 0zm-403 1zm5 0zm392 0zm1 0zm-413 1zm15 0zm30 0zm10 0zm375 0zm2 0zm49 0zm41 0zm-513 1zm416 0zm9 0zm7 0zm-435 1zm6 0zm7 0zm391 0zm11 0zm14 0zm-434 1zm25 0zm3 0zm1 0zm194 0zm134 0zm75 0zm-410 1zm192 0zm10 0zm3 0zm179 0zm4 0zm20 0zm-402 2zm323 0zm68 0zm0 0zm1 0zm9 0zm7 0zm2 0zm-211 1zm3 0zm3 0zm171 0zm29 0zm-74 1zm72 0zm0 0zm-205 1zm8 0zm4 0zm187 0zm3 0zm1 0zm-411 1zm0 0zm216 0zm6 0zm2 0zm107 0zm77 0zm2 0zm-409 1zm217 0zm113 0zm9 0zm-125 1zm7 1zm112 0zm1 1zm79 0zm0 0zm15 0zm-205 1zm2 0zm0 1zm2 0zm255 0zm-258 1zm2 0zm3 0zm-2 1zm2 0zm199 0zm-200 3zm4 0zm2 0zm3 1zm101 0zm87 1zm49 0zm-140 1zm7 0zm5 1zm-107 1zm3 0zm2 0zm0 0zm92 0zm9 0zm14 0zm10 0zm-127 1zm71 0zm41 0zm-44 1zm50 0zm1 0zm11 0zm1 0zm-68 1zm61 0zm6 0zm2 0zm-116 1zm50 0zm103 0zm11 0zm-160 1zm37 0zm8 0zm79 0zm-117 1zm17 0zm3 0zm1 0zm139 0zm-161 1zm13 0zm11 0zm125 0zm47 0zm-75 1zm10 0zm55 0zm-53 1zm50 0zm-175 1zm5 0zm0 0zm123 0zm-2 1zm4 0zm49 0zm-42 1zm7 0zm26 0zm-199 2zm163 0zm17 3zm4 2zm-140 3zm-50 1zm46 0zm3 0zm-42 6zm10 0zm9 0zm-22 2zm39 1zm4 3zm-1 1zm45 2zm-39 2zm-21 1zm22 0zm32 0zm-67 1zm76 0zm-70 1zm29 0zm17 0zm22 0zm2 0zm-21 1zm16 0zm6 0zm-83 2zm56 1zm11 0zm-11 1zm26 0zm2 0zm4 0zm-24 2zm5 0zm39 0zm-125 1zm117 0zm-134 1zm95 0zm47 0zm-17 1zm-114 1zm10 1zm98 0zm13 0zm-136 1zm8 0zm-5 1zm23 0zm108 0zm-136 1zm7 0zm4 0zm126 0zm-33 1zm-85 1zm5 0zm42 0zm70 2zm-129 1zm19 0zm92 0zm-90 1zm1 0zm98 0zm1 0zm9 0zm-145 1zm27 0zm97 0zm4 1zm-125 1zm15 0zm28 0zm75 0zm-101 1zm11 0zm3 0zm1 0zm5 0zm2 0zm6 0zm66 1zm17 0zm-120 1zm27 0zm8 0zm4 0zm97 0zm-8 1zm-100 1zm-28 1zm1 0zm3 0zm6 0zm25 0zm68 0zm11 0zm24 0zm-136 1zm22 0zm-8 1zm-8 1zm3 0zm2 1zm8 0zm12 0zm7 0zm79 0zm-126 1zm4 0zm0 0zm16 0zm10 0zm5 2zm86 0zm10 0zm-98 1zm4 0zm-36 1zm6 0zm18 0zm5 0zm7 1zm8 0zm-18 1zm1 1zm-26 1zm30 0zm-9 1zm16 0zm-29 1zm17 0zm15 0zm-39 1zm2 0zm10 0zm12 0zm17 0zm64 0zm-101 1zm10 0zm4 0zm0 0zm81 0zm10 0zm-74 2zm3 0zm1 0zm34 0zm-63 1zm65 0zm-47 1zm12 0zm51 0zm-70 1zm52 0zm29 0zm-92 1zm16 0zm4 0zm16 0zm-31 1zm19 0zm21 0zm-29 1zm67 0zm-80 1zm40 0zm-41 1zm13 0zm21 0zm6 0zm-23 3zm6 1zm-7 1zm4 0z" stroke="#00BFC4"/><path d="M1791 117zm-1 2zm1 0zm-14 1zm2 0zm-7 3zm23 0zm1 0zm-38 1zm15 0zm23 0zm4 0zm3 0zm-35 1zm3 0zm25 0zm-47 1zm8 0zm14 0zm1 0zm37 0zm-60 1zm1 0zm15 1zm46 0zm0 0zm5 0zm4 0zm-62 1zm10 0zm-27 1zm44 0zm7 0zm2 0zm21 0zm-524 1zm459 0zm-465 1zm2 0zm2 0zm477 0zm13 0zm47 0zm-559 1zm9 0zm5 0zm470 0zm43 0zm-522 1zm21 0zm449 0zm9 0zm4 0zm1 0zm31 0zm-498 1zm444 0zm5 0zm65 0zm-526 1zm5 0zm8 0zm12 0zm464 0zm-479 1zm1 0zm26 0zm416 0zm38 0zm6 0zm24 0zm-536 1zm20 0zm493 0zm14 0zm33 0zm-525 1zm2 0zm19 0zm436 0zm-469 1zm2 0zm32 0zm437 0zm23 0zm22 0zm21 0zm-557 1zm15 0zm34 0zm417 0zm51 0zm22 0zm35 0zm-584 1zm4 0zm20 0zm10 0zm16 0zm14 0zm421 0zm16 0zm44 0zm15 0zm-551 1zm1 0zm43 0zm454 0zm29 0zm3 0zm17 0zm-535 1zm2 0zm7 0zm8 0zm29 0zm1 0zm419 0zm21 0zm50 0zm4 0zm23 0zm-556 1zm29 0zm463 0zm37 0zm10 0zm28 0zm-596 1zm28 0zm44 0zm406 0zm6 0zm22 0zm28 0zm3 0zm9 0zm12 0zm16 0zm14 0zm-590 1zm39 0zm17 0zm0 0zm422 0zm28 0zm11 0zm22 0zm4 0zm7 0zm1 0zm15 0zm-575 1zm27 0zm7 0zm2 0zm31 0zm436 0zm6 0zm16 0zm11 0zm12 0zm-518 1zm12 0zm38 0zm1 0zm417 0zm12 0zm71 0zm-548 1zm32 0zm518 0zm34 0zm-610 1zm2 0zm20 0zm13 0zm31 0zm2 0zm412 0zm1 0zm55 0zm2 0zm9 0zm2 0zm7 0zm3 0zm-538 1zm477 0zm20 0zm62 0zm-558 1zm4 0zm19 0zm7 0zm441 0zm8 0zm1 0zm4 0zm5 0zm38 0zm18 0zm8 0zm-583 1zm50 0zm41 0zm415 0zm2 0zm34 0zm17 0zm48 0zm-592 1zm29 0zm475 0zm22 0zm4 0zm14 0zm30 0zm-596 1zm3 0zm17 0zm34 0zm2 0zm8 0zm500 0zm9 0zm-538 1zm4 0zm39 0zm424 0zm20 0zm32 0zm9 0zm4 0zm50 0zm-592 1zm49 0zm9 0zm6 0zm7 0zm416 0zm45 0zm29 0zm25 0zm7 0zm7 0zm20 0zm-646 1zm26 0zm40 0zm2 0zm13 0zm428 0zm6 0zm17 0zm7 0zm70 0zm28 0zm13 0zm-649 1zm13 0zm8 0zm4 0zm1 0zm24 0zm63 0zm397 0zm25 0zm36 0zm7 0zm16 0zm12 0zm42 0zm2 0zm8 0zm-650 1zm4 0zm23 0zm5 0zm8 0zm3 0zm17 0zm3 0zm25 0zm5 0zm13 0zm382 0zm4 0zm16 0zm9 0zm31 0zm12 0zm5 0zm71 0zm-626 1zm26 0zm1 0zm6 0zm36 0zm9 0zm410 0zm9 0zm-508 1zm13 0zm11 0zm32 0zm23 0zm5 0zm402 0zm15 0zm70 0zm78 0zm-632 1zm67 0zm18 0zm397 0zm8 0zm40 0zm92 0zm5 0zm-642 1zm21 0zm3 0zm10 0zm9 0zm15 0zm42 0zm393 0zm25 0zm4 0zm44 0zm18 0zm16 0zm24 0zm21 0zm0 0zm-656 1zm1 0zm3 0zm6 0zm109 0zm388 0zm58 0zm20 0zm10 0zm12 0zm1 0zm48 0zm0 0zm2 0zm-660 1zm2 0zm40 0zm16 0zm4 0zm20 0zm8 0zm22 0zm3 0zm6 0zm0 0zm410 0zm7 0zm40 0zm13 0zm2 0zm1 0zm53 0zm-642 1zm20 0zm27 0zm38 0zm18 0zm379 0zm26 0zm14 0zm3 0zm28 0zm67 0zm32 0zm-632 1zm19 0zm23 0zm18 0zm26 0zm6 0zm1 0zm0 0zm414 0zm54 0zm-493 1zm14 0zm0 0zm3 0zm393 0zm14 0zm26 0zm8 0zm18 0zm63 0zm20 0zm4 0zm1 0zm-662 1zm7 0zm13 0zm22 0zm85 0zm3 0zm1 0zm377 0zm39 0zm13 0zm6 0zm52 0zm38 0zm-574 1zm32 0zm379 0zm102 0zm1 0zm4 0zm17 0zm-617 1zm10 0zm17 0zm4 0zm14 0zm14 0zm4 0zm19 0zm491 0zm6 0zm0 0zm20 0zm60 0zm-597 1zm453 0zm8 0zm76 0zm-596 1zm18 0zm29 0zm43 0zm437 0zm6 0zm-525 1zm22 0zm7 0zm8 0zm18 0zm479 0zm17 0zm-557 1zm32 0zm9 0zm44 0zm25 0zm404 0zm13 0zm18 0zm37 0zm-591 1zm62 0zm50 0zm8 0zm15 0zm2 0zm4 0zm341 0zm69 0zm-520 1zm3 0zm17 0zm42 0zm1 0zm4 0zm15 0zm17 0zm6 0zm1 0zm351 0zm13 0zm102 0zm-599 1zm0 0zm38 0zm37 0zm6 0zm10 0zm42 0zm372 0zm2 0zm98 0zm-580 1zm7 0zm22 0zm424 0zm8 0zm73 0zm21 0zm-576 1zm41 0zm5 0zm3 0zm55 0zm18 0zm13 0zm0 0zm392 0zm-528 1zm3 0zm24 0zm43 0zm0 0zm6 0zm37 0zm413 0zm41 0zm21 0zm-593 1zm19 0zm27 0zm22 0zm23 0zm10 0zm20 0zm22 0zm337 0zm14 0zm5 0zm14 0zm8 0zm9 0zm0 0zm26 0zm60 0zm-593 1zm2 0zm16 0zm30 0zm67 0zm385 0zm-517 1zm17 0zm21 0zm5 0zm19 0zm14 0zm398 0zm97 0zm23 0zm-583 1zm4 0zm18 0zm8 0zm1 0zm6 0zm78 0zm358 0zm-474 1zm5 0zm12 0zm0 0zm52 0zm5 0zm15 0zm2 0zm35 0zm5 0zm332 0zm30 0zm18 0zm7 0zm-530 1zm60 0zm9 0zm14 0zm391 0zm9 0zm30 0zm30 0zm29 0zm4 0zm27 0zm-545 1zm21 0zm33 0zm355 0zm3 0zm0 0zm3 0zm4 0zm20 0zm4 0zm12 0zm18 0zm1 0zm-530 1zm4 0zm40 0zm3 0zm26 0zm5 0zm36 0zm5 0zm3 0zm5 0zm7 0zm1 0zm335 0zm25 0zm11 0zm75 0zm1 0zm8 0zm-571 1zm0 0zm64 0zm13 0zm37 0zm5 0zm331 0zm7 0zm0 0zm193 0zm-552 1zm427 0zm54 0zm-588 1zm2 0zm2 0zm42 0zm2 0zm53 0zm29 0zm401 0zm36 0zm-549 1zm6 0zm21 0zm78 0zm5 0zm446 0zm-565 1zm5 0zm19 0zm2 0zm12 0zm1 0zm497 0zm4 0zm28 0zm-587 1zm9 0zm128 0zm16 0zm317 0zm95 0zm-546 1zm40 0zm1 0zm24 0zm2 0zm31 0zm14 0zm344 0zm20 0zm1 0zm21 0zm5 0zm50 0zm-550 1zm7 0zm7 0zm1 0zm28 0zm78 0zm324 0zm31 0zm7 0zm11 0zm15 0zm68 0zm-561 1zm15 0zm2 0zm7 0zm69 0zm14 0zm319 0zm31 0zm20 0zm25 0zm42 0zm-579 1zm2 0zm41 0zm8 0zm26 0zm40 0zm23 0zm365 0zm165 0zm-666 1zm8 0zm6 0zm49 0zm6 0zm3 0zm36 0zm19 0zm11 0zm1 0zm426 0zm12 0zm9 0zm2 0zm79 0zm1 0zm-650 1zm5 0zm1 0zm3 0zm12 0zm49 0zm8 0zm17 0zm2 0zm10 0zm13 0zm366 0zm6 0zm24 0zm40 0zm-531 1zm22 0zm30 0zm14 0zm19 0zm317 0zm2 0zm1 0zm2 0zm7 0zm46 0zm9 0zm0 0zm27 0zm6 0zm13 0zm26 0zm-563 1zm23 0zm6 0zm11 0zm13 0zm45 0zm5 0zm14 0zm319 0zm37 0zm55 0zm-494 1zm17 0zm20 0zm4 0zm18 0zm31 0zm312 0zm5 0zm30 0zm63 0zm37 0zm-587 1zm8 0zm9 0zm25 0zm3 0zm2 0zm20 0zm51 0zm15 0zm302 0zm14 0zm50 0zm53 0zm38 0zm-537 1zm12 0zm2 0zm6 0zm2 0zm8 0zm1 0zm0 0zm14 0zm9 0zm4 0zm3 0zm23 0zm302 0zm9 0zm1 0zm77 0zm-410 1zm20 0zm301 0zm232 0zm-672 1zm49 0zm28 0zm14 0zm20 0zm15 0zm13 0zm302 0zm4 0zm59 0zm100 0zm-555 1zm83 0zm13 0zm345 0zm18 0zm11 0zm60 0zm77 0zm-634 1zm57 0zm2 0zm6 0zm15 0zm5 0zm337 0zm114 0zm-532 1zm13 0zm14 0zm13 0zm67 0zm0 0zm8 0zm311 0zm65 0zm18 0zm55 0zm1 0zm-576 1zm47 0zm48 0zm26 0zm14 0zm298 0zm66 0zm76 0zm1 0zm-581 1zm21 0zm14 0zm12 0zm13 0zm25 0zm55 0zm305 0zm67 0zm38 0zm33 0zm-551 1zm9 0zm2 0zm20 0zm20 0zm20 0zm438 0zm2 0zm3 0zm38 0zm84 0zm-664 1zm19 0zm7 0zm96 0zm301 0zm93 0zm59 0zm-497 1zm1 0zm44 0zm4 0zm9 0zm274 0zm17 0zm1 0zm71 0zm27 0zm141 0zm-670 1zm8 0zm2 0zm16 0zm7 0zm4 0zm7 0zm12 0zm36 0zm21 0zm555 0zm-620 1zm22 0zm42 0zm25 0zm14 0zm261 0zm116 0zm43 0zm-564 1zm0 0zm1 0zm3 0zm15 0zm49 0zm32 0zm13 0zm3 0zm22 0zm429 0zm101 0zm-667 1zm17 0zm27 0zm9 0zm11 0zm7 0zm0 0zm19 0zm29 0zm289 0zm53 0zm82 0zm33 0zm62 0zm6 0zm-641 1zm49 0zm94 0zm258 0zm165 0zm-551 1zm9 0zm10 0zm38 0zm6 0zm1 0zm1 0zm51 0zm271 0zm11 0zm123 0zm124 0zm-662 1zm1 0zm63 0zm340 0zm19 0zm108 0zm28 0zm90 0zm-634 1zm26 0zm11 0zm91 0zm266 0zm105 0zm16 0zm131 0zm-665 1zm19 0zm51 0zm71 0zm8 0zm407 0zm113 0zm5 0zm-616 1zm4 0zm40 0zm41 0zm9 0zm259 0zm244 0zm18 0zm-670 1zm41 0zm9 0zm11 0zm0 0zm4 0zm3 0zm28 0zm52 0zm275 0zm7 0zm143 0zm-525 1zm29 0zm29 0zm2 0zm194 0zm103 0zm151 0zm-541 1zm34 0zm19 0zm8 0zm9 0zm17 0zm37 0zm6 0zm265 0zm-412 1zm6 0zm5 0zm7 0zm7 0zm375 0zm7 0zm140 0zm33 0zm84 0zm-574 1zm3 0zm9 0zm297 0zm157 0zm1 0zm111 0zm-638 1zm26 0zm352 0zm29 0zm209 0zm-555 1zm6 0zm-71 1zm11 0zm45 0zm3 0zm455 0zm16 0zm12 0zm-540 1zm3 0zm27 0zm10 0zm337 0zm264 0zm-661 1zm62 0zm268 0zm66 0zm124 0zm27 0zm1 0zm90 0zm-641 1zm5 0zm18 0zm19 0zm350 0zm-387 1zm2 0zm80 0zm4 0zm299 0zm1 0zm-396 1zm37 0zm54 0zm204 0zm103 0zm3 0zm27 0zm237 0zm-616 1zm11 0zm508 0zm-550 1zm1 0zm3 0zm16 0zm46 0zm315 0zm133 0zm13 0zm106 0zm-561 1zm307 0zm4 0zm-390 1zm74 0zm1 0zm3 0zm289 0zm19 0zm124 0zm24 0zm114 0zm-641 1zm16 0zm47 0zm567 0zm14 0zm-637 1zm12 0zm51 0zm298 0zm132 0zm32 0zm22 0zm-553 1zm14 0zm7 0zm22 0zm239 0zm89 0zm-368 1zm12 0zm25 0zm26 0zm9 0zm304 0zm145 0zm-445 1zm253 0zm170 0zm37 0zm90 0zm-598 1zm474 0zm23 0zm13 0zm-540 1zm11 0zm7 0zm46 0zm1 0zm311 0zm-371 1zm7 0zm55 0zm-70 1zm36 0zm39 0zm448 0zm-515 1zm60 0zm4 0zm4 0zm6 0zm231 0zm67 0zm157 0zm-529 1zm10 0zm472 0zm4 0zm11 0zm25 0zm-519 1zm4 0zm2 0zm246 0zm64 0zm185 0zm-486 1zm-15 1zm6 0zm40 0zm25 0zm197 0zm-253 1zm9 0zm5 0zm13 0zm435 0zm14 0zm26 0zm-509 1zm32 0zm460 0zm-495 1zm7 0zm43 0zm-54 1zm8 0zm3 0zm38 0zm15 0zm16 0zm6 0zm-51 1zm4 0zm6 0zm10 0zm12 0zm2 0zm241 0zm-306 1zm3 0zm5 0zm475 1zm17 0zm-505 1zm13 0zm60 0zm92 0zm335 0zm-497 1zm4 0zm245 0zm235 0zm22 0zm-460 1zm10 0zm20 0zm-13 1zm17 0zm1 0zm11 0zm163 0zm226 0zm9 1zm-419 1zm148 0zm281 0zm12 0zm-452 1zm21 0zm146 0zm6 0zm246 0zm28 0zm-252 1zm-203 1zm6 0zm8 0zm160 0zm-225 1zm59 0zm429 0zm-487 1zm2 0zm81 0zm130 0zm15 0zm14 0zm5 0zm12 0zm0 0zm238 0zm-443 1zm2 0zm180 0zm7 0zm6 0zm10 0zm211 0zm-467 1zm67 0zm108 0zm34 0zm19 0zm7 0zm3 0zm13 0zm7 0zm218 0zm1 0zm-407 1zm160 0zm13 0zm5 0zm4 0zm-254 1zm0 0zm77 0zm27 0zm62 0zm72 0zm9 0zm0 0zm2 0zm3 0zm5 0zm221 0zm-416 1zm133 0zm52 0zm5 0zm9 0zm214 0zm-334 1zm55 0zm0 0zm49 0zm11 0zm-49 1zm34 0zm6 0zm2 0zm0 0zm-185 1zm34 0zm17 0zm38 0zm0 0zm31 0zm65 0zm8 0zm13 0zm-89 1zm6 0zm25 0zm14 0zm11 0zm35 0zm0 0zm-274 1zm102 0zm58 0zm46 0zm26 0zm33 0zm1 0zm9 0zm-205 1zm8 0zm6 0zm5 0zm62 0zm64 0zm38 0zm2 0zm-178 1zm1 0zm15 0zm2 0zm35 0zm25 0zm2 0zm11 0zm22 0zm18 0zm8 0zm1 0zm30 0zm30 0zm15 0zm-291 1zm68 0zm4 0zm1 0zm6 0zm2 0zm1 0zm0 0zm1 0zm7 0zm0 0zm7 0zm33 0zm13 0zm69 0zm37 0zm18 0zm7 0zm6 0zm-280 1zm75 0zm9 0zm0 0zm12 0zm2 0zm2 0zm10 0zm0 0zm4 0zm10 0zm26 0zm33 0zm54 0zm38 0zm6 0zm-223 1zm10 0zm2 0zm14 0zm8 0zm11 0zm11 0zm4 0zm1 0zm13 0zm3 0zm53 0zm94 0zm3 0zm4 0zm0 0zm1 0zm75 0zm2 0zm-275 1zm11 0zm6 0zm11 0zm4 0zm9 0zm0 0zm21 0zm62 0zm11 0zm59 0zm21 0zm-228 1zm17 0zm19 0zm14 0zm7 0zm4 0zm16 0zm17 0zm-178 1zm90 0zm2 0zm17 0zm11 0zm18 0zm1 0zm1 0zm4 0zm3 0zm16 0zm7 0zm15 0zm2 0zm-66 1zm2 0zm3 0zm3 0zm35 0zm50 0zm-130 1zm29 0zm4 0zm23 0zm1 0zm3 0zm13 0zm17 0zm86 0zm22 0zm6 0zm8 0zm-184 1zm16 0zm20 0zm26 0zm119 0zm6 0zm1 0zm-191 1zm44 0zm3 0zm3 0zm8 0zm53 0zm46 0zm290 0zm9 0zm-470 1zm8 0zm13 0zm15 0zm33 0zm51 0zm47 0zm2 0zm45 0zm-298 1zm304 0zm239 0zm-537 1zm91 0zm59 0zm135 0zm4 0zm-217 1zm71 0zm145 0zm-292 1zm6 0zm62 0zm42 0zm8 0zm53 0zm195 0zm-368 1zm372 0zm-366 1zm3 0zm106 0zm51 0zm88 0zm36 0zm7 0zm8 0zm3 0zm7 0zm54 0zm-364 1zm113 0zm141 0zm34 0zm7 0zm-194 1zm37 0zm-138 1zm88 0zm207 0zm-310 1zm321 0zm10 0zm-210 1zm197 0zm2 0zm7 0zm-211 1zm8 0zm211 0zm4 0zm4 0zm-340 1zm291 0zm16 0zm8 0zm23 0zm1 0zm-42 1zm20 0zm3 0zm3 0zm3 0zm-36 1zm13 0zm14 0zm3 0zm8 0zm9 0zm-32 1zm3 0zm1 0zm8 0zm6 0zm1 0zm-159 1zm96 0zm4 0zm65 0zm4 0zm1 0zm2 0zm10 0zm-49 1zm5 0zm20 0zm3 0zm3 0zm2 0zm2 0zm3 0zm-36 1zm12 0zm28 0zm1 0zm-47 1zm19 0zm20 0zm4 0zm0 0zm2 0zm-57 1zm22 0zm9 0zm16 0zm1 0zm1 0zm-31 1zm40 0zm11 0zm-63 1zm6 0zm5 1zm99 0zm35 1zm-32 1zm53 1zm-128 1zm126 1zm-334 1zm220 2zm-52 1zm-166 1zm223 0zm-25 1zm29 0zm108 0zm-336 1zm-3 1zm6 0zm50 0zm174 0zm108 0zm-105 1zm104 0zm-351 1zm5 0zm2 0zm8 0zm208 0zm128 0zm-349 1zm12 0zm228 0zm-247 1zm6 0zm2 0zm4 0zm196 0zm21 0zm-223 1zm171 0zm4 1zm160 0zm-348 1zm18 0zm202 0zm25 0zm-234 1zm118 0zm28 0zm-149 1zm4 0zm183 0zm173 0zm-365 1zm84 0zm141 0zm-230 1zm0 0zm205 0zm19 0zm9 0zm1 0zm-227 1zm178 0zm-188 1zm2 0zm1 0zm2 0zm2 0zm11 0zm187 0zm8 0zm-5 1zm19 0zm12 0zm-239 1zm1 0zm219 0zm-221 1zm9 0zm208 0zm-212 1zm90 0zm75 0zm53 0zm6 0zm-233 1zm228 0zm20 0zm117 0zm-362 1zm186 0zm10 0zm21 0zm1 0zm4 0zm-28 1zm32 0zm-24 1zm171 0zm-267 2zm98 0zm18 0zm119 0zm37 0zm-212 1zm28 2zm11 0zm174 0zm-266 1zm184 0zm1 0zm66 0zm19 0zm4 0zm-217 1zm9 0zm198 0zm-289 2zm8 0zm255 0zm16 0zm-91 1zm-151 1zm11 0zm135 0zm-279 2zm297 0zm-168 1zm47 0zm220 0zm-438 1zm137 0zm112 0zm-323 1zm298 0zm64 0zm-382 1zm13 0zm312 0zm-83 1zm174 0zm93 0zm9 0zm-485 1zm6 0zm20 0zm194 0zm188 0zm34 0zm20 0zm-476 1zm24 0zm468 0zm-510 1zm12 0zm7 0zm1 0zm226 0zm103 0zm-346 1zm2 0zm0 0zm20 0zm74 0zm195 0zm86 0zm-360 1zm8 0zm372 0zm-411 1zm29 0zm48 0zm200 0zm78 0zm121 0zm-456 1zm5 0zm11 0zm49 0zm185 0zm200 0zm-448 1zm9 0zm15 0zm9 0zm22 0zm208 0zm100 0zm-367 1zm2 0zm4 0zm2 0zm18 0zm398 0zm10 0zm72 0zm-531 1zm8 0zm12 0zm19 0zm26 0zm-62 1zm38 0zm6 0zm53 0zm5 0zm205 0zm-297 1zm8 0zm23 0zm2 0zm3 0zm74 0zm7 0zm36 0zm131 0zm-273 1zm4 0zm16 0zm8 0zm2 0zm1 0zm8 0zm39 0zm338 0zm-444 1zm42 0zm10 0zm32 0zm8 0zm2 0zm65 0zm305 0zm99 0zm-567 1zm23 0zm7 0zm6 0zm53 0zm-55 1zm4 0zm104 0zm-139 1zm6 0zm36 0zm3 0zm45 0zm7 0zm254 0zm-337 1zm26 0zm14 0zm9 0zm3 0zm66 0zm212 0zm-331 1zm7 0zm3 0zm2 0zm14 0zm99 0zm190 0zm95 0zm2 0zm-418 1zm53 0zm4 0zm7 0zm1 0zm33 0zm6 0zm29 0zm-121 1zm0 0zm19 0zm6 0zm17 0zm341 0zm-388 1zm62 0zm18 0zm17 0zm4 0zm26 0zm421 0zm-568 1zm16 0zm12 0zm2 0zm42 0zm45 0zm-114 1zm32 0zm23 0zm55 0zm272 0zm200 0zm2 0zm-558 1zm18 0zm19 0zm59 0zm-96 1zm7 0zm7 0zm0 0zm20 0zm8 0zm47 0zm-110 1zm16 0zm-10 1zm2 0zm46 0zm12 0zm61 0zm-96 1zm18 0zm0 0zm5 0zm73 0zm448 0zm-545 1zm11 0zm27 0zm316 0zm189 0zm-560 1zm28 0zm6 0zm29 0zm17 0zm-49 1zm5 0zm4 0zm12 0zm34 0zm463 0zm-569 1zm10 0zm27 0zm6 0zm8 0zm28 0zm1 0zm504 0zm-574 1zm0 0zm12 0zm18 0zm7 0zm22 0zm-70 1zm1 0zm1 0zm17 0zm18 0zm11 0zm12 0zm5 0zm1 0zm251 0zm263 0zm-579 2zm6 0zm12 0zm23 0zm17 0zm66 0zm-95 1zm32 0zm12 0zm4 0zm39 0zm-119 1zm84 0zm-69 1zm9 0zm1 0zm32 0zm45 0zm97 0zm7 0zm-184 1zm2 0zm1 0zm35 0zm12 0zm8 0zm27 0zm91 0zm6 0zm3 0zm-198 1zm27 0zm27 0zm138 0zm8 0zm-11 1zm7 0zm-205 1zm3 1zm8 0zm54 0zm8 0zm29 0zm332 0zm-420 1zm13 0zm16 0zm17 0zm145 0zm-195 1zm1 0zm5 0zm5 0zm44 0zm7 0zm2 0zm34 0zm313 0zm-396 1zm46 0zm25 0zm-56 1zm5 0zm4 0zm-13 1zm2 0zm33 0zm124 0zm28 0zm190 0zm-384 1zm0 0zm19 0zm26 0zm21 0zm321 0zm-399 1zm30 0zm3 0zm2 0zm20 0zm5 0zm2 0zm137 0zm196 0zm-375 1zm17 0zm19 0zm145 0zm342 0zm-529 1zm27 0zm16 0zm24 0zm9 0zm106 0zm209 0zm5 0zm-420 1zm17 0zm39 0zm3 0zm9 0zm342 0zm-360 1zm4 0zm7 0zm16 0zm3 0zm339 0zm-419 1zm35 0zm6 0zm26 0zm345 0zm0 0zm7 0zm2 0zm-16 1zm8 1zm-411 1zm38 0zm21 0zm154 0zm203 0zm10 0zm41 0zm-258 1zm-210 1zm14 0zm6 0zm3 0zm392 0zm0 0zm17 0zm-435 1zm7 0zm6 0zm7 0zm5 0zm49 0zm156 0zm194 0zm-390 1zm36 0zm150 0zm8 0zm198 0zm1 0zm10 0zm9 0zm-234 1zm12 0zm7 0zm209 0zm-419 1zm19 0zm181 0zm208 0zm1 0zm0 0zm6 0zm-372 1zm163 0zm6 0zm199 0zm18 0zm-429 1zm28 0zm8 0zm4 0zm313 0zm59 0zm1 0zm0 0zm-425 1zm44 0zm9 0zm168 0zm11 0zm202 0zm4 0zm-427 1zm216 0zm195 0zm3 0zm8 0zm-428 1zm38 0zm191 0zm200 0zm-411 1zm207 0zm2 0zm206 0zm1 0zm1 0zm-213 1zm4 0zm196 0zm4 0zm0 0zm0 0zm11 0zm-420 1zm207 0zm1 0zm2 0zm125 0zm84 0zm-412 1zm208 0zm6 0zm186 0zm2 0zm-414 1zm215 0zm1 0zm128 0zm63 0zm7 0zm-198 1zm2 0zm125 0zm4 0zm66 0zm5 0zm0 0zm4 0zm3 0zm70 0zm-276 1zm0 0zm6 0zm122 0zm-123 1zm4 0zm120 0zm62 0zm-188 1zm5 0zm112 0zm75 0zm-187 1zm117 0zm-112 1zm114 0zm1 0zm-4 1zm-106 1zm105 0zm75 0zm-188 2zm1 0zm4 1zm107 0zm143 0zm-246 1zm7 0zm-7 1zm1 0zm2 1zm182 0zm-183 1zm2 0zm4 0zm1 0zm-7 1zm1 0zm94 1zm-87 1zm83 0zm85 0zm-167 2zm66 0zm9 0zm62 0zm35 0zm-159 1zm2 0zm61 0zm57 0zm56 0zm-181 1zm2 0zm50 0zm5 0zm4 0zm-66 1zm5 0zm7 0zm7 0zm12 0zm22 0zm12 0zm4 0zm77 0zm-97 1zm16 0zm-35 1zm12 0zm2 0zm2 0zm109 0zm1 0zm-127 1zm0 0zm2 0zm9 0zm171 0zm4 0zm-62 1zm-121 1zm143 3zm-1 1zm28 0zm-14 1zm-4 1zm6 1zm1 0zm8 0zm0 0zm-9 2zm-3 1zm-178 2zm23 17zm23 4zm21 0zm11 0zm-2 1zm-17 2zm37 0zm-20 1zm-50 1zm28 0zm13 0zm-14 1zm10 0zm-5 1zm7 0zm36 0zm-129 1zm10 1zm5 0zm66 0zm37 0zm-114 1zm-6 1zm1 0zm7 0zm2 0zm-20 1zm17 0zm5 0zm87 0zm8 0zm-114 1zm24 0zm86 0zm14 0zm-108 1zm89 0zm-105 1zm4 0zm28 0zm73 0zm-107 1zm63 0zm86 0zm-144 2zm17 0zm37 1zm-60 1zm12 0zm20 0zm5 0zm68 1zm32 0zm-139 1zm4 0zm2 0zm26 0zm2 0zm77 0zm0 0zm-84 1zm119 0zm-135 1zm4 0zm12 0zm11 0zm71 0zm2 1zm-72 1zm69 0zm-100 1zm5 0zm13 0zm11 0zm6 0zm94 0zm-142 1zm13 0zm12 0zm0 0zm10 0zm5 0zm100 0zm-139 1zm6 0zm1 0zm17 0zm15 0zm79 0zm10 0zm13 0zm-133 1zm109 0zm-79 1zm77 0zm-97 1zm1 0zm5 0zm3 0zm9 0zm-23 1zm18 0zm-27 1zm26 0zm-3 1zm17 0zm86 0zm-94 1zm100 0zm-134 1zm2 0zm31 0zm-12 1zm18 0zm-9 1zm93 0zm-118 1zm16 0zm17 0zm-32 1zm21 2zm82 0zm-61 2zm2 0zm-16 1zm12 0zm66 0zm-82 1zm2 0zm8 0zm-13 1zm1 0zm-4 1zm63 0zm22 0zm-91 1zm45 0zm33 0zm-77 1zm34 0zm26 0zm-64 1zm5 0zm2 0zm57 0zm7 0zm-49 1zm0 0zm12 0zm18 0zm25 0zm-81 1zm6 0zm5 0zm2 0zm20 0zm5 0zm32 0zm8 0zm2 0zm-64 1zm66 0zm-4 1zm-73 1zm21 0zm-25 1zm19 0zm2 0zm5 0zm6 0zm-25 3zm14 2z" stroke="#00BFC4"/><path d="M1773 122zm3 0zm9 0zm9 0zm-23 1zm20 2zm7 0zm-14 1zm12 0zm8 0zm-56 1zm7 0zm29 0zm9 0zm4 1zm-52 1zm6 0zm21 0zm16 0zm33 0zm-63 1zm26 0zm18 0zm-522 1zm474 0zm21 0zm45 0zm1 0zm-539 1zm458 0zm27 0zm11 0zm17 0zm-529 1zm20 0zm488 0zm30 0zm-535 1zm11 0zm16 0zm1 0zm458 0zm2 0zm17 0zm31 0zm-526 1zm457 0zm7 0zm42 0zm24 0zm-535 1zm13 0zm3 0zm452 0zm6 0zm7 0zm25 0zm11 0zm2 0zm23 0zm9 0zm1 0zm-563 1zm3 0zm6 0zm37 0zm431 0zm21 0zm1 0zm22 0zm2 0zm2 0zm15 0zm16 0zm9 0zm-573 1zm31 0zm451 0zm90 0zm-572 1zm4 0zm4 0zm39 0zm7 0zm423 0zm14 0zm32 0zm22 0zm-546 1zm4 0zm477 0zm2 0zm6 0zm14 0zm19 0zm2 0zm2 0zm0 0zm43 0zm-557 1zm468 0zm5 0zm31 0zm35 0zm1 0zm16 0zm9 0zm11 0zm-578 1zm27 0zm12 0zm444 0zm11 0zm15 0zm23 0zm13 0zm0 0zm-533 1zm9 0zm449 0zm5 0zm27 0zm7 0zm6 0zm29 0zm-557 1zm490 0zm12 0zm6 0zm21 0zm59 0zm-579 1zm1 0zm2 0zm16 0zm471 0zm18 0zm11 0zm38 0zm-571 1zm7 0zm13 0zm33 0zm14 0zm456 0zm4 0zm11 0zm21 0zm9 0zm25 0zm12 0zm-597 1zm10 0zm8 0zm4 0zm10 0zm447 0zm5 0zm7 0zm9 0zm11 0zm19 0zm38 0zm10 0zm0 0zm-552 1zm43 0zm404 0zm1 0zm47 0zm16 0zm31 0zm28 0zm-517 1zm439 0zm1 0zm14 0zm49 0zm-543 1zm21 0zm430 0zm8 0zm2 0zm5 0zm8 0zm10 0zm2 0zm7 0zm5 0zm20 0zm5 0zm11 0zm22 0zm-567 1zm446 0zm15 0zm61 0zm5 0zm5 0zm4 0zm-531 1zm28 0zm4 0zm409 0zm21 0zm25 0zm27 0zm32 0zm6 0zm-561 1zm31 0zm16 0zm432 0zm4 0zm14 0zm15 0zm49 0zm-587 1zm11 0zm5 0zm16 0zm23 0zm0 0zm20 0zm404 0zm10 0zm24 0zm25 0zm15 0zm67 0zm-599 1zm464 0zm26 0zm20 0zm11 0zm23 0zm14 0zm6 0zm-583 1zm10 0zm32 0zm433 0zm4 0zm4 0zm58 0zm11 0zm12 0zm30 0zm30 0zm-642 1zm32 0zm28 0zm1 0zm17 0zm16 0zm3 0zm12 0zm377 0zm6 0zm16 0zm3 0zm21 0zm1 0zm15 0zm0 0zm14 0zm9 0zm13 0zm13 0zm13 0zm-586 1zm9 0zm30 0zm429 0zm24 0zm6 0zm19 0zm10 0zm14 0zm6 0zm37 0zm12 0zm9 0zm10 0zm-634 1zm7 0zm28 0zm49 0zm12 0zm409 0zm3 0zm2 0zm5 0zm12 0zm15 0zm85 0zm19 0zm-618 1zm68 0zm410 0zm7 0zm21 0zm38 0zm37 0zm7 0zm4 0zm-592 1zm19 0zm14 0zm8 0zm420 0zm5 0zm12 0zm3 0zm15 0zm41 0zm5 0zm8 0zm34 0zm12 0zm-628 1zm86 0zm29 0zm378 0zm35 0zm26 0zm25 0zm35 0zm27 0zm6 0zm0 0zm3 0zm-638 1zm16 0zm9 0zm76 0zm390 0zm3 0zm2 0zm8 0zm14 0zm8 0zm10 0zm42 0zm60 0zm-609 1zm56 0zm2 0zm7 0zm1 0zm383 0zm2 0zm38 0zm32 0zm34 0zm44 0zm9 0zm-611 1zm12 0zm12 0zm47 0zm414 0zm4 0zm2 0zm46 0zm18 0zm23 0zm30 0zm-628 1zm10 0zm7 0zm33 0zm438 0zm54 0zm7 0zm9 0zm54 0zm-610 1zm1 0zm21 0zm9 0zm24 0zm43 0zm413 0zm19 0zm6 0zm9 0zm10 0zm4 0zm19 0zm16 0zm26 0zm8 0zm1 0zm-652 1zm54 0zm35 0zm6 0zm11 0zm6 0zm0 0zm408 0zm18 0zm9 0zm7 0zm6 0zm1 0zm84 0zm2 0zm3 0zm-643 1zm20 0zm70 0zm107 0zm303 0zm60 0zm9 0zm2 0zm19 0zm4 0zm38 0zm-643 1zm4 0zm5 0zm17 0zm49 0zm48 0zm373 0zm34 0zm19 0zm13 0zm9 0zm12 0zm5 0zm38 0zm24 0zm3 0zm1 0zm-619 1zm89 0zm401 0zm12 0zm3 0zm6 0zm24 0zm9 0zm13 0zm16 0zm5 0zm4 0zm41 0zm-636 1zm6 0zm50 0zm9 0zm14 0zm7 0zm3 0zm7 0zm1 0zm76 0zm1 0zm1 0zm3 0zm1 0zm28 0zm1 0zm310 0zm15 0zm1 0zm31 0zm-589 1zm14 0zm46 0zm31 0zm37 0zm85 0zm2 0zm17 0zm296 0zm20 0zm-503 1zm4 0zm58 0zm106 0zm304 0zm19 0zm16 0zm11 0zm17 0zm50 0zm3 0zm22 0zm-662 1zm3 0zm47 0zm153 0zm39 0zm276 0zm28 0zm56 0zm-598 1zm17 0zm52 0zm471 0zm52 0zm5 0zm14 0zm4 0zm-613 1zm27 0zm10 0zm84 0zm2 0zm384 0zm-506 1zm35 0zm495 0zm6 0zm-539 1zm4 0zm22 0zm12 0zm10 0zm0 0zm17 0zm6 0zm43 0zm476 0zm24 0zm56 0zm-671 1zm76 0zm32 0zm5 0zm391 0zm28 0zm17 0zm73 0zm-619 1zm3 0zm85 0zm5 0zm13 0zm29 0zm424 0zm29 0zm-585 1zm54 0zm7 0zm494 0zm34 0zm21 0zm8 0zm-621 1zm42 0zm25 0zm72 0zm381 0zm-523 1zm7 0zm18 0zm40 0zm5 0zm5 0zm24 0zm499 0zm-594 1zm17 0zm5 0zm34 0zm455 0zm-509 1zm2 0zm4 0zm6 0zm13 0zm21 0zm16 0zm5 0zm41 0zm1 0zm8 0zm0 0zm388 0zm-472 1zm14 0zm6 0zm2 0zm8 0zm27 0zm16 0zm16 0zm7 0zm406 0zm24 0zm31 0zm-523 1zm18 0zm425 0zm-505 1zm73 0zm6 0zm12 0zm26 0zm379 0zm38 0zm4 0zm24 0zm-564 1zm4 0zm3 0zm25 0zm4 0zm45 0zm22 0zm447 0zm-556 1zm5 0zm0 0zm3 0zm28 0zm6 0zm22 0zm53 0zm7 0zm429 0zm3 0zm-536 1zm8 0zm8 0zm52 0zm28 0zm483 0zm-593 1zm4 0zm9 0zm28 0zm21 0zm5 0zm44 0zm395 0zm25 0zm64 0zm-568 1zm4 0zm29 0zm21 0zm9 0zm32 0zm12 0zm339 0zm75 0zm2 0zm20 0zm16 0zm-519 1zm22 0zm40 0zm426 0zm5 0zm-562 1zm0 0zm77 0zm16 0zm0 0zm6 0zm5 0zm39 0zm370 0zm-515 1zm0 0zm88 0zm19 0zm8 0zm9 0zm5 0zm1 0zm447 0zm-516 1zm26 0zm8 0zm402 0zm21 0zm72 0zm-587 1zm13 0zm62 0zm3 0zm23 0zm14 0zm16 0zm10 0zm357 0zm41 0zm-535 1zm117 0zm378 0zm75 0zm6 0zm-581 1zm19 0zm32 0zm1 0zm0 0zm32 0zm436 0zm-505 1zm15 0zm475 0zm14 0zm1 0zm42 0zm-504 1zm3 0zm2 0zm8 0zm21 0zm1 0zm1 0zm7 0zm31 0zm390 0zm5 0zm32 0zm-551 1zm8 0zm9 0zm46 0zm20 0zm9 0zm17 0zm6 0zm15 0zm6 0zm415 0zm37 0zm15 0zm-599 1zm4 0zm48 0zm14 0zm53 0zm423 0zm-537 1zm18 0zm418 0zm93 0zm37 0zm9 0zm-586 1zm3 0zm9 0zm8 0zm3 0zm4 0zm57 0zm3 0zm21 0zm17 0zm29 0zm450 0zm2 0zm70 0zm-673 1zm2 0zm0 0zm35 0zm17 0zm16 0zm32 0zm403 0zm87 0zm8 0zm-596 1zm17 0zm18 0zm1 0zm64 0zm1 0zm23 0zm365 0zm99 0zm75 0zm-619 1zm7 0zm9 0zm49 0zm10 0zm21 0zm392 0zm9 0zm120 0zm9 0zm-669 1zm0 0zm22 0zm28 0zm62 0zm14 0zm13 0zm10 0zm344 0zm7 0zm151 0zm-654 1zm3 0zm0 0zm2 0zm4 0zm13 0zm11 0zm42 0zm1 0zm416 0zm24 0zm29 0zm42 0zm-585 1zm1 0zm2 0zm9 0zm8 0zm14 0zm15 0zm0 0zm9 0zm2 0zm446 0zm87 0zm5 0zm1 0zm60 0zm7 0zm0 0zm-666 1zm3 0zm4 0zm39 0zm61 0zm379 0zm42 0zm42 0zm6 0zm45 0zm34 0zm-644 1zm0 0zm39 0zm36 0zm27 0zm455 0zm11 0zm18 0zm61 0zm-648 1zm4 0zm12 0zm24 0zm84 0zm366 0zm3 0zm57 0zm19 0zm-544 1zm32 0zm7 0zm12 0zm2 0zm55 0zm7 0zm282 0zm147 0zm22 0zm-602 1zm39 0zm17 0zm19 0zm7 0zm29 0zm14 0zm15 0zm450 0zm4 0zm59 0zm5 0zm-599 1zm18 0zm43 0zm1 0zm17 0zm364 0zm49 0zm25 0zm22 0zm35 0zm30 0zm-595 1zm20 0zm6 0zm8 0zm14 0zm430 0zm41 0zm3 0zm60 0zm24 0zm5 0zm-614 1zm11 0zm58 0zm386 0zm24 0zm37 0zm13 0zm-543 1zm31 0zm20 0zm5 0zm5 0zm46 0zm413 0zm7 0zm8 0zm11 0zm1 0zm-566 1zm23 0zm27 0zm5 0zm5 0zm54 0zm414 0zm13 0zm8 0zm16 0zm84 0zm-662 1zm39 0zm7 0zm91 0zm379 0zm47 0zm-535 1zm6 0zm96 0zm347 0zm84 0zm92 0zm-625 1zm21 0zm35 0zm26 0zm430 0zm7 0zm-526 1zm47 0zm475 0zm20 0zm13 0zm0 0zm64 0zm29 0zm0 0zm-622 1zm32 0zm6 0zm446 0zm30 0zm3 0zm2 0zm99 0zm-637 1zm61 0zm7 0zm2 0zm10 0zm259 0zm176 0zm-501 1zm35 0zm23 0zm179 0zm7 0zm78 0zm0 0zm186 0zm12 0zm4 0zm7 0zm0 0zm-509 1zm14 0zm232 0zm41 0zm192 0zm-539 1zm16 0zm246 0zm4 0zm18 0zm1 0zm6 0zm260 0zm1 0zm-497 1zm19 0zm455 0zm14 0zm3 0zm1 0zm15 0zm10 0zm83 0zm-635 1zm47 0zm216 0zm4 0zm9 0zm4 0zm14 0zm112 0zm123 0zm2 0zm-528 1zm55 0zm0 0zm1 0zm2 0zm166 0zm21 0zm10 0zm1 0zm0 0zm14 0zm4 0zm5 0zm6 0zm94 0zm127 0zm15 0zm2 0zm7 0zm8 0zm12 0zm81 0zm-390 1zm11 0zm0 0zm25 0zm255 0zm9 0zm88 0zm-577 1zm8 0zm2 0zm0 0zm188 0zm1 0zm9 0zm3 0zm12 0zm218 0zm14 0zm2 0zm8 0zm33 0zm-511 1zm205 0zm2 0zm1 0zm4 0zm1 0zm9 0zm8 0zm8 0zm2 0zm2 0zm61 0zm29 0zm138 0zm34 0zm78 0zm-643 1zm254 0zm6 0zm22 0zm6 0zm7 0zm1 0zm13 0zm45 0zm13 0zm152 0zm4 0zm3 0zm5 0zm18 0zm19 0zm-487 1zm183 0zm19 0zm12 0zm6 0zm38 0zm20 0zm52 0zm108 0zm1 0zm27 0zm17 0zm1 0zm91 0zm-653 1zm5 0zm250 0zm16 0zm7 0zm1 0zm4 0zm7 0zm21 0zm24 0zm6 0zm173 0zm13 0zm8 0zm1 0zm7 0zm2 0zm2 0zm6 0zm0 0zm5 0zm2 0zm-481 1zm181 0zm3 0zm5 0zm6 0zm1 0zm2 0zm1 0zm4 0zm6 0zm1 0zm0 0zm1 0zm41 0zm10 0zm15 0zm154 0zm6 0zm14 0zm3 0zm3 0zm9 0zm0 0zm14 0zm1 0zm87 0zm-635 1zm1 0zm33 0zm5 0zm208 0zm6 0zm4 0zm4 0zm2 0zm0 0zm3 0zm1 0zm6 0zm7 0zm14 0zm17 0zm12 0zm3 0zm186 0zm0 0zm6 0zm-479 1zm27 0zm200 0zm3 0zm21 0zm41 0zm7 0zm6 0zm6 0zm177 0zm0 0zm9 0zm89 0zm-565 1zm189 0zm2 0zm2 0zm3 0zm10 0zm1 0zm6 0zm2 0zm1 0zm2 0zm12 0zm1 0zm4 0zm8 0zm17 0zm180 0zm3 0zm22 0zm5 0zm3 0zm3 0zm3 0zm-505 1zm25 0zm3 0zm2 0zm176 0zm4 0zm3 0zm4 0zm4 0zm3 0zm4 0zm11 0zm11 0zm29 0zm0 0zm28 0zm18 0zm135 0zm8 0zm15 0zm4 0zm7 0zm11 0zm2 0zm5 0zm-482 1zm167 0zm14 0zm4 0zm1 0zm3 0zm7 0zm8 0zm3 0zm5 0zm7 0zm5 0zm6 0zm4 0zm9 0zm12 0zm39 0zm131 0zm13 0zm9 0zm3 0zm30 0zm-521 1zm216 0zm8 0zm2 0zm12 0zm3 0zm3 0zm6 0zm5 0zm5 0zm32 0zm12 0zm16 0zm10 0zm185 0zm4 0zm3 0zm-297 1zm23 0zm4 0zm33 0zm25 0zm2 0zm21 0zm0 0zm138 0zm3 0zm18 0zm0 0zm12 0zm13 0zm2 0zm-482 1zm207 0zm2 0zm11 0zm8 0zm9 0zm41 0zm14 0zm1 0zm5 0zm155 0zm2 0zm3 0zm11 0zm4 0zm-534 1zm248 0zm14 0zm13 0zm10 0zm3 0zm2 0zm35 0zm4 0zm7 0zm3 0zm8 0zm153 0zm-488 1zm52 0zm1 0zm195 0zm18 0zm51 0zm10 0zm164 0zm18 0zm3 0zm-457 1zm4 0zm204 0zm38 0zm10 0zm9 0zm2 0zm4 0zm35 0zm127 0zm5 0zm23 0zm2 0zm-526 1zm9 0zm7 0zm42 0zm194 0zm34 0zm14 0zm13 0zm25 0zm153 0zm15 0zm9 0zm-267 1zm15 0zm42 0zm14 0zm8 0zm162 0zm1 0zm11 0zm20 0zm-505 1zm38 0zm19 0zm188 0zm32 0zm24 0zm42 0zm2 0zm132 0zm10 0zm7 0zm-475 1zm28 0zm3 0zm215 0zm25 0zm17 0zm16 0zm115 0zm38 0zm10 0zm7 0zm-443 1zm209 0zm43 0zm11 0zm171 0zm28 0zm4 0zm-480 1zm20 0zm5 0zm184 0zm2 0zm25 0zm3 0zm6 0zm43 0zm16 0zm125 0zm14 0zm13 0zm-442 1zm2 0zm234 0zm11 0zm39 0zm81 0zm79 0zm11 0zm1 0zm-506 1zm44 0zm24 0zm180 0zm1 0zm1 0zm5 0zm48 0zm159 0zm17 0zm10 0zm4 0zm5 0zm17 0zm-498 1zm42 0zm204 0zm5 0zm52 0zm24 0zm6 0zm2 0zm101 0zm48 0zm-251 1zm17 0zm6 0zm38 0zm33 0zm88 0zm28 0zm3 0zm15 0zm15 0zm1 0zm-438 1zm8 0zm86 0zm306 0zm32 0zm14 0zm-441 1zm226 0zm9 0zm5 0zm45 0zm5 0zm136 0zm2 0zm6 0zm6 0zm-464 1zm12 0zm18 0zm207 0zm30 0zm18 0zm21 0zm1 0zm2 0zm1 0zm90 0zm24 0zm6 0zm3 0zm14 0zm9 0zm6 0zm4 0zm-471 1zm13 0zm275 0zm1 0zm11 0zm7 0zm5 0zm4 0zm6 0zm102 0zm6 0zm5 0zm9 0zm1 0zm5 0zm-439 1zm274 0zm13 0zm15 0zm7 0zm1 0zm3 0zm44 0zm8 0zm18 0zm6 0zm7 0zm17 0zm3 0zm5 0zm4 0zm4 0zm6 0zm2 0zm3 0zm2 0zm-426 1zm4 0zm2 0zm2 0zm250 0zm8 0zm6 0zm5 0zm5 0zm4 0zm1 0zm2 0zm0 0zm1 0zm1 0zm3 0zm0 0zm44 0zm11 0zm10 0zm0 0zm14 0zm-366 1zm273 0zm12 0zm1 0zm65 0zm15 0zm22 0zm25 0zm9 0zm1 0zm-444 1zm101 0zm181 0zm13 0zm1 0zm13 0zm2 0zm32 0zm19 0zm7 0zm0 0zm0 0zm26 0zm22 0zm17 0zm-406 1zm142 0zm116 0zm0 0zm10 0zm5 0zm3 0zm6 0zm3 0zm1 0zm11 0zm28 0zm7 0zm65 0zm9 0zm13 0zm-451 1zm2 0zm194 0zm92 0zm67 0zm58 0zm5 0zm3 0zm5 0zm3 0zm-122 1zm5 0zm110 0zm17 0zm-424 1zm4 0zm189 0zm-265 1zm0 0zm47 0zm10 0zm3 0zm407 0zm14 0zm-265 1zm282 0zm2 0zm-90 1zm62 0zm24 0zm-430 1zm33 0zm135 0zm247 0zm-429 1zm201 0zm231 0zm0 0zm-421 1zm102 0zm271 0zm-386 1zm20 0zm5 0zm16 0zm164 0zm214 0zm-29 1zm-200 1zm154 0zm-323 2zm115 2zm-111 1zm19 0zm55 0zm64 0zm82 0zm237 0zm-434 1zm274 0zm-291 1zm16 0zm22 0zm-6 1zm1 0zm63 0zm-99 1zm3 0zm8 0zm1 0zm12 0zm13 0zm43 0zm130 0zm240 0zm10 0zm-447 1zm54 0zm16 0zm99 0zm-177 1zm-6 1zm40 0zm426 0zm-467 2zm77 0zm37 0zm354 0zm-415 1zm14 0zm406 0zm6 0zm-471 1zm42 0zm424 0zm-465 1zm481 0zm-9 1zm2 0zm4 0zm-454 1zm19 0zm1 0zm-39 1zm-8 1zm5 0zm1 1zm3 1zm28 0zm12 0zm179 0zm-215 1zm35 0zm190 2zm0 0zm-196 1zm0 0zm199 0zm-60 1zm-140 1zm201 1zm-221 1zm227 0zm13 0zm-243 1zm163 1zm2 0zm69 0zm-16 1zm2 0zm19 0zm0 0zm-238 1zm-1 2zm230 0zm13 1zm109 0zm-1 1zm-13 1zm3 0zm-93 1zm50 0zm46 0zm13 1zm-18 1zm3 0zm4 0zm-95 1zm103 1zm2 2zm-111 1zm5 0zm87 0zm15 0zm3 0zm3 0zm-307 1zm80 0zm92 0zm116 0zm-240 1zm155 0zm-110 1zm17 0zm182 0zm18 0zm-242 1zm243 1zm2 0zm-263 1zm237 0zm6 0zm10 0zm-148 1zm41 0zm-38 1zm129 0zm-271 1zm151 0zm-201 1zm52 0zm82 1zm187 0zm4 0zm2 0zm-129 1zm3 0zm124 0zm-190 1zm42 0zm22 0zm6 0zm-8 1zm22 0zm101 0zm26 0zm-283 1zm130 0zm9 0zm9 0zm-106 1zm46 0zm171 0zm18 0zm-147 1zm32 0zm1 0zm96 0zm6 0zm-352 1zm211 0zm11 0zm12 0zm9 0zm13 0zm-180 1zm128 0zm9 0zm5 0zm6 0zm129 0zm7 0zm-202 1zm39 0zm0 0zm3 0zm37 0zm119 0zm-254 1zm59 0zm1 0zm39 0zm152 0zm3 0zm8 0zm-200 1zm45 0zm6 0zm152 0zm-271 1zm89 0zm7 0zm4 0zm6 0zm5 0zm158 0zm5 0zm-261 1zm249 0zm-163 1zm58 0zm105 0zm7 0zm4 0zm4 0zm-284 1zm86 0zm6 0zm41 0zm15 0zm129 0zm10 0zm-227 1zm26 0zm19 0zm24 0zm151 0zm4 0zm5 0zm-218 1zm3 0zm18 0zm3 0zm5 0zm10 0zm152 0zm-401 1zm176 0zm1 0zm56 0zm8 0zm20 0zm98 0zm64 0zm4 0zm5 0zm-216 1zm19 0zm9 0zm12 0zm6 0zm3 0zm137 0zm17 0zm15 0zm-221 1zm6 0zm3 0zm18 0zm24 0zm6 0zm20 0zm93 0zm5 0zm17 0zm24 0zm-209 1zm16 0zm3 0zm117 0zm48 0zm20 0zm-450 1zm184 0zm33 0zm34 0zm32 0zm34 0zm92 0zm29 0zm0 0zm8 0zm-276 1zm30 0zm44 0zm76 0zm55 0zm44 0zm3 0zm3 0zm8 0zm4 0zm3 0zm6 0zm-298 1zm21 0zm27 0zm83 0zm6 0zm13 0zm40 0zm86 0zm19 0zm3 0zm-268 1zm157 0zm15 0zm80 0zm20 0zm-288 1zm6 0zm11 0zm6 0zm58 0zm43 0zm7 0zm3 0zm44 0zm42 0zm34 0zm5 0zm-270 1zm2 0zm3 0zm18 0zm96 0zm5 0zm8 0zm150 0zm9 0zm2 0zm6 0zm4 0zm-287 1zm69 0zm2 0zm220 0zm-273 1zm9 0zm67 0zm39 0zm28 0zm-160 1zm21 0zm82 0zm140 0zm23 0zm11 0zm-299 1zm31 0zm61 0zm77 0zm1 0zm36 0zm102 0zm-288 1zm36 0zm64 0zm59 0zm52 0zm5 0zm-428 1zm11 0zm4 0zm195 0zm9 0zm9 0zm4 0zm102 0zm64 0zm24 0zm21 0zm46 0zm13 0zm-474 1zm174 0zm181 0zm28 0zm35 0zm19 0zm-483 1zm11 0zm14 0zm37 0zm158 0zm23 0zm112 0zm105 0zm0 0zm3 0zm17 0zm8 0zm11 0zm-510 1zm50 0zm28 0zm162 0zm0 0zm21 0zm111 0zm20 0zm74 0zm45 0zm-499 1zm36 0zm14 0zm33 0zm156 0zm5 0zm3 0zm58 0zm40 0zm23 0zm72 0zm39 0zm20 0zm-516 1zm8 0zm10 0zm88 0zm2 0zm104 0zm62 0zm74 0zm-333 1zm49 0zm15 0zm120 0zm33 0zm35 0zm236 0zm10 0zm21 0zm-541 1zm15 0zm29 0zm6 0zm11 0zm5 0zm176 0zm26 0zm3 0zm5 0zm48 0zm36 0zm1 0zm110 0zm70 0zm-501 1zm1 0zm2 0zm12 0zm36 0zm0 0zm31 0zm1 0zm104 0zm5 0zm2 0zm47 0zm80 0zm80 0zm18 0zm2 0zm6 0zm3 0zm32 0zm16 0zm11 0zm-519 1zm114 0zm49 0zm26 0zm85 0zm177 0zm66 0zm-522 1zm1 0zm17 0zm15 0zm12 0zm28 0zm12 0zm37 0zm12 0zm73 0zm70 0zm-284 1zm34 0zm42 0zm11 0zm9 0zm20 0zm49 0zm6 0zm5 0zm22 0zm73 0zm134 0zm36 0zm7 0zm1 0zm2 0zm2 0zm86 0zm5 0zm2 0zm-549 1zm10 0zm7 0zm6 0zm1 0zm2 0zm13 0zm2 0zm6 0zm129 0zm13 0zm67 0zm49 0zm20 0zm136 0zm6 0zm55 0zm-518 1zm27 0zm1 0zm3 0zm7 0zm1 0zm15 0zm239 0zm19 0zm47 0zm101 0zm-475 1zm13 0zm24 0zm13 0zm3 0zm0 0zm5 0zm10 0zm7 0zm11 0zm40 0zm33 0zm156 0zm15 0zm0 0zm3 0zm11 0zm106 0zm7 0zm7 0zm-445 1zm16 0zm5 0zm22 0zm6 0zm18 0zm2 0zm21 0zm38 0zm175 0zm2 0zm124 0zm1 0zm1 0zm116 0zm-559 1zm29 0zm21 0zm52 0zm12 0zm26 0zm185 0zm2 0zm0 0zm-333 1zm21 0zm1 0zm28 0zm47 0zm64 0zm178 0zm5 0zm2 0zm6 0zm2 0zm0 0zm5 0zm79 0zm133 0zm-537 1zm94 0zm303 0zm6 0zm-431 1zm1 0zm36 0zm4 0zm30 0zm15 0zm15 0zm15 0zm232 0zm9 0zm5 0zm3 0zm52 0zm-389 1zm1 0zm7 0zm5 0zm2 0zm65 0zm2 0zm20 0zm2 0zm0 0zm13 0zm220 0zm23 0zm23 0zm154 0zm7 0zm-558 1zm10 0zm20 0zm3 0zm78 0zm177 0zm67 0zm22 0zm1 0zm0 0zm1 0zm4 0zm4 0zm4 0zm2 0zm155 0zm-560 1zm17 0zm3 0zm4 0zm15 0zm3 0zm9 0zm27 0zm6 0zm13 0zm21 0zm246 0zm7 0zm5 0zm11 0zm-394 1zm5 0zm8 0zm8 0zm2 0zm13 0zm1 0zm13 0zm21 0zm66 0zm6 0zm166 0zm43 0zm17 0zm18 0zm-355 1zm18 0zm40 0zm29 0zm196 0zm19 0zm6 0zm27 0zm17 0zm184 0zm2 0zm2 0zm4 0zm8 0zm-520 1zm35 0zm22 0zm0 0zm152 0zm300 0zm0 0zm4 0zm-506 1zm21 0zm25 0zm457 0zm3 0zm-579 1zm1 0zm23 0zm10 0zm7 0zm35 0zm26 0zm2 0zm29 0zm173 0zm273 0zm4 0zm-526 1zm-30 1zm3 0zm12 0zm2 0zm12 0zm1 0zm4 0zm3 0zm2 0zm64 0zm180 0zm76 0zm192 0zm1 0zm-579 1zm16 0zm59 0zm0 0zm-13 1zm7 0zm5 0zm49 0zm4 0zm231 0zm231 0zm-591 1zm1 0zm2 0zm122 0zm452 0zm-576 1zm76 0zm32 0zm11 0zm11 0zm217 0zm42 0zm2 0zm194 0zm-577 1zm28 0zm43 0zm2 0zm20 0zm208 0zm41 0zm0 0zm233 0zm-562 1zm2 0zm11 0zm8 0zm16 0zm44 0zm4 0zm20 0zm1 0zm189 0zm30 0zm1 0zm225 0zm-576 1zm40 0zm11 0zm13 0zm2 0zm5 0zm9 0zm35 0zm5 0zm197 0zm9 0zm34 0zm-351 1zm11 0zm8 0zm13 0zm3 0zm17 0zm141 0zm131 0zm58 0zm-323 1zm11 0zm3 0zm16 0zm12 0zm236 0zm231 0zm-564 1zm1 0zm25 0zm15 0zm20 0zm15 0zm6 0zm241 0zm42 0zm-365 1zm7 0zm8 0zm4 0zm29 0zm26 0zm275 0zm-354 1zm25 0zm41 0zm15 0zm112 0zm-169 1zm16 0zm16 0zm38 0zm7 0zm1 0zm233 0zm-340 1zm23 0zm20 0zm15 0zm24 0zm5 0zm15 0zm21 0zm240 0zm69 0zm-426 1zm8 0zm7 0zm19 0zm27 0zm286 0zm78 0zm-433 1zm8 0zm28 0zm4 0zm6 0zm12 0zm17 0zm37 0zm91 0zm-160 1zm29 0zm255 0zm26 0zm84 0zm-420 1zm5 0zm2 0zm3 0zm43 0zm51 0zm-119 1zm17 0zm6 0zm59 0zm480 0zm-543 1zm13 0zm9 0zm3 0zm26 0zm6 0zm21 0zm11 0zm95 0zm6 0zm226 0zm131 0zm-561 1zm1 0zm43 0zm29 0zm1 0zm7 0zm26 0zm94 0zm-199 1zm34 0zm9 0zm13 0zm4 0zm24 0zm-83 1zm3 0zm5 0zm8 0zm14 0zm26 0zm54 0zm-118 1zm5 0zm34 0zm32 0zm20 0zm111 0zm216 0zm-371 1zm10 0zm4 0zm396 0zm-444 1zm3 0zm6 0zm12 0zm3 0zm17 0zm3 0zm6 0zm8 0zm20 0zm106 0zm9 0zm-172 1zm24 0zm5 0zm1 0zm29 0zm3 0zm126 0zm192 0zm-407 1zm86 0zm5 0zm8 0zm114 0zm330 0zm-508 1zm40 0zm395 0zm-454 1zm4 0zm34 0zm12 0zm16 0zm135 0zm250 0zm5 0zm-446 1zm4 0zm40 0zm377 0zm-437 1zm22 0zm25 0zm11 0zm11 0zm9 0zm333 0zm51 0zm-438 1zm392 0zm40 0zm8 0zm3 0zm4 0zm-479 1zm8 0zm61 0zm1 0zm2 0zm142 0zm202 0zm-396 1zm7 0zm23 0zm12 0zm167 0zm220 0zm31 0zm-483 1zm5 0zm7 0zm3 0zm26 0zm18 0zm5 0zm154 0zm-204 1zm8 0zm14 0zm379 0zm31 0zm2 0zm-430 1zm2 0zm2 0zm23 0zm7 0zm1 0zm14 0zm4 0zm417 0zm-37 1zm37 0zm-454 1zm17 0zm12 0zm385 0zm6 0zm48 0zm-463 1zm1 0zm11 0zm4 0zm385 0zm58 0zm2 0zm-450 1zm390 0zm6 0zm84 0zm-482 1zm396 0zm2 0zm6 0zm50 0zm-57 1zm81 0zm-499 1zm7 0zm484 0zm-75 1zm-409 1zm412 0zm1 0zm70 0zm-278 1zm5 0zm125 1zm1 0zm72 0zm80 0zm-4 1zm0 0zm-70 1zm63 1zm6 0zm-142 1zm-125 2zm14 1zm197 0zm-198 2zm1 0zm188 0zm-197 1zm10 0zm246 0zm-247 2zm185 0zm3 0zm50 0zm3 0zm-51 1zm43 0zm-43 1zm40 0zm10 0zm-132 1zm28 2zm51 0zm-175 1zm75 0zm7 0zm11 0zm19 0zm109 1zm-43 1zm-115 1zm67 0zm11 0zm25 3zm2 0zm44 0zm-58 1zm7 0zm51 0zm1 1zm-61 2zm17 1zm-1 1zm36 0zm-8 1zm-151 1zm144 0zm-14 1zm7 0zm-184 1zm5 0zm193 0zm-180 1zm-18 4zm41 0zm6 0zm-39 2zm3 0zm-2 1zm-5 3zm20 1zm9 0zm-11 1zm23 2zm-38 1zm36 0zm2 1zm-50 1zm47 1zm8 0zm0 0zm-32 1zm30 0zm5 0zm38 0zm-72 1zm33 0zm-49 1zm47 0zm38 1zm-95 1zm11 0zm-6 1zm56 0zm30 0zm-28 1zm20 0zm-54 1zm37 0zm30 0zm-15 1zm7 0zm-26 1zm1 0zm2 0zm15 0zm-19 1zm5 0zm20 0zm2 0zm10 0zm-76 1zm30 0zm38 0zm-101 1zm11 0zm17 0zm87 0zm-109 1zm78 0zm-51 1zm25 0zm46 0zm23 0zm6 0zm-118 1zm99 0zm-116 1zm36 0zm-32 1zm86 0zm-73 1zm3 0zm30 0zm-39 1zm47 0zm37 0zm26 0zm3 0zm-123 1zm87 0zm39 0zm-110 1zm76 0zm17 0zm-121 2zm61 0zm42 0zm4 0zm21 0zm-129 1zm1 0zm8 0zm10 0zm83 0zm1 0zm3 0zm31 0zm-100 1zm66 0zm5 0zm2 0zm30 0zm-113 1zm95 0zm22 1zm-131 1zm11 0zm11 0zm74 0zm36 0zm-128 1zm90 0zm19 0zm-122 1zm3 0zm26 0zm79 0zm4 0zm-91 1zm-24 1zm135 0zm2 0zm-104 1zm6 0zm75 0zm-82 1zm94 0zm-95 1zm15 0zm-51 1zm8 0zm7 0zm118 0zm-108 1zm91 0zm-70 1zm-21 1zm96 1zm-117 1zm14 0zm15 0zm100 0zm-103 1zm4 0zm101 0zm-99 1zm0 1zm92 0zm-80 2zm-33 2zm0 2zm93 0zm10 0zm-92 1zm8 0zm8 0zm74 0zm-89 1zm24 0zm56 0zm1 0zm-76 1zm39 0zm16 0zm9 0zm7 0zm-99 1zm4 0zm72 0zm6 0zm23 0zm1 0zm2 0zm-80 1zm29 0zm12 0zm1 0zm6 0zm17 0zm12 0zm-78 1zm4 0zm20 0zm15 0zm31 0zm10 0zm-41 1zm20 0zm2 0zm-41 1zm12 0zm5 0zm20 0zm10 0zm4 0zm-70 1zm9 0zm17 0zm3 0zm32 0zm5 0zm11 0zm-98 1zm40 0zm1 0zm27 0zm29 0zm-89 1zm22 0zm11 0zm6 0zm3 0zm15 0zm-21 1zm17 0zm-39 2zm0 0zm4 0zm4 0zm22 0zm-35 1zm0 1zm4 0zm6 1z" stroke="#F8766D"/><path d="M1789 119zm4 0zm-20 1zm3 0zm18 1zm-35 1zm47 0zm-33 1zm3 0zm-10 1zm1 0zm48 0zm-12 1zm1 0zm-15 1zm12 1zm-16 1zm9 0zm3 0zm21 0zm-533 1zm486 0zm42 0zm-52 1zm18 0zm-15 1zm38 0zm9 0zm1 0zm-41 1zm39 0zm-46 1zm42 0zm-57 1zm10 0zm1 0zm48 0zm10 0zm7 0zm-529 1zm432 0zm19 0zm3 0zm18 0zm5 0zm1 0zm2 0zm5 0zm22 0zm10 0zm3 0zm6 0zm-525 1zm5 0zm431 0zm17 0zm7 0zm14 0zm-485 1zm474 0zm36 0zm16 0zm-523 1zm0 0zm7 0zm434 0zm17 0zm17 0zm16 0zm17 0zm-530 1zm16 0zm23 0zm431 0zm3 0zm2 0zm44 0zm8 0zm18 0zm9 0zm-568 1zm22 0zm29 0zm6 0zm422 0zm15 0zm6 0zm12 0zm35 0zm4 0zm4 0zm6 0zm8 0zm-564 1zm9 0zm3 0zm36 0zm425 0zm49 0zm7 0zm13 0zm21 0zm-574 1zm494 0zm70 0zm5 0zm9 0zm-566 1zm40 0zm21 0zm433 0zm5 0zm2 0zm5 0zm55 0zm7 0zm-528 1zm0 0zm440 0zm12 0zm39 0zm13 0zm3 0zm32 0zm-572 1zm476 0zm91 0zm-563 1zm11 0zm544 0zm-543 1zm7 0zm447 0zm34 0zm15 0zm37 0zm21 0zm-568 1zm4 0zm11 0zm37 0zm422 0zm6 0zm2 0zm31 0zm-517 1zm13 0zm6 0zm437 0zm1 0zm35 0zm14 0zm10 0zm13 0zm7 0zm23 0zm-577 1zm49 0zm33 0zm399 0zm8 0zm4 0zm38 0zm21 0zm17 0zm-574 1zm48 0zm4 0zm436 0zm44 0zm11 0zm12 0zm28 0zm21 0zm6 0zm5 0zm-594 1zm59 0zm414 0zm7 0zm6 0zm17 0zm9 0zm1 0zm4 0zm3 0zm11 0zm3 0zm11 0zm15 0zm-587 1zm4 0zm6 0zm1 0zm16 0zm4 0zm42 0zm2 0zm5 0zm419 0zm3 0zm31 0zm2 0zm13 0zm35 0zm5 0zm11 0zm25 0zm-601 1zm68 0zm392 0zm20 0zm6 0zm6 0zm1 0zm14 0zm7 0zm4 0zm5 0zm-528 1zm51 0zm3 0zm10 0zm413 0zm0 0zm12 0zm19 0zm8 0zm68 0zm8 0zm6 0zm11 0zm12 0zm-612 1zm26 0zm4 0zm432 0zm59 0zm72 0zm-613 1zm52 0zm10 0zm440 0zm3 0zm0 0zm7 0zm85 0zm27 0zm9 0zm-620 1zm465 0zm16 0zm20 0zm22 0zm17 0zm59 0zm-613 1zm5 0zm41 0zm9 0zm3 0zm10 0zm30 0zm384 0zm9 0zm64 0zm0 0zm24 0zm35 0zm-581 1zm23 0zm2 0zm20 0zm3 0zm408 0zm6 0zm6 0zm42 0zm8 0zm20 0zm21 0zm-588 1zm8 0zm4 0zm48 0zm19 0zm12 0zm2 0zm379 0zm4 0zm9 0zm7 0zm80 0zm2 0zm1 0zm16 0zm4 0zm-528 1zm12 0zm4 0zm9 0zm0 0zm461 0zm11 0zm31 0zm-576 1zm14 0zm41 0zm422 0zm76 0zm43 0zm20 0zm-648 1zm48 0zm4 0zm52 0zm398 0zm36 0zm26 0zm6 0zm16 0zm4 0zm31 0zm-619 1zm87 0zm398 0zm18 0zm12 0zm48 0zm60 0zm8 0zm5 0zm4 0zm2 0zm2 0zm3 0zm-636 1zm66 0zm2 0zm3 0zm6 0zm405 0zm76 0zm6 0zm4 0zm23 0zm23 0zm13 0zm-645 1zm24 0zm18 0zm34 0zm430 0zm5 0zm41 0zm5 0zm35 0zm20 0zm8 0zm3 0zm8 0zm15 0zm-605 1zm52 0zm474 0zm8 0zm17 0zm5 0zm30 0zm11 0zm5 0zm-650 1zm14 0zm3 0zm23 0zm16 0zm13 0zm2 0zm16 0zm41 0zm71 0zm307 0zm50 0zm11 0zm30 0zm3 0zm8 0zm5 0zm41 0zm10 0zm-667 1zm13 0zm35 0zm9 0zm50 0zm26 0zm86 0zm4 0zm282 0zm47 0zm27 0zm33 0zm17 0zm6 0zm18 0zm-599 1zm14 0zm1 0zm31 0zm109 0zm7 0zm4 0zm288 0zm10 0zm33 0zm46 0zm23 0zm6 0zm-581 1zm10 0zm57 0zm19 0zm68 0zm7 0zm16 0zm2 0zm297 0zm59 0zm27 0zm17 0zm40 0zm2 0zm-645 1zm18 0zm33 0zm30 0zm107 0zm3 0zm9 0zm1 0zm337 0zm7 0zm24 0zm-574 1zm21 0zm9 0zm10 0zm26 0zm1 0zm24 0zm4 0zm3 0zm4 0zm114 0zm311 0zm18 0zm11 0zm51 0zm3 0zm-604 1zm39 0zm24 0zm151 0zm279 0zm26 0zm37 0zm3 0zm50 0zm3 0zm6 0zm-639 1zm23 0zm4 0zm20 0zm30 0zm-52 1zm20 0zm3 0zm44 0zm24 0zm12 0zm370 0zm4 0zm-466 1zm1 0zm2 0zm93 0zm383 0zm7 0zm1 0zm21 0zm-551 1zm7 0zm51 0zm42 0zm46 0zm471 0zm8 0zm-593 1zm13 0zm1 0zm29 0zm8 0zm3 0zm11 0zm411 0zm44 0zm28 0zm3 0zm-573 1zm3 0zm68 0zm33 0zm426 0zm70 0zm4 0zm-578 1zm514 0zm31 0zm-561 1zm6 0zm9 0zm8 0zm22 0zm39 0zm24 0zm7 0zm5 0zm376 0zm-506 1zm16 0zm47 0zm53 0zm7 0zm381 0zm27 0zm72 0zm67 0zm-616 1zm17 0zm45 0zm6 0zm4 0zm376 0zm-497 1zm15 0zm10 0zm30 0zm1 0zm60 0zm6 0zm-126 1zm8 0zm46 0zm45 0zm39 0zm378 0zm20 0zm22 0zm-562 1zm1 0zm4 0zm17 0zm1 0zm52 0zm43 0zm14 0zm405 0zm23 0zm33 0zm14 0zm-609 1zm42 0zm33 0zm2 0zm30 0zm22 0zm393 0zm64 0zm-588 1zm6 0zm5 0zm30 0zm71 0zm10 0zm15 0zm10 0zm357 0zm15 0zm67 0zm8 0zm7 0zm7 0zm69 0zm-676 1zm19 0zm531 0zm-517 1zm85 0zm28 0zm358 0zm10 0zm16 0zm84 0zm-611 1zm43 0zm35 0zm43 0zm19 0zm369 0zm36 0zm3 0zm25 0zm-567 1zm3 0zm5 0zm19 0zm24 0zm1 0zm432 0zm54 0zm-545 1zm10 0zm26 0zm18 0zm51 0zm20 0zm398 0zm2 0zm15 0zm12 0zm18 0zm26 0zm81 0zm-651 1zm4 0zm14 0zm39 0zm426 0zm3 0zm15 0zm33 0zm-558 1zm59 0zm10 0zm523 0zm-583 1zm33 0zm22 0zm22 0zm11 0zm35 0zm1 0zm8 0zm-122 1zm27 0zm30 0zm32 0zm421 0zm87 0zm-574 1zm47 0zm46 0zm368 0zm-489 1zm4 0zm61 0zm14 0zm427 0zm-448 1zm60 0zm9 0zm541 0zm-579 1zm22 0zm391 0zm57 0zm4 0zm41 0zm-596 1zm16 0zm18 0zm40 0zm47 0zm5 0zm2 0zm367 0zm77 0zm-551 1zm6 0zm42 0zm0 0zm25 0zm0 0zm10 0zm23 0zm4 0zm402 0zm58 0zm69 0zm-675 1zm1 0zm1 0zm3 0zm33 0zm20 0zm13 0zm37 0zm14 0zm30 0zm2 0zm341 0zm41 0zm71 0zm-591 1zm4 0zm28 0zm25 0zm21 0zm6 0zm7 0zm1 0zm426 0zm4 0zm-532 1zm33 0zm12 0zm61 0zm1 0zm454 0zm36 0zm0 0zm-564 1zm24 0zm386 0zm87 0zm47 0zm12 0zm5 0zm-591 1zm1 0zm52 0zm36 0zm56 0zm350 0zm100 0zm77 0zm-675 1zm10 0zm14 0zm10 0zm13 0zm6 0zm10 0zm88 0zm439 0zm-580 1zm18 0zm4 0zm86 0zm13 0zm20 0zm339 0zm6 0zm10 0zm14 0zm31 0zm23 0zm6 0zm24 0zm19 0zm15 0zm29 0zm-629 1zm20 0zm49 0zm17 0zm390 0zm77 0zm7 0zm17 0zm32 0zm9 0zm-569 1zm10 0zm30 0zm7 0zm0 0zm10 0zm514 0zm-655 1zm4 0zm29 0zm14 0zm39 0zm500 0zm-579 1zm0 0zm16 0zm18 0zm11 0zm76 0zm17 0zm414 0zm19 0zm15 0zm39 0zm23 0zm-649 1zm5 0zm22 0zm10 0zm31 0zm5 0zm12 0zm10 0zm40 0zm15 0zm343 0zm39 0zm11 0zm19 0zm11 0zm65 0zm11 0zm-646 1zm13 0zm16 0zm9 0zm12 0zm8 0zm433 0zm2 0zm41 0zm24 0zm9 0zm7 0zm13 0zm43 0zm38 0zm-673 1zm13 0zm64 0zm14 0zm4 0zm6 0zm1 0zm383 0zm-487 1zm38 0zm37 0zm21 0zm3 0zm16 0zm370 0zm25 0zm1 0zm18 0zm-472 1zm47 0zm0 0zm31 0zm516 0zm18 0zm-597 1zm26 0zm51 0zm419 0zm13 0zm7 0zm93 0zm-642 1zm3 0zm34 0zm46 0zm5 0zm397 0zm10 0zm55 0zm88 0zm-664 1zm12 0zm10 0zm9 0zm28 0zm31 0zm481 0zm83 0zm-516 1zm12 0zm369 0zm34 0zm13 0zm6 0zm1 0zm2 0zm-566 1zm19 0zm15 0zm28 0zm11 0zm10 0zm469 0zm13 0zm-576 1zm23 0zm51 0zm1 0zm10 0zm33 0zm443 0zm8 0zm2 0zm13 0zm3 0zm-557 1zm8 0zm12 0zm17 0zm27 0zm6 0zm8 0zm199 0zm50 0zm191 0zm7 0zm-497 1zm28 0zm67 0zm382 0zm32 0zm4 0zm4 0zm3 0zm1 0zm90 0zm-621 1zm54 0zm44 0zm209 0zm16 0zm186 0zm3 0zm4 0zm89 0zm-620 1zm34 0zm195 0zm42 0zm52 0zm183 0zm8 0zm10 0zm7 0zm11 0zm8 0zm72 0zm20 0zm-607 1zm4 0zm4 0zm31 0zm182 0zm1 0zm82 0zm169 0zm100 0zm-631 1zm46 0zm220 0zm2 0zm2 0zm12 0zm10 0zm54 0zm2 0zm183 0zm14 0zm9 0zm6 0zm4 0zm1 0zm9 0zm74 0zm10 0zm-576 1zm65 0zm373 0zm17 0zm-499 1zm104 0zm125 0zm13 0zm14 0zm13 0zm253 0zm7 0zm-534 1zm27 0zm216 0zm8 0zm3 0zm1 0zm236 0zm6 0zm7 0zm10 0zm10 0zm2 0zm4 0zm-529 1zm228 0zm15 0zm10 0zm11 0zm6 0zm12 0zm228 0zm-477 1zm203 0zm25 0zm11 0zm16 0zm221 0zm9 0zm6 0zm4 0zm98 0zm-648 1zm37 0zm6 0zm8 0zm21 0zm175 0zm3 0zm13 0zm1 0zm2 0zm4 0zm8 0zm8 0zm9 0zm3 0zm204 0zm11 0zm22 0zm103 0zm-384 1zm6 0zm11 0zm8 0zm7 0zm0 0zm51 0zm5 0zm12 0zm197 0zm2 0zm3 0zm88 0zm-626 1zm227 0zm10 0zm8 0zm10 0zm0 0zm1 0zm1 0zm15 0zm4 0zm6 0zm30 0zm12 0zm206 0zm78 0zm-378 1zm12 0zm5 0zm2 0zm4 0zm1 0zm2 0zm1 0zm5 0zm2 0zm1 0zm4 0zm3 0zm10 0zm24 0zm25 0zm7 0zm2 0zm152 0zm2 0zm1 0zm1 0zm8 0zm13 0zm16 0zm-300 1zm0 0zm6 0zm1 0zm7 0zm6 0zm5 0zm3 0zm1 0zm3 0zm28 0zm21 0zm2 0zm191 0zm20 0zm88 0zm-563 1zm186 0zm7 0zm3 0zm8 0zm1 0zm0 0zm5 0zm64 0zm3 0zm8 0zm146 0zm28 0zm8 0zm1 0zm3 0zm2 0zm7 0zm2 0zm-550 1zm61 0zm10 0zm177 0zm2 0zm1 0zm1 0zm3 0zm8 0zm2 0zm14 0zm12 0zm6 0zm20 0zm44 0zm156 0zm111 0zm-603 1zm19 0zm14 0zm3 0zm200 0zm15 0zm3 0zm7 0zm3 0zm6 0zm62 0zm146 0zm9 0zm23 0zm108 0zm-573 1zm179 0zm4 0zm4 0zm16 0zm1 0zm2 0zm0 0zm7 0zm6 0zm0 0zm4 0zm12 0zm2 0zm6 0zm21 0zm5 0zm171 0zm1 0zm7 0zm14 0zm14 0zm-534 1zm14 0zm39 0zm217 0zm13 0zm20 0zm20 0zm32 0zm137 0zm3 0zm11 0zm10 0zm7 0zm1 0zm3 0zm6 0zm0 0zm91 0zm-611 1zm48 0zm187 0zm7 0zm41 0zm15 0zm4 0zm183 0zm7 0zm7 0zm-486 1zm35 0zm192 0zm6 0zm2 0zm0 0zm5 0zm24 0zm5 0zm17 0zm5 0zm175 0zm1 0zm18 0zm9 0zm100 0zm-612 1zm7 0zm216 0zm14 0zm3 0zm14 0zm2 0zm0 0zm1 0zm43 0zm13 0zm27 0zm149 0zm18 0zm9 0zm-510 1zm217 0zm11 0zm1 0zm11 0zm9 0zm91 0zm153 0zm19 0zm1 0zm-272 1zm3 0zm15 0zm46 0zm6 0zm155 0zm23 0zm3 0zm23 0zm90 0zm-580 1zm14 0zm192 0zm10 0zm1 0zm39 0zm49 0zm159 0zm2 0zm5 0zm106 0zm-353 1zm86 0zm1 0zm1 0zm10 0zm122 0zm22 0zm6 0zm8 0zm-485 1zm20 0zm217 0zm2 0zm82 0zm132 0zm-436 1zm11 0zm12 0zm175 0zm15 0zm4 0zm7 0zm2 0zm0 0zm15 0zm21 0zm18 0zm24 0zm15 0zm115 0zm3 0zm3 0zm1 0zm21 0zm2 0zm-463 1zm0 0zm187 0zm14 0zm12 0zm21 0zm17 0zm60 0zm3 0zm108 0zm7 0zm6 0zm11 0zm19 0zm10 0zm-491 1zm14 0zm200 0zm2 0zm30 0zm24 0zm22 0zm32 0zm3 0zm115 0zm19 0zm3 0zm15 0zm11 0zm-512 1zm7 0zm236 0zm52 0zm0 0zm8 0zm24 0zm20 0zm117 0zm2 0zm3 0zm2 0zm12 0zm22 0zm1 0zm1 0zm-483 1zm5 0zm21 0zm208 0zm43 0zm0 0zm11 0zm15 0zm31 0zm1 0zm103 0zm3 0zm2 0zm17 0zm20 0zm-455 1zm8 0zm192 0zm89 0zm3 0zm7 0zm134 0zm-211 1zm22 0zm164 0zm20 0zm13 0zm3 0zm3 0zm10 0zm1 0zm-494 1zm1 0zm37 0zm232 0zm19 0zm2 0zm174 0zm3 0zm1 0zm8 0zm6 0zm8 0zm-446 1zm5 0zm243 0zm8 0zm33 0zm1 0zm108 0zm6 0zm10 0zm31 0zm-487 1zm25 0zm4 0zm14 0zm9 0zm221 0zm23 0zm2 0zm11 0zm13 0zm2 0zm3 0zm2 0zm138 0zm16 0zm-451 1zm12 0zm259 0zm34 0zm101 0zm13 0zm13 0zm-424 1zm2 0zm274 0zm7 0zm3 0zm1 0zm12 0zm6 0zm37 0zm34 0zm19 0zm11 0zm7 0zm14 0zm9 0zm-462 1zm39 0zm269 0zm6 0zm5 0zm3 0zm1 0zm1 0zm2 0zm0 0zm1 0zm3 0zm3 0zm64 0zm6 0zm28 0zm21 0zm1 0zm-497 1zm86 0zm277 0zm2 0zm5 0zm55 0zm7 0zm18 0zm0 0zm0 0zm20 0zm13 0zm1 0zm11 0zm3 0zm4 0zm0 0zm1 0zm-444 1zm17 0zm259 0zm12 0zm2 0zm3 0zm2 0zm15 0zm3 0zm48 0zm32 0zm23 0zm3 0zm-426 1zm296 0zm12 0zm0 0zm1 0zm6 0zm16 0zm25 0zm30 0zm35 0zm4 0zm24 0zm-449 1zm298 0zm30 0zm107 0zm-436 1zm8 0zm328 0zm88 0zm-404 1zm6 0zm349 0zm45 0zm5 0zm2 0zm3 0zm6 0zm-17 1zm0 0zm14 0zm14 0zm-19 1zm5 0zm-430 1zm198 0zm216 0zm4 0zm-218 1zm223 0zm2 0zm-416 1zm7 1zm7 0zm175 0zm165 0zm-354 1zm17 0zm166 0zm182 0zm44 0zm-197 1zm146 0zm-362 1zm54 0zm316 0zm-282 1zm89 0zm-163 1zm3 0zm4 0zm10 0zm27 0zm10 0zm108 0zm3 0zm19 0zm10 0zm-267 1zm270 0zm-188 1zm-8 1zm11 0zm5 0zm-15 1zm44 0zm149 0zm-173 1zm32 0zm105 0zm299 0zm-443 1zm128 0zm317 0zm-352 1zm-101 1zm121 0zm83 0zm-206 1zm41 0zm13 0zm36 0zm365 0zm-414 1zm173 0zm-219 1zm26 0zm446 0zm-473 1zm470 0zm8 0zm-454 1zm33 0zm3 0zm417 0zm9 1zm2 0zm-477 1zm24 0zm445 0zm3 0zm0 0zm-437 1zm258 0zm183 0zm-480 1zm472 0zm-544 1zm80 0zm474 0zm-477 1zm4 0zm218 0zm255 0zm-568 1zm92 0zm172 1zm-164 1zm9 0zm41 0zm-23 2zm64 1zm-92 1zm2 0zm23 0zm-17 1zm-10 4zm215 0zm-21 1zm32 2zm-15 1zm151 0zm-18 1zm4 0zm-4 2zm15 0zm-110 2zm109 0zm2 0zm2 0zm-23 2zm8 0zm-122 1zm144 0zm-239 1zm95 0zm116 0zm2 0zm2 0zm-228 2zm113 0zm128 0zm12 0zm-20 1zm10 0zm-8 1zm-295 1zm311 0zm4 0zm-176 1zm38 0zm110 0zm2 0zm10 0zm0 0zm-312 1zm328 0zm-338 1zm195 0zm129 0zm8 0zm-353 1zm206 0zm123 0zm19 0zm-17 1zm25 0zm-121 1zm93 0zm-243 1zm269 0zm-354 1zm141 0zm9 0zm66 0zm15 0zm117 0zm-257 1zm38 0zm212 0zm16 0zm-207 1zm76 0zm105 0zm-156 1zm39 0zm12 0zm107 0zm20 0zm7 0zm-372 1zm196 0zm5 1zm14 0zm10 0zm123 0zm14 0zm2 0zm5 0zm-271 1zm40 0zm1 0zm82 0zm144 0zm-130 1zm6 0zm109 0zm20 0zm2 0zm1 0zm-300 1zm65 0zm93 0zm131 0zm10 0zm-211 1zm36 0zm17 1zm146 0zm-260 1zm35 0zm67 0zm16 0zm135 0zm-184 1zm43 0zm2 0zm32 0zm15 0zm100 0zm2 0zm-300 1zm42 0zm73 0zm31 0zm8 0zm9 0zm20 0zm14 0zm91 0zm5 0zm-261 1zm115 0zm30 0zm124 0zm11 0zm-257 1zm115 0zm140 0zm-258 1zm27 0zm62 0zm1 0zm6 0zm-135 1zm82 0zm3 0zm7 0zm45 0zm11 0zm4 0zm120 0zm2 0zm33 0zm-222 1zm4 0zm174 0zm7 0zm11 0zm-287 1zm30 0zm17 0zm31 0zm50 0zm-39 1zm29 0zm74 0zm105 0zm-203 1zm1 0zm23 0zm10 0zm13 0zm5 0zm36 0zm63 0zm-231 1zm79 0zm65 0zm82 0zm19 0zm37 0zm2 0zm3 0zm-287 1zm31 0zm42 0zm6 0zm2 0zm20 0zm62 0zm26 0zm87 0zm5 0zm-300 1zm33 0zm228 0zm4 0zm-242 1zm2 0zm3 0zm70 0zm70 0zm27 0zm25 0zm56 0zm6 0zm9 0zm-277 1zm10 0zm10 0zm2 0zm10 0zm49 0zm69 0zm136 0zm3 0zm-292 1zm19 0zm14 0zm11 0zm132 0zm11 0zm50 0zm2 0zm0 0zm21 0zm26 0zm-444 1zm160 0zm29 0zm4 0zm144 0zm80 0zm6 0zm14 0zm26 0zm-305 1zm15 0zm9 0zm136 0zm23 0zm77 0zm0 0zm43 0zm-183 1zm21 0zm32 0zm75 0zm30 0zm21 0zm-507 1zm224 0zm1 0zm11 0zm8 0zm104 0zm6 0zm35 0zm31 0zm69 0zm-483 1zm205 0zm170 0zm18 0zm79 0zm9 0zm5 0zm-478 1zm16 0zm191 0zm36 0zm1 0zm10 0zm124 0zm93 0zm7 0zm14 0zm2 0zm-521 1zm211 0zm64 0zm3 0zm55 0zm45 0zm24 0zm19 0zm56 0zm38 0zm5 0zm2 0zm-505 1zm12 0zm178 0zm151 0zm8 0zm34 0zm64 0zm3 0zm-453 1zm25 0zm4 0zm1 0zm5 0zm147 0zm107 0zm77 0zm22 0zm17 0zm89 0zm9 0zm-534 1zm1 0zm25 0zm25 0zm62 0zm147 0zm109 0zm56 0zm1 0zm5 0zm99 0zm-518 1zm17 0zm17 0zm17 0zm11 0zm35 0zm94 0zm57 0zm7 0zm116 0zm140 0zm10 0zm-501 1zm20 0zm31 0zm177 0zm12 0zm0 0zm49 0zm67 0zm78 0zm44 0zm-492 1zm18 0zm3 0zm84 0zm80 0zm67 0zm173 0zm27 0zm46 0zm1 0zm-518 1zm4 0zm13 0zm19 0zm10 0zm58 0zm8 0zm90 0zm13 0zm55 0zm5 0zm8 0zm176 0zm-449 1zm13 0zm17 0zm33 0zm11 0zm120 0zm81 0zm7 0zm29 0zm4 0zm33 0zm146 0zm13 0zm-497 1zm8 0zm5 0zm14 0zm21 0zm24 0zm15 0zm8 0zm6 0zm11 0zm147 0zm120 0zm15 0zm44 0zm-462 1zm11 0zm25 0zm11 0zm59 0zm24 0zm20 0zm34 0zm76 0zm31 0zm1 0zm126 0zm3 0zm8 0zm19 0zm5 0zm9 0zm1 0zm-438 1zm38 0zm4 0zm20 0zm6 0zm8 0zm2 0zm28 0zm2 0zm44 0zm7 0zm5 0zm108 0zm2 0zm80 0zm25 0zm44 0zm1 0zm95 0zm-543 1zm24 0zm4 0zm14 0zm6 0zm19 0zm65 0zm24 0zm2 0zm137 0zm9 0zm4 0zm59 0zm81 0zm5 0zm-448 1zm8 0zm46 0zm30 0zm21 0zm10 0zm26 0zm13 0zm140 0zm0 0zm18 0zm41 0zm14 0zm68 0zm125 0zm-543 1zm6 0zm39 0zm55 0zm0 0zm4 0zm0 0zm6 0zm2 0zm113 0zm32 0zm29 0zm5 0zm3 0zm1 0zm115 0zm-416 1zm13 0zm8 0zm5 0zm59 0zm30 0zm14 0zm114 0zm50 0zm63 0zm48 0zm4 0zm11 0zm114 0zm12 0zm-574 1zm3 0zm50 0zm1 0zm19 0zm14 0zm269 0zm74 0zm12 0zm0 0zm-430 1zm50 0zm9 0zm28 0zm11 0zm237 0zm10 0zm2 0zm56 0zm10 0zm149 0zm-556 1zm0 0zm0 0zm2 0zm12 0zm22 0zm5 0zm1 0zm22 0zm4 0zm5 0zm24 0zm3 0zm242 0zm2 0zm35 0zm22 0zm10 0zm1 0zm135 0zm6 0zm-567 1zm15 0zm10 0zm4 0zm2 0zm13 0zm21 0zm14 0zm4 0zm227 0zm2 0zm58 0zm32 0zm32 0zm122 0zm3 0zm9 0zm-575 1zm2 0zm35 0zm59 0zm25 0zm1 0zm13 0zm162 0zm93 0zm36 0zm-404 1zm24 0zm29 0zm6 0zm4 0zm14 0zm299 0zm4 0zm5 0zm11 0zm162 0zm6 0zm-583 1zm17 0zm1 0zm36 0zm9 0zm2 0zm52 0zm10 0zm278 0zm177 0zm-571 1zm44 0zm10 0zm6 0zm2 0zm31 0zm1 0zm22 0zm184 0zm-193 1zm7 0zm7 0zm0 0zm-108 1zm70 0zm3 0zm2 0zm476 0zm-579 1zm3 0zm34 0zm46 0zm1 0zm17 0zm4 0zm7 0zm19 0zm256 0zm197 0zm0 0zm-576 1zm2 0zm9 0zm10 0zm48 0zm277 0zm220 0zm2 0zm5 0zm2 0zm1 0zm-582 1zm118 0zm171 0zm31 0zm11 0zm240 0zm14 0zm-539 1zm10 0zm5 0zm39 0zm0 0zm289 0zm0 0zm185 0zm-570 1zm6 0zm49 0zm17 0zm5 0zm256 0zm10 0zm36 0zm-323 1zm8 0zm1 0zm0 0zm31 0zm248 0zm71 0zm160 0zm-541 1zm43 0zm274 0zm-348 1zm9 0zm26 0zm74 0zm14 0zm256 0zm188 0zm-574 1zm8 0zm6 0zm40 0zm57 0zm464 0zm-500 1zm1 0zm227 0zm30 0zm6 0zm-315 1zm30 0zm42 0zm326 0zm-415 1zm0 0zm34 0zm71 0zm191 0zm1 0zm10 0zm-312 1zm22 0zm2 0zm8 0zm13 0zm24 0zm267 0zm13 0zm16 0zm58 0zm-408 1zm12 0zm11 0zm3 0zm12 0zm4 0zm38 0zm102 0zm226 0zm140 0zm-561 1zm8 0zm23 0zm9 0zm22 0zm28 0zm248 0zm5 0zm0 0zm-340 1zm13 0zm4 0zm76 0zm9 0zm15 0zm201 0zm32 0zm-353 1zm3 0zm4 0zm15 0zm48 0zm31 0zm0 0zm11 0zm214 0zm19 0zm215 0zm-552 1zm30 0zm0 0zm19 0zm4 0zm34 0zm20 0zm215 0zm3 0zm91 0zm-429 1zm21 0zm2 0zm5 0zm27 0zm12 0zm9 0zm233 0zm-310 1zm15 0zm42 0zm31 0zm5 0zm114 0zm155 0zm-363 1zm23 0zm22 0zm29 0zm2 0zm2 0zm4 0zm7 0zm12 0zm-38 1zm15 0zm7 0zm5 0zm10 0zm-81 1zm2 0zm35 0zm4 0zm30 0zm6 0zm15 0zm3 0zm-107 1zm2 0zm6 0zm58 0zm19 0zm1 0zm122 0zm347 0zm-542 1zm33 0zm11 0zm5 0zm7 0zm8 0zm17 0zm-96 1zm22 0zm42 0zm5 0zm1 0zm4 0zm36 0zm77 0zm-180 1zm7 0zm12 0zm49 0zm4 0zm2 0zm20 0zm-97 1zm20 0zm8 0zm8 0zm4 0zm12 0zm20 0zm-45 1zm15 0zm8 0zm12 0zm142 0zm1 0zm1 0zm-209 1zm32 0zm13 0zm8 0zm-42 1zm1 0zm11 0zm55 0zm-55 1zm0 0zm10 0zm9 0zm8 0zm50 0zm312 0zm44 0zm-451 1zm33 0zm10 0zm8 0zm5 0zm23 0zm331 0zm31 0zm102 0zm-514 1zm13 0zm20 0zm382 0zm-444 1zm32 0zm13 0zm9 0zm30 0zm341 0zm-415 1zm19 0zm37 0zm407 0zm-475 1zm52 0zm7 0zm11 0zm148 0zm230 0zm29 0zm-473 1zm4 0zm2 0zm7 0zm42 0zm394 0zm-430 1zm6 0zm8 0zm388 0zm56 0zm-434 1zm5 0zm4 0zm6 0zm-53 1zm1 0zm4 0zm31 0zm19 0zm-52 1zm8 0zm0 0zm3 0zm0 0zm421 0zm2 0zm37 0zm3 0zm-452 1zm409 0zm3 0zm1 0zm47 0zm-440 1zm167 0zm18 0zm191 0zm14 0zm85 0zm-523 1zm14 0zm25 0zm402 0zm78 0zm-291 1zm206 0zm2 0zm60 0zm18 0zm-498 1zm7 0zm13 0zm402 0zm-209 1zm6 0zm1 0zm127 0zm76 0zm-421 1zm10 0zm386 0zm85 0zm-258 1zm116 0zm160 1zm0 0zm-500 1zm426 0zm67 0zm3 0zm0 0zm-275 1zm271 0zm1 0zm-265 1zm264 0zm4 0zm-275 1zm10 0zm194 0zm65 0zm5 0zm-266 1zm183 0zm71 0zm6 0zm1 0zm-62 2zm62 0zm-259 1zm204 0zm48 1zm-52 1zm49 0zm-234 2zm174 0zm13 0zm44 0zm-48 1zm46 1zm2 0zm-5 1zm-227 1zm233 0zm-146 1zm3 0zm139 0zm-1 1zm-101 1zm9 1zm3 0zm35 0zm9 0zm-41 1zm50 0zm-121 1zm73 0zm79 0zm2 0zm0 0zm-199 1zm128 0zm35 0zm-128 1zm132 2zm23 0zm-40 1zm-5 2zm41 0zm7 1zm-55 1zm19 1zm5 1zm18 0zm-24 1zm2 0zm-147 1zm-30 1zm40 0zm137 0zm8 0zm-159 2zm-11 1zm-9 1zm35 1zm7 2zm-47 2zm24 1zm18 1zm-11 1zm-33 2zm12 2zm38 0zm-22 1zm17 0zm-52 2zm57 0zm-1 1zm-3 1zm41 0zm-49 1zm12 0zm1 0zm32 1zm-30 1zm-48 1zm48 1zm1 0zm43 0zm-67 2zm16 0zm18 0zm4 0zm12 0zm1 0zm13 0zm-40 1zm12 0zm28 0zm12 0zm-58 1zm22 0zm13 0zm18 1zm5 0zm-125 1zm26 0zm63 0zm33 0zm9 0zm-130 1zm13 0zm68 0zm-2 1zm1 0zm21 0zm17 0zm-75 1zm42 0zm11 0zm-89 1zm12 0zm90 0zm-90 1zm67 0zm-92 2zm93 0zm1 0zm36 0zm-131 1zm28 0zm2 0zm17 0zm46 0zm37 0zm-129 1zm18 0zm116 1zm1 0zm2 0zm0 0zm-130 1zm22 0zm20 0zm9 0zm37 0zm3 0zm0 0zm-87 1zm87 0zm5 0zm24 0zm-31 1zm16 0zm-113 1zm37 0zm59 0zm-105 1zm16 0zm1 0zm21 0zm78 0zm-8 1zm5 0zm25 0zm10 0zm-137 1zm-12 1zm11 0zm18 0zm88 0zm24 0zm-24 1zm22 0zm-137 1zm112 0zm11 0zm6 0zm4 0zm2 0zm-99 1zm92 0zm10 0zm-137 1zm3 0zm32 0zm5 0zm-23 1zm9 0zm1 0zm5 0zm11 0zm79 0zm7 0zm-130 1zm11 0zm3 1zm95 0zm17 0zm-128 1zm15 0zm17 0zm3 0zm13 0zm-20 1zm21 0zm-49 1zm31 0zm5 0zm-20 2zm2 0zm105 0zm-110 1zm23 0zm87 0zm1 0zm-117 1zm107 1zm1 1zm-74 1zm-39 1zm27 0zm-28 1zm2 0zm7 0zm100 0zm6 0zm-88 1zm19 0zm65 0zm-42 1zm39 0zm-88 1zm9 0zm9 0zm4 0zm29 0zm-27 1zm48 0zm0 0zm-71 1zm17 0zm1 0zm40 0zm16 0zm11 0zm6 0zm-39 1zm1 0zm-58 1zm61 0zm23 0zm-90 1zm8 0zm17 0zm33 0zm25 0zm1 0zm-79 1zm7 0zm44 0zm13 0zm6 0zm2 0zm9 0zm7 0zm-90 1zm18 0zm10 0zm10 0zm5 0zm4 0zm34 0zm1 0zm5 0zm-8 1zm5 0zm10 0zm-65 1zm5 0zm1 0zm-1 1zm-22 1zm82 0zm-27 1zm-45 1zm-8 1z" stroke="#F8766D"/><path d="M1766 119zm4 4zm8 0zm3 0zm13 0zm4 0zm-16 1zm2 0zm-18 1zm32 0zm-56 1zm14 0zm7 0zm2 0zm-6 2zm26 0zm22 0zm-520 1zm512 0zm13 0zm-67 1zm45 0zm13 0zm-526 1zm479 0zm2 0zm56 0zm3 0zm1 0zm-537 1zm491 0zm1 0zm19 0zm17 0zm6 0zm-555 1zm2 0zm549 0zm-515 1zm437 1zm58 0zm-527 1zm19 0zm16 0zm1 0zm434 0zm7 0zm-443 1zm3 0zm440 0zm11 0zm51 0zm-541 1zm25 0zm4 0zm441 0zm27 0zm24 0zm-493 1zm478 0zm6 0zm6 0zm6 0zm8 0zm4 0zm-63 1zm24 0zm14 0zm19 0zm19 0zm9 0zm-564 1zm14 0zm10 0zm3 0zm2 0zm23 0zm4 0zm441 0zm54 0zm7 0zm-549 1zm18 0zm28 0zm5 0zm414 0zm7 0zm31 0zm1 0zm52 0zm0 0zm-568 1zm47 0zm457 0zm19 0zm3 0zm42 0zm7 0zm-518 1zm468 0zm4 0zm12 0zm11 0zm-504 1zm8 0zm441 0zm75 0zm-546 1zm25 0zm428 0zm8 0zm64 0zm6 0zm8 0zm-560 1zm2 0zm6 0zm10 0zm9 0zm462 0zm3 0zm5 0zm24 0zm25 0zm20 0zm25 0zm-588 1zm7 0zm8 0zm13 0zm7 0zm447 0zm47 0zm1 0zm19 0zm16 0zm-575 1zm34 0zm499 0zm60 0zm11 0zm-601 1zm7 0zm6 0zm1 0zm26 0zm3 0zm9 0zm426 0zm8 0zm31 0zm21 0zm4 0zm-551 1zm3 0zm54 0zm19 0zm10 0zm405 0zm15 0zm27 0zm0 0zm26 0zm25 0zm-584 1zm40 0zm20 0zm18 0zm415 0zm44 0zm21 0zm-522 1zm10 0zm7 0zm436 0zm9 0zm1 0zm6 0zm13 0zm5 0zm8 0zm3 0zm51 0zm15 0zm-598 1zm12 0zm29 0zm14 0zm12 0zm421 0zm53 0zm19 0zm-558 1zm20 0zm1 0zm35 0zm13 0zm458 0zm20 0zm13 0zm-541 1zm10 0zm27 0zm-70 1zm25 0zm54 0zm415 0zm10 0zm5 0zm6 0zm7 0zm59 0zm9 0zm-589 1zm34 0zm41 0zm22 0zm5 0zm412 0zm67 0zm36 0zm-617 1zm32 0zm10 0zm8 0zm453 0zm9 0zm7 0zm3 0zm14 0zm3 0zm33 0zm11 0zm26 0zm-603 1zm36 0zm48 0zm401 0zm158 0zm-605 1zm9 0zm13 0zm2 0zm3 0zm444 0zm34 0zm30 0zm48 0zm24 0zm-593 1zm19 0zm34 0zm385 0zm34 0zm122 0zm-650 1zm61 0zm441 0zm3 0zm0 0zm1 0zm5 0zm21 0zm2 0zm13 0zm5 0zm4 0zm23 0zm3 0zm8 0zm8 0zm51 0zm-647 1zm18 0zm10 0zm24 0zm15 0zm29 0zm11 0zm396 0zm59 0zm65 0zm18 0zm-646 1zm0 0zm20 0zm20 0zm6 0zm2 0zm13 0zm30 0zm425 0zm29 0zm2 0zm17 0zm53 0zm25 0zm3 0zm-613 1zm5 0zm9 0zm7 0zm1 0zm21 0zm20 0zm403 0zm18 0zm16 0zm1 0zm3 0zm60 0zm35 0zm23 0zm1 0zm-661 1zm42 0zm8 0zm35 0zm12 0zm398 0zm0 0zm13 0zm17 0zm12 0zm24 0zm89 0zm-590 1zm38 0zm402 0zm11 0zm27 0zm23 0zm23 0zm66 0zm-657 1zm40 0zm451 0zm1 0zm104 0zm14 0zm13 0zm33 0zm-645 1zm5 0zm2 0zm2 0zm8 0zm36 0zm4 0zm4 0zm30 0zm2 0zm414 0zm34 0zm9 0zm-538 1zm24 0zm37 0zm408 0zm28 0zm21 0zm2 0zm33 0zm7 0zm13 0zm7 0zm-593 1zm59 0zm2 0zm50 0zm387 0zm48 0zm46 0zm-603 1zm6 0zm32 0zm21 0zm2 0zm10 0zm56 0zm8 0zm359 0zm11 0zm2 0zm6 0zm49 0zm7 0zm26 0zm66 0zm-648 1zm22 0zm3 0zm15 0zm15 0zm12 0zm37 0zm5 0zm369 0zm5 0zm92 0zm-570 1zm38 0zm10 0zm4 0zm52 0zm7 0zm-131 1zm7 0zm25 0zm27 0zm51 0zm30 0zm457 0zm29 0zm0 0zm-588 1zm7 0zm43 0zm6 0zm399 0zm50 0zm35 0zm11 0zm21 0zm-603 1zm26 0zm5 0zm10 0zm7 0zm462 0zm70 0zm-584 1zm6 0zm10 0zm4 0zm0 0zm86 0zm25 0zm-126 1zm12 0zm51 0zm28 0zm396 0zm68 0zm39 0zm13 0zm-600 1zm18 0zm4 0zm30 0zm418 0zm4 0zm5 0zm30 0zm6 0zm-499 1zm82 0zm0 0zm25 0zm4 0zm365 0zm20 0zm67 0zm79 0zm-666 1zm30 0zm28 0zm9 0zm4 0zm48 0zm9 0zm347 0zm0 0zm4 0zm3 0zm1 0zm12 0zm59 0zm-545 1zm2 0zm39 0zm1 0zm7 0zm16 0zm12 0zm13 0zm6 0zm17 0zm349 0zm6 0zm8 0zm0 0zm181 0zm-664 1zm32 0zm7 0zm5 0zm23 0zm6 0zm27 0zm10 0zm18 0zm350 0zm0 0zm43 0zm28 0zm45 0zm-598 1zm10 0zm21 0zm33 0zm11 0zm48 0zm8 0zm399 0zm-525 1zm42 0zm17 0zm5 0zm12 0zm26 0zm406 0zm77 0zm5 0zm-539 1zm3 0zm59 0zm445 0zm-524 1zm5 0zm48 0zm3 0zm41 0zm10 0zm373 0zm-479 1zm25 0zm33 0zm20 0zm15 0zm347 0zm22 0zm97 0zm-519 1zm19 0zm38 0zm6 0zm345 0zm15 0zm18 0zm45 0zm17 0zm-578 1zm0 0zm3 0zm11 0zm1 0zm39 0zm15 0zm2 0zm58 0zm337 0zm8 0zm8 0zm22 0zm2 0zm25 0zm-531 1zm15 0zm10 0zm1 0zm477 0zm4 0zm30 0zm-494 1zm95 0zm352 0zm14 0zm7 0zm29 0zm-517 1zm28 0zm2 0zm36 0zm2 0zm9 0zm6 0zm14 0zm23 0zm366 0zm3 0zm0 0zm-476 1zm-23 1zm54 0zm6 0zm396 0zm53 0zm48 0zm-528 1zm38 0zm5 0zm1 0zm381 0zm31 0zm74 0zm30 0zm-594 1zm1 0zm0 0zm4 0zm26 0zm56 0zm4 0zm4 0zm9 0zm17 0zm341 0zm-467 1zm2 0zm34 0zm6 0zm0 0zm18 0zm36 0zm16 0zm24 0zm2 0zm385 0zm57 0zm88 0zm-650 1zm9 0zm10 0zm25 0zm73 0zm13 0zm305 0zm8 0zm33 0zm19 0zm7 0zm60 0zm-570 1zm30 0zm27 0zm23 0zm3 0zm15 0zm7 0zm25 0zm6 0zm406 0zm16 0zm26 0zm7 0zm-599 1zm14 0zm31 0zm13 0zm5 0zm3 0zm15 0zm33 0zm19 0zm4 0zm12 0zm303 0zm10 0zm39 0zm11 0zm7 0zm34 0zm-546 1zm12 0zm4 0zm9 0zm23 0zm84 0zm316 0zm6 0zm37 0zm1 0zm64 0zm-507 1zm2 0zm8 0zm25 0zm18 0zm3 0zm14 0zm332 0zm44 0zm-470 1zm0 0zm7 0zm6 0zm11 0zm5 0zm28 0zm22 0zm2 0zm336 0zm76 0zm4 0zm-459 1zm27 0zm11 0zm5 0zm2 0zm334 0zm2 0zm93 0zm50 0zm5 0zm-580 1zm74 0zm12 0zm19 0zm321 0zm2 0zm4 0zm11 0zm73 0zm9 0zm-529 1zm38 0zm33 0zm6 0zm16 0zm11 0zm477 0zm-544 1zm3 0zm25 0zm19 0zm7 0zm1 0zm9 0zm334 0zm2 0zm64 0zm38 0zm3 0zm-528 1zm11 0zm33 0zm13 0zm3 0zm36 0zm0 0zm19 0zm359 0zm40 0zm115 0zm-620 1zm18 0zm16 0zm0 0zm45 0zm20 0zm19 0zm279 0zm11 0zm104 0zm40 0zm-559 1zm20 0zm24 0zm15 0zm27 0zm10 0zm14 0zm10 0zm296 0zm9 0zm82 0zm41 0zm-557 1zm14 0zm22 0zm11 0zm30 0zm10 0zm7 0zm23 0zm6 0zm7 0zm294 0zm65 0zm1 0zm82 0zm-582 1zm2 0zm1 0zm1 0zm15 0zm5 0zm17 0zm6 0zm35 0zm6 0zm7 0zm1 0zm332 0zm6 0zm1 0zm105 0zm46 0zm7 0zm-580 1zm34 0zm7 0zm1 0zm17 0zm363 0zm71 0zm16 0zm30 0zm-553 1zm1 0zm9 0zm12 0zm10 0zm52 0zm1 0zm54 0zm9 0zm279 0zm4 0zm-389 1zm12 0zm10 0zm31 0zm37 0zm371 0zm34 0zm18 0zm8 0zm6 0zm15 0zm-540 1zm35 0zm17 0zm14 0zm18 0zm8 0zm1 0zm508 0zm-517 1zm293 0zm4 0zm9 0zm49 0zm66 0zm-544 1zm3 0zm29 0zm21 0zm44 0zm45 0zm398 0zm124 0zm-661 1zm8 0zm45 0zm27 0zm4 0zm2 0zm51 0zm7 0zm355 0zm7 0zm50 0zm88 0zm-629 1zm0 0zm19 0zm17 0zm7 0zm20 0zm68 0zm265 0zm1 0zm15 0zm119 0zm7 0zm6 0zm-538 1zm11 0zm2 0zm4 0zm12 0zm21 0zm9 0zm2 0zm27 0zm9 0zm30 0zm263 0zm0 0zm117 0zm1 0zm-530 1zm26 0zm110 0zm13 0zm271 0zm-400 1zm12 0zm2 0zm8 0zm8 0zm-51 1zm3 0zm12 0zm5 0zm6 0zm13 0zm1 0zm16 0zm12 0zm16 0zm69 0zm265 0zm23 0zm84 0zm11 0zm10 0zm130 0zm-683 1zm8 0zm30 0zm381 0zm118 0zm-530 1zm5 0zm24 0zm33 0zm52 0zm4 0zm289 0zm255 0zm6 0zm8 0zm-683 1zm28 0zm30 0zm12 0zm29 0zm17 0zm198 0zm241 0zm11 0zm7 0zm100 0zm8 0zm-681 1zm13 0zm42 0zm10 0zm15 0zm6 0zm73 0zm262 0zm3 0zm124 0zm100 0zm23 0zm-656 1zm1 0zm55 0zm49 0zm41 0zm172 0zm71 0zm4 0zm5 0zm9 0zm137 0zm-477 1zm1 0zm2 0zm12 0zm62 0zm143 0zm121 0zm-383 1zm53 0zm9 0zm311 0zm10 0zm120 0zm-442 1zm17 0zm177 0zm246 0zm133 0zm-663 1zm7 0zm9 0zm59 0zm10 0zm312 0zm1 0zm4 0zm1 0zm124 0zm42 0zm-568 1zm90 0zm191 0zm22 0zm55 0zm35 0zm13 0zm125 0zm-526 1zm0 0zm59 0zm14 0zm1 0zm312 0zm3 0zm3 0zm168 0zm78 0zm5 0zm-639 1zm2 0zm1 0zm24 0zm27 0zm29 0zm185 0zm148 0zm123 0zm16 0zm-554 1zm1 0zm1 0zm2 0zm11 0zm365 0zm3 0zm140 0zm33 0zm-564 1zm25 0zm35 0zm2 0zm15 0zm285 0zm29 0zm10 0zm134 0zm31 0zm-549 1zm20 0zm13 0zm25 0zm-3 1zm16 0zm200 0zm271 0zm-522 1zm41 0zm11 0zm307 0zm1 0zm129 0zm-520 1zm4 0zm3 0zm25 0zm3 0zm32 0zm274 0zm195 0zm17 0zm83 0zm-581 1zm298 0zm190 0zm12 0zm92 0zm-630 1zm47 0zm6 0zm312 0zm129 0zm10 0zm-513 1zm26 0zm4 0zm26 0zm13 0zm13 0zm195 0zm91 0zm140 0zm40 0zm-549 1zm47 0zm35 0zm196 0zm1 0zm96 0zm258 0zm0 0zm-621 1zm11 0zm31 0zm10 1zm6 0zm1 0zm264 0zm298 0zm-608 1zm10 0zm3 0zm27 0zm15 0zm458 0zm-535 1zm12 0zm46 0zm13 0zm-63 1zm69 0zm434 0zm-515 1zm7 0zm12 0zm1 0zm4 0zm6 0zm43 0zm265 0zm177 0zm-509 1zm11 0zm2 0zm32 0zm1 0zm14 0zm8 0zm6 0zm209 0zm-278 1zm2 0zm1 0zm6 0zm31 0zm462 0zm-496 1zm520 0zm-534 1zm85 0zm-18 1zm3 0zm415 0zm40 0zm-473 1zm299 0zm-338 1zm4 0zm50 0zm0 0zm278 0zm-334 1zm37 0zm436 0zm-423 1zm10 0zm14 0zm417 0zm12 0zm-455 1zm327 0zm94 1zm39 0zm-460 1zm19 0zm10 0zm1 0zm1 0zm5 0zm402 0zm23 0zm-62 1zm27 0zm-465 1zm48 0zm16 0zm7 0zm276 0zm11 0zm127 0zm6 0zm-498 1zm1 0zm7 0zm26 0zm37 0zm1 0zm4 0zm190 0zm-266 1zm8 0zm41 0zm8 0zm184 0zm176 0zm3 0zm-385 1zm17 0zm2 0zm201 0zm-250 1zm63 0zm118 0zm62 0zm106 0zm-350 1zm49 0zm18 0zm166 0zm245 0zm-294 1zm41 0zm27 0zm222 0zm10 0zm-430 1zm25 0zm149 0zm25 0zm12 0zm0 0zm-267 1zm0 0zm49 0zm5 0zm1 0zm17 0zm151 0zm8 0zm3 0zm10 0zm-29 1zm29 0zm0 0zm1 0zm7 0zm2 0zm224 0zm-410 1zm11 0zm84 0zm38 0zm28 0zm6 0zm1 0zm13 0zm4 0zm-198 1zm0 0zm10 0zm406 0zm-470 1zm72 0zm163 0zm12 0zm5 0zm187 0zm27 0zm-398 1zm3 0zm138 0zm18 0zm5 0zm3 0zm8 0zm4 0zm-249 1zm65 0zm7 0zm47 0zm6 0zm50 0zm25 0zm34 0zm3 0zm9 0zm10 0zm14 0zm198 0zm-468 1zm5 0zm176 0zm37 0zm26 0zm3 0zm25 0zm-215 1zm40 0zm55 0zm21 0zm69 0zm2 0zm3 0zm3 0zm23 0zm6 0zm-212 1zm141 0zm57 0zm0 0zm4 0zm-271 1zm67 0zm6 0zm5 0zm8 0zm4 0zm1 0zm10 0zm12 0zm83 0zm42 0zm11 0zm16 0zm4 0zm10 0zm-208 1zm10 0zm16 0zm1 0zm1 0zm2 0zm26 0zm9 0zm26 0zm23 0zm1 0zm1 0zm1 0zm4 0zm9 0zm4 0zm68 0zm1 0zm-198 1zm5 0zm5 0zm5 0zm2 0zm9 0zm7 0zm22 0zm39 0zm11 0zm21 0zm4 0zm52 0zm18 0zm2 0zm-207 1zm1 0zm0 0zm10 0zm5 0zm3 0zm2 0zm1 0zm1 0zm4 0zm2 0zm13 0zm108 0zm13 0zm33 0zm-265 1zm4 0zm69 0zm6 0zm7 0zm2 0zm10 0zm13 0zm8 0zm45 0zm17 0zm6 0zm26 0zm12 0zm27 0zm17 0zm7 0zm-211 1zm6 0zm17 0zm10 0zm5 0zm11 0zm3 0zm12 0zm2 0zm12 0zm54 0zm24 0zm1 0zm9 0zm5 0zm21 0zm30 0zm5 0zm74 0zm-293 1zm10 0zm7 0zm8 0zm1 0zm14 0zm1 0zm9 0zm8 0zm23 0zm13 0zm9 0zm56 0zm22 0zm0 0zm36 0zm3 0zm-197 1zm23 0zm11 0zm14 0zm13 0zm6 0zm6 0zm25 0zm1 0zm63 0zm1 0zm25 0zm251 0zm-421 1zm69 0zm24 0zm7 0zm69 0zm4 0zm9 0zm243 0zm-445 1zm26 0zm4 0zm16 0zm52 0zm93 0zm14 0zm4 0zm65 0zm167 0zm-428 1zm22 0zm2 0zm16 0zm58 0zm18 0zm66 0zm-279 1zm1 0zm155 0zm127 0zm0 0zm1 0zm1 0zm1 0zm246 0zm-431 1zm43 0zm138 0zm7 0zm-143 1zm27 0zm1 0zm38 0zm69 0zm-275 1zm109 0zm35 0zm67 0zm31 0zm38 0zm1 0zm3 0zm74 0zm1 0zm1 0zm-364 1zm61 0zm10 0zm48 0zm123 0zm48 0zm-294 1zm97 0zm5 0zm3 0zm33 0zm2 0zm10 0zm146 0zm3 0zm65 0zm-362 1zm97 0zm52 0zm13 0zm126 0zm8 0zm68 0zm1 0zm-371 1zm3 0zm8 0zm106 0zm5 0zm4 0zm4 0zm175 0zm-195 1zm8 0zm3 0zm68 0zm10 0zm55 0zm40 0zm-304 1zm2 0zm9 0zm8 0zm91 0zm216 0zm-324 1zm111 0zm4 0zm2 0zm5 0zm14 0zm36 0zm-56 1zm3 0zm11 0zm-6 1zm182 0zm12 1zm24 0zm-248 1zm211 0zm1 0zm-171 1zm165 0zm10 0zm4 0zm5 0zm11 0zm-22 1zm31 0zm5 0zm-48 1zm1 0zm15 0zm4 0zm9 0zm18 0zm-47 1zm20 0zm3 0zm2 0zm4 0zm0 0zm1 0zm15 0zm-44 1zm1 0zm11 0zm19 0zm14 0zm3 0zm6 0zm-45 1zm0 0zm29 0zm1 0zm5 0zm6 0zm2 0zm-49 1zm45 0zm0 0zm4 0zm-48 1zm10 0zm11 0zm8 0zm4 0zm6 0zm-17 1zm10 0zm16 0zm-52 1zm2 0zm4 0zm16 0zm21 0zm-42 1zm37 0zm1 0zm-24 1zm18 1zm4 0zm4 0zm0 0zm64 0zm2 1zm52 1zm-7 1zm3 1zm1 0zm-220 1zm100 2zm123 0zm-337 1zm100 0zm234 0zm-339 1zm322 0zm20 0zm0 0zm-332 1zm220 0zm-233 1zm28 0zm309 0zm4 0zm-342 1zm3 0zm7 0zm134 0zm202 0zm-346 1zm1 0zm213 0zm129 0zm-340 1zm0 0zm0 0zm5 0zm334 0zm4 0zm-338 1zm191 0zm50 0zm89 0zm-343 1zm3 0zm3 0zm1 0zm2 0zm323 0zm-329 1zm189 0zm-193 1zm240 1zm-259 1zm7 0zm6 0zm3 0zm-11 1zm7 0zm6 0zm127 0zm77 0zm8 0zm142 0zm-152 1zm7 0zm8 0zm9 0zm-2 1zm-228 1zm215 0zm-222 1zm208 0zm-213 1zm5 0zm222 0zm130 0zm-362 1zm15 0zm147 0zm53 0zm9 0zm-224 1zm0 0zm2 0zm101 0zm104 0zm18 0zm3 0zm-218 1zm231 0zm5 0zm-244 1zm0 0zm213 0zm-213 1zm182 0zm85 0zm-267 1zm171 1zm29 0zm-54 1zm26 0zm2 0zm14 0zm59 0zm-50 2zm14 0zm-34 1zm17 0zm58 0zm70 0zm-395 1zm305 0zm-131 1zm70 0zm1 0zm27 0zm7 1zm94 0zm-147 1zm21 0zm28 0zm-105 1zm86 0zm104 0zm-347 1zm232 0zm126 0zm32 0zm-159 2zm36 0zm64 0zm-85 1zm171 0zm15 0zm-376 2zm178 1zm169 0zm-479 1zm37 1zm4 0zm1 0zm1 0zm11 0zm-49 1zm238 0zm195 0zm32 0zm11 0zm-487 1zm5 0zm0 0zm467 0zm51 0zm-524 1zm7 0zm32 0zm1 0zm66 0zm141 0zm-258 1zm2 0zm47 0zm63 0zm389 0zm-486 2zm10 0zm8 0zm1 0zm10 0zm1 0zm7 0zm10 0zm22 0zm-81 1zm11 0zm12 0zm1 0zm14 0zm67 0zm117 0zm-213 1zm16 0zm1 0zm6 0zm9 0zm4 0zm13 0zm26 0zm113 0zm-151 1zm418 0zm-454 1zm10 0zm31 0zm4 0zm1 0zm10 0zm29 0zm-67 1zm22 0zm90 0zm51 0zm-177 1zm10 0zm17 0zm94 0zm159 0zm12 0zm-319 1zm4 0zm32 0zm17 0zm3 0zm51 0zm64 0zm-172 1zm27 0zm12 0zm7 0zm277 0zm122 0zm2 0zm-417 1zm10 0zm1 0zm33 0zm14 0zm40 0zm26 0zm-152 1zm2 0zm5 0zm15 0zm7 0zm55 0zm52 0zm191 0zm105 0zm-418 1zm6 0zm25 0zm48 0zm-90 1zm5 0zm16 0zm97 0zm-45 1zm23 0zm-100 1zm16 0zm33 0zm6 0zm14 0zm57 0zm19 0zm224 0zm-360 1zm32 0zm323 0zm52 0zm-416 1zm29 0zm0 0zm93 0zm456 0zm-576 1zm2 0zm5 0zm54 0zm2 0zm13 0zm-83 1zm9 0zm10 0zm19 0zm12 0zm14 0zm54 0zm-61 1zm10 0zm12 0zm-79 1zm13 0zm51 0zm-40 1zm38 0zm5 0zm-34 1zm42 0zm63 0zm436 0zm-571 1zm16 0zm38 0zm19 0zm40 0zm-60 1zm40 0zm7 0zm-71 1zm7 0zm3 0zm15 0zm1 0zm24 0zm304 0zm33 0zm-423 1zm3 0zm40 0zm28 0zm42 0zm-98 1zm4 0zm7 0zm18 0zm17 0zm0 0zm11 0zm507 0zm-521 1zm2 0zm52 0zm-101 1zm8 0zm3 0zm9 0zm14 0zm17 0zm22 0zm28 0zm-99 1zm59 0zm-68 1zm30 0zm19 0zm146 0zm-152 1zm3 0zm284 0zm-330 1zm50 0zm13 0zm242 0zm-270 1zm0 0zm28 0zm34 0zm102 0zm-194 1zm19 0zm29 0zm21 0zm44 0zm1 0zm200 0zm-269 1zm-45 1zm0 0zm-9 1zm26 0zm14 0zm26 0zm4 0zm3 0zm8 1zm112 0zm-191 1zm74 0zm2 0zm36 0zm92 0zm-162 1zm163 0zm-196 1zm32 0zm18 0zm140 1zm-162 1zm169 0zm207 0zm-394 1zm13 0zm40 0zm0 0zm142 0zm-161 1zm-31 1zm21 0zm39 0zm333 0zm-391 1zm36 0zm-61 1zm21 0zm25 0zm173 0zm192 0zm12 0zm-367 1zm361 0zm-401 1zm4 0zm12 0zm12 0zm5 0zm21 0zm0 0zm11 0zm9 0zm123 0zm195 0zm7 0zm2 0zm-406 1zm17 0zm37 0zm4 0zm24 0zm121 0zm204 0zm1 0zm1 0zm2 0zm-405 1zm1 0zm63 0zm333 0zm3 0zm5 0zm1 0zm-413 1zm20 0zm33 0zm26 0zm135 0zm6 0zm180 0zm-387 1zm26 0zm34 0zm136 0zm206 0zm8 0zm1 0zm-425 1zm62 0zm12 0zm136 0zm203 0zm-404 1zm15 0zm21 0zm163 0zm15 0zm204 0zm0 0zm-383 1zm14 0zm349 0zm6 0zm9 0zm4 0zm3 0zm14 0zm-438 1zm27 0zm184 0zm213 0zm14 0zm-388 1zm367 0zm-400 1zm203 0zm196 0zm-412 1zm37 1zm177 0zm6 0zm135 0zm6 0zm57 0zm1 0zm90 0zm-285 1zm2 0zm191 0zm12 0zm2 0zm-211 1zm198 0zm102 0zm-491 1zm10 0zm180 0zm5 0zm3 0zm125 0zm54 0zm15 0zm5 0zm0 0zm4 0zm-204 1zm0 0zm0 0zm0 0zm1 0zm128 0zm-340 1zm209 0zm2 0zm6 0zm126 0zm73 0zm6 0zm52 0zm-264 1zm2 0zm125 0zm2 0zm65 0zm9 0zm-413 1zm219 0zm189 1zm-194 1zm5 0zm5 0zm119 0zm65 0zm-188 1zm2 0zm1 0zm190 0zm-192 1zm6 0zm189 0zm1 0zm-196 1zm2 0zm195 0zm1 0zm-187 1zm-6 1zm0 0zm2 0zm187 0zm-185 2zm3 0zm1 0zm97 0zm7 1zm-109 1zm6 0zm-1 1zm5 2zm3 0zm95 0zm95 0zm-188 1zm0 0zm1 0zm-3 1zm2 0zm1 0zm90 0zm8 0zm3 0zm83 0zm-180 1zm97 0zm10 0zm71 0zm-181 1zm99 0zm-101 1zm102 0zm4 0zm-91 1zm57 0zm6 0zm102 0zm-110 1zm11 0zm28 0zm-60 1zm21 0zm-48 1zm34 0zm10 0zm-44 1zm4 0zm15 0zm13 0zm2 0zm82 0zm-109 1zm23 0zm171 0zm-193 2zm123 0zm7 0zm0 1zm0 0zm11 0zm-130 1zm117 0zm51 0zm-35 2zm41 0zm-39 2zm13 0zm16 1zm2 0zm-11 1zm-2 1zm-168 3zm14 1zm9 5zm-52 3zm53 2zm-3 1zm-12 1zm-25 2zm37 0zm6 2zm2 2zm2 0zm44 0zm-26 3zm-77 1zm73 4zm-81 1zm92 1zm35 0zm-125 1zm12 0zm93 0zm-103 1zm73 0zm30 0zm-20 1zm34 0zm-134 1zm17 0zm84 0zm27 0zm15 0zm-138 1zm65 0zm22 0zm10 0zm6 0zm34 0zm-137 1zm6 0zm11 0zm3 0zm116 0zm-129 1zm8 0zm3 0zm1 0zm20 0zm-43 1zm4 0zm3 0zm-6 1zm21 0zm0 0zm3 0zm73 0zm21 1zm-114 1zm13 0zm8 0zm3 0zm6 0zm-4 1zm3 0zm73 0zm33 0zm-136 1zm3 0zm3 0zm21 0zm64 0zm15 0zm16 0zm-105 1zm79 0zm0 0zm2 0zm29 0zm-124 1zm3 0zm11 0zm-16 1zm97 0zm2 0zm17 0zm14 0zm-146 1zm31 0zm-16 1zm27 0zm-28 1zm25 0zm73 0zm18 0zm-126 1zm12 0zm9 0zm22 0zm72 0zm-112 1zm108 0zm2 0zm7 0zm1 0zm6 0zm-120 1zm1 0zm28 0zm3 0zm72 0zm-115 1zm28 0zm1 0zm1 0zm-11 1zm117 0zm6 0zm-96 1zm90 0zm-124 1zm12 0zm21 0zm73 0zm22 0zm10 0zm-107 1zm-1 1zm-28 1zm22 1zm3 0zm-30 1zm2 0zm13 0zm17 0zm-37 1zm22 0zm20 0zm-41 1zm126 0zm-119 1zm11 0zm16 0zm-7 1zm6 0zm3 0zm70 0zm-103 1zm11 0zm107 0zm-113 1zm-5 1zm1 0zm6 0zm11 0zm15 0zm-28 1zm0 0zm3 0zm1 0zm6 0zm10 0zm8 0zm10 0zm62 0zm-79 1zm74 0zm-85 1zm4 0zm11 0zm11 0zm57 0zm-70 1zm49 0zm6 0zm-85 1zm8 0zm24 0zm33 0zm-56 1zm30 0zm14 0zm13 0zm35 0zm-101 1zm8 0zm39 0zm51 0zm-51 1zm46 0zm1 0zm4 0zm-54 1zm19 0zm-32 1zm40 0zm-66 1zm33 0zm30 0zm-49 1zm1 0zm3 0zm4 0zm4 1zm7 0zm3 0zm-28 2zm1 0zm1 0zm10 0zm6 2z" stroke="#00BFC4"/></g>
<ellipse cx="999" cy="167" rx="2.5" ry="3.3" fill="#F8766D"/>
<ellipse cx="999" cy="179.7" rx="2.5" ry="3.3" fill="#00BFC4"/>
<path d="M43.6 384V635.15" stroke="#666" stroke-width="1.5" fill="none"/><path d="M42.85 634.4H453" stroke="#505050" stroke-width="1.5" fill="none"/><path d="M55.5 634.4v2.7" stroke="#505050" stroke-width="1"/><path d="M143.2 634.4v2.7" stroke="#505050" stroke-width="1"/><path d="M230.9 634.4v2.7" stroke="#505050" stroke-width="1"/><path d="M318.6 634.4v2.7" stroke="#505050" stroke-width="1"/><path d="M406.3 634.4v2.7" stroke="#505050" stroke-width="1"/><path d="M43.6 430.4h-2.7" stroke="#505050" stroke-width="1"/><path d="M43.6 488.4h-2.7" stroke="#505050" stroke-width="1"/><path d="M43.6 546.4h-2.7" stroke="#505050" stroke-width="1"/><path d="M43.6 604.4h-2.7" stroke="#505050" stroke-width="1"/>
<g transform="scale(.5)" fill="none" stroke-linecap="round" stroke-width="2.2" opacity="0.85" filter="url(#b3)"><path d="M215 804zm-11 1zm15 1zm7 2zm1 0zm-23 1zm16 0zm-29 1zm7 0zm6 0zm16 0zm11 1zm1 0zm7 0zm-40 1zm23 2zm12 0zm-46 1zm48 0zm-48 1zm25 0zm22 0zm6 0zm-46 1zm15 0zm3 0zm10 0zm23 0zm-69 1zm17 0zm-12 1zm9 0zm41 0zm-33 1zm9 0zm11 0zm9 0zm1 0zm14 0zm-66 1zm17 0zm22 0zm15 0zm7 0zm19 0zm-51 1zm0 0zm6 0zm30 0zm-41 1zm18 0zm36 0zm-84 1zm56 0zm8 1zm12 0zm9 0zm-3 1zm5 0zm-77 1zm40 0zm-26 1zm13 0zm3 0zm0 0zm12 0zm16 0zm6 0zm18 0zm-63 1zm16 0zm46 0zm-46 1zm18 0zm1 0zm25 0zm16 0zm-93 1zm7 0zm37 0zm19 0zm0 0zm24 0zm-104 1zm24 0zm24 0zm15 0zm11 0zm-58 1zm33 0zm3 0zm15 0zm13 0zm21 0zm11 0zm-112 1zm13 0zm34 0zm48 0zm6 0zm7 0zm-96 1zm3 0zm29 0zm52 0zm5 0zm-28 1zm14 0zm9 0zm-95 1zm1 0zm17 0zm-18 1zm1 0zm2 0zm34 0zm25 0zm31 0zm22 0zm-106 1zm31 0zm22 0zm31 0zm-93 1zm1 0zm13 0zm14 0zm7 0zm35 0zm7 0zm-76 1zm25 0zm16 0zm31 0zm-84 1zm11 0zm3 0zm105 0zm2 0zm-121 1zm31 0zm15 0zm32 0zm-79 1zm3 0zm9 0zm53 0zm49 0zm106 0zm-221 1zm10 0zm44 0zm17 0zm15 0zm-81 1zm53 0zm27 0zm2 0zm150 0zm-231 1zm28 0zm26 0zm62 0zm6 0zm8 0zm78 0zm-185 1zm7 0zm11 0zm6 0zm3 0zm31 0zm27 0zm3 0zm1 0zm15 0zm-128 1zm52 0zm47 0zm-61 1zm20 0zm6 0zm2 0zm-2 1zm24 0zm6 0zm2 0zm17 0zm-113 1zm32 0zm3 0zm46 0zm-80 1zm7 0zm2 0zm10 0zm27 0zm54 0zm12 0zm-104 1zm126 0zm-114 1zm66 0zm18 0zm33 0zm-99 1zm16 0zm17 0zm40 0zm20 0zm-109 1zm17 0zm14 0zm1 0zm35 0zm5 0zm-94 1zm8 0zm10 0zm20 0zm1 0zm11 0zm1 0zm52 0zm2 0zm10 0zm23 0zm-126 1zm7 0zm10 0zm17 0zm20 0zm-67 1zm12 0zm14 0zm7 0zm1 0zm6 0zm34 0zm66 0zm-128 1zm36 0zm10 0zm10 0zm23 0zm40 0zm-109 1zm7 0zm4 0zm53 0zm1 0zm10 0zm5 0zm37 0zm0 0zm-88 1zm20 0zm1 0zm31 0zm2 0zm10 0zm-91 1zm7 0zm9 0zm1 0zm8 0zm4 0zm5 0zm49 0zm-110 1zm22 0zm15 0zm39 0zm7 0zm61 0zm-123 1zm1 0zm25 0zm14 0zm41 0zm13 0zm11 0zm18 0zm-145 1zm15 0zm6 0zm12 0zm24 0zm7 0zm16 0zm34 0zm7 0zm-86 1zm96 0zm-101 1zm31 0zm28 0zm-84 1zm58 0zm9 0zm4 0zm18 0zm28 0zm35 0zm-139 1zm42 0zm30 0zm51 0zm-113 1zm15 0zm6 0zm44 0zm43 0zm19 0zm-146 1zm31 0zm2 0zm96 0zm2 0zm-110 1zm8 0zm56 0zm26 0zm18 0zm13 0zm-139 1zm65 0zm57 0zm-55 1zm6 0zm19 0zm22 0zm1 0zm5 0zm2 0zm4 0zm9 0zm3 0zm-122 1zm19 0zm17 0zm7 0zm26 0zm42 0zm11 0zm2 0zm-106 1zm2 0zm7 0zm6 0zm32 0zm29 0zm35 0zm-135 1zm3 0zm5 0zm33 0zm45 0zm23 0zm19 0zm-125 1zm20 0zm0 0zm18 0zm45 0zm39 0zm12 0zm-101 1zm32 0zm10 0zm16 0zm4 0zm10 0zm6 0zm30 0zm-152 1zm8 0zm93 0zm3 0zm1 0zm1 0zm25 0zm-128 1zm2 0zm2 0zm4 0zm22 0zm8 0zm13 0zm26 0zm4 0zm21 0zm1 0zm9 0zm15 0zm-127 1zm20 0zm19 0zm4 0zm41 0zm6 0zm12 0zm-98 1zm3 0zm1 0zm120 0zm2 0zm4 0zm10 0zm-143 1zm67 0zm63 0zm9 0zm-114 1zm16 0zm7 0zm2 0zm97 0zm4 0zm-144 1zm35 0zm9 0zm56 0zm5 0zm43 0zm-156 1zm45 0zm10 0zm8 0zm28 0zm1 0zm6 0zm31 0zm-123 1zm0 0zm1 0zm20 0zm6 0zm4 0zm55 0zm66 0zm-148 1zm2 0zm22 0zm57 0zm24 0zm41 0zm0 0zm-147 1zm10 0zm1 0zm20 0zm55 0zm18 0zm29 0zm-80 1zm3 0zm13 0zm8 0zm50 0zm4 0zm-138 1zm14 0zm32 0zm5 0zm5 0zm31 0zm2 0zm4 0zm8 0zm-74 1zm23 0zm4 0zm18 0zm21 0zm5 0zm38 0zm-118 1zm41 0zm7 0zm7 0zm14 0zm7 0zm18 0zm10 0zm-104 1zm13 0zm11 0zm5 0zm10 0zm11 0zm60 0zm-116 1zm1 0zm22 0zm56 0zm8 0zm34 0zm-122 1zm4 0zm7 0zm19 0zm12 0zm7 0zm101 0zm-135 1zm25 0zm13 0zm14 0zm29 0zm48 0zm4 0zm-156 1zm68 0zm55 0zm33 0zm-110 1zm17 0zm4 0zm44 0zm3 1zm5 0zm3 0zm33 0zm2 0zm-120 1zm35 0zm10 0zm3 0zm12 0zm3 0zm60 0zm-54 1zm6 0zm-98 1zm27 0zm19 0zm22 0zm14 0zm2 0zm4 0zm1 0zm9 0zm-73 1zm45 0zm3 0zm79 0zm-124 1zm78 0zm-108 1zm85 0zm7 0zm-87 1zm61 0zm23 0zm-15 1zm15 0zm-64 1zm41 0zm-9 1zm18 0zm16 0zm-78 1zm47 0zm5 0zm20 0zm-32 1zm41 0zm-62 1zm46 0zm-40 1zm38 0zm13 0zm-71 1zm10 0zm47 0zm1 0zm6 0zm2 0zm1 0zm-56 1zm60 1zm2 0zm-48 1zm-23 1zm12 0zm56 0zm-29 1zm-19 1zm-16 1zm17 0zm3 0zm50 0zm-4 1zm4 0zm-66 1zm14 0zm41 0zm2 0zm7 1zm4 0zm-7 1zm-64 1zm38 0zm21 1zm-16 1zm4 0zm30 0zm0 1zm-67 1zm36 0zm5 0zm15 0zm21 0zm-27 1zm1 0zm18 0zm-51 2zm43 0zm1 0zm7 1zm2 1zm-30 1zm213 1zm-214 1zm17 0zm5 0zm4 0zm1 0zm6 0zm1 0zm4 0zm-3 1zm1 0zm0 1zm-27 1zm26 1zm-21 2zm12 0zm5 0zm-14 1zm14 0zm9 0zm-27 1zm181 1zm-174 1zm33 0zm-39 1zm3 0zm10 1zm-10 1zm11 0zm15 2zm-87 1zm67 0zm2 1zm9 1zm155 0zm-151 1zm14 0zm-29 1zm10 0zm2 0zm-4 1zm9 0zm4 0zm2 0zm20 0zm3 0zm4 0zm13 0zm-66 1zm6 0zm1 0zm48 0zm3 0zm-20 1zm29 0zm43 0zm-74 1zm10 0zm35 0zm52 0zm-83 1zm-26 1zm49 0zm-40 1zm24 0zm77 0zm-82 1zm128 0zm-232 1zm96 0zm-32 1zm42 1zm-40 1zm98 3zm-31 2zm11 0zm-141 1zm91 0zm-108 3zm96 2zm2 0zm-6 1zm8 2zm1 2zm111 14zm20 1zm14 2zm-14 1zm8 3zm-9 7zm3 6zm-31 4zm-10 2zm73 2zm19 1zm-29 2zm-39 3zm-33 2zm31 0zm-32 1zm14 0zm10 0zm-36 1zm1 1zm7 0zm28 1zm-15 1zm-3 1zm28 4zm-87 49zm-6 4zm2 3zm5 3zm18 6zm10 4zm-3 1zm2 0zm-4 1zm11 2zm8 6zm-1 4zm12 5zm5 3z" stroke="#FB61D7"/><path d="M400 1040zm40 8zm38 14zm42 15zm-63 1zm96 1zm-33 2zm-42 2zm42 1zm36 0zm4 5zm147 0zm-225 1zm223 0zm-156 4zm-3 3zm23 0zm-22 2zm-2 3zm-2 1zm3 0zm9 0zm-8 1zm0 0zm2 2zm37 1zm-19 1zm-6 1zm45 0zm13 0zm-54 1zm7 1zm22 1zm27 0zm-58 1zm62 0zm-68 1zm29 0zm-4 1zm4 0zm40 0zm-57 2zm2 0zm8 0zm6 0zm49 0zm4 0zm6 0zm-65 1zm2 2zm7 0zm77 0zm-95 1zm11 0zm-8 1zm12 1zm71 0zm-69 1zm67 0zm6 0zm-81 1zm-7 1zm10 1zm71 1zm-70 1zm15 0zm52 0zm3 0zm-74 2zm66 0zm0 0zm3 0zm1 2zm-5 1zm-47 1zm-14 1zm9 2zm48 0zm-50 1zm-81 1zm7 0zm126 0zm-64 1zm58 0zm0 3zm-44 1zm39 0zm0 0zm-78 2zm42 0zm38 0zm-68 1zm19 0zm-9 2zm5 0zm46 0zm-33 3zm31 0zm1 0zm-7 1zm9 0zm-36 1zm-6 1zm1 0zm13 0zm18 0zm-33 1zm24 0zm6 0zm-21 1zm5 0z" stroke="#F8766D"/><path d="M469 1043zm11 39zm-47 1zm57 4zm91 20zm-11 2zm-2 1zm15 2zm2 0zm-15 5zm11 0zm0 5zm-76 5zm2 2zm1 0zm84 7zm-29 11zm6 1zm36 9zm9 1zm-128 35zm33 9zm-28 9zm24 0z" stroke="#00C094"/><path d="M364 845zm-2 1zm-4 1zm-143 54zm-18 7zm32 2zm325 2zm-53 1zm-26 1zm-279 1zm16 1zm276 1zm-212 1zm197 0zm-247 1zm237 0zm34 0zm54 1zm-315 1zm1 3zm-30 1zm50 1zm236 3zm-260 2zm-22 2zm4 0zm47 1zm246 0zm-280 7zm-5 1zm58 2zm99 0zm84 0zm112 0zm-123 2zm-7 2zm-142 1zm153 0zm-28 1zm36 0zm25 0zm-22 1zm7 0zm-192 1zm116 0zm61 0zm4 1zm11 0zm-92 1zm41 0zm12 0zm24 0zm8 0zm3 0zm-169 1zm116 0zm30 0zm4 0zm17 0zm14 0zm-196 1zm111 0zm20 0zm43 0zm-243 1zm248 0zm8 0zm-181 1zm79 0zm24 0zm65 0zm11 0zm-197 1zm10 0zm88 1zm108 0zm-194 1zm27 0zm-24 1zm86 0zm26 0zm-182 1zm225 0zm-220 1zm113 0zm27 0zm83 0zm11 0zm-171 1zm11 0zm21 0zm6 0zm9 0zm10 0zm19 0zm61 0zm30 0zm22 0zm-119 1zm36 0zm114 0zm-194 1zm14 0zm30 0zm5 0zm1 0zm13 0zm105 0zm-157 1zm-10 1zm41 1zm35 0zm-167 1zm140 0zm161 0zm-175 1zm14 0zm-126 1zm140 0zm15 1zm42 0zm-130 1zm36 0zm54 0zm-161 1zm134 0zm9 0zm-144 1zm73 0zm24 0zm19 0zm184 0zm-227 2zm62 0zm-31 1zm0 0zm-2 1zm11 0zm-3 2zm11 1zm-13 2zm205 2zm-225 1zm236 1zm-6 3zm3 2zm-215 10zm14 3zm5 0zm-16 1zm5 1zm45 0zm27 0zm-97 1zm46 0zm-43 1zm-2 1zm15 1zm102 3zm31 1zm-19 3zm-147 1zm6 0zm-5 2zm9 0zm160 2zm-78 1zm-82 1zm175 0zm3 0zm-84 1zm64 0zm-168 1zm167 2zm3 0zm34 0zm19 0zm-119 1zm61 1zm29 1zm-82 1zm144 1zm-83 1zm1 0zm2 0zm-300 1zm197 0zm54 0zm90 0zm-281 1zm174 1zm59 0zm-70 1zm14 0zm-16 1zm18 0zm10 1zm42 0zm-256 2zm11 0zm-25 1zm360 0zm-360 1zm3 0zm10 0zm248 0zm-304 1zm2 0zm23 0zm1 0zm23 0zm366 0zm-388 1zm18 0zm2 0zm86 0zm123 0zm76 0zm-332 1zm40 0zm10 0zm7 0zm173 0zm17 0zm15 0zm34 0zm-304 1zm10 0zm12 0zm20 0zm2 0zm5 0zm1 0zm6 0zm52 0zm246 0zm-333 1zm192 0zm-204 1zm2 0zm4 0zm7 0zm4 0zm9 0zm10 0zm13 0zm5 0zm18 0zm155 0zm-192 1zm13 0zm66 0zm353 0zm-459 1zm7 0zm7 0zm11 0zm12 0zm143 0zm128 0zm-333 1zm14 0zm8 0zm48 0zm62 0zm160 0zm-289 1zm4 0zm23 0zm3 0zm20 0zm9 0zm1 0zm11 0zm-77 1zm23 0zm1 0zm38 0zm109 0zm7 0zm118 0zm24 0zm-315 1zm26 0zm7 0zm133 0zm125 0zm-295 1zm21 0zm5 0zm8 0zm18 0zm43 0zm66 0zm161 0zm0 0zm3 0zm-330 1zm17 0zm18 0zm11 0zm24 0zm18 0zm5 0zm73 0zm-109 1zm0 0zm29 0zm54 0zm5 0zm1 0zm30 0zm154 0zm-330 1zm35 0zm14 0zm7 0zm30 0zm6 0zm20 0zm18 0zm-133 1zm2 0zm6 0zm36 0zm13 0zm288 0zm4 0zm8 0zm13 0zm-350 1zm8 0zm31 0zm3 0zm90 0zm197 0zm1 0zm15 0zm-359 1zm11 0zm25 0zm18 0zm21 0zm3 0zm37 0zm252 0zm0 0zm5 0zm22 0zm-397 1zm29 0zm3 0zm11 0zm20 0zm1 0zm51 0zm24 0zm176 0zm82 0zm7 0zm-409 1zm6 0zm13 0zm5 0zm7 0zm7 0zm15 0zm22 0zm9 0zm-78 1zm17 0zm365 0zm16 0zm-403 1zm0 0zm18 0zm19 0zm35 0zm60 0zm255 0zm-369 1zm37 0zm49 0zm2 0zm28 0zm-93 1zm82 0zm-126 1zm10 0zm7 0zm32 0zm70 0zm-102 1zm7 0zm23 0zm7 0zm51 0zm4 0zm26 0zm-114 1zm25 0zm5 0zm7 0zm79 0zm156 0zm63 0zm-351 1zm72 0zm0 0zm33 0zm-96 1zm28 0zm16 0zm16 0zm262 0zm-295 1zm61 0zm19 0zm219 0zm-342 1zm4 0zm15 0zm30 0zm85 0zm-136 1zm22 0zm13 0zm36 0zm45 0zm200 0zm-301 1zm31 0zm85 0zm192 0zm-307 1zm9 0zm44 0zm3 0zm44 0zm5 0zm6 0zm5 0zm-122 1zm10 0zm12 0zm2 0zm3 0zm13 0zm-37 1zm72 0zm-78 1zm25 0zm4 0zm2 0zm1 0zm1 0zm13 0zm21 0zm9 0zm257 0zm-329 1zm45 0zm27 0zm6 0zm14 0zm2 0zm255 0zm-342 1zm5 0zm25 0zm1 0zm3 0zm38 0zm38 0zm82 0zm117 0zm-318 1zm47 0zm3 0zm66 0zm88 0zm-166 1zm59 0zm99 0zm-133 1zm33 0zm6 0zm-45 1zm17 0zm22 0zm1 0zm8 0zm88 0zm158 0zm-347 1zm24 0zm5 0zm39 0zm116 0zm12 0zm-204 1zm2 0zm17 0zm6 0zm18 0zm2 0zm159 0zm-180 1zm16 0zm22 0zm17 0zm-50 1zm28 0zm10 0zm12 0zm2 0zm5 0zm-48 1zm18 0zm13 0zm130 0zm-155 1zm4 0zm30 0zm-61 1zm19 0zm8 0zm6 0zm23 0zm3 0zm3 0zm15 0zm-84 1zm5 0zm14 0zm3 0zm40 0zm5 0zm10 0zm3 0zm-84 1zm28 0zm9 0zm2 0zm25 0zm1 0zm1 0zm41 0zm-87 1zm31 0zm13 0zm-70 1zm6 0zm26 0zm50 0zm13 0zm-74 1zm2 0zm5 0zm1 0zm17 0zm177 0zm-133 1zm14 0zm-94 1zm31 0zm-33 1zm44 0zm4 0zm20 0zm149 0zm-217 1zm5 0zm23 0zm1 0zm7 0zm14 0zm7 0zm17 0zm139 0zm-216 1zm70 0zm-22 1zm27 0zm146 0zm-191 1zm31 0zm-31 1zm31 0zm166 0zm-209 1zm2 0zm11 0zm2 0zm5 0zm20 0zm-27 1zm39 0zm-46 1zm1 0zm9 0zm9 1zm16 0zm-42 1zm38 0zm-26 2zm2 0zm17 0zm-27 1zm221 0zm-219 1zm1 1zm12 0zm-3 1zm-1 3zm227 4zm3 4zm2 1zm7 2zm-6 1z" stroke="#53B400"/><path d="M378 844zm14 2zm108 55zm-5 2zm48 0zm0 0zm-93 2zm33 0zm9 0zm3 0zm48 0zm15 0zm-94 1zm13 0zm12 0zm10 1zm14 0zm-48 1zm6 0zm3 0zm1 0zm20 0zm7 1zm-6 1zm5 0zm-32 1zm5 0zm12 0zm11 0zm6 0zm-30 1zm0 0zm14 0zm6 0zm68 0zm-53 1zm15 0zm-47 1zm7 0zm2 0zm1 0zm23 0zm9 0zm13 0zm8 0zm-74 1zm4 0zm11 0zm1 0zm1 0zm24 0zm2 0zm18 0zm40 0zm-103 1zm4 0zm1 0zm9 0zm2 0zm2 0zm4 0zm83 0zm-91 1zm3 0zm18 0zm7 0zm-41 1zm2 0zm6 0zm8 0zm30 0zm44 0zm15 0zm-113 1zm35 0zm3 0zm5 0zm19 0zm11 0zm-69 1zm4 0zm5 0zm16 0zm18 0zm-17 1zm4 0zm52 0zm-63 1zm40 0zm-56 1zm17 0zm3 0zm2 0zm0 0zm34 0zm36 0zm-66 1zm9 0zm69 0zm-101 1zm71 1zm-80 1zm0 0zm22 0zm35 0zm-24 1zm47 0zm0 0zm-63 1zm4 0zm1 0zm35 0zm39 0zm-49 1zm-42 1zm37 0zm4 0zm33 0zm-17 1zm30 0zm-2 1zm5 0zm13 0zm-54 1zm28 0zm2 0zm14 0zm-46 1zm71 0zm6 1zm-58 1zm13 0zm27 1zm0 0zm1 0zm28 0zm-80 1zm34 0zm25 0zm5 0zm1 0zm6 1zm-35 1zm14 0zm22 0zm1 0zm9 0zm-24 1zm7 0zm0 0zm16 0zm49 0zm21 0zm4 0zm-98 1zm13 0zm88 0zm-111 1zm30 0zm2 0zm29 0zm15 0zm9 0zm-64 1z" stroke="#A58AFF"/><path d="M726 792zm10 2zm-32 2zm21 1zm-27 1zm12 0zm14 0zm14 0zm-41 1zm2 0zm4 0zm2 0zm17 0zm20 0zm-45 1zm3 0zm19 0zm14 0zm4 0zm6 0zm3 0zm-62 1zm60 0zm-12 1zm14 0zm-46 1zm4 0zm2 0zm25 0zm-51 1zm15 0zm13 0zm6 0zm4 0zm-25 1zm15 0zm39 0zm4 0zm-50 1zm0 0zm-24 1zm8 0zm12 0zm16 0zm16 0zm-20 1zm40 0zm-82 1zm36 0zm7 0zm1 0zm46 0zm-89 1zm0 1zm16 0zm11 0zm1 0zm8 0zm0 0zm26 0zm-65 1zm9 0zm41 0zm1 0zm8 0zm-31 1zm35 0zm19 0zm9 0zm2 0zm-71 1zm62 0zm8 0zm17 0zm-109 1zm3 0zm11 0zm14 0zm20 0zm2 0zm7 0zm13 0zm4 0zm1 0zm17 0zm11 0zm6 0zm-96 1zm12 0zm12 0zm12 0zm30 0zm12 0zm24 0zm-107 1zm2 0zm17 0zm41 0zm-62 1zm20 0zm2 0zm25 0zm16 0zm5 0zm23 0zm-102 1zm27 0zm2 0zm25 0zm3 0zm4 0zm14 0zm28 0zm-66 1zm14 0zm37 0zm-86 1zm27 0zm18 0zm7 0zm3 0zm3 0zm29 0zm29 0zm-116 1zm20 0zm2 0zm19 0zm17 0zm19 0zm17 0zm1 0zm13 0zm-93 1zm10 0zm21 0zm14 0zm27 0zm-81 1zm16 0zm2 0zm13 0zm22 0zm9 0zm32 0zm0 0zm-104 1zm9 0zm7 0zm29 0zm39 0zm18 0zm26 0zm-91 1zm21 0zm48 0zm10 0zm-106 1zm7 0zm19 1zm5 0zm80 0zm8 0zm20 0zm-136 1zm11 0zm9 0zm7 0zm2 0zm22 0zm39 0zm-91 1zm1 0zm48 0zm-60 1zm4 0zm10 0zm14 0zm2 0zm0 0zm2 0zm10 0zm21 0zm2 0zm9 0zm48 0zm0 0zm-99 1zm2 0zm37 0zm3 0zm33 0zm23 0zm11 0zm20 0zm-148 1zm1 0zm16 0zm2 0zm12 0zm51 0zm76 0zm-162 1zm21 0zm4 0zm4 0zm4 0zm54 0zm2 0zm-53 1zm30 0zm37 0zm20 0zm6 0zm35 0zm-143 1zm71 0zm15 0zm58 0zm-150 1zm4 0zm5 0zm21 0zm13 0zm2 0zm36 0zm8 0zm8 0zm48 0zm8 0zm-166 1zm14 0zm61 0zm0 0zm57 0zm13 0zm7 0zm9 0zm-149 1zm29 0zm1 0zm35 0zm1 0zm77 0zm2 0zm3 0zm3 0zm3 0zm-151 1zm33 0zm4 0zm11 0zm6 0zm25 0zm15 0zm8 0zm16 0zm1 0zm32 0zm-122 1zm20 0zm35 0zm10 0zm58 0zm-180 1zm47 0zm10 0zm32 0zm73 0zm1 0zm-134 1zm41 0zm18 0zm9 0zm21 0zm18 0zm32 0zm-149 1zm2 0zm58 0zm10 0zm31 0zm-24 1zm29 0zm19 0zm24 0zm2 0zm-102 1zm5 0zm15 0zm16 0zm11 0zm4 0zm-66 1zm40 0zm14 0zm33 0zm-110 1zm68 0zm1 0zm-96 1zm46 0zm3 0zm6 1zm-45 1zm88 0zm8 0zm10 0zm9 0zm-137 1zm35 0zm20 0zm79 0zm-129 1zm98 0zm-80 1zm66 0zm5 0zm27 0zm-19 1zm-77 1zm76 0zm39 0zm-133 1zm70 0zm17 0zm39 1zm0 0zm-128 1zm103 2zm-79 1zm3 0zm8 0zm18 0zm39 0zm-103 1zm1 0zm30 0zm1 0zm1 0zm10 0zm3 0zm16 0zm8 0zm57 0zm-127 1zm7 0zm24 0zm75 0zm-90 1zm22 0zm-31 1zm33 0zm71 0zm-76 1zm2 0zm15 0zm68 1zm1 0zm83 0zm-170 1zm8 0zm1 0zm34 0zm68 0zm-99 1zm40 0zm0 0zm42 0zm-131 1zm100 0zm11 0zm-112 1zm5 0zm47 0zm-11 1zm5 0zm11 0zm5 0zm-76 1zm65 0zm16 0zm-32 1zm21 0zm38 0zm14 0zm14 0zm3 0zm-71 1zm4 0zm4 1zm16 0zm7 0zm11 0zm9 0zm-115 1zm138 0zm-126 2zm86 0zm58 0zm73 0zm-231 1zm100 0zm-97 1zm71 0zm60 0zm-94 1zm-40 1zm54 0zm4 0zm54 0zm-114 1zm139 0zm-84 1zm102 0zm17 0zm-179 1zm16 0zm58 0zm68 0zm16 0zm10 0zm-169 1zm74 0zm87 0zm65 0zm-218 1zm113 0zm100 0zm-218 1zm104 0zm54 0zm52 0zm8 0zm15 0zm-229 1zm152 0zm4 0zm60 0zm17 0zm6 0zm2 0zm-87 1zm60 0zm-165 1zm75 0zm-77 1zm94 0zm82 0zm-110 1zm17 0zm9 0zm4 0zm4 0zm1 0zm-162 1zm109 0zm150 0zm-264 1zm123 0zm48 0zm89 0zm4 0zm-265 1zm9 1zm15 0zm105 0zm1 0zm24 0zm18 0zm-37 1zm0 0zm12 0zm31 0zm-14 1zm13 0zm3 0zm89 0zm1 0zm1 0zm-251 1zm108 0zm2 0zm16 0zm10 0zm5 0zm2 0zm2 0zm4 0zm94 0zm-111 1zm2 0zm9 0zm4 0zm90 0zm-116 1zm3 0zm22 0zm-31 1zm18 0zm-130 1zm125 0zm17 0zm71 0zm25 0zm0 0zm6 0zm-365 1zm128 0zm94 0zm6 0zm1 0zm1 0zm2 0zm32 0zm75 0zm20 0zm-263 2zm135 0zm18 0zm1 0zm8 0zm9 0zm-42 1zm18 0zm8 0zm-162 1zm158 0zm2 0zm2 0zm89 0zm-117 1zm30 0zm15 0zm84 0zm10 0zm-397 1zm83 0zm188 0zm25 0zm-41 1zm13 0zm19 0zm0 0zm100 0zm-265 1zm136 0zm20 0zm2 0zm7 0zm10 0zm-32 1zm3 0zm2 0zm23 0zm11 0zm77 0zm-252 1zm143 0zm29 0zm72 0zm-117 1zm8 0zm20 0zm-242 1zm79 0zm150 0zm4 0zm104 0zm-381 1zm250 0zm46 0zm7 0zm-189 1zm150 0zm6 0zm18 0zm10 0zm-274 1zm245 0zm1 0zm1 0zm13 0zm17 0zm73 0zm-89 1zm95 0zm-348 1zm229 0zm3 0zm24 0zm89 0zm-129 1zm24 0zm1 0zm4 0zm6 0zm8 0zm1 0zm-201 1zm35 0zm141 0zm3 0zm102 0zm-105 1zm-17 1zm20 0zm15 0zm-30 1zm14 0zm16 0zm-48 1zm15 0zm16 0zm10 0zm-264 2zm8 0zm269 0zm-191 1zm143 0zm14 0zm9 0zm-27 1zm16 0zm19 0zm1 0zm17 0zm0 0zm-23 1zm-34 1zm25 0zm-200 1zm215 0zm4 0zm-37 1zm9 0zm-191 1zm62 0zm148 0zm0 0zm4 0zm3 0zm-24 1zm2 0zm3 0zm2 0zm-27 1zm2 0zm5 0zm5 0zm2 0zm8 0zm7 0zm5 0zm-144 1zm49 0zm12 0zm61 0zm13 0zm8 0zm-73 1zm49 0zm5 0zm20 0zm-156 1zm125 0zm5 1zm7 0zm13 0zm8 0zm-152 1zm117 0zm5 1zm0 0zm8 0zm5 1zm8 0zm-235 1zm217 1zm6 0zm10 0zm-227 2zm196 0zm14 0zm-227 1zm233 1zm2 0zm-12 1zm-219 1zm12 1zm5 0zm-16 1zm10 2zm1 0zm7 1zm-18 1zm20 0zm255 1zm-266 1zm19 0zm246 0zm-249 1zm5 0zm1 0zm8 0zm241 0zm-243 2zm3 1zm70 0zm-70 2zm244 0zm4 0zm2 2zm5 0zm8 0zm-263 1zm80 0zm178 0zm3 0zm-261 1zm4 1zm73 0zm180 1zm-255 2zm12 1zm-52 3zm57 1zm11 0zm6 1zm6 0zm-49 3zm3 0zm24 0zm2 0zm8 0zm-22 1zm3 0zm1 0zm7 0zm-3 1zm0 0zm18 0zm2 0zm6 0zm1 0zm-47 1zm2 0zm10 0zm11 0zm9 0zm11 0zm-39 1zm34 0zm1 0zm8 0zm-38 1zm1 0zm-22 1zm25 1zm10 0zm1 0zm-16 1zm32 0zm1 0zm7 0zm99 0zm16 0zm-158 1zm31 0zm110 0zm-35 1zm32 0zm10 1zm6 0zm6 0zm-19 3zm8 0zm4 0zm5 0zm-23 1zm0 0zm4 0zm17 1zm-4 1zm9 1zm-149 2zm144 0zm4 0zm-25 1zm3 0zm19 0zm-205 1zm99 0zm101 0zm4 0zm7 0zm1 0zm-141 1zm130 0zm3 0zm-121 1zm120 0zm1 0zm-123 1zm-16 1zm8 0zm5 0zm-55 1zm47 0zm5 0zm113 0zm2 0zm4 0zm-129 1zm145 0zm-207 1zm183 0zm8 0zm20 0zm-28 1zm10 0zm-151 1zm3 0zm14 1zm13 0zm134 0zm-195 1zm45 0zm6 0zm122 0zm18 0zm-149 1zm12 0zm7 0zm-28 1zm0 0zm6 0zm3 0zm5 0zm3 0zm15 0zm-38 1zm12 0zm21 0zm-37 1zm2 0zm7 0zm14 0zm137 0zm-140 1zm-15 2zm149 0zm21 0zm-171 1zm9 0zm-3 1zm176 0zm-200 1zm183 0zm10 0zm-207 1zm52 0zm125 0zm25 0zm-211 1zm29 0zm171 0zm-172 1zm166 0zm3 0zm-142 1zm98 0zm47 0zm-199 2zm57 0zm8 0zm151 1zm-212 1zm72 0zm126 0zm19 0zm-11 1zm-83 1zm48 0zm23 0zm16 0zm-111 1zm-6 1zm81 0zm40 0zm-220 1zm40 0zm58 0zm82 0zm5 0zm-84 1zm-41 1zm121 0zm19 0zm-129 1zm93 0zm9 0zm26 0zm16 0zm1 0zm-152 1zm17 1zm24 0zm12 0zm92 0zm3 0zm8 0zm-56 1zm49 0zm-157 1zm62 0zm44 0zm-123 1zm141 0zm-31 1zm64 0zm3 1zm-64 1zm46 0zm1 0zm9 0zm12 0zm-125 1zm116 0zm-141 1zm68 0zm61 0zm-124 1zm110 0zm19 0zm-67 1zm83 0zm-149 1zm23 0zm139 2zm-112 1zm-24 2zm4 0zm-8 2zm144 0zm3 0zm-150 1zm12 1zm128 0zm0 1zm14 0zm-2 1zm3 0zm1 0zm3 0zm-13 2zm12 0zm-6 1zm-5 2zm8 0zm0 0zm-11 1zm15 1zm-11 2zm10 2zm-2 1zm-5 2zm-3 3zm-11 4zm-16 13zm-1 6zm-182 18zm3 0z" stroke="#00B6EB"/><path d="M356 845zm32 2zm-33 2zm490 36zm6 13zm-520 194zm49 29zm-1 2zm128 2zm-133 1zm22 3zm-3 2zm110 0zm-103 3zm107 3zm-3 2zm6 0zm-97 1zm2 0zm96 0zm0 0zm-98 1zm81 0zm21 0zm-96 1zm2 1zm67 0zm54 0zm6 0zm-125 1zm55 0zm8 0zm4 0zm54 0zm-117 1zm9 0zm33 0zm1 0zm-38 1zm3 0zm19 0zm21 0zm-37 1zm6 0zm-7 1zm6 0zm-1 1zm16 8zm-47 2zm33 1zm13 3zm-47 1zm48 1zm-36 1zm40 0zm-48 5zm12 0zm20 3zm10 0zm-46 1zm39 0zm52 3zm-56 1zm6 2zm-25 1zm79 0zm-5 1zm-21 1zm25 0zm-37 1zm-45 1zm2 0zm29 0zm18 0zm14 0zm-56 1zm52 0zm24 0zm-25 1zm11 0zm4 0zm-9 1zm33 0zm1 0zm-33 1zm18 0zm26 0zm-127 1zm29 0zm44 0zm14 0zm26 0zm-123 1zm59 0zm30 0zm-56 2zm87 0zm21 0zm-145 1zm9 0zm12 0zm27 0zm-24 1zm41 0zm25 0zm16 0zm32 0zm-121 1zm42 0zm42 0zm28 0zm-131 1zm4 0zm4 0zm6 0zm7 0zm74 0zm-98 1zm2 0zm17 0zm12 0zm71 0zm28 0zm-10 1zm-104 1zm126 0zm-140 1zm8 0zm22 0zm4 0zm17 0zm4 0zm39 0zm19 0zm8 0zm17 0zm2 0zm-42 1zm3 0zm12 0zm-95 1zm9 0zm67 0zm2 0zm5 0zm13 0zm-113 1zm13 0zm11 0zm25 0zm51 0zm22 0zm-132 1zm26 0zm-29 1zm19 0zm11 0zm81 0zm3 0zm3 1zm-74 1zm87 0zm-127 1zm4 0zm7 0zm3 0zm25 0zm1 0zm4 0zm72 0zm1 0zm-120 1zm28 0zm1 0zm8 0zm7 0zm1 0zm67 0zm9 0zm-96 1zm-19 1zm4 0zm1 0zm11 0zm6 0zm1 0zm11 0zm5 0zm-46 1zm29 0zm5 0zm104 1zm-121 1zm1 1zm20 0zm6 0zm94 0zm-114 1zm109 0zm8 0zm-128 1zm7 1zm27 0zm85 0zm8 0zm-120 1zm23 0zm84 0zm-116 1zm17 0zm6 0zm2 0zm1 0zm1 0zm1 0zm10 1zm-36 1zm7 2zm25 0zm82 0zm-78 1zm-44 1zm37 0zm73 0zm-112 1zm1 0zm10 0zm13 0zm6 0zm14 0zm64 0zm-75 1zm49 0zm22 0zm-89 1zm16 0zm9 0zm-16 1zm17 0zm1 0zm5 0zm25 0zm5 0zm5 0zm12 0zm11 0zm6 0zm-96 1zm8 0zm71 0zm-25 1zm1 0zm10 0zm15 0zm9 0zm-79 1zm0 0zm72 0zm3 0zm2 0zm-65 1zm12 0zm10 0zm45 0zm-81 1zm2 0zm62 0zm2 0zm2 0zm-56 1zm0 0zm59 0zm-46 1zm8 0zm53 0zm-82 1zm17 0zm12 0zm-44 1zm5 2zm9 0zm-6 1zm49 1z" stroke="#C49A00"/><path d="M215 803zm-5 2zm-18 1zm-1 2zm15 0zm-4 3zm11 0zm3 0zm14 0zm-43 1zm18 0zm16 0zm-29 1zm5 0zm12 0zm3 0zm28 0zm-52 1zm0 0zm20 0zm11 0zm21 0zm-54 1zm4 0zm10 0zm15 0zm29 0zm-54 1zm10 0zm7 0zm14 0zm14 0zm-42 3zm3 0zm7 0zm6 0zm30 0zm1 0zm0 0zm-6 1zm5 0zm-39 1zm5 0zm8 0zm36 0zm-61 1zm22 0zm5 0zm10 0zm15 0zm-53 1zm28 0zm11 0zm1 0zm16 0zm-25 1zm14 0zm20 0zm14 0zm-88 1zm5 0zm32 0zm24 0zm10 0zm-47 1zm47 0zm-78 1zm28 0zm1 0zm7 0zm10 0zm35 0zm-54 1zm3 0zm6 0zm7 0zm50 0zm-83 1zm6 0zm14 0zm19 0zm12 0zm3 0zm-52 1zm37 0zm25 0zm14 0zm-90 1zm13 0zm19 0zm7 0zm33 0zm21 0zm-53 1zm33 0zm8 0zm-23 1zm3 0zm5 0zm31 0zm0 0zm15 0zm-50 1zm12 0zm-44 1zm16 0zm3 0zm19 0zm38 0zm-91 1zm20 0zm13 0zm7 0zm38 0zm13 0zm-40 1zm30 0zm-97 1zm49 0zm4 0zm1 0zm35 0zm10 0zm-102 1zm5 0zm4 0zm21 0zm1 0zm2 0zm4 0zm16 0zm27 0zm-87 1zm77 0zm16 0zm9 0zm16 0zm-115 1zm2 0zm23 0zm2 0zm16 0zm2 0zm18 0zm62 0zm-123 1zm69 0zm21 0zm-40 1zm0 0zm6 0zm9 0zm1 0zm30 0zm-76 1zm3 0zm29 0zm65 0zm-123 1zm19 0zm18 0zm47 0zm43 0zm-96 1zm11 0zm58 0zm4 0zm6 0zm4 0zm13 0zm2 0zm-130 1zm11 0zm7 0zm2 0zm40 0zm23 0zm48 0zm86 0zm-218 1zm0 0zm15 0zm38 0zm12 0zm17 0zm30 0zm11 0zm-24 1zm22 0zm-121 1zm5 0zm24 0zm24 0zm27 0zm1 0zm13 0zm-92 1zm27 0zm73 0zm22 0zm1 0zm-128 1zm26 0zm7 0zm0 0zm60 0zm20 0zm9 0zm14 0zm1 0zm0 0zm5 0zm-140 1zm5 0zm8 0zm9 0zm5 0zm28 0zm5 0zm3 0zm37 0zm4 0zm1 0zm8 0zm2 0zm19 0zm-123 1zm59 0zm6 0zm4 0zm33 0zm-68 1zm31 0zm63 0zm-132 1zm18 0zm3 0zm2 0zm13 0zm75 0zm-110 1zm3 0zm28 0zm25 0zm33 0zm2 0zm11 0zm24 0zm-131 1zm95 0zm4 0zm29 0zm10 0zm-138 1zm36 0zm36 0zm30 0zm11 0zm18 0zm-123 1zm25 0zm15 1zm44 0zm41 0zm-114 1zm16 0zm5 0zm17 0zm61 0zm1 0zm7 0zm2 0zm17 0zm1 0zm-153 1zm74 0zm18 0zm59 0zm7 0zm-116 1zm6 0zm46 0zm7 0zm38 0zm8 0zm-134 1zm1 0zm34 0zm7 0zm67 0zm2 0zm7 0zm11 0zm3 0zm3 0zm3 0zm3 0zm-139 1zm69 0zm64 0zm-136 1zm42 0zm45 0zm26 0zm-69 1zm7 0zm3 0zm35 0zm8 0zm15 0zm27 0zm-124 1zm3 0zm8 0zm6 0zm1 0zm22 0zm13 0zm0 0zm48 0zm5 0zm-123 1zm19 0zm26 0zm65 0zm1 0zm8 0zm22 0zm7 0zm-128 1zm14 0zm19 0zm5 0zm2 0zm23 0zm-23 1zm3 0zm36 0zm17 0zm1 0zm8 0zm-120 1zm47 0zm3 0zm14 0zm21 0zm13 0zm4 0zm-100 1zm15 0zm31 0zm2 0zm89 0zm-138 1zm1 0zm9 0zm30 0zm36 0zm4 0zm5 0zm-83 1zm34 0zm27 0zm36 0zm10 0zm-109 1zm25 0zm43 0zm3 0zm28 0zm18 0zm17 0zm8 0zm-121 1zm3 0zm20 0zm22 0zm6 0zm4 0zm36 0zm0 0zm27 0zm-141 1zm41 0zm7 0zm17 0zm26 0zm15 0zm8 0zm4 0zm1 0zm13 0zm-128 1zm11 0zm104 0zm5 0zm11 0zm-127 1zm0 0zm6 0zm0 0zm30 0zm28 0zm1 0zm17 0zm8 0zm9 0zm1 0zm5 0zm4 0zm-112 1zm13 0zm8 0zm12 0zm27 0zm12 0zm16 0zm19 0zm2 0zm9 0zm-79 1zm16 0zm-55 1zm38 0zm9 0zm7 0zm20 0zm17 0zm17 0zm11 0zm8 0zm4 0zm16 0zm-124 1zm16 0zm7 0zm32 0zm29 0zm13 0zm15 0zm-129 1zm22 0zm8 0zm2 0zm3 0zm9 0zm54 0zm47 0zm-145 1zm1 0zm7 0zm20 0zm20 0zm11 0zm0 0zm25 0zm9 0zm28 0zm18 1zm-130 1zm0 0zm17 0zm7 0zm1 0zm19 0zm21 0zm13 0zm3 0zm6 0zm-77 1zm9 0zm32 0zm61 0zm-75 1zm8 0zm1 0zm6 0zm-17 1zm97 0zm-111 1zm16 0zm55 0zm17 0zm-100 1zm0 0zm46 0zm12 0zm12 0zm61 0zm9 0zm-144 1zm24 0zm1 0zm28 0zm18 0zm29 0zm10 0zm28 0zm-132 1zm12 0zm3 0zm3 0zm48 0zm20 0zm11 0zm27 0zm-109 1zm58 0zm2 0zm11 0zm25 0zm-115 1zm17 0zm32 0zm38 0zm45 0zm15 0zm-129 1zm61 0zm56 0zm-83 1zm14 0zm-36 1zm32 0zm6 0zm71 0zm-125 1zm11 0zm6 0zm17 0zm0 0zm18 0zm2 0zm26 0zm54 0zm0 0zm-119 1zm14 0zm12 0zm12 0zm6 0zm16 0zm12 0zm-115 1zm69 0zm24 0zm66 0zm1 0zm-149 1zm7 0zm1 0zm78 0zm-27 1zm14 0zm19 0zm3 0zm-91 1zm42 0zm54 0zm-55 1zm42 0zm2 0zm2 0zm-25 1zm-1 1zm24 0zm2 0zm-89 1zm55 0zm-38 1zm20 0zm17 0zm39 0zm-87 1zm5 0zm77 0zm-86 1zm8 0zm25 0zm27 0zm-66 1zm99 1zm-34 1zm31 1zm-73 1zm60 0zm2 0zm-44 2zm5 0zm11 1zm31 1zm-63 1zm2 0zm23 0zm-18 1zm53 0zm6 1zm2 0zm-60 1zm58 0zm-61 1zm61 0zm-53 1zm62 0zm-40 1zm38 0zm0 0zm12 0zm-89 2zm52 0zm8 0zm1 0zm19 0zm6 0zm-36 1zm17 0zm8 0zm-27 1zm33 0zm8 0zm-34 1zm41 1zm-87 1zm40 0zm37 0zm-43 1zm14 0zm17 0zm5 0zm9 0zm-24 1zm5 0zm10 0zm14 0zm-21 1zm5 0zm11 0zm2 0zm-75 1zm71 1zm-66 1zm65 0zm8 0zm8 0zm-38 1zm19 2zm-67 1zm73 0zm-28 1zm8 0zm24 0zm-15 1zm-3 4zm2 0zm131 0zm-193 1zm75 0zm93 0zm81 0zm-177 1zm2 0zm13 0zm14 0zm135 1zm-172 1zm52 1zm61 0zm22 0zm29 0zm-100 1zm126 0zm-256 1zm73 0zm-15 1zm12 0zm105 0zm-99 1zm13 0zm4 0zm11 0zm138 0zm-178 1zm8 0zm59 0zm10 0zm-63 1zm5 0zm15 0zm0 0zm16 0zm121 0zm-167 1zm56 0zm8 0zm-55 1zm1 0zm8 0zm7 0zm9 0zm12 0zm58 1zm38 0zm-119 1zm37 0zm-124 1zm70 0zm7 0zm29 0zm102 0zm-110 1zm32 0zm-35 1zm27 0zm-40 2zm31 0zm-41 1zm30 0zm23 0zm77 5zm-80 1zm-39 1zm27 0zm-23 1zm4 2zm-3 1zm0 5zm107 17zm-7 14zm80 10zm-52 2zm41 3zm-78 5zm24 1zm39 0zm-51 2zm-14 1zm13 0zm10 0zm2 0zm-15 2zm10 0zm-2 1zm-96 44zm11 2zm0 2zm3 3zm12 1zm3 4zm-7 4zm11 3zm2 0zm24 11zm-4 2zm1 0zm9 2zm2 4zm7 1zm-3 1zm-3 1zm10 1zm6 7zm1 0z" stroke="#FB61D7"/><path d="M707 794zm4 0zm1 1zm16 1zm-35 1zm11 0zm1 0zm1 0zm1 0zm6 0zm24 0zm-4 1zm-33 1zm15 0zm24 0zm3 0zm1 0zm4 0zm-41 1zm10 0zm3 0zm-30 1zm38 0zm-33 1zm5 0zm31 0zm12 0zm13 0zm-76 1zm27 0zm0 0zm13 0zm0 0zm-5 1zm42 0zm-53 1zm2 0zm7 0zm25 0zm0 0zm17 0zm-49 1zm8 0zm-6 1zm8 0zm38 0zm6 0zm-74 1zm60 0zm-50 1zm24 0zm4 0zm2 0zm-58 1zm87 0zm-77 1zm37 0zm4 0zm33 0zm2 0zm-78 1zm17 0zm44 0zm21 0zm-74 1zm2 0zm32 0zm12 0zm18 0zm9 0zm-90 1zm49 0zm23 0zm-68 1zm33 0zm14 0zm9 0zm11 0zm5 0zm25 0zm-96 1zm75 0zm5 0zm6 0zm-93 1zm28 0zm8 0zm0 0zm7 0zm7 0zm41 0zm1 0zm-94 1zm79 0zm33 0zm-112 1zm36 0zm56 0zm6 0zm8 0zm13 0zm6 0zm-119 1zm16 0zm45 0zm7 0zm7 0zm-73 1zm11 0zm3 0zm9 0zm3 0zm13 0zm8 0zm1 0zm2 0zm18 0zm18 0zm11 0zm-76 1zm28 0zm6 0zm1 0zm1 0zm11 0zm-77 1zm1 0zm17 0zm33 0zm29 0zm7 0zm-76 1zm5 0zm26 0zm48 0zm1 0zm-74 1zm34 0zm2 0zm24 0zm20 0zm8 0zm-101 1zm18 0zm21 0zm13 0zm3 0zm45 0zm28 0zm-115 1zm8 0zm5 0zm20 0zm41 0zm28 0zm21 0zm2 0zm1 0zm-140 1zm27 0zm1 0zm24 0zm14 0zm10 0zm2 0zm20 0zm-91 1zm14 0zm13 0zm24 0zm4 0zm15 0zm26 0zm5 0zm-111 1zm35 0zm14 0zm20 0zm5 0zm9 0zm9 0zm16 0zm29 0zm-110 1zm17 0zm6 0zm1 0zm21 0zm11 0zm-78 1zm21 0zm4 1zm27 0zm12 0zm44 0zm10 0zm14 0zm-112 1zm16 0zm3 0zm5 0zm99 0zm-145 1zm147 0zm-147 1zm2 0zm35 0zm30 0zm-49 1zm25 0zm17 0zm1 0zm1 0zm87 0zm15 0zm-152 1zm7 0zm70 0zm49 0zm15 0zm-127 1zm1 0zm7 0zm124 0zm3 0zm-152 1zm2 0zm39 0zm1 0zm8 0zm55 0zm-116 1zm17 0zm23 0zm12 0zm9 0zm13 0zm22 0zm23 0zm6 0zm3 0zm26 0zm-165 1zm16 0zm5 0zm24 0zm11 0zm53 0zm32 0zm20 0zm5 0zm7 0zm-172 1zm60 0zm19 0zm16 0zm10 0zm6 0zm10 0zm59 0zm-116 1zm21 0zm16 0zm46 0zm16 0zm2 0zm6 0zm-157 1zm4 0zm19 0zm15 0zm26 0zm7 0zm25 0zm1 0zm1 0zm60 0zm-108 1zm20 0zm19 0zm70 0zm-115 1zm19 0zm34 0zm13 0zm9 0zm36 0zm-137 1zm31 0zm15 0zm31 0zm28 0zm-52 1zm3 0zm-92 1zm9 0zm47 0zm44 0zm32 0zm-87 1zm54 0zm14 0zm-106 1zm53 0zm52 1zm-108 1zm39 0zm4 0zm45 0zm27 0zm-95 1zm54 0zm0 0zm105 0zm-197 1zm13 1zm35 0zm94 0zm-135 1zm17 0zm13 0zm18 0zm32 0zm-71 1zm20 0zm10 0zm36 0zm45 0zm-114 1zm23 0zm5 0zm8 0zm16 0zm-55 1zm103 0zm86 0zm-196 2zm37 0zm44 0zm-61 1zm104 0zm1 0zm2 0zm70 0zm-157 1zm5 0zm64 0zm5 0zm-81 1zm48 0zm118 0zm-208 1zm9 0zm36 0zm1 0zm87 0zm-90 1zm36 0zm21 0zm-56 1zm27 0zm10 0zm16 0zm-9 1zm-88 1zm125 0zm-117 1zm51 0zm15 0zm36 0zm2 0zm9 0zm4 0zm-90 1zm114 0zm-146 1zm72 0zm17 0zm-84 1zm32 0zm12 0zm25 0zm7 0zm3 0zm-41 1zm8 0zm61 0zm22 0zm-93 1zm16 0zm91 0zm-102 1zm35 0zm6 0zm56 0zm69 0zm1 0zm-175 1zm32 0zm2 0zm5 0zm43 0zm7 1zm-137 1zm64 1zm1 0zm27 0zm21 0zm37 0zm5 0zm62 0zm-225 1zm61 0zm10 0zm5 0zm38 0zm113 0zm7 0zm-225 1zm88 0zm-90 1zm82 0zm65 0zm74 0zm-148 1zm29 0zm10 0zm40 0zm17 0zm-125 1zm88 0zm25 0zm23 0zm45 0zm-233 1zm5 0zm71 0zm36 0zm18 0zm23 0zm2 0zm27 0zm-112 1zm-71 1zm93 0zm16 0zm11 0zm5 0zm33 0zm82 0zm3 0zm-94 1zm4 0zm93 0zm-169 1zm51 0zm2 1zm31 0zm-15 1zm14 0zm2 0zm56 0zm5 0zm-230 1zm157 0zm75 0zm15 0zm-75 1zm72 0zm11 0zm-257 1zm149 0zm9 0zm-20 1zm5 0zm20 0zm74 0zm-95 1zm-149 1zm178 0zm4 0zm-171 1zm159 0zm86 0zm-229 1zm-25 1zm175 0zm93 0zm-259 1zm260 0zm-131 1zm4 0zm15 0zm10 0zm-17 1zm1 0zm4 0zm-25 1zm22 0zm3 0zm88 0zm20 0zm-127 1zm12 0zm2 0zm108 0zm-396 1zm54 0zm218 0zm3 0zm21 0zm5 0zm94 0zm-125 1zm2 0zm23 0zm-22 1zm7 0zm23 0zm82 0zm-225 1zm114 0zm37 0zm-307 1zm76 0zm182 0zm44 0zm1 0zm88 0zm-258 1zm168 0zm78 0zm7 0zm-117 1zm20 0zm-15 1zm113 0zm-348 1zm221 0zm26 0zm12 0zm90 0zm-115 1zm20 0zm-177 1zm169 0zm-29 1zm0 0zm39 0zm1 0zm-201 1zm19 0zm131 0zm24 0zm27 0zm1 0zm91 0zm-268 1zm3 0zm2 0zm171 0zm-50 1zm9 0zm17 0zm11 0zm-207 1zm202 0zm15 0zm88 0zm-257 1zm132 0zm17 0zm15 0zm2 0zm-3 1zm5 0zm91 0zm-122 1zm2 0zm4 0zm113 0zm-106 1zm7 0zm-31 1zm33 0zm8 0zm-239 1zm195 0zm6 0zm6 0zm0 0zm17 0zm-33 1zm46 0zm-247 1zm82 0zm115 0zm18 0zm-23 1zm0 0zm8 0zm13 0zm27 0zm1 0zm-120 1zm83 1zm-40 1zm36 0zm27 0zm0 0zm14 0zm-20 1zm-194 1zm177 0zm35 0zm-40 1zm17 0zm-15 1zm8 0zm-162 1zm138 0zm13 0zm6 0zm14 0zm-24 1zm18 0zm5 0zm-21 1zm21 0zm-22 1zm9 0zm3 0zm7 0zm-15 1zm23 0zm-24 1zm3 0zm13 0zm5 0zm-18 1zm11 0zm-22 1zm6 0zm1 0zm10 0zm-19 1zm1 1zm10 0zm1 0zm-8 1zm7 0zm9 0zm-250 1zm10 0zm229 0zm-223 1zm219 1zm5 0zm1 1zm-78 1zm-130 1zm7 0zm107 0zm-121 1zm18 0zm-19 1zm5 0zm2 0zm0 1zm1 3zm10 1zm85 0zm-83 2zm5 0zm246 1zm5 1zm0 0zm1 0zm-173 1zm-115 1zm36 0zm1 0zm1 0zm14 0zm237 0zm-281 1zm-2 1zm46 0zm247 0zm2 1zm6 0zm2 0zm-253 1zm244 0zm-259 1zm267 0zm-257 1zm249 0zm9 0zm-186 1zm187 0zm-240 5zm5 0zm-18 1zm2 0zm3 1zm-7 1zm14 0zm15 0zm-58 1zm21 0zm15 0zm-10 2zm2 0zm-5 1zm14 1zm4 0zm7 0zm-48 1zm12 0zm2 0zm-35 1zm71 1zm7 0zm-2 1zm113 0zm9 0zm-21 1zm-41 2zm0 0zm41 0zm18 0zm-15 2zm16 0zm-16 1zm-8 1zm25 1zm-135 2zm16 0zm103 1zm-181 2zm51 0zm28 0zm114 0zm8 0zm-135 1zm121 0zm2 0zm-12 1zm18 0zm-109 1zm3 0zm108 0zm-227 1zm91 0zm4 0zm20 0zm12 0zm80 1zm17 0zm-223 1zm74 0zm41 0zm6 0zm84 0zm1 0zm23 0zm-166 1zm26 0zm141 0zm-140 1zm15 0zm103 0zm2 0zm-194 2zm194 0zm3 0zm4 0zm-9 1zm5 0zm23 0zm-164 1zm7 0zm-2 1zm142 0zm-117 1zm105 0zm19 0zm-140 1zm7 0zm10 0zm133 0zm-167 1zm144 0zm12 0zm-156 1zm9 0zm143 0zm-144 2zm140 0zm-161 1zm17 0zm2 0zm151 0zm-155 1zm26 0zm11 0zm106 0zm24 1zm-11 1zm-187 1zm16 0zm10 0zm108 0zm-100 1zm16 0zm122 0zm-151 1zm177 0zm5 0zm-199 1zm10 0zm25 0zm134 0zm28 1zm2 1zm-168 1zm15 0zm82 0zm22 0zm18 0zm11 0zm5 0zm-21 2zm8 0zm5 0zm8 0zm-132 1zm38 0zm-61 1zm107 0zm44 0zm-46 1zm0 0zm28 0zm11 0zm10 0zm2 0zm11 0zm-31 1zm9 0zm25 0zm-2 1zm-190 1zm-27 1zm75 0zm96 0zm2 0zm19 0zm7 2zm5 0zm13 0zm2 0zm-58 1zm-11 1zm-77 1zm77 1zm50 0zm9 0zm-124 1zm71 0zm48 0zm-262 1zm200 0zm42 0zm-102 2zm61 0zm33 0zm-137 1zm77 0zm84 0zm9 0zm-97 1zm9 0zm6 0zm6 0zm-34 1zm10 0zm15 0zm11 0zm77 0zm-83 1zm4 0zm3 0zm-28 1zm12 0zm-16 2zm1 0zm132 1zm-148 1zm6 1zm0 0zm136 1zm-153 2zm-4 1zm162 0zm6 1zm4 0zm-2 1zm0 1zm-8 1zm2 0zm-7 2zm2 0zm7 0zm2 0zm-2 1zm-1 1zm-10 3zm4 0zm1 2zm-207 46zm2 8z" stroke="#00B6EB"/><path d="M354 846zm2 0zm-23 241zm-1 1zm44 28zm129 0zm-120 7zm124 2zm-120 3zm9 4zm-2 1zm12 3zm105 2zm-104 1zm99 0zm1 0zm1 0zm11 1zm-8 1zm-30 1zm55 0zm-58 1zm51 0zm6 0zm-117 1zm2 0zm57 0zm39 0zm29 0zm-127 1zm56 0zm2 0zm2 0zm-4 1zm8 0zm60 0zm-107 1zm16 0zm96 0zm-112 1zm0 0zm5 1zm27 0zm-20 2zm11 2zm-24 5zm8 0zm-15 5zm20 0zm-21 1zm-24 6zm35 0zm15 2zm5 1zm-46 1zm33 1zm-21 1zm-19 1zm49 0zm4 0zm1 2zm2 0zm1 1zm0 1zm0 0zm3 0zm29 0zm2 0zm-94 1zm29 0zm31 0zm-54 1zm25 0zm34 0zm-2 1zm-33 1zm61 0zm-9 1zm17 0zm17 0zm-26 1zm-26 1zm22 0zm17 0zm2 0zm-12 1zm7 0zm-106 1zm99 0zm13 0zm17 2zm5 0zm-21 1zm-35 1zm53 0zm-127 1zm83 0zm3 0zm7 0zm6 0zm-119 1zm32 0zm1 0zm68 0zm22 0zm14 0zm10 0zm-104 1zm85 0zm-117 1zm2 0zm2 0zm9 0zm77 0zm-94 1zm103 0zm4 0zm23 0zm-115 1zm5 0zm9 0zm25 0zm6 0zm37 1zm-96 1zm12 0zm81 0zm4 0zm31 0zm-120 1zm11 0zm8 0zm89 0zm12 0zm-128 1zm18 0zm-13 2zm125 0zm-143 1zm11 0zm141 0zm-138 1zm4 0zm98 0zm-110 1zm37 0zm100 0zm-135 1zm3 0zm6 0zm122 0zm3 0zm0 0zm6 0zm-142 1zm29 0zm2 0zm81 0zm0 0zm23 0zm-130 1zm1 0zm12 0zm15 0zm-15 1zm20 0zm-37 1zm8 0zm22 0zm96 0zm-109 1zm12 0zm-23 1zm17 0zm-18 1zm18 0zm0 0zm11 0zm109 0zm-29 1zm-99 1zm24 0zm4 0zm70 0zm-85 1zm100 0zm-130 1zm6 0zm21 0zm7 0zm1 0zm87 1zm0 0zm-104 1zm5 1zm2 1zm13 0zm0 0zm-36 1zm106 0zm-101 1zm1 0zm0 1zm0 0zm105 0zm-112 1zm23 0zm11 0zm8 0zm-39 1zm14 0zm6 0zm3 0zm9 0zm9 0zm62 0zm-98 1zm8 0zm4 0zm76 0zm-83 1zm65 0zm11 0zm14 0zm-96 1zm20 0zm1 0zm3 0zm35 0zm23 0zm10 0zm3 0zm-76 1zm2 0zm10 0zm32 0zm1 0zm23 0zm-96 1zm15 0zm5 0zm54 0zm11 0zm12 0zm-55 1zm3 0zm39 0zm9 0zm1 0zm1 0zm4 0zm8 0zm-86 1zm62 0zm20 0zm-68 1zm12 0zm8 0zm29 0zm9 0zm-80 1zm74 0zm5 0zm-58 1zm12 0zm1 0zm41 0zm2 0zm-52 1zm44 0zm-58 1zm29 0zm-33 1zm10 0zm-2 2z" stroke="#C49A00"/><path d="M390 1032zm47 17zm35 2zm51 27zm1 3zm-88 2zm13 0zm5 0zm21 3zm84 1zm6 6zm129 3zm-125 1zm2 0zm123 0zm-151 2zm10 2zm2 0zm-5 3zm43 1zm-33 1zm-4 1zm0 0zm51 0zm79 0zm-119 1zm17 0zm2 0zm-33 1zm4 0zm0 0zm59 0zm-71 1zm12 1zm4 0zm23 0zm36 0zm-54 2zm2 0zm-12 1zm9 0zm-3 1zm0 0zm7 1zm11 0zm55 0zm35 1zm-88 2zm3 0zm-13 1zm9 0zm-21 2zm21 0zm83 1zm-91 1zm4 0zm4 0zm2 0zm2 0zm74 0zm1 1zm-83 1zm9 1zm70 0zm-72 1zm70 3zm-74 1zm18 1zm50 1zm1 0zm-5 3zm1 1zm-141 1zm133 2zm0 1zm-37 3zm-47 1zm7 0zm2 0zm7 0zm-22 1zm49 2zm35 0zm-56 1zm54 0zm-42 1zm2 2zm34 1zm-24 2zm-8 1zm1 0zm11 2z" stroke="#F8766D"/><path d="M369 843zm-11 4zm-154 57zm7 0zm-30 2zm295 2zm15 0zm-295 1zm3 2zm-1 1zm290 1zm-11 1zm-225 1zm-57 1zm289 1zm-222 3zm198 0zm-181 4zm-59 1zm282 0zm41 0zm-309 3zm290 0zm35 1zm-338 2zm343 1zm-344 3zm3 1zm373 2zm-142 4zm41 0zm-56 3zm38 0zm-35 1zm34 1zm-204 1zm180 0zm-235 1zm2 0zm214 1zm2 0zm12 0zm1 0zm16 0zm1 0zm-244 1zm251 0zm-85 1zm40 0zm32 0zm1 0zm1 0zm0 1zm6 0zm6 0zm-189 1zm182 1zm0 1zm3 0zm-86 1zm1 0zm76 0zm14 0zm-137 2zm24 0zm70 0zm-138 1zm30 0zm139 0zm14 0zm10 0zm-267 1zm148 0zm18 0zm52 0zm-148 1zm13 0zm15 0zm111 0zm7 0zm10 0zm-145 1zm155 0zm-154 1zm10 0zm22 0zm23 0zm49 0zm-104 1zm8 0zm45 0zm1 0zm30 0zm54 0zm-15 1zm57 0zm36 0zm-196 1zm32 0zm4 0zm22 0zm7 0zm-28 1zm20 0zm-49 1zm28 1zm12 1zm3 0zm-40 1zm44 0zm30 0zm51 0zm-66 1zm54 0zm5 0zm-148 1zm33 0zm-15 1zm157 0zm43 0zm-191 1zm14 0zm-125 1zm118 0zm45 0zm20 0zm-65 1zm0 0zm8 0zm11 0zm61 0zm121 0zm-198 1zm143 0zm-265 1zm107 1zm9 0zm8 0zm7 0zm58 3zm-53 2zm208 2zm-247 1zm220 2zm-9 1zm-94 12zm-62 3zm171 0zm-201 3zm1 0zm16 0zm-20 2zm0 0zm0 0zm-12 1zm1 0zm4 0zm0 0zm141 2zm-160 1zm24 0zm83 0zm-107 1zm7 1zm196 0zm-183 2zm-13 1zm245 0zm-252 1zm13 0zm-21 1zm-2 2zm9 1zm195 1zm-202 1zm85 0zm121 1zm-107 1zm93 0zm-9 1zm7 0zm-82 1zm89 0zm-20 1zm-67 2zm80 0zm-125 1zm55 1zm23 0zm-39 1zm51 0zm-46 1zm73 0zm19 0zm-99 1zm1 2zm3 0zm27 1zm-44 2zm84 1zm-300 1zm310 0zm-317 1zm1 0zm32 0zm-12 1zm12 0zm15 0zm1 0zm227 0zm-249 1zm6 0zm197 0zm2 0zm-254 1zm6 0zm11 0zm5 0zm30 0zm202 0zm-230 1zm8 0zm5 0zm6 0zm10 0zm56 0zm306 0zm-414 1zm10 0zm38 0zm38 0zm165 0zm-233 1zm9 0zm18 0zm24 0zm175 0zm21 0zm8 0zm-270 1zm15 0zm7 0zm10 0zm29 0zm18 0zm8 0zm16 0zm8 0zm115 0zm-218 1zm1 0zm60 0zm51 0zm80 0zm81 0zm100 0zm-362 1zm5 0zm25 0zm23 0zm3 0zm41 0zm82 0zm85 0zm4 0zm-291 1zm13 0zm10 0zm4 0zm12 0zm102 0zm152 0zm-295 1zm18 0zm2 0zm10 0zm4 0zm21 0zm11 0zm31 0zm34 0zm10 0zm57 0zm64 0zm-247 1zm7 0zm4 0zm1 0zm6 0zm108 0zm6 0zm32 0zm12 0zm105 0zm6 0zm-304 1zm5 0zm1 0zm25 0zm0 0zm1 0zm13 0zm17 0zm40 0zm45 0zm154 0zm17 0zm10 0zm119 0zm10 0zm-464 1zm46 0zm25 0zm16 0zm31 0zm33 0zm0 0zm3 0zm16 0zm-168 1zm12 0zm26 0zm6 0zm12 0zm17 0zm9 0zm21 0zm32 0zm189 0zm4 0zm-328 1zm38 0zm52 0zm-87 1zm14 0zm27 0zm5 0zm18 0zm39 0zm16 0zm227 0zm1 0zm8 0zm-346 1zm31 0zm18 0zm26 0zm265 0zm10 0zm56 0zm-405 1zm32 0zm10 0zm17 0zm5 0zm1 0zm8 0zm24 0zm1 0zm10 0zm284 0zm-387 1zm19 0zm0 0zm7 0zm11 0zm48 0zm5 0zm5 0zm32 0zm227 0zm-333 1zm41 0zm9 0zm24 0zm275 0zm-395 1zm22 0zm26 0zm1 0zm26 0zm18 0zm1 0zm3 0zm24 0zm-116 1zm20 0zm40 0zm20 0zm54 0zm2 0zm-125 1zm17 0zm9 0zm10 0zm7 0zm13 0zm28 0zm4 0zm3 0zm1 0zm15 0zm8 0zm189 0zm52 0zm-319 1zm8 0zm8 0zm3 0zm3 0zm6 0zm-82 1zm13 0zm38 0zm17 0zm4 0zm2 0zm22 0zm11 0zm1 0zm25 0zm229 0zm-353 1zm30 0zm3 0zm61 0zm28 0zm186 0zm-314 1zm12 0zm13 0zm6 0zm11 0zm14 0zm44 0zm17 0zm-77 1zm3 0zm12 0zm2 0zm3 0zm16 0zm37 0zm-115 1zm2 0zm7 0zm15 0zm1 0zm2 0zm17 0zm11 0zm22 0zm-44 1zm36 0zm6 0zm316 0zm-369 1zm10 0zm9 0zm5 0zm6 0zm17 0zm11 0zm311 0zm-391 1zm27 0zm11 0zm4 0zm11 0zm5 0zm54 0zm-110 1zm41 0zm5 0zm2 0zm-52 1zm8 0zm2 0zm28 0zm2 0zm5 0zm17 0zm255 0zm-314 1zm17 0zm6 0zm12 0zm1 0zm10 0zm7 0zm2 0zm-26 1zm18 0zm11 0zm49 0zm7 0zm-100 1zm10 0zm20 0zm66 0zm-102 1zm11 0zm1 0zm0 0zm14 0zm4 0zm26 0zm37 0zm18 0zm2 0zm-122 1zm10 0zm8 0zm1 0zm6 0zm53 0zm20 0zm8 0zm15 0zm-114 1zm2 0zm3 0zm8 0zm8 0zm25 0zm67 0zm-107 1zm41 0zm52 0zm4 0zm12 0zm-23 1zm18 0zm88 0zm-209 1zm4 0zm13 0zm2 0zm12 0zm16 0zm-31 1zm41 0zm14 0zm-69 1zm51 0zm12 0zm31 0zm-90 1zm13 0zm7 0zm28 0zm10 0zm6 0zm149 0zm-217 1zm52 0zm19 0zm28 0zm1 0zm7 0zm7 0zm98 0zm-198 1zm6 0zm8 0zm12 0zm20 0zm34 0zm115 0zm-202 1zm5 0zm16 0zm2 0zm39 0zm4 0zm-69 1zm20 0zm21 0zm3 0zm-30 1zm21 0zm23 0zm0 0zm11 0zm33 0zm10 0zm-91 1zm2 0zm5 0zm15 0zm20 0zm14 0zm-23 1zm-53 1zm34 0zm8 0zm15 0zm3 0zm-48 1zm15 0zm9 0zm30 0zm3 0zm26 0zm-94 1zm15 0zm51 0zm-65 1zm3 0zm10 0zm42 0zm6 0zm22 0zm-82 1zm18 0zm4 0zm6 0zm12 0zm18 0zm7 0zm151 0zm-212 1zm1 0zm11 0zm29 0zm15 0zm22 1zm-86 1zm11 0zm23 0zm5 0zm18 0zm7 0zm7 0zm4 0zm0 0zm157 0zm-225 1zm2 0zm18 0zm41 0zm7 0zm148 0zm7 0zm-228 1zm31 0zm-10 1zm18 0zm181 0zm11 0zm7 0zm-218 1zm20 0zm13 0zm4 0zm-45 1zm6 0zm7 0zm21 0zm11 0zm6 0zm167 0zm-211 1zm4 0zm-2 1zm10 0zm-8 1zm206 1zm-202 1zm20 0zm-20 1zm17 0zm-10 1zm208 2zm74 24z" stroke="#53B400"/><path d="M477 899zm84 2zm-60 3zm-15 1zm18 0zm56 0zm-97 1zm4 1zm15 0zm-20 1zm44 0zm2 0zm-11 1zm-35 1zm18 0zm10 0zm27 0zm-52 1zm55 0zm-34 1zm7 0zm10 0zm45 0zm-85 1zm11 0zm33 0zm52 0zm-86 1zm3 0zm7 0zm5 0zm5 0zm10 0zm52 0zm-98 1zm8 0zm19 0zm9 0zm41 0zm17 0zm-88 1zm8 0zm21 0zm17 0zm33 0zm2 0zm24 0zm4 0zm-112 1zm14 0zm15 0zm-30 1zm29 0zm1 0zm8 0zm21 0zm55 0zm-119 1zm7 0zm2 0zm2 0zm6 0zm9 0zm7 0zm17 0zm-21 1zm6 0zm1 0zm18 0zm13 0zm53 0zm-121 1zm38 0zm15 0zm8 0zm4 0zm9 0zm32 0zm-91 1zm10 0zm8 0zm20 0zm42 0zm23 0zm-110 1zm18 0zm16 0zm13 0zm16 0zm17 0zm35 0zm-108 1zm19 0zm24 0zm14 0zm-71 1zm1 0zm95 0zm-72 1zm55 0zm16 0zm-57 1zm11 0zm43 1zm-80 1zm98 0zm10 0zm-117 1zm12 0zm19 0zm13 0zm40 0zm53 0zm-105 1zm3 0zm60 0zm-44 1zm-28 1zm55 0zm-45 1zm5 0zm4 0zm-13 1zm18 0zm35 0zm1 0zm36 0zm-73 1zm90 0zm-76 2zm27 0zm40 0zm2 0zm8 0zm-67 1zm23 0zm33 0zm-27 1zm1 0zm0 0zm2 0zm25 0zm0 0zm-34 1zm31 0zm5 0zm5 0zm2 0zm44 0zm0 0zm26 0zm6 0zm-105 1zm5 0zm1 0zm2 0zm6 0zm3 0zm4 0zm16 0zm58 0zm6 0zm-88 1zm76 0zm16 0zm-91 1zm11 0zm62 0zm25 0zm-109 1zm0 0zm26 0zm1 0zm42 0zm-47 2zm22 0zm35 9z" stroke="#A58AFF"/><path d="M379 1049zm64 8zm21 28zm82 21zm40 1zm-36 2zm40 2zm-25 1zm-12 3zm23 5zm10 1zm-13 4zm14 0zm1 10zm7 3zm-13 7zm-11 5zm-78 39zm22 8z" stroke="#00C094"/><path d="M728 793zm-1 1zm-21 2zm2 1zm27 1zm-20 1zm-25 1zm12 0zm28 0zm-50 1zm3 0zm17 0zm19 0zm25 0zm-26 1zm12 0zm6 0zm13 0zm-29 1zm-27 1zm24 0zm2 0zm-24 1zm30 0zm-52 1zm3 0zm17 0zm37 0zm14 0zm12 0zm-81 1zm52 1zm1 0zm2 0zm-53 1zm12 0zm14 0zm8 0zm27 0zm17 0zm-93 1zm10 0zm1 0zm16 0zm18 0zm13 0zm28 0zm-57 1zm31 0zm10 0zm-66 1zm43 0zm-44 1zm0 0zm24 0zm43 0zm3 0zm-44 1zm19 0zm0 0zm1 0zm3 0zm10 0zm6 0zm30 0zm-83 1zm4 0zm20 0zm14 0zm1 0zm13 0zm17 0zm-39 1zm6 0zm10 0zm20 0zm1 0zm33 0zm-102 1zm38 0zm47 0zm-85 1zm38 0zm15 0zm24 0zm21 0zm-108 1zm4 0zm1 0zm3 0zm28 0zm5 0zm17 0zm2 0zm6 0zm-42 1zm13 0zm12 0zm22 0zm17 0zm21 0zm12 0zm-107 1zm25 0zm37 0zm13 0zm5 0zm15 0zm4 0zm-105 1zm32 0zm10 0zm9 0zm-41 1zm33 0zm6 0zm17 0zm18 0zm24 0zm-114 1zm9 0zm43 0zm4 0zm7 0zm19 0zm47 0zm-114 1zm42 0zm9 0zm1 0zm1 0zm-72 1zm13 0zm10 0zm20 0zm43 0zm26 0zm12 0zm-102 1zm32 0zm21 0zm22 0zm-81 1zm13 0zm14 0zm22 0zm20 0zm4 0zm-67 1zm43 0zm51 0zm8 0zm24 0zm5 0zm-99 1zm12 0zm4 0zm6 0zm-67 1zm7 0zm16 0zm5 0zm102 0zm-130 1zm6 0zm9 0zm5 0zm28 0zm7 0zm34 0zm27 0zm1 0zm8 0zm19 0zm4 0zm-147 1zm11 0zm1 0zm25 0zm1 0zm3 0zm24 0zm5 0zm79 0zm-161 1zm56 0zm16 0zm8 0zm42 0zm16 0zm-139 1zm9 0zm15 0zm38 0zm17 0zm7 0zm15 0zm23 0zm12 0zm4 0zm3 0zm-38 1zm0 0zm35 0zm11 0zm4 0zm1 0zm11 0zm-168 1zm9 0zm10 0zm1 0zm4 0zm4 0zm15 0zm8 0zm9 0zm8 0zm35 0zm13 0zm-91 1zm53 0zm1 0zm75 0zm-122 1zm25 0zm2 0zm35 0zm12 0zm16 0zm38 0zm6 0zm-143 1zm14 0zm43 0zm2 0zm48 0zm13 0zm3 0zm25 0zm-162 1zm9 0zm48 0zm28 0zm1 0zm7 0zm53 0zm4 0zm5 0zm-144 1zm9 0zm32 0zm2 0zm6 0zm9 0zm88 0zm-156 1zm29 0zm31 0zm17 0zm24 0zm55 0zm0 0zm2 0zm-154 1zm62 0zm6 0zm14 0zm4 0zm65 0zm3 0zm-147 1zm29 0zm1 0zm14 0zm9 0zm11 0zm13 0zm0 0zm21 0zm7 0zm-119 1zm53 0zm13 0zm19 0zm7 0zm21 0zm-126 1zm27 0zm39 0zm2 0zm6 0zm6 0zm8 0zm26 0zm-117 1zm124 0zm13 0zm-3 1zm-131 1zm98 0zm34 0zm-105 1zm69 0zm36 0zm-122 1zm37 1zm63 0zm19 0zm-135 1zm5 0zm18 0zm37 0zm33 0zm-92 1zm93 0zm26 0zm10 0zm-128 1zm10 0zm15 0zm46 0zm11 0zm5 0zm16 0zm2 0zm-88 1zm113 0zm-140 1zm10 0zm0 0zm25 0zm3 0zm17 0zm72 0zm-136 1zm34 0zm28 0zm59 0zm-17 1zm9 0zm19 0zm-113 1zm104 0zm-79 1zm33 0zm13 0zm-41 1zm6 0zm58 0zm0 0zm0 0zm24 0zm-107 1zm11 0zm85 0zm-95 1zm68 0zm3 0zm102 0zm-174 1zm-23 1zm48 0zm13 0zm34 0zm8 0zm-62 1zm3 0zm13 0zm64 0zm80 0zm-153 1zm0 0zm51 0zm4 1zm9 0zm-88 1zm77 0zm-48 1zm64 0zm-94 1zm70 0zm20 0zm6 0zm9 0zm75 0zm-162 1zm70 0zm-125 1zm99 0zm18 0zm36 0zm-151 1zm103 0zm43 0zm-113 1zm18 0zm9 0zm66 0zm-118 1zm51 0zm52 0zm7 0zm-122 1zm4 0zm9 0zm42 0zm52 0zm-111 1zm149 0zm83 0zm-228 1zm39 0zm7 1zm12 0zm25 0zm69 0zm6 0zm-156 1zm136 0zm-29 1zm42 0zm-159 1zm60 0zm99 0zm60 0zm0 0zm17 0zm-242 1zm154 0zm4 0zm48 0zm34 0zm-232 1zm13 0zm137 0zm3 1zm79 0zm1 0zm-229 1zm12 0zm76 0zm19 0zm30 0zm-66 1zm32 0zm5 0zm43 0zm62 0zm-234 1zm77 0zm89 0zm69 0zm23 0zm-255 1zm118 0zm28 0zm97 0zm12 0zm-128 1zm37 0zm-13 1zm106 0zm3 0zm-261 1zm10 0zm22 0zm58 0zm7 0zm63 0zm15 0zm74 0zm12 0zm-265 1zm162 0zm-28 1zm21 0zm8 0zm4 0zm95 0zm2 0zm-258 1zm6 0zm1 0zm7 0zm130 0zm17 0zm97 0zm-258 1zm1 0zm105 0zm64 0zm-165 1zm136 0zm27 0zm3 0zm94 0zm-104 1zm-13 1zm18 0zm1 0zm0 0zm98 0zm-127 1zm7 1zm-149 1zm4 0zm129 0zm8 0zm102 0zm-254 1zm143 0zm19 0zm24 0zm-178 1zm9 0zm122 0zm12 0zm6 0zm10 0zm15 0zm75 0zm-359 1zm-23 1zm124 0zm3 0zm1 0zm141 0zm9 0zm14 0zm102 0zm-371 1zm278 0zm-168 1zm128 0zm7 0zm21 0zm-278 1zm117 0zm34 0zm101 0zm19 0zm15 0zm-236 1zm63 0zm1 0zm137 0zm23 0zm2 0zm7 0zm9 0zm85 0zm8 0zm-378 1zm103 0zm35 0zm96 0zm46 0zm3 0zm94 0zm1 0zm-388 1zm251 0zm1 0zm2 0zm3 0zm7 0zm0 0zm8 0zm8 0zm14 0zm-182 1zm152 0zm-10 1zm35 0zm-37 1zm-132 1zm166 0zm1 0zm-181 1zm10 0zm160 0zm3 0zm10 0zm80 0zm-354 1zm13 0zm65 0zm146 0zm11 0zm12 0zm4 0zm6 0zm96 0zm-127 1zm7 0zm2 0zm11 0zm0 0zm115 0zm-134 1zm5 0zm19 0zm3 0zm-23 1zm13 0zm2 0zm13 0zm-271 1zm230 0zm4 0zm44 0zm-248 1zm217 0zm3 0zm13 0zm-8 1zm11 0zm11 0zm2 0zm-29 1zm7 0zm18 0zm-44 1zm10 0zm-41 1zm37 0zm1 0zm2 0zm4 0zm4 1zm32 0zm-53 1zm15 0zm1 0zm10 0zm-74 1zm59 0zm14 0zm-1 1zm-7 1zm23 0zm-39 1zm14 0zm21 0zm-10 1zm-31 1zm14 0zm15 0zm19 0zm-51 1zm16 0zm5 0zm11 0zm7 0zm9 0zm-47 1zm27 0zm-250 1zm206 0zm55 0zm-170 1zm159 1zm6 0zm-19 1zm10 0zm5 0zm-87 1zm95 1zm-25 1zm0 0zm-16 2zm10 1zm22 0zm-19 1zm3 0zm-2 1zm1 0zm0 0zm2 1zm0 1zm-246 1zm238 0zm2 0zm-211 2zm165 0zm-165 2zm0 1zm3 1zm8 0zm258 0zm-267 1zm25 1zm241 1zm2 0zm-169 1zm-91 1zm9 1zm253 0zm16 0zm-258 1zm238 0zm-253 1zm88 1zm180 0zm-255 1zm0 0zm259 0zm-260 1zm7 0zm249 0zm-258 1zm87 0zm178 2zm7 0zm-190 1zm2 0zm185 0zm-253 1zm-47 1zm48 0zm7 0zm-14 1zm-2 1zm4 2zm15 0zm2 1zm15 1zm4 0zm-36 1zm12 0zm-28 1zm20 0zm0 0zm-1 1zm9 0zm-21 1zm23 0zm19 0zm-28 1zm30 0zm-8 1zm5 0zm-37 1zm1 0zm15 0zm8 0zm12 0zm4 0zm4 0zm-6 1zm-27 1zm2 0zm20 0zm15 0zm-11 1zm116 0zm3 0zm-154 1zm39 0zm-8 2zm111 0zm-107 1zm120 0zm2 0zm1 0zm-60 1zm3 0zm36 2zm14 0zm0 0zm10 0zm1 0zm-24 1zm2 1zm3 0zm20 0zm-125 1zm118 0zm-7 1zm4 0zm-101 1zm108 1zm-140 1zm5 0zm3 0zm111 2zm-196 1zm35 0zm174 0zm2 0zm-149 1zm12 0zm13 0zm106 0zm10 0zm13 0zm-5 1zm-5 1zm5 0zm-132 1zm-13 1zm-40 1zm41 0zm10 0zm136 0zm-145 1zm8 0zm134 0zm6 1zm1 0zm-149 1zm13 0zm0 1zm-26 1zm3 0zm165 0zm-130 1zm108 0zm-162 1zm8 0zm12 0zm1 0zm5 0zm3 0zm-16 1zm11 0zm43 0zm97 0zm-156 1zm16 0zm6 0zm134 0zm12 0zm-120 1zm118 0zm-182 1zm3 0zm4 0zm162 0zm-135 1zm36 0zm-61 1zm42 0zm9 0zm13 0zm121 0zm1 1zm-226 1zm21 0zm9 0zm139 0zm31 0zm-147 2zm54 0zm83 0zm-4 1zm15 0zm2 0zm-166 1zm73 0zm94 0zm18 0zm-1 1zm-152 1zm11 0zm148 1zm-138 1zm78 0zm29 0zm-119 1zm1 0zm101 0zm8 0zm12 0zm18 0zm-178 1zm69 0zm3 0zm101 0zm12 0zm-14 1zm-203 1zm77 0zm9 0zm7 0zm87 0zm-90 1zm106 0zm21 0zm-87 1zm74 0zm-159 1zm39 0zm113 0zm21 0zm-217 1zm50 0zm50 0zm84 0zm-55 1zm83 0zm-153 1zm100 0zm3 0zm49 0zm-144 1zm145 0zm3 0zm-64 1zm46 0zm11 0zm-177 1zm82 0zm12 1zm76 0zm-166 1zm111 0zm1 0zm49 0zm9 0zm-102 1zm-78 1zm3 0zm71 0zm117 0zm-88 1zm8 0zm85 0zm-135 1zm39 0zm5 0zm83 0zm7 0zm-160 1zm58 0zm-77 1zm82 0zm-1 1zm-88 1zm69 0zm6 0zm115 0zm-190 1zm188 0zm-208 1zm72 0zm13 0zm-3 1zm-7 1zm134 0zm11 0zm9 0zm-207 1zm50 0zm143 1zm6 0zm-1 3zm2 0zm2 0zm-5 1zm7 0zm-5 2zm2 0zm2 1zm-7 1zm13 0zm-9 2zm-7 1zm11 0zm9 1zm-10 2zm-207 39zm6 7z" stroke="#00B6EB"/><path d="M471 1038zm-49 10zm-40 8zm136 16zm5 9zm30 0zm-110 1zm65 2zm192 4zm-136 3zm-2 2zm8 5zm-27 3zm46 0zm-45 1zm15 3zm51 0zm-54 1zm27 0zm-41 1zm21 0zm44 0zm-47 1zm6 0zm17 0zm2 0zm-14 2zm42 0zm8 0zm-61 1zm3 0zm0 0zm10 0zm-1 3zm5 0zm9 0zm-21 1zm62 0zm5 0zm-41 1zm1 0zm-17 1zm62 0zm-59 1zm-7 1zm5 0zm7 0zm1 0zm1 0zm0 0zm-17 1zm8 0zm68 1zm18 0zm-83 1zm4 0zm64 1zm11 1zm-3 1zm3 2zm-77 1zm5 0zm68 1zm-1 2zm-74 2zm9 0zm53 0zm6 0zm3 1zm-56 5zm-2 2zm4 0zm45 0zm-51 1zm-1 1zm4 2zm41 0zm-72 1zm35 1zm3 0zm27 1zm8 0zm-55 1zm47 0zm-58 1zm1 0zm31 0zm-17 1zm1 0zm-2 2zm7 0zm37 0zm-9 3zm-38 1zm27 0zm7 0zm-17 1zm8 2zm3 3z" stroke="#F8766D"/><path d="M543 902zm16 1zm-76 2zm-20 3zm18 0zm26 0zm0 0zm-46 1zm19 0zm24 0zm3 0zm9 0zm-20 1zm17 0zm-46 1zm9 0zm52 0zm17 0zm-47 1zm66 0zm-100 2zm4 1zm1 0zm3 0zm10 0zm8 0zm1 0zm1 0zm0 0zm14 0zm-36 1zm15 0zm4 0zm18 0zm13 0zm-10 1zm37 0zm-88 1zm1 0zm2 0zm8 0zm20 0zm18 0zm17 0zm-66 1zm47 0zm18 0zm30 0zm15 0zm-111 1zm10 0zm0 0zm17 0zm8 0zm1 0zm51 0zm8 0zm1 0zm17 0zm3 0zm-111 1zm30 0zm78 0zm-127 1zm18 0zm8 0zm12 0zm-15 1zm5 0zm13 0zm2 1zm35 0zm-57 1zm96 0zm2 0zm2 0zm-78 1zm39 0zm17 0zm3 0zm-8 1zm31 0zm19 0zm-123 1zm15 0zm7 0zm98 0zm-97 1zm6 0zm66 0zm17 0zm2 0zm-75 1zm29 0zm7 1zm-61 1zm29 0zm69 1zm-93 1zm19 0zm77 2zm-40 1zm21 0zm23 1zm-75 1zm49 0zm20 0zm0 0zm96 0zm-99 1zm1 0zm15 0zm-55 1zm46 0zm8 0zm2 0zm53 0zm-68 1zm1 0zm11 0zm3 0zm58 0zm-70 1zm7 0zm88 0zm-30 1zm12 0zm20 0zm-105 1zm6 0zm6 0zm5 0zm6 0zm-7 1zm5 0zm58 0zm-67 2zm30 9z" stroke="#A58AFF"/><path d="M449 907zm-265 3zm297 5zm3 2zm-279 1zm253 1zm-253 1zm1 1zm255 0zm-251 2zm279 0zm59 3zm-333 1zm-3 2zm10 0zm-2 6zm39 0zm302 7zm35 0zm-121 1zm14 0zm100 0zm-361 1zm243 0zm96 0zm-350 2zm1 1zm74 0zm179 0zm15 0zm2 0zm-216 2zm203 0zm-7 1zm14 0zm-210 1zm27 0zm179 0zm1 0zm2 0zm-56 1zm28 0zm-34 1zm36 0zm-174 1zm138 0zm-17 1zm44 0zm28 0zm2 0zm-124 1zm105 0zm-236 1zm209 0zm60 0zm-178 1zm7 0zm64 0zm43 0zm-207 1zm160 0zm41 0zm-110 1zm42 0zm28 0zm14 0zm49 0zm17 0zm11 0zm-94 1zm55 0zm1 0zm-137 1zm14 0zm20 0zm27 0zm32 0zm14 0zm39 0zm35 0zm16 0zm-191 1zm49 0zm1 0zm39 0zm19 0zm39 0zm7 0zm-172 1zm17 0zm7 0zm8 0zm31 0zm13 0zm40 0zm-107 1zm43 0zm36 0zm22 0zm47 0zm-100 1zm36 0zm72 0zm0 0zm-108 1zm53 0zm-58 1zm44 0zm-3 1zm3 0zm-11 1zm77 0zm-96 2zm6 0zm27 0zm-3 1zm4 1zm-55 2zm46 0zm-150 1zm9 1zm75 1zm24 0zm8 0zm1 0zm49 0zm-21 1zm21 0zm154 0zm-199 1zm137 0zm-133 1zm190 0zm-195 2zm137 0zm0 1zm24 0zm-188 1zm230 0zm-19 3zm-47 1zm73 4zm-217 8zm99 3zm-108 3zm7 0zm-6 1zm1 0zm-1 1zm-2 1zm3 0zm1 3zm3 0zm-7 1zm69 0zm70 0zm-151 1zm5 0zm7 1zm78 0zm69 0zm1 0zm-168 1zm2 0zm6 0zm-8 2zm133 0zm-133 1zm11 1zm-8 1zm76 0zm97 0zm53 0zm-231 1zm4 0zm-6 1zm-3 1zm196 0zm-89 1zm-32 1zm21 0zm89 0zm-180 1zm169 1zm12 0zm-38 1zm47 0zm-235 2zm222 0zm12 0zm-81 1zm3 0zm45 0zm14 1zm27 0zm-28 1zm3 0zm-80 1zm22 0zm61 0zm3 0zm-8 1zm6 0zm-91 1zm8 0zm45 4zm-150 2zm-117 1zm2 0zm-5 1zm264 0zm-254 1zm4 0zm6 0zm5 0zm8 0zm12 0zm172 0zm12 0zm24 0zm12 0zm11 0zm28 0zm-303 1zm6 0zm13 0zm308 0zm-338 1zm6 0zm11 0zm51 0zm32 0zm-103 1zm37 0zm25 0zm183 0zm7 0zm-264 1zm15 0zm48 0zm1 0zm199 0zm-258 1zm1 0zm23 0zm22 0zm24 0zm138 0zm109 0zm-302 1zm3 0zm4 0zm8 0zm17 0zm32 0zm7 0zm128 0zm38 0zm14 0zm-277 1zm17 0zm33 0zm32 0zm248 0zm-328 1zm20 0zm14 0zm30 0zm59 0zm9 0zm70 0zm28 0zm5 0zm53 0zm106 0zm-373 1zm105 0zm49 0zm21 0zm62 0zm-255 1zm0 0zm3 0zm8 0zm5 0zm2 0zm20 0zm9 0zm21 0zm48 0zm26 0zm-138 1zm29 0zm8 0zm82 0zm9 0zm42 0zm7 0zm16 0zm55 0zm44 0zm59 0zm-336 1zm40 0zm39 0zm2 0zm24 0zm58 0zm111 0zm4 0zm1 0zm81 0zm-377 1zm8 0zm3 0zm11 0zm0 0zm0 0zm8 0zm13 0zm20 0zm53 0zm27 0zm160 0zm3 0zm-323 1zm40 0zm29 0zm41 0zm48 0zm156 0zm16 0zm43 0zm-367 1zm5 0zm7 0zm12 0zm11 0zm21 0zm84 0zm0 0zm31 0zm97 0zm-260 1zm2 0zm8 0zm2 0zm22 0zm6 0zm31 0zm38 0zm208 0zm1 0zm24 0zm2 0zm9 0zm-338 1zm8 0zm41 0zm2 0zm18 0zm24 0zm39 0zm198 0zm-342 1zm11 0zm14 0zm4 0zm45 0zm206 0zm72 0zm49 0zm-410 1zm1 0zm16 0zm119 0zm226 0zm4 0zm52 0zm-397 1zm18 0zm36 0zm25 0zm11 0zm13 0zm185 0zm91 0zm2 0zm5 0zm4 0zm-394 1zm8 0zm31 0zm6 0zm21 0zm295 0zm10 0zm1 0zm-386 1zm1 0zm0 0zm14 0zm4 0zm19 0zm0 0zm7 0zm2 0zm15 0zm41 0zm30 0zm0 0zm236 0zm17 0zm-385 1zm51 0zm6 0zm28 0zm214 0zm-287 1zm17 0zm9 0zm4 0zm1 0zm35 0zm21 0zm10 0zm269 0zm-389 1zm8 0zm7 0zm9 0zm8 0zm86 0zm-80 1zm15 0zm4 0zm41 0zm32 0zm-127 1zm18 0zm27 0zm241 0zm29 0zm-308 1zm18 0zm20 0zm3 0zm45 0zm-96 1zm44 0zm10 0zm62 0zm16 0zm-131 1zm6 0zm65 0zm21 0zm26 0zm218 0zm-343 1zm13 0zm14 0zm2 0zm30 0zm13 0zm32 0zm210 0zm-313 1zm7 0zm4 0zm34 0zm9 0zm6 0zm1 0zm290 0zm-340 1zm13 0zm0 0zm30 0zm3 0zm8 0zm73 0zm165 0zm48 0zm-321 1zm28 0zm1 0zm20 0zm-83 1zm17 0zm22 0zm36 0zm6 0zm34 0zm2 0zm-83 1zm10 0zm6 0zm14 0zm60 0zm-95 1zm0 0zm175 0zm108 0zm-311 1zm15 0zm64 0zm36 0zm2 0zm-94 1zm6 0zm25 0zm26 0zm3 0zm-71 1zm35 0zm14 0zm13 0zm6 0zm36 0zm8 0zm89 0zm-203 1zm119 0zm-119 1zm37 0zm17 0zm1 0zm2 0zm18 0zm18 0zm-93 1zm21 0zm16 0zm23 0zm18 0zm11 0zm2 0zm3 0zm-80 1zm3 0zm49 0zm48 0zm-92 1zm27 0zm19 1zm-61 1zm10 0zm65 0zm6 0zm-78 1zm1 0zm9 0zm4 0zm29 0zm29 0zm-82 1zm2 0zm35 0zm25 0zm8 0zm9 0zm5 0zm-53 1zm13 0zm12 0zm0 0zm12 0zm-72 1zm20 0zm4 0zm23 0zm13 0zm15 0zm11 0zm138 0zm-228 1zm50 0zm12 0zm7 0zm20 0zm-78 1zm17 0zm16 0zm9 0zm9 0zm-62 1zm37 0zm20 0zm8 0zm7 0zm20 0zm-84 1zm71 0zm8 0zm0 0zm7 0zm-59 1zm2 0zm8 0zm6 0zm31 0zm137 0zm-199 1zm50 0zm12 0zm18 0zm-83 1zm27 0zm15 0zm-14 1zm-12 1zm38 0zm156 0zm-218 1zm34 0zm6 0zm27 0zm-68 1zm7 0zm38 0zm12 0zm-20 2zm21 0zm6 0zm-58 1zm8 0zm5 0zm2 0zm19 0zm16 0zm5 0zm2 0zm-53 1zm0 0zm49 0zm-39 1zm1 0zm17 0zm19 0zm-38 1zm13 0zm16 0zm-44 1zm13 0zm6 0zm15 0zm11 0zm-43 1zm9 0zm12 0zm10 0zm2 0zm202 0zm-192 1zm188 0zm-194 1zm196 0zm-199 1zm198 0zm10 5zm8 1zm14 12zm93 0zm-88 3zm51 5z" stroke="#53B400"/><path d="M421 1043zm77 21zm-7 15zm-28 11zm80 13zm39 10zm-7 3zm-12 1zm-59 5zm81 2zm-78 1zm-6 7zm86 5zm-3 5zm-29 3zm24 5zm37 3zm-24 2zm-96 28zm31 18zm-35 10z" stroke="#00C094"/><path d="M195 808zm1 0zm2 0zm-1 1zm8 1zm12 0zm10 0zm1 1zm1 2zm5 0zm-30 1zm10 0zm4 0zm19 0zm9 0zm3 0zm-50 1zm-17 1zm39 0zm3 0zm-35 1zm8 0zm3 0zm45 0zm0 0zm-64 1zm25 0zm17 0zm6 0zm11 0zm13 0zm-44 1zm5 0zm-32 1zm30 0zm-28 1zm1 0zm15 0zm53 0zm-48 1zm37 0zm-69 1zm7 0zm16 0zm24 0zm12 0zm9 0zm-57 1zm19 1zm29 0zm2 0zm5 0zm-24 1zm2 0zm11 0zm19 0zm-74 1zm18 0zm48 0zm3 0zm-69 1zm19 0zm56 0zm5 0zm11 0zm-45 1zm27 0zm2 0zm-58 1zm32 0zm3 0zm-27 1zm46 0zm16 0zm-2 1zm1 0zm4 0zm-97 1zm11 0zm21 0zm4 0zm20 0zm21 0zm-78 1zm7 0zm8 0zm12 0zm11 0zm13 0zm9 0zm15 0zm-66 1zm26 0zm6 0zm21 0zm5 0zm11 0zm14 0zm24 0zm-110 1zm69 0zm-38 1zm6 0zm54 0zm-64 1zm10 0zm29 0zm38 0zm3 0zm-110 1zm0 0zm-10 1zm37 0zm53 0zm1 0zm-39 1zm8 0zm6 0zm27 0zm5 0zm10 0zm2 0zm-81 1zm31 0zm17 0zm24 0zm23 0zm-98 1zm7 0zm5 0zm23 0zm7 0zm23 0zm25 0zm0 0zm6 0zm-114 1zm10 0zm46 0zm6 0zm2 0zm12 0zm11 0zm2 0zm18 0zm-110 1zm69 0zm7 0zm23 0zm-104 1zm24 0zm24 0zm21 0zm11 0zm2 0zm18 0zm10 0zm4 0zm7 0zm77 0zm5 0zm-204 1zm14 0zm22 0zm33 0zm17 0zm3 0zm5 0zm28 0zm-79 1zm3 0zm62 0zm-110 1zm29 0zm17 0zm34 0zm24 0zm14 0zm-76 1zm2 0zm6 0zm28 0zm-8 1zm16 0zm6 0zm25 0zm9 0zm-71 1zm18 0zm57 0zm-131 1zm20 0zm10 0zm2 0zm7 0zm33 0zm5 0zm21 0zm36 0zm-107 1zm102 0zm8 0zm2 0zm-102 1zm16 0zm13 0zm64 0zm-125 1zm1 0zm-7 1zm78 0zm30 0zm15 0zm6 0zm6 0zm8 0zm-145 1zm23 0zm14 0zm7 0zm24 0zm2 0zm25 0zm1 0zm13 0zm12 0zm4 0zm23 0zm-140 1zm2 0zm13 0zm48 0zm1 0zm17 0zm45 0zm-89 1zm3 0zm16 0zm4 0zm-50 1zm3 0zm9 0zm24 0zm17 0zm23 0zm6 0zm43 0zm-135 1zm60 0zm30 0zm38 0zm-120 1zm2 0zm28 0zm53 0zm22 0zm7 0zm3 0zm-115 1zm49 0zm18 0zm58 0zm-141 1zm7 0zm67 0zm35 0zm6 0zm35 0zm-112 1zm9 0zm6 0zm11 0zm49 0zm29 0zm9 0zm-115 1zm36 0zm40 0zm33 0zm-132 1zm0 0zm45 0zm92 0zm-135 1zm14 0zm10 0zm11 0zm49 0zm29 0zm28 0zm-149 1zm5 0zm5 0zm50 0zm43 0zm5 0zm9 0zm4 0zm-32 1zm15 0zm12 0zm8 0zm-120 1zm12 0zm2 0zm13 0zm46 0zm10 0zm3 0zm36 0zm-119 1zm7 0zm25 0zm4 0zm7 0zm45 0zm0 0zm5 0zm7 0zm0 0zm38 0zm-138 1zm34 0zm12 0zm1 0zm22 0zm19 0zm10 0zm7 0zm41 0zm5 0zm-146 1zm17 0zm4 0zm22 0zm89 0zm-136 1zm2 0zm54 0zm34 0zm52 0zm-139 1zm17 0zm6 0zm29 0zm22 0zm2 0zm8 0zm1 0zm24 0zm-78 1zm25 0zm26 0zm15 0zm7 0zm8 0zm18 0zm-133 1zm6 0zm25 0zm1 0zm9 0zm110 0zm-143 1zm41 0zm5 0zm48 0zm8 0zm42 0zm-132 1zm54 0zm16 0zm4 0zm6 0zm-18 1zm37 0zm7 0zm-119 1zm47 0zm5 0zm24 0zm16 0zm26 0zm24 0zm9 0zm-62 1zm6 0zm40 0zm-115 1zm39 0zm39 0zm7 0zm13 0zm-110 1zm1 0zm0 0zm25 0zm17 0zm3 0zm22 0zm12 0zm25 0zm0 0zm13 0zm4 0zm17 0zm-142 1zm0 0zm5 0zm60 0zm53 0zm5 0zm-125 1zm4 0zm10 0zm37 0zm10 0zm60 0zm6 0zm-106 1zm26 0zm20 0zm35 0zm1 0zm-47 1zm9 0zm23 0zm16 0zm20 0zm15 0zm3 0zm11 0zm-119 1zm0 0zm3 0zm20 0zm15 0zm-57 1zm3 0zm4 0zm50 0zm30 0zm32 0zm14 0zm-124 1zm1 0zm6 0zm60 0zm50 0zm-126 1zm33 0zm35 0zm14 0zm9 0zm36 0zm2 0zm7 0zm-138 1zm9 0zm8 0zm32 0zm18 0zm23 0zm53 0zm-109 1zm111 0zm-132 1zm5 0zm12 0zm7 0zm14 0zm25 0zm9 0zm24 0zm-107 1zm19 0zm2 0zm5 0zm14 0zm39 0zm2 0zm7 0zm53 0zm-129 1zm134 0zm-153 1zm21 0zm15 0zm1 0zm13 0zm27 0zm19 1zm13 0zm-63 1zm56 0zm48 0zm-144 1zm81 0zm20 0zm-96 1zm10 0zm38 0zm26 0zm3 0zm3 0zm25 0zm29 0zm4 0zm8 0zm-148 1zm25 0zm43 0zm38 0zm-107 1zm22 0zm28 0zm2 1zm18 0zm19 0zm17 0zm-72 1zm53 0zm-78 1zm23 0zm-26 1zm3 0zm0 0zm26 0zm30 0zm7 0zm-5 1zm14 0zm-72 1zm21 0zm9 0zm-33 1zm5 0zm5 0zm18 0zm12 2zm28 1zm6 0zm7 0zm-23 1zm6 0zm-56 1zm22 0zm28 0zm-58 1zm36 0zm19 0zm14 0zm-14 1zm21 1zm7 1zm-80 1zm27 0zm33 0zm17 0zm2 0zm2 0zm-45 1zm33 0zm13 0zm-43 1zm-28 1zm8 0zm5 0zm52 0zm4 0zm-60 1zm59 0zm-56 1zm48 0zm7 0zm-69 1zm52 0zm9 0zm5 0zm8 0zm-11 1zm4 1zm9 1zm-56 1zm9 0zm-7 1zm28 0zm34 1zm2 0zm-10 2zm12 0zm-70 1zm16 1zm-17 1zm18 0zm48 1zm-65 2zm27 0zm2 0zm16 0zm24 0zm3 0zm3 0zm-25 1zm16 0zm2 1zm11 0zm-32 1zm14 0zm-69 1zm76 0zm-18 1zm-61 1zm67 0zm171 1zm-9 2zm-147 2zm27 0zm144 0zm-198 2zm42 2zm119 0zm-128 1zm3 0zm4 0zm98 0zm2 0zm-92 1zm4 0zm7 0zm-41 1zm3 0zm17 0zm8 0zm1 0zm-98 1zm72 0zm2 0zm1 0zm33 0zm-28 1zm3 0zm36 0zm9 0zm-48 1zm7 0zm9 0zm4 0zm10 0zm10 0zm-43 1zm29 0zm7 0zm5 0zm21 0zm-67 1zm1 0zm6 0zm8 0zm0 0zm12 0zm3 0zm48 0zm-65 1zm50 0zm-55 1zm35 0zm4 1zm1 0zm5 0zm-24 1zm6 0zm100 0zm-202 3zm221 0zm-100 1zm-43 1zm96 0zm-99 1zm26 0zm-99 1zm5 1zm-2 1zm-14 1zm9 0zm85 0zm-96 1zm104 11zm148 31zm-61 10zm-2 2zm1 4zm9 1zm3 0zm-12 4zm0 0zm-3 2zm24 0zm-44 1zm27 1zm-76 40zm1 3zm4 0zm-8 2zm7 1zm-13 3zm22 2zm2 3zm1 0zm2 5zm6 0zm-4 3zm13 2zm13 9zm7 1zm-6 2zm4 3zm2 0zm7 2zm3 0zm2 0zm-8 1zm12 5zm1 0zm-2 2zm0 0zm2 0zm6 4z" stroke="#FB61D7"/><path d="M373 846zm0 0zm487 56zm-521 194zm7 8zm8 2zm0 2zm153 10zm-136 1zm135 5zm-128 1zm1 0zm120 1zm4 1zm-117 1zm15 11zm5 1zm7 1zm83 0zm14 0zm32 1zm-122 1zm1 0zm65 0zm52 0zm-123 1zm3 0zm56 0zm-56 1zm-5 1zm12 0zm8 0zm7 0zm4 0zm18 0zm2 0zm4 0zm73 0zm-107 1zm15 0zm10 0zm1 0zm-26 1zm11 3zm14 3zm-43 1zm7 5zm35 4zm-39 2zm7 2zm-8 1zm17 2zm23 0zm-41 4zm0 1zm41 0zm3 2zm42 0zm-39 1zm0 0zm1 1zm-2 1zm1 0zm0 0zm28 0zm-55 1zm4 0zm20 0zm4 1zm5 0zm-27 1zm-25 1zm49 0zm34 0zm-96 1zm66 0zm-5 1zm1 1zm12 0zm5 0zm-23 1zm9 0zm1 0zm2 0zm4 0zm-20 1zm49 0zm20 0zm-123 1zm40 0zm-55 1zm10 0zm53 0zm-50 1zm75 0zm6 0zm38 0zm6 0zm-95 1zm-47 1zm15 0zm9 0zm-14 1zm1 0zm9 0zm5 0zm32 0zm67 0zm-126 1zm108 0zm-88 1zm21 0zm56 0zm40 0zm-129 1zm91 0zm38 0zm-84 1zm-55 1zm108 0zm-108 1zm37 0zm3 0zm67 0zm-76 1zm7 0zm6 0zm-42 1zm28 0zm77 0zm31 0zm-134 1zm5 0zm7 0zm3 0zm2 0zm32 0zm54 0zm-96 1zm6 0zm92 0zm-69 1zm72 0zm35 0zm-137 1zm29 0zm70 0zm-112 1zm21 0zm9 0zm105 0zm-23 1zm30 0zm-131 1zm12 0zm9 0zm101 0zm-128 1zm30 0zm1 0zm0 0zm2 0zm3 0zm-29 1zm36 0zm69 0zm5 0zm24 0zm-148 1zm15 0zm3 0zm17 1zm7 0zm-29 1zm107 0zm21 0zm-132 1zm13 0zm-16 1zm1 0zm2 0zm4 0zm6 0zm33 0zm-14 1zm100 0zm-104 1zm11 0zm-34 1zm127 0zm-134 1zm12 0zm9 0zm101 0zm-117 1zm20 0zm105 0zm-111 1zm19 0zm-19 1zm22 0zm-31 1zm21 0zm-3 1zm13 0zm-35 1zm0 0zm34 0zm70 0zm5 0zm-106 1zm4 0zm14 0zm6 0zm76 0zm1 0zm-89 1zm83 0zm0 0zm-78 1zm8 0zm12 0zm-47 1zm4 0zm14 1zm21 0zm31 0zm8 0zm35 0zm-30 1zm26 0zm-90 1zm48 0zm2 0zm28 0zm4 0zm-88 1zm23 0zm6 1zm4 0zm7 0zm-33 1zm3 0zm25 0zm14 0zm6 0zm34 0zm-80 1zm13 0zm23 0zm-44 1zm83 0zm-86 1zm19 0zm19 0zm11 1zm-45 1zm66 0zm-46 1zm-3 2z" stroke="#C49A00"/><path d="M205 899zm-19 3zm358 5zm-346 2zm9 0zm274 0zm4 1zm-289 1zm-5 1zm6 0zm289 0zm-269 3zm289 1zm-279 5zm9 0zm-31 1zm12 1zm296 1zm-307 1zm11 0zm251 0zm-199 4zm-29 2zm248 2zm82 0zm-299 4zm-51 2zm357 2zm-350 1zm28 3zm19 0zm187 0zm10 1zm-67 1zm29 0zm32 0zm2 0zm2 0zm8 0zm-47 1zm-160 1zm193 0zm5 0zm-246 1zm0 0zm241 0zm-247 1zm253 0zm0 0zm3 0zm-249 1zm183 0zm42 0zm13 0zm16 0zm1 0zm2 0zm-260 1zm47 1zm158 0zm53 0zm-261 1zm236 0zm16 0zm-185 1zm2 0zm122 0zm14 0zm24 0zm25 0zm8 0zm0 0zm-264 1zm250 0zm3 0zm-172 1zm74 0zm6 0zm41 0zm-123 1zm104 0zm41 0zm7 0zm31 0zm18 0zm-90 1zm-67 1zm10 0zm19 0zm12 0zm39 0zm9 0zm9 0zm-214 1zm69 0zm43 0zm87 0zm2 0zm8 0zm10 1zm14 0zm58 0zm-205 1zm1 0zm6 0zm20 0zm14 0zm-21 1zm2 0zm108 0zm-145 1zm47 0zm9 0zm1 0zm27 0zm10 0zm2 0zm-76 1zm4 0zm31 0zm1 0zm129 0zm-151 1zm13 0zm30 0zm35 0zm25 0zm16 0zm-104 1zm33 0zm61 0zm64 0zm-156 1zm29 0zm19 0zm125 0zm-138 1zm53 1zm50 3zm-122 1zm10 0zm-139 1zm65 0zm48 0zm-109 1zm100 0zm6 0zm2 0zm9 0zm-10 1zm52 0zm-53 1zm-21 1zm15 0zm14 0zm17 0zm-24 2zm0 0zm-9 1zm-12 4zm64 1zm140 5zm43 3zm-125 5zm-106 3zm-5 1zm87 1zm-50 1zm-38 1zm7 0zm1 0zm-10 1zm6 0zm-8 1zm2 0zm28 0zm-39 2zm4 0zm-4 1zm20 0zm83 1zm79 0zm-92 3zm145 0zm-245 2zm-10 2zm8 0zm6 0zm8 0zm74 0zm-87 1zm13 0zm229 0zm-249 2zm2 0zm12 1zm176 0zm-190 1zm271 1zm-45 1zm-276 1zm253 0zm-201 1zm154 0zm32 0zm-214 2zm202 0zm-1 1zm-5 1zm63 0zm-57 1zm25 0zm-99 1zm30 0zm45 0zm75 0zm-123 1zm53 0zm66 1zm-104 1zm33 0zm0 0zm-89 1zm15 0zm17 0zm20 0zm-49 1zm81 1zm102 1zm-322 1zm170 0zm-23 1zm7 0zm42 0zm-256 1zm14 0zm3 0zm166 0zm-169 1zm5 0zm191 0zm-218 1zm59 0zm169 0zm-232 1zm34 0zm161 0zm25 0zm-229 1zm11 0zm10 0zm17 0zm155 0zm32 0zm7 0zm4 0zm15 0zm150 0zm-415 1zm18 0zm21 0zm183 0zm-209 1zm86 0zm161 0zm-218 1zm10 0zm7 0zm1 0zm167 0zm40 0zm3 0zm205 0zm-457 1zm13 0zm2 0zm1 0zm3 0zm14 0zm5 0zm141 0zm13 0zm1 0zm16 0zm-221 1zm0 0zm6 0zm15 0zm3 0zm3 0zm11 0zm1 0zm0 0zm14 0zm22 0zm11 0zm104 0zm-182 1zm1 0zm1 0zm74 0zm35 0zm56 0zm7 0zm127 0zm93 0zm-425 1zm40 0zm21 0zm3 0zm53 0zm8 0zm5 0zm5 0zm2 0zm53 0zm14 0zm86 0zm16 0zm-305 1zm2 0zm35 0zm3 0zm6 0zm5 0zm69 0zm46 0zm146 0zm-267 1zm3 0zm4 0zm2 0zm37 0zm40 0zm33 0zm4 0zm24 0zm121 0zm-218 1zm8 0zm0 0zm53 0zm155 0zm13 0zm-304 1zm2 0zm2 0zm165 0zm64 0zm68 0zm59 0zm65 0zm-428 1zm1 0zm8 0zm23 0zm33 0zm234 0zm22 0zm-326 1zm30 0zm3 0zm92 0zm14 0zm17 0zm126 0zm-291 1zm18 0zm15 0zm304 0zm6 0zm1 0zm-356 1zm10 0zm9 0zm3 0zm11 0zm118 0zm183 0zm15 0zm15 0zm-336 1zm3 0zm4 0zm14 0zm6 0zm15 0zm37 0zm9 0zm0 0zm39 0zm241 0zm2 0zm0 0zm-393 1zm0 0zm12 0zm6 0zm31 0zm13 0zm8 0zm64 0zm225 0zm12 0zm6 0zm4 0zm-373 1zm2 0zm38 0zm33 0zm6 0zm35 0zm0 0zm-133 1zm10 0zm24 0zm17 0zm15 0zm19 0zm1 0zm17 0zm39 0zm0 0zm219 0zm-342 1zm20 0zm312 0zm-331 1zm50 0zm8 0zm2 0zm37 0zm15 0zm211 0zm6 0zm-331 1zm29 0zm14 0zm9 0zm36 0zm33 0zm-135 1zm47 0zm13 0zm6 0zm34 0zm5 0zm-80 1zm11 0zm10 0zm19 0zm31 0zm21 0zm271 0zm4 0zm-392 1zm6 0zm7 0zm61 0zm2 0zm64 0zm183 0zm-326 1zm40 0zm20 0zm0 0zm42 0zm247 0zm-345 1zm40 0zm18 0zm1 0zm7 0zm31 0zm3 0zm15 0zm276 0zm-392 1zm60 0zm36 0zm36 0zm220 0zm-343 1zm61 0zm6 0zm-76 1zm66 0zm-59 1zm7 0zm67 0zm260 0zm-318 1zm1 0zm9 0zm5 0zm5 0zm33 0zm-77 1zm40 0zm9 0zm2 0zm-50 1zm39 0zm34 0zm21 0zm13 0zm10 0zm-121 1zm6 0zm14 0zm13 0zm42 0zm10 0zm-68 1zm14 0zm17 0zm16 0zm11 0zm47 0zm-115 1zm32 0zm4 0zm17 0zm3 0zm6 0zm18 0zm12 0zm3 0zm253 0zm-348 1zm31 0zm2 0zm8 0zm11 0zm51 0zm239 0zm-303 1zm24 0zm8 0zm291 0zm-368 1zm0 0zm40 0zm28 0zm42 0zm230 0zm-274 1zm0 0zm310 0zm-374 1zm5 0zm19 0zm48 0zm10 0zm31 0zm4 0zm210 0zm26 0zm-339 1zm7 0zm20 0zm10 0zm3 0zm16 0zm2 0zm16 0zm12 0zm114 0zm-169 1zm17 0zm1 0zm10 0zm4 0zm-67 1zm66 0zm21 0zm2 0zm-23 1zm32 0zm91 0zm-197 1zm44 0zm11 0zm20 0zm1 0zm11 0zm123 0zm-205 1zm74 0zm4 0zm9 0zm-94 1zm27 0zm77 0zm-82 1zm61 0zm-78 1zm15 0zm2 0zm27 0zm4 0zm10 0zm10 0zm2 0zm24 0zm-87 1zm11 0zm34 0zm7 0zm143 0zm-180 1zm14 0zm23 0zm36 0zm-99 1zm9 0zm7 0zm31 0zm20 0zm14 0zm11 0zm122 0zm-198 1zm6 0zm24 0zm-44 1zm51 0zm8 0zm-45 1zm46 0zm22 0zm9 0zm7 0zm-95 1zm16 0zm5 0zm14 0zm10 0zm2 0zm1 0zm17 0zm147 0zm-201 1zm12 0zm0 0zm20 0zm4 1zm6 0zm-9 1zm-16 1zm5 0zm3 0zm37 0zm-47 1zm13 0zm28 0zm-56 1zm2 0zm7 0zm23 0zm1 0zm1 0zm-6 1zm12 0zm-40 2zm31 0zm8 0zm188 1zm-195 1zm-19 2zm6 3zm220 0zm5 0zm-7 1zm2 2zm2 0zm6 1zm-1 1zm4 1zm1 1zm4 4zm96 4zm-51 6z" stroke="#53B400"/><path d="M473 1081zm-4 7zm76 15zm3 0zm3 2zm13 8zm14 2zm-8 2zm10 0zm-7 8zm-23 20zm29 8zm18 5zm3 2z" stroke="#00C094"/><path d="M205 804zm16 1zm-9 1zm1 0zm2 0zm-16 2zm12 0zm12 0zm3 0zm-24 1zm18 1zm18 0zm-31 1zm10 0zm16 0zm-18 1zm2 0zm2 0zm-31 1zm3 0zm7 0zm11 0zm11 0zm17 0zm-54 1zm34 0zm-6 1zm-9 1zm31 0zm13 0zm-58 1zm16 0zm27 0zm21 0zm-62 1zm27 0zm16 0zm-18 1zm-31 1zm12 0zm18 0zm-31 1zm36 0zm-42 1zm32 0zm0 0zm-13 1zm13 0zm5 0zm5 0zm35 0zm-56 1zm12 0zm-36 1zm25 0zm4 0zm14 0zm-37 1zm62 0zm3 0zm13 0zm-82 1zm49 0zm8 0zm27 0zm-89 1zm2 0zm-6 1zm10 0zm22 0zm18 0zm9 0zm15 0zm3 0zm10 0zm-86 1zm30 0zm70 0zm-103 1zm14 0zm13 0zm30 0zm49 1zm-85 1zm16 0zm22 0zm7 0zm15 0zm21 0zm-93 1zm4 0zm29 0zm28 0zm1 0zm21 0zm-93 1zm42 0zm11 0zm16 0zm4 0zm25 0zm19 0zm-105 1zm34 0zm30 0zm3 0zm22 0zm6 0zm-98 1zm6 0zm18 0zm1 0zm4 0zm8 0zm19 0zm52 0zm2 0zm-107 1zm12 0zm73 0zm-68 1zm4 0zm32 0zm29 0zm22 0zm-117 1zm43 0zm8 0zm9 0zm2 0zm-64 1zm59 0zm24 0zm4 0zm-89 1zm46 0zm1 0zm18 0zm47 0zm0 0zm5 0zm-103 1zm96 0zm12 0zm-116 1zm96 0zm-30 1zm9 0zm47 0zm-121 1zm6 0zm37 0zm19 0zm3 0zm126 0zm-181 1zm16 0zm17 0zm9 0zm2 0zm-46 2zm41 0zm36 0zm27 0zm7 0zm107 0zm-230 1zm6 0zm4 0zm1 0zm17 0zm34 0zm40 0zm-105 1zm21 0zm11 0zm3 0zm6 0zm3 0zm1 0zm57 0zm18 0zm5 0zm-93 1zm23 0zm48 0zm-86 1zm9 0zm18 0zm1 0zm16 0zm38 0zm-104 1zm6 0zm63 0zm22 0zm18 0zm9 0zm-115 1zm25 0zm7 0zm22 0zm56 0zm9 0zm-116 1zm12 0zm30 0zm5 0zm7 0zm13 0zm-70 1zm70 0zm9 0zm37 0zm-118 1zm20 0zm26 0zm8 0zm1 0zm54 0zm36 0zm-100 1zm34 0zm39 0zm2 0zm-105 1zm6 0zm29 0zm32 0zm3 0zm43 0zm4 0zm9 0zm-109 1zm24 0zm2 0zm10 0zm18 0zm-87 1zm7 0zm102 0zm10 0zm2 0zm-117 1zm35 0zm2 0zm39 0zm27 0zm-86 1zm12 0zm51 0zm0 0zm14 0zm7 0zm2 0zm12 0zm19 0zm-132 1zm11 0zm21 0zm10 0zm10 0zm32 0zm4 0zm33 0zm11 0zm4 0zm-116 1zm80 0zm14 0zm21 0zm5 0zm-142 1zm11 0zm44 0zm16 0zm43 0zm-109 1zm11 0zm4 0zm33 0zm33 0zm-71 1zm4 0zm27 0zm10 0zm3 0zm35 0zm11 0zm7 0zm1 0zm18 0zm11 0zm-141 1zm3 0zm8 0zm5 0zm11 0zm20 0zm13 0zm18 0zm17 0zm50 0zm-148 1zm5 0zm3 0zm38 0zm4 0zm11 0zm37 0zm-93 1zm8 0zm9 0zm19 0zm74 0zm-57 1zm29 0zm60 0zm-128 1zm3 0zm19 0zm11 0zm8 0zm5 0zm2 0zm61 0zm-124 1zm15 0zm6 0zm41 0zm15 0zm42 0zm24 0zm-72 1zm46 0zm33 0zm-148 1zm28 0zm17 0zm7 0zm22 0zm4 0zm12 0zm8 0zm8 0zm14 0zm12 0zm11 0zm1 0zm-140 1zm11 0zm11 0zm17 0zm43 0zm13 0zm28 0zm4 0zm14 0zm-131 1zm26 0zm37 0zm18 0zm31 0zm22 0zm-144 1zm6 0zm46 0zm19 0zm4 0zm-72 1zm2 0zm1 0zm29 0zm11 0zm26 0zm19 0zm26 0zm27 0zm-128 1zm10 0zm34 0zm35 0zm2 0zm18 0zm29 0zm0 0zm-140 1zm8 0zm77 0zm20 0zm35 0zm-133 1zm7 0zm12 0zm26 0zm3 0zm22 0zm28 0zm7 0zm-105 1zm39 0zm0 0zm1 0zm11 0zm12 0zm1 0zm11 0zm36 0zm18 0zm4 0zm-138 1zm11 0zm11 0zm20 0zm20 0zm6 0zm8 0zm51 0zm29 0zm-147 1zm39 0zm3 0zm43 0zm43 0zm-135 1zm1 0zm24 0zm37 0zm22 0zm18 0zm2 0zm17 0zm9 0zm3 0zm14 0zm-139 1zm2 0zm35 0zm1 0zm1 0zm19 0zm12 0zm8 0zm41 0zm-121 1zm32 0zm48 0zm2 0zm35 0zm4 0zm17 0zm-138 1zm8 0zm17 0zm37 0zm4 0zm9 0zm27 0zm14 0zm17 0zm-106 1zm16 0zm67 0zm4 0zm27 0zm-130 1zm3 0zm17 0zm7 0zm31 0zm4 0zm-58 1zm37 0zm5 0zm33 0zm19 0zm10 0zm3 0zm15 0zm-131 1zm1 0zm1 0zm21 0zm7 0zm3 0zm2 0zm55 0zm2 0zm2 0zm28 0zm24 0zm-127 1zm42 0zm0 0zm27 0zm13 0zm37 0zm-132 1zm26 0zm7 0zm3 0zm10 0zm29 0zm27 0zm-96 1zm23 0zm48 0zm51 0zm6 0zm10 0zm-95 1zm32 0zm5 0zm2 0zm2 0zm12 0zm-74 1zm0 0zm12 0zm10 0zm28 0zm9 0zm19 0zm5 0zm-120 1zm34 0zm22 0zm4 1zm6 0zm1 0zm22 0zm5 0zm6 0zm3 0zm13 0zm-22 1zm5 0zm6 0zm8 0zm-57 1zm9 0zm7 0zm2 0zm0 0zm9 0zm26 0zm-80 1zm59 1zm67 0zm-97 1zm13 0zm11 0zm12 0zm17 0zm-19 1zm2 0zm-7 1zm6 0zm-69 1zm27 0zm37 0zm1 0zm-69 1zm42 0zm9 0zm20 0zm-59 1zm0 0zm19 0zm2 0zm4 0zm21 0zm-69 1zm13 1zm10 0zm10 1zm27 0zm-47 1zm0 0zm31 0zm1 0zm30 0zm-58 1zm38 0zm10 0zm-5 1zm21 1zm-5 1zm7 0zm-49 1zm23 0zm8 0zm19 0zm1 0zm-43 1zm1 0zm18 0zm-36 1zm69 1zm-63 1zm50 0zm-54 2zm5 0zm47 0zm6 0zm5 0zm1 0zm8 0zm-68 2zm8 0zm24 0zm-37 1zm55 0zm20 0zm-63 1zm44 0zm-53 1zm-5 1zm74 0zm-66 1zm25 0zm36 0zm1 0zm-8 2zm2 0zm-32 1zm1 0zm42 0zm-71 1zm62 0zm17 0zm-36 1zm19 0zm19 0zm-86 1zm5 1zm55 1zm24 0zm0 0zm2 0zm-80 1zm0 0zm7 0zm71 0zm11 0zm-40 1zm23 2zm-20 1zm-2 1zm14 0zm124 0zm-132 2zm12 1zm2 1zm162 0zm-184 1zm14 0zm1 0zm10 0zm118 0zm67 0zm-207 1zm13 0zm27 0zm-28 2zm-1 1zm2 1zm54 0zm-21 1zm143 0zm-156 1zm153 0zm-167 1zm18 0zm4 0zm8 0zm50 0zm-83 1zm11 0zm5 0zm8 0zm1 0zm-22 1zm4 0zm6 0zm10 0zm21 0zm-35 1zm1 0zm21 0zm10 0zm21 0zm2 0zm-42 1zm6 0zm20 0zm20 0zm53 0zm-126 1zm16 0zm8 0zm38 0zm2 0zm28 0zm29 0zm5 0zm-112 1zm21 0zm23 0zm17 0zm59 0zm1 0zm-98 1zm17 0zm27 0zm-70 1zm27 0zm11 0zm19 0zm-34 1zm46 0zm-69 1zm57 0zm82 0zm-200 4zm99 0zm90 0zm-41 1zm-73 1zm-89 1zm85 0zm43 0zm-115 1zm5 0zm68 0zm0 1zm14 3zm-7 2zm132 21zm-17 6zm-13 13zm5 3zm43 3zm-56 1zm0 8zm24 0zm-44 2zm31 4zm61 0zm-70 2zm39 1zm-53 2zm-58 37zm-6 1zm28 16zm-14 1zm-1 1zm9 0zm7 3zm-12 2zm23 2zm-11 3zm13 4zm10 1zm2 4zm3 1zm2 1zm2 7zm14 3zm3 0zm-2 1z" stroke="#FB61D7"/><path d="M363 845zm29 2zm465 62zm-523 181zm-4 1zm4 7zm11 1zm12 10zm2 8zm18 6zm133 0zm-128 5zm126 1zm-113 5zm108 0zm-105 2zm102 3zm-8 1zm-10 1zm15 0zm32 0zm-22 1zm7 0zm-38 1zm11 0zm39 0zm0 0zm-114 1zm11 0zm2 0zm111 0zm6 0zm-15 1zm-95 1zm19 0zm15 0zm-22 2zm24 0zm-26 1zm0 0zm3 1zm5 1zm-36 9zm15 0zm22 2zm9 0zm-40 1zm13 0zm2 1zm17 0zm-32 2zm23 0zm16 0zm-23 4zm22 1zm-15 4zm11 0zm-13 1zm16 0zm3 0zm3 0zm-2 1zm1 1zm-56 1zm54 0zm2 0zm-3 1zm5 1zm-36 1zm26 0zm-39 1zm74 0zm7 0zm11 0zm-23 1zm-71 1zm75 0zm10 0zm8 0zm-25 2zm-30 1zm15 0zm4 0zm8 0zm3 0zm11 0zm6 0zm-36 1zm33 0zm10 0zm-79 1zm18 0zm39 0zm33 0zm4 0zm4 1zm-116 1zm10 0zm2 0zm6 0zm86 0zm9 0zm-101 1zm52 0zm3 0zm32 0zm-109 1zm-16 1zm0 0zm20 0zm0 0zm14 0zm44 0zm27 0zm-103 1zm11 0zm13 0zm75 0zm8 0zm36 0zm-121 1zm3 0zm1 0zm77 0zm-106 1zm8 0zm3 0zm128 0zm-133 1zm21 0zm38 0zm-40 1zm78 0zm-72 1zm2 0zm27 0zm7 0zm-44 1zm43 0zm37 0zm9 0zm-100 1zm0 0zm1 0zm23 0zm66 0zm9 0zm5 0zm22 0zm-103 1zm73 0zm31 0zm-123 1zm11 0zm76 0zm29 0zm-104 1zm7 0zm74 0zm2 0zm6 0zm10 0zm-113 1zm12 0zm80 0zm2 0zm1 0zm16 0zm18 0zm-118 1zm-2 1zm-15 1zm14 0zm8 0zm9 0zm2 0zm2 0zm98 0zm-135 1zm13 0zm16 0zm73 0zm11 0zm7 0zm-122 1zm2 0zm29 0zm79 0zm9 0zm-126 1zm25 0zm8 0zm7 1zm74 0zm27 0zm-118 1zm1 0zm-25 1zm19 0zm24 0zm-20 1zm98 0zm6 0zm-116 1zm20 0zm-30 2zm9 0zm-9 1zm5 0zm13 0zm2 0zm5 0zm19 1zm-12 1zm5 0zm6 0zm89 0zm-109 1zm92 0zm-113 2zm7 2zm18 0zm-13 1zm25 0zm8 0zm-23 1zm19 0zm-16 1zm76 0zm-36 1zm8 0zm2 0zm32 0zm-95 1zm13 0zm69 0zm11 0zm-64 1zm12 0zm1 0zm-46 1zm7 0zm22 0zm11 0zm6 0zm22 0zm18 0zm9 0zm-72 1zm11 0zm4 0zm21 0zm23 0zm-82 1zm8 0zm9 0zm16 0zm15 0zm27 0zm16 0zm-49 1zm9 0zm38 0zm1 0zm-87 1zm8 1zm22 0zm26 0zm-58 1zm4 0zm0 1zm89 0zm-62 1zm-14 1zm10 0zm-15 1zm11 0zm0 0z" stroke="#C49A00"/><path d="M407 1037zm59 38zm91 9zm-104 5zm110 2zm-69 2zm73 1zm1 4zm125 1zm-1 1zm-144 1zm3 0zm7 1zm26 0zm-35 1zm9 0zm-8 1zm35 0zm-38 1zm4 0zm4 1zm0 0zm4 0zm1 0zm25 0zm-28 4zm4 0zm7 0zm-14 1zm3 1zm15 1zm-4 1zm-9 1zm1 0zm20 0zm9 0zm-23 1zm20 0zm0 0zm-28 1zm9 0zm20 0zm-9 1zm10 0zm-23 1zm20 0zm1 0zm4 0zm48 1zm5 0zm-59 1zm56 0zm-66 1zm10 0zm3 0zm-8 2zm1 0zm83 0zm-6 1zm1 0zm2 0zm-80 1zm77 0zm-69 2zm61 0zm2 1zm4 0zm-63 2zm58 3zm-59 3zm45 1zm3 0zm2 5zm-9 1zm-76 1zm80 0zm-6 1zm2 0zm2 0zm-72 1zm8 1zm22 0zm35 0zm-57 1zm13 0zm42 0zm1 0zm-64 1zm62 1zm4 0zm-61 1zm6 0zm11 2zm-4 1zm16 2zm19 1zm-11 2z" stroke="#F8766D"/><path d="M371 845zm2 2zm5 0zm117 54zm-22 2zm31 2zm-19 2zm4 0zm-23 1zm12 0zm0 0zm24 0zm-33 1zm4 0zm9 0zm3 1zm2 0zm5 0zm2 0zm-29 1zm36 0zm1 0zm8 0zm-57 1zm47 0zm28 0zm13 0zm5 0zm22 0zm-99 1zm6 0zm5 0zm8 0zm7 0zm52 0zm21 0zm-113 1zm27 0zm3 0zm3 0zm5 0zm14 0zm50 0zm-91 1zm19 0zm7 0zm46 0zm21 0zm0 0zm-77 1zm3 0zm56 0zm-69 1zm3 0zm1 0zm18 0zm7 0zm45 0zm-86 1zm5 0zm16 0zm3 0zm16 0zm8 0zm43 0zm-63 1zm18 0zm1 0zm-42 1zm9 0zm13 0zm14 0zm-13 1zm52 0zm7 0zm16 0zm-74 1zm47 0zm-55 1zm28 0zm-48 1zm24 0zm3 1zm39 0zm-39 1zm-19 1zm10 0zm0 0zm82 0zm-78 1zm62 0zm-48 1zm-19 1zm37 0zm48 0zm-79 1zm25 0zm44 0zm-30 2zm6 0zm1 0zm0 0zm5 0zm50 0zm75 1zm-142 1zm33 0zm5 0zm23 0zm-94 1zm46 0zm4 1zm22 0zm-50 1zm73 1zm1 0zm-6 1zm10 0zm13 1zm4 0zm37 0zm-76 1zm14 0zm9 0zm1 0zm7 0zm7 0zm49 0zm19 0zm-91 1zm4 0zm2 0zm1 0zm4 0zm2 0zm68 0zm16 0zm-108 1zm6 0zm4 0zm5 0zm1 0zm12 0zm56 0zm-81 1zm93 0zm-98 1zm19 1z" stroke="#A58AFF"/><path d="M700 793zm8 0zm17 0zm-1 1zm9 1zm-42 1zm22 0zm18 1zm-24 1zm8 0zm2 0zm12 0zm-17 1zm-23 1zm2 0zm8 0zm11 0zm11 0zm10 1zm-16 2zm-27 1zm46 0zm6 0zm-63 1zm13 0zm34 0zm3 0zm-47 1zm58 0zm19 0zm-59 1zm21 0zm-43 1zm14 0zm0 0zm2 0zm1 0zm59 0zm-85 1zm4 0zm10 0zm26 0zm1 0zm1 0zm13 0zm0 0zm5 0zm10 0zm6 0zm-67 1zm0 0zm6 0zm15 0zm32 0zm30 0zm-95 1zm33 0zm25 0zm20 0zm17 0zm-89 1zm28 0zm32 0zm2 0zm5 0zm17 0zm-79 1zm5 0zm13 0zm3 0zm24 0zm4 0zm-55 1zm20 0zm3 0zm19 0zm1 0zm1 0zm9 0zm33 0zm-81 1zm0 0zm16 0zm14 0zm-35 1zm18 0zm44 0zm14 0zm14 0zm19 0zm-83 1zm34 0zm-53 1zm11 0zm8 0zm3 0zm26 0zm41 1zm-92 1zm1 0zm36 0zm35 0zm33 0zm8 0zm-98 1zm43 0zm33 0zm-41 1zm3 0zm18 0zm1 0zm1 0zm5 0zm34 0zm-97 1zm24 0zm12 0zm41 0zm6 0zm8 0zm-98 1zm30 0zm8 0zm26 0zm22 0zm17 0zm7 0zm-121 1zm7 0zm48 0zm1 0zm13 0zm10 0zm8 0zm5 0zm28 0zm8 0zm-136 1zm8 0zm13 0zm0 0zm6 0zm9 0zm8 0zm13 0zm18 0zm0 0zm27 0zm-86 1zm18 0zm1 0zm10 0zm58 0zm36 0zm5 0zm-147 1zm54 0zm4 0zm40 0zm8 0zm44 0zm-133 1zm4 0zm16 0zm35 0zm59 0zm-127 1zm4 0zm27 0zm16 0zm2 0zm13 0zm16 0zm7 0zm32 0zm3 0zm22 0zm-124 1zm34 0zm12 0zm2 0zm4 0zm1 0zm25 0zm-18 1zm43 0zm27 0zm5 0zm7 0zm-131 1zm23 0zm23 0zm14 0zm10 0zm17 0zm1 0zm21 0zm3 0zm-137 1zm42 0zm13 0zm4 0zm47 0zm34 0zm12 0zm2 0zm-150 1zm49 0zm30 0zm48 0zm7 0zm10 0zm10 0zm-163 1zm16 0zm6 0zm1 0zm44 0zm3 0zm8 0zm0 0zm10 0zm21 0zm49 0zm10 0zm-171 1zm18 0zm36 0zm0 0zm3 0zm18 0zm17 0zm1 0zm4 0zm3 0zm-82 1zm25 0zm7 0zm2 0zm3 0zm3 0zm17 0zm30 0zm19 0zm11 0zm-129 1zm29 0zm6 0zm21 0zm43 0zm9 0zm3 0zm13 0zm0 0zm28 0zm0 0zm2 0zm6 0zm-157 1zm9 0zm29 0zm26 0zm2 0zm17 0zm63 0zm14 0zm-166 1zm35 0zm17 0zm14 0zm1 0zm63 0zm17 0zm16 0zm0 0zm-125 1zm6 0zm45 0zm5 0zm10 0zm44 0zm4 0zm11 0zm-158 1zm86 0zm9 0zm-99 1zm47 0zm4 0zm34 0zm40 0zm8 0zm-117 1zm22 0zm2 0zm11 0zm21 0zm0 0zm39 0zm-69 1zm8 0zm8 0zm18 0zm44 0zm40 0zm-131 1zm27 0zm39 0zm30 0zm-133 1zm23 0zm8 0zm42 0zm14 0zm25 0zm15 0zm11 0zm-120 1zm85 0zm35 0zm6 0zm-131 2zm33 0zm-6 1zm30 0zm28 0zm10 0zm-90 1zm40 0zm-45 1zm105 0zm-134 1zm12 0zm38 0zm34 0zm27 0zm-8 1zm42 0zm-148 1zm3 0zm-5 1zm19 0zm7 0zm18 0zm27 0zm52 0zm-75 1zm26 0zm16 0zm3 0zm-69 1zm16 0zm15 0zm-18 1zm28 0zm-61 1zm86 0zm43 0zm13 0zm-139 1zm4 0zm82 0zm4 0zm11 0zm11 0zm-36 1zm33 0zm7 0zm6 0zm-98 1zm18 0zm-42 1zm33 0zm161 0zm1 0zm-93 1zm-103 1zm17 0zm82 0zm-71 1zm34 0zm48 0zm-111 1zm33 0zm17 0zm32 0zm117 0zm-213 1zm63 0zm57 0zm-105 1zm99 0zm19 0zm82 0zm-211 1zm8 0zm0 0zm23 0zm4 0zm19 0zm23 0zm-69 1zm28 0zm76 0zm-68 1zm2 0zm69 0zm17 0zm-88 1zm20 0zm35 0zm11 0zm105 0zm-220 1zm5 0zm42 0zm15 0zm31 0zm-100 1zm12 0zm37 0zm56 0zm40 0zm14 0zm-84 1zm12 0zm11 0zm-89 1zm38 0zm85 0zm18 0zm4 0zm3 0zm-159 1zm130 0zm23 0zm7 0zm72 0zm-228 1zm5 0zm1 0zm11 0zm45 0zm37 0zm-91 1zm69 0zm67 0zm8 0zm17 0zm61 0zm1 0zm-236 1zm6 0zm44 0zm16 0zm21 0zm19 0zm103 0zm21 0zm-227 1zm59 0zm39 0zm82 0zm35 0zm3 0zm-218 1zm46 0zm100 0zm13 0zm45 0zm25 0zm-154 1zm14 0zm53 0zm6 0zm88 0zm-174 1zm9 0zm70 0zm83 0zm6 0zm-161 1zm10 0zm51 0zm-137 1zm154 0zm-15 1zm6 0zm16 0zm4 0zm5 0zm36 0zm20 0zm-24 1zm29 0zm-233 1zm9 0zm3 0zm0 0zm131 0zm5 0zm101 0zm2 0zm-263 1zm92 0zm44 0zm36 0zm62 0zm6 0zm17 0zm3 0zm2 0zm-204 1zm82 0zm19 0zm15 0zm3 0zm-71 1zm36 0zm10 0zm19 0zm64 0zm24 0zm3 0zm-257 2zm119 0zm27 0zm9 0zm2 0zm-162 1zm2 0zm132 0zm38 0zm77 0zm20 0zm-259 1zm24 0zm95 0zm9 0zm1 0zm12 0zm110 0zm-97 1zm78 0zm-249 1zm12 0zm119 0zm7 0zm10 0zm17 0zm4 0zm105 0zm-267 1zm151 0zm7 0zm106 0zm-90 1zm-180 1zm139 0zm13 0zm7 0zm21 0zm-22 1zm15 0zm11 0zm-14 1zm13 0zm-263 1zm86 0zm2 0zm0 0zm176 0zm-54 1zm4 0zm13 0zm14 0zm8 0zm6 0zm-49 1zm31 0zm24 0zm-183 1zm163 0zm11 0zm77 0zm6 0zm18 0zm-365 1zm86 0zm7 0zm-2 2zm149 0zm2 0zm10 0zm8 0zm5 0zm0 0zm-25 1zm9 0zm2 0zm16 0zm85 0zm-390 1zm9 0zm7 0zm113 0zm139 0zm13 0zm24 0zm79 0zm1 0zm-288 1zm156 0zm27 0zm13 0zm4 0zm-290 1zm61 0zm65 0zm131 0zm15 0zm3 0zm1 0zm1 0zm6 0zm4 0zm2 0zm8 0zm76 0zm-118 1zm20 0zm3 0zm0 0zm6 0zm-26 1zm6 0zm21 0zm0 0zm11 0zm77 0zm-257 1zm125 0zm36 0zm9 0zm6 0zm3 0zm78 0zm-108 1zm12 0zm12 0zm1 0zm-267 1zm241 0zm4 0zm1 0zm1 0zm15 0zm-261 1zm13 0zm78 0zm170 0zm-264 1zm218 0zm16 0zm16 0zm7 0zm96 0zm-136 1zm10 1zm10 0zm5 0zm-25 1zm19 0zm4 1zm9 0zm-237 1zm215 0zm36 0zm-176 1zm136 0zm35 0zm2 0zm3 0zm-28 1zm29 0zm-41 1zm12 0zm14 0zm-116 1zm115 0zm8 0zm-71 1zm25 0zm32 0zm16 0zm-161 1zm145 0zm1 0zm-38 1zm8 0zm13 0zm13 0zm7 0zm10 0zm-44 1zm21 0zm-12 1zm-127 1zm113 0zm4 0zm6 0zm4 0zm-5 1zm3 0zm4 0zm6 0zm14 0zm-145 1zm6 0zm99 0zm9 0zm2 0zm1 0zm16 0zm-26 1zm14 0zm15 0zm2 0zm-25 2zm0 0zm4 0zm19 0zm13 0zm-42 1zm3 0zm6 0zm-235 1zm245 0zm-61 1zm44 0zm1 0zm15 0zm-8 1zm14 0zm-248 1zm8 0zm-1 2zm228 0zm-7 1zm5 0zm-233 3zm25 1zm-24 1zm19 0zm213 0zm-237 2zm36 0zm-8 1zm-24 1zm22 0zm8 0zm0 0zm262 0zm-258 1zm14 0zm-42 1zm24 0zm13 0zm3 0zm-4 1zm77 0zm-107 2zm-2 1zm282 0zm4 0zm-250 1zm1 0zm81 0zm172 0zm-258 1zm6 0zm73 0zm-71 2zm258 0zm-253 1zm251 0zm11 0zm-5 1zm-237 5zm-20 1zm5 2zm-47 1zm56 0zm-53 1zm91 0zm-92 1zm41 0zm28 0zm9 0zm-55 1zm14 0zm6 0zm24 0zm-32 1zm6 0zm6 0zm2 0zm17 0zm-34 1zm14 0zm9 0zm-23 1zm23 0zm6 0zm24 0zm-8 1zm64 0zm-99 1zm9 0zm0 1zm-19 1zm15 0zm19 0zm7 0zm0 0zm-38 1zm41 0zm-39 1zm23 0zm24 0zm104 0zm-134 1zm7 0zm15 0zm101 0zm2 0zm-133 2zm23 0zm71 0zm6 0zm31 0zm2 1zm10 0zm4 0zm0 0zm-129 1zm119 0zm7 0zm-103 1zm104 0zm0 0zm-3 2zm-14 1zm-93 1zm110 0zm0 1zm-212 1zm6 0zm100 0zm107 0zm2 0zm9 0zm-123 2zm93 0zm4 0zm16 1zm-149 2zm13 0zm126 0zm-7 1zm-100 2zm117 0zm2 2zm-135 1zm13 0zm117 0zm6 0zm1 0zm-171 1zm172 0zm-150 1zm-3 1zm6 0zm9 0zm122 0zm18 0zm-162 1zm24 1zm128 0zm-172 1zm181 0zm-220 1zm43 0zm16 0zm2 0zm6 0zm142 0zm-163 1zm3 0zm14 0zm0 0zm139 0zm4 0zm4 0zm18 0zm-193 1zm32 0zm141 0zm5 0zm12 0zm-156 1zm-34 1zm21 0zm36 0zm125 1zm-154 1zm-51 1zm209 0zm-211 1zm149 0zm33 0zm-143 1zm-16 2zm3 0zm168 0zm1 0zm12 0zm-205 1zm209 0zm-207 1zm79 0zm56 0zm67 0zm-88 1zm-83 1zm16 0zm78 0zm-72 1zm42 0zm6 0zm16 0zm74 0zm1 0zm13 0zm-170 1zm116 0zm23 1zm1 0zm3 0zm-157 1zm198 0zm-124 1zm68 0zm29 0zm-155 1zm95 0zm38 0zm47 0zm-111 1zm31 0zm6 0zm70 0zm-182 1zm128 1zm2 0zm10 0zm25 0zm21 0zm-21 1zm1 1zm-96 1zm36 0zm11 0zm60 1zm-36 1zm-38 1zm11 0zm56 1zm-5 1zm-107 1zm-127 1zm139 0zm-29 1zm144 0zm-103 1zm14 0zm112 1zm-138 1zm-7 2zm-6 2zm138 0zm9 3zm2 0zm6 0zm0 0zm-1 1zm1 0zm2 0zm-10 1zm1 0zm9 0zm-12 1zm4 2zm3 0zm-5 1zm3 1zm-1 2zm-4 3zm7 1zm-37 27zm-8 6zm-163 5zm-7 2z" stroke="#00B6EB"/></g>
<circle cx="468.1" cy="473.4" r="2.7" fill="#F8766D"/>
<circle cx="468.1" cy="485.4" r="2.7" fill="#C49A00"/>
<circle cx="468.1" cy="497.4" r="2.7" fill="#53B400"/>
<circle cx="468.1" cy="509.5" r="2.7" fill="#00C094"/>
<circle cx="468.1" cy="521.5" r="2.7" fill="#00B6EB"/>
<circle cx="468.1" cy="533.5" r="2.7" fill="#A58AFF"/>
<circle cx="468.1" cy="545.5" r="2.7" fill="#FB61D7"/>
<g filter="url(#bt)" stroke-width=".3"><text x="53.7" y="319.5" font-size="10.2" text-anchor="middle" fill="#4d4d4d" textLength="12" lengthAdjust="spacingAndGlyphs" stroke="#4d4d4d">-10</text><text x="142.0" y="319.5" font-size="10.2" text-anchor="middle" fill="#4d4d4d" textLength="7.4" lengthAdjust="spacingAndGlyphs" stroke="#4d4d4d">-5</text><text x="230.3" y="319.5" font-size="10.2" text-anchor="middle" fill="#4d4d4d" textLength="4.5" lengthAdjust="spacingAndGlyphs" stroke="#4d4d4d">0</text><text x="318.6" y="319.5" font-size="10.2" text-anchor="middle" fill="#4d4d4d" textLength="4.5" lengthAdjust="spacingAndGlyphs" stroke="#4d4d4d">5</text><text x="406.9" y="319.5" font-size="10.2" text-anchor="middle" fill="#4d4d4d" textLength="9.2" lengthAdjust="spacingAndGlyphs" stroke="#4d4d4d">10</text><text x="37.3" y="99.6" font-size="10.2" text-anchor="end" fill="#4d4d4d" textLength="4.5" lengthAdjust="spacingAndGlyphs" stroke="#4d4d4d">5</text><text x="37.3" y="159.6" font-size="10.2" text-anchor="end" fill="#4d4d4d" textLength="4.5" lengthAdjust="spacingAndGlyphs" stroke="#4d4d4d">0</text><text x="37.3" y="219.6" font-size="10.2" text-anchor="end" fill="#4d4d4d" textLength="7.4" lengthAdjust="spacingAndGlyphs" stroke="#4d4d4d">-5</text><text x="37.3" y="279.6" font-size="10.2" text-anchor="end" fill="#4d4d4d" textLength="12" lengthAdjust="spacingAndGlyphs" stroke="#4d4d4d">-10</text><text x="231.3" y="333.0" font-size="11.2" text-anchor="start" fill="#1a1a1a" textLength="33.2" lengthAdjust="spacingAndGlyphs" stroke="#1a1a1a">umap_1</text><text transform="translate(20.3,177.2) scale(.95,1) rotate(-90)" font-size="11" text-anchor="middle" fill="#1a1a1a" stroke="#1a1a1a">umap_2</text><text x="480" y="168.4" font-size="10.5" text-anchor="start" fill="#4d4d4d" textLength="27.2" lengthAdjust="spacingAndGlyphs" stroke="#4d4d4d">Control</text><text x="480" y="181" font-size="10" text-anchor="start" fill="#222" textLength="48.6" lengthAdjust="spacingAndGlyphs" stroke="#222" stroke-width=".3">Supplier B</text><text x="480" y="194" font-size="10.5" text-anchor="start" fill="#4d4d4d" textLength="75.4" lengthAdjust="spacingAndGlyphs" stroke="#4d4d4d">Singleron_sCelLiVE</text><text x="590.9" y="313.6" font-size="10.5" text-anchor="middle" fill="#333" textLength="10.4" lengthAdjust="spacingAndGlyphs" stroke="#333">-10</text><text x="677.8" y="313.6" font-size="10.5" text-anchor="middle" fill="#333" textLength="6.6" lengthAdjust="spacingAndGlyphs" stroke="#333">-5</text><text x="764.7" y="313.6" font-size="10.5" text-anchor="middle" fill="#333" textLength="4.1" lengthAdjust="spacingAndGlyphs" stroke="#333">0</text><text x="851.6" y="313.6" font-size="10.5" text-anchor="middle" fill="#333" textLength="4.1" lengthAdjust="spacingAndGlyphs" stroke="#333">5</text><text x="938.5" y="313.6" font-size="10.5" text-anchor="middle" fill="#333" textLength="8.1" lengthAdjust="spacingAndGlyphs" stroke="#333">10</text><text x="575.3" y="97.2" font-size="10.5" text-anchor="end" fill="#333" textLength="4.1" lengthAdjust="spacingAndGlyphs" stroke="#333">5</text><text x="575.3" y="155.8" font-size="10.5" text-anchor="end" fill="#333" textLength="4.1" lengthAdjust="spacingAndGlyphs" stroke="#333">0</text><text x="575.3" y="214.4" font-size="10.5" text-anchor="end" fill="#333" textLength="6.6" lengthAdjust="spacingAndGlyphs" stroke="#333">-5</text><text x="575.3" y="273.0" font-size="10.5" text-anchor="end" fill="#333" textLength="10.4" lengthAdjust="spacingAndGlyphs" stroke="#333">-10</text><text x="767.8" y="326.3" font-size="10.6" text-anchor="start" fill="#1a1a1a" textLength="28.6" lengthAdjust="spacingAndGlyphs" stroke="#1a1a1a">umap_1</text><text x="1007.8" y="170.8" font-size="10.4" text-anchor="start" fill="#333" textLength="12" lengthAdjust="spacingAndGlyphs" stroke="#333">24h</text><text x="1007.8" y="183.5" font-size="10.4" text-anchor="start" fill="#333" textLength="12" lengthAdjust="spacingAndGlyphs" stroke="#333">72h</text><text x="55.2" y="646.8" font-size="9.6" text-anchor="middle" fill="#4d4d4d" textLength="11" lengthAdjust="spacingAndGlyphs" stroke="#4d4d4d">-10</text><text x="142.9" y="646.8" font-size="9.6" text-anchor="middle" fill="#4d4d4d" textLength="6.9" lengthAdjust="spacingAndGlyphs" stroke="#4d4d4d">-5</text><text x="230.6" y="646.8" font-size="9.6" text-anchor="middle" fill="#4d4d4d" textLength="4.2" lengthAdjust="spacingAndGlyphs" stroke="#4d4d4d">0</text><text x="318.3" y="646.8" font-size="9.6" text-anchor="middle" fill="#4d4d4d" textLength="4.2" lengthAdjust="spacingAndGlyphs" stroke="#4d4d4d">5</text><text x="406.0" y="646.8" font-size="9.6" text-anchor="middle" fill="#4d4d4d" textLength="8.6" lengthAdjust="spacingAndGlyphs" stroke="#4d4d4d">10</text><text x="38.3" y="433.8" font-size="9.6" text-anchor="end" fill="#4d4d4d" textLength="4.2" lengthAdjust="spacingAndGlyphs" stroke="#4d4d4d">5</text><text x="38.3" y="491.8" font-size="9.6" text-anchor="end" fill="#4d4d4d" textLength="4.2" lengthAdjust="spacingAndGlyphs" stroke="#4d4d4d">0</text><text x="38.3" y="549.8" font-size="9.6" text-anchor="end" fill="#4d4d4d" textLength="6.9" lengthAdjust="spacingAndGlyphs" stroke="#4d4d4d">-5</text><text x="38.3" y="607.8" font-size="9.6" text-anchor="end" fill="#4d4d4d" textLength="11" lengthAdjust="spacingAndGlyphs" stroke="#4d4d4d">-10</text><text x="232.6" y="659.5" font-size="10.8" text-anchor="start" fill="#1a1a1a" textLength="31.4" lengthAdjust="spacingAndGlyphs" stroke="#1a1a1a">umap_1</text><text transform="translate(23.4,509) scale(.92,1) rotate(-90)" font-size="10.6" text-anchor="middle" fill="#1a1a1a" stroke="#1a1a1a">umap_2</text><text x="125.8" y="434.6" font-size="7.7" text-anchor="start" fill="#333" textLength="14.3" lengthAdjust="spacingAndGlyphs" stroke="#333">rods</text><text x="233.8" y="474.6" font-size="7.7" text-anchor="start" fill="#333" textLength="14.3" lengthAdjust="spacingAndGlyphs" stroke="#333">RPE</text><text x="301.8" y="457.8" font-size="7.7" text-anchor="start" fill="#333" textLength="80" lengthAdjust="spacingAndGlyphs" stroke="#333">astrocytes + Müller cells</text><text x="105" y="541.5999999999999" font-size="7.7" text-anchor="start" fill="#333" textLength="20" lengthAdjust="spacingAndGlyphs" stroke="#333">cones</text><text x="243.8" y="551.5999999999999" font-size="7.7" text-anchor="start" fill="#333" textLength="49.3" lengthAdjust="spacingAndGlyphs" stroke="#333">horizontal cells</text><text x="280.5" y="574.0999999999999" font-size="7.7" text-anchor="start" fill="#333" textLength="47.5" lengthAdjust="spacingAndGlyphs" stroke="#333">amacrine cells</text><text x="187" y="614.0999999999999" font-size="7.7" text-anchor="start" fill="#333" textLength="39.3" lengthAdjust="spacingAndGlyphs" stroke="#333">bipolar cells</text><text x="477.9" y="476.6" font-size="9.4" text-anchor="start" fill="#4d4d4d" textLength="50.8" lengthAdjust="spacingAndGlyphs" stroke="#4d4d4d">amacrine cells</text><text x="477.9" y="488.6" font-size="9.4" text-anchor="start" fill="#4d4d4d" textLength="41.8" lengthAdjust="spacingAndGlyphs" stroke="#4d4d4d">bipolar cells</text><text x="477.9" y="500.6" font-size="9.4" text-anchor="start" fill="#4d4d4d" textLength="20.8" lengthAdjust="spacingAndGlyphs" stroke="#4d4d4d">cones</text><text x="477.9" y="512.7" font-size="9.4" text-anchor="start" fill="#4d4d4d" textLength="52.1" lengthAdjust="spacingAndGlyphs" stroke="#4d4d4d">horizontal cells</text><text x="477.9" y="524.7" font-size="9.4" text-anchor="start" fill="#4d4d4d" textLength="85.5" lengthAdjust="spacingAndGlyphs" stroke="#4d4d4d">astrocytes + Müller cells</text><text x="477.9" y="536.7" font-size="9.4" text-anchor="start" fill="#4d4d4d" textLength="14.9" lengthAdjust="spacingAndGlyphs" stroke="#4d4d4d">RPE</text><text x="477.9" y="548.7" font-size="9.4" text-anchor="start" fill="#4d4d4d" textLength="14.9" lengthAdjust="spacingAndGlyphs" stroke="#4d4d4d">rods</text></g></svg></body></html>
